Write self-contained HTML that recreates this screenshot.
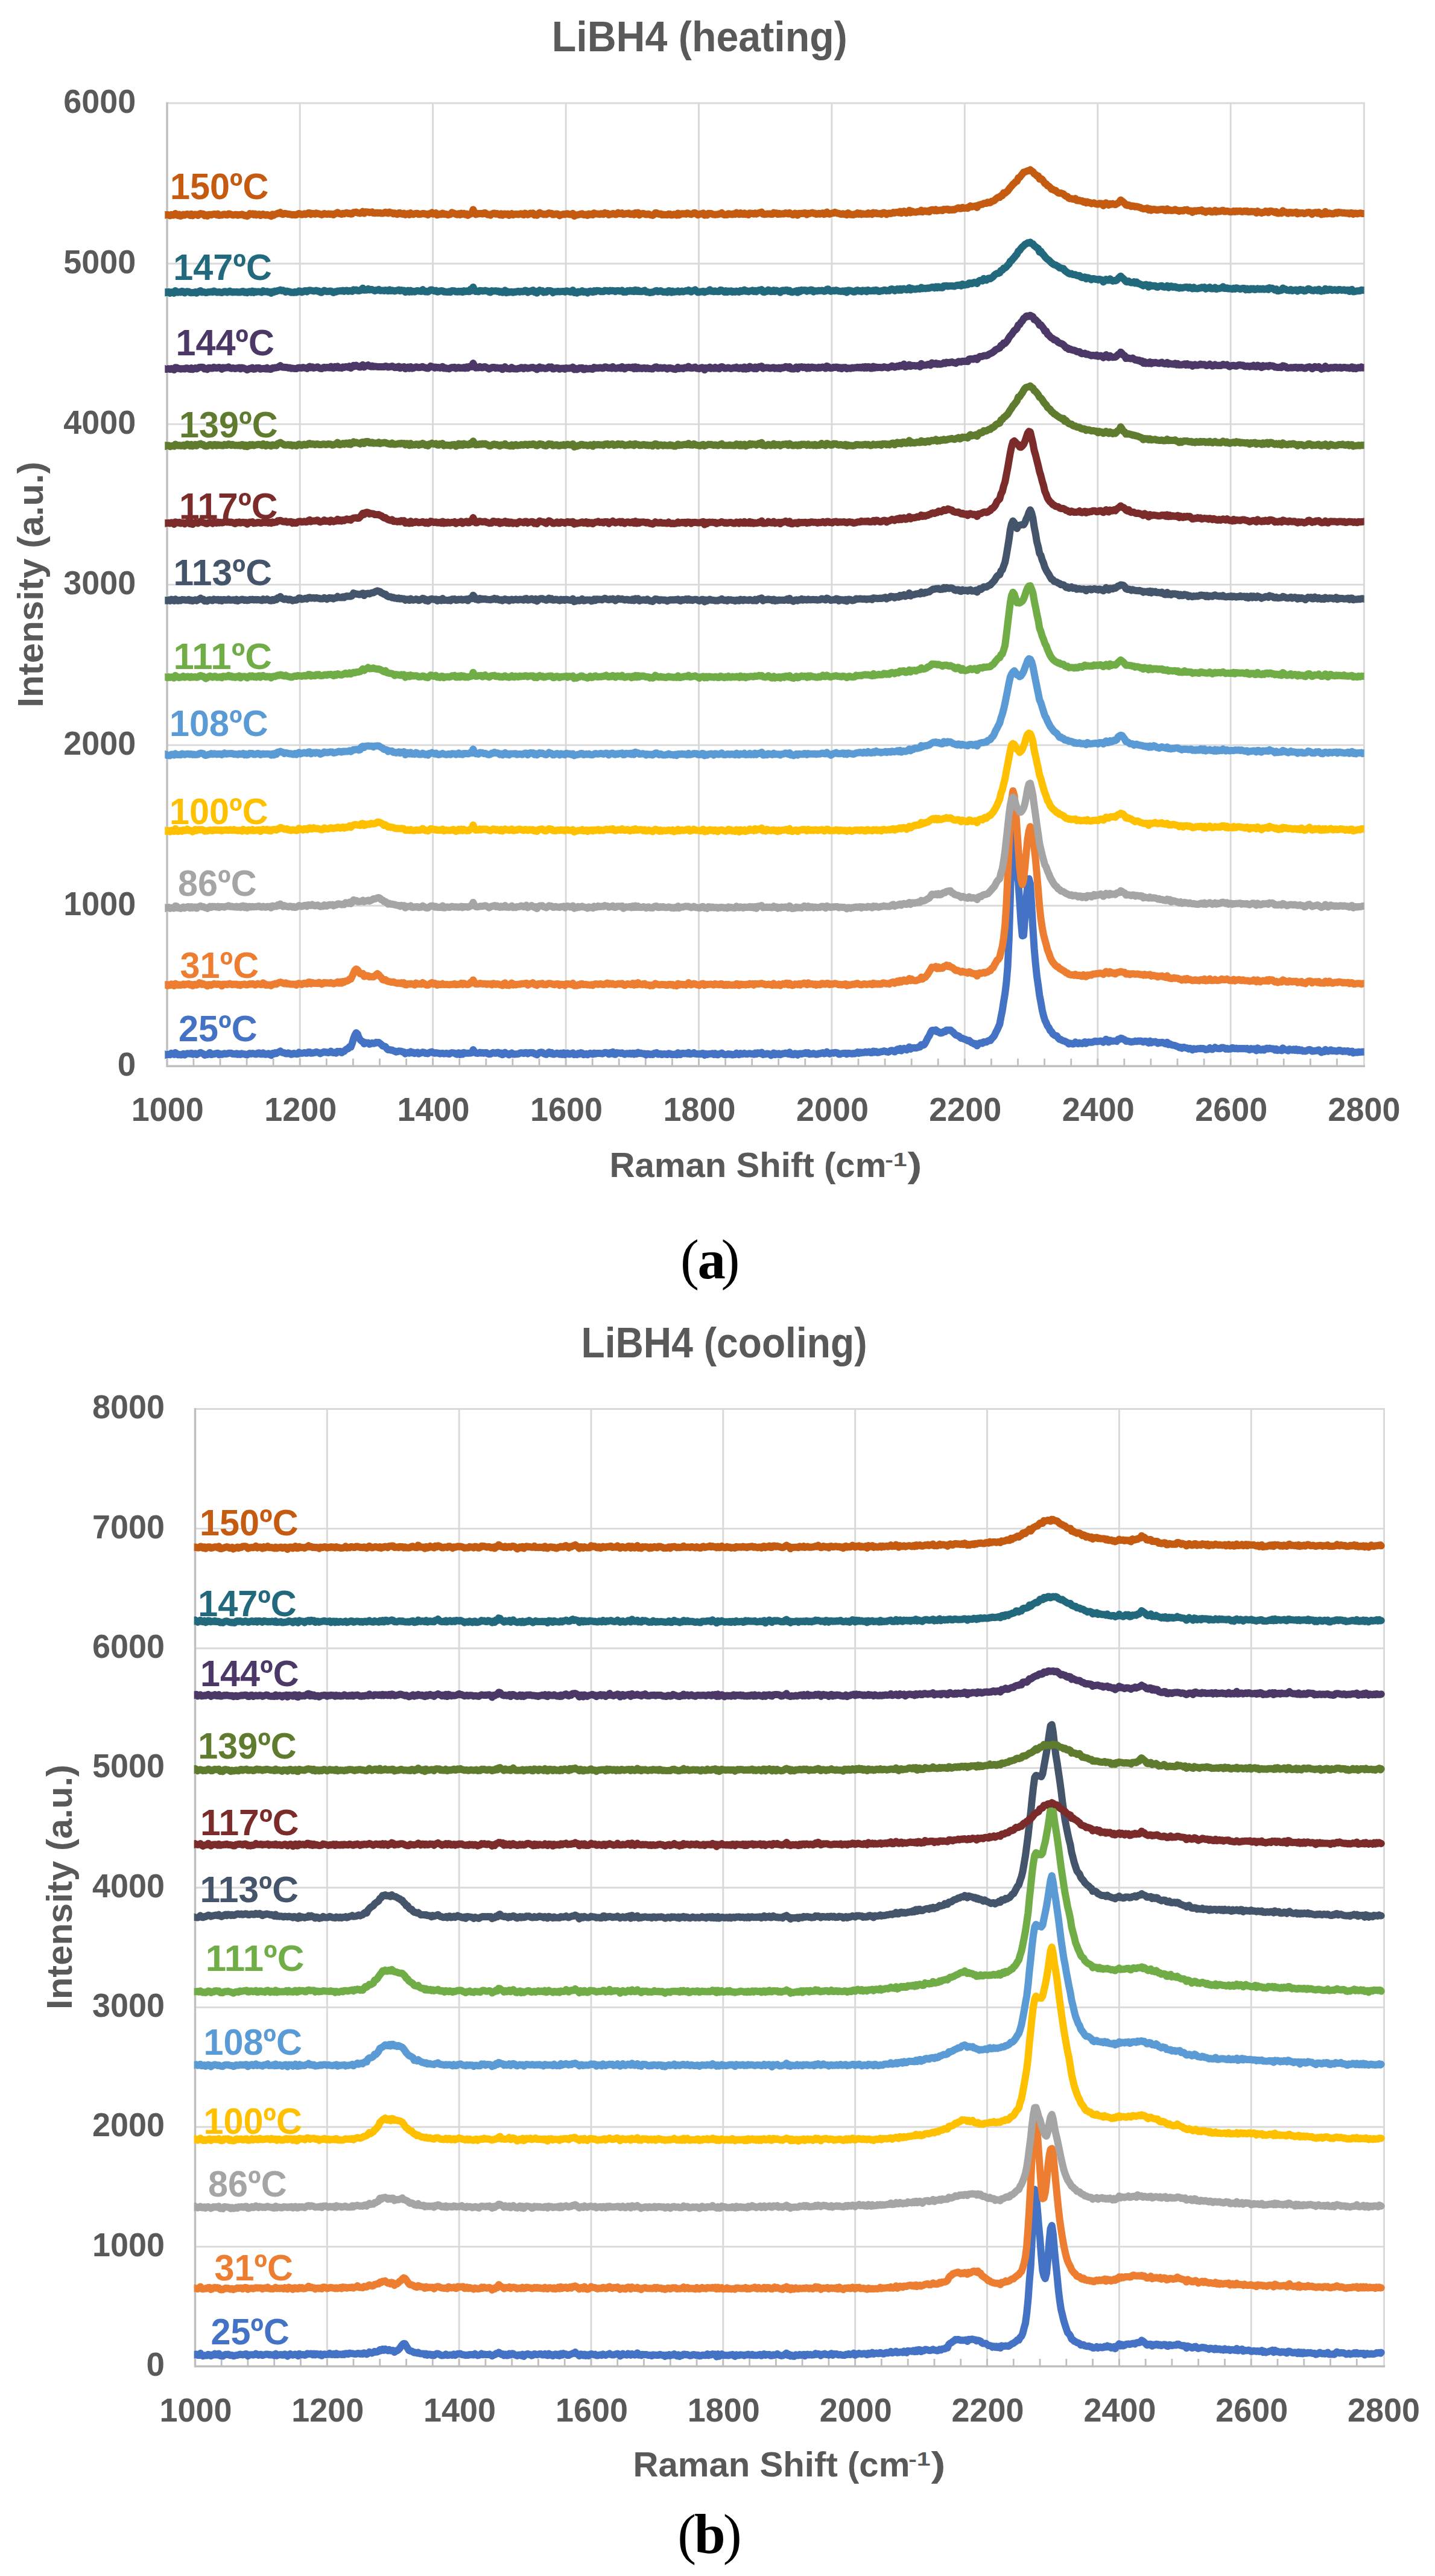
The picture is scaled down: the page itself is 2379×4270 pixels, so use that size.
<!DOCTYPE html>
<html><head><meta charset="utf-8"><title>LiBH4 Raman</title>
<style>html,body{margin:0;padding:0;background:#fff}svg{display:block}text{font-family:'Liberation Sans',sans-serif;font-weight:bold}.ser{font-family:"Liberation Serif",serif;font-weight:normal}</style></head><body>
<svg width="2379" height="4270" viewBox="0 0 2379 4270">
<rect width="2379" height="4270" fill="#fff"/>
<defs><clipPath id="ca"><rect x="273.3" y="100" width="1988.3" height="1700"/></clipPath><clipPath id="cb"><rect x="321.7" y="2300" width="2000" height="1650"/></clipPath></defs>
<g id="chartA">
<g stroke="#D9D9D9" stroke-width="2.9" fill="none">
<path d="M497.2 171.0V1767.2"/>
<path d="M717.6 171.0V1767.2"/>
<path d="M938.1 171.0V1767.2"/>
<path d="M1158.5 171.0V1767.2"/>
<path d="M1378.9 171.0V1767.2"/>
<path d="M1599.3 171.0V1767.2"/>
<path d="M1819.8 171.0V1767.2"/>
<path d="M2040.2 171.0V1767.2"/>
<path d="M2261.4 171.0V1767.2"/>
<path d="M277.0 1501.2H2261.4"/>
<path d="M277.0 1235.1H2261.4"/>
<path d="M277.0 969.1H2261.4"/>
<path d="M277.0 703.1H2261.4"/>
<path d="M277.0 437.0H2261.4"/>
<path d="M277.0 171.0H2263.0"/>
</g>
<g stroke="#BFBFBF" stroke-width="3.4" fill="none">
<path d="M277.0 169.4V1767.2H2263.0"/>
<path stroke-width="2.8" d="M320.9 1767.2v-12.5M365.0 1767.2v-12.5M409.1 1767.2v-12.5M453.1 1767.2v-12.5M497.2 1767.2v-12.5M541.3 1767.2v-12.5M585.4 1767.2v-12.5M629.5 1767.2v-12.5M673.6 1767.2v-12.5M717.6 1767.2v-12.5M761.7 1767.2v-12.5M805.8 1767.2v-12.5M849.9 1767.2v-12.5M894.0 1767.2v-12.5M938.1 1767.2v-12.5M982.2 1767.2v-12.5M1026.2 1767.2v-12.5M1070.3 1767.2v-12.5M1114.4 1767.2v-12.5M1158.5 1767.2v-12.5M1202.6 1767.2v-12.5M1246.7 1767.2v-12.5M1290.7 1767.2v-12.5M1334.8 1767.2v-12.5M1378.9 1767.2v-12.5M1423.0 1767.2v-12.5M1467.1 1767.2v-12.5M1511.2 1767.2v-12.5M1555.2 1767.2v-12.5M1599.3 1767.2v-12.5M1643.4 1767.2v-12.5M1687.5 1767.2v-12.5M1731.6 1767.2v-12.5M1775.7 1767.2v-12.5M1819.8 1767.2v-12.5M1863.8 1767.2v-12.5M1907.9 1767.2v-12.5M1952.0 1767.2v-12.5M1996.1 1767.2v-12.5M2040.2 1767.2v-12.5M2084.3 1767.2v-12.5M2128.3 1767.2v-12.5M2172.4 1767.2v-12.5M2216.5 1767.2v-12.5"/>
</g>
<g fill="none" stroke-width="12" stroke-linejoin="round" stroke-linecap="butt" clip-path="url(#ca)">
<path stroke="#4472C4" d="M268.6 1748.9l2.2-2.5 2.3 2.7 2.2-.7 2.2-.4 2.2-.3 2.2 .7 2.2-2.5 2.2 1 2.2 1 2.2-2.9 2.2 1.5 2.2 1.9 2.2-.5 2.2 .6 2.2 0 2.2-1.6 2.2 1.8 2.2-1.4 2.2-1 2.2 .3 2.2 .1 2.2-.9 2.2 1.8 2.2-.9 2.2-.4 2.3 1.7 2.2-1.3 2.2-.9 2.2-1 2.2 1.1 2.2 1 2.2 2 2.2-.5 2.2-.4 2.2-1.2 2.2-1.9 2.2 3.1 2.2-.4 2.2-.4 2.2-.5 2.2-.5 2.2-.5 2.2 2.5 2.2-1.1 2.2 .7 2.2-.8 2.2-.7 2.2 .6 2.3-.2 2.2-.9 2.2 0 2.2 0 2.2 1.2 2.2 .1 2.2 .2 2.2-1.1 2.2 1.6 2.2-.8 2.2 .9 2.2-1.5 2.2 .7 2.2 .1 2.2 .8 2.2 .4 2.2-1.4 2.2-1 2.2 .9 2.2-.9 2.2 .7 2.2 .5 2.2 .3 2.2-1.9 2.3-.4 2.2 2 2.2 .2 2.2-2.1 2.2 2 2.2 .5 2.2-.8 2.2-.6 2.2 1.7 2.2 1.1 2.2-3.1 2.2 .8 2.2-1.9 2.2 1.2 2.2-1.6 2.2-1 2.2-1.2 2.2 1.7 2.2 .9 2.2 .3 2.2 1.2 2.2 .1 2.2-1.3 2.2 .8 2.3 1.7 2.2-.4 2.2-1.4 2.2 .4 2.2 .9 2.2-.2 2.2-2.6 2.2 1.1 2.2 .3 2.2-.3 2.2-.7 2.2 .8 2.2 0 2.2-1.7 2.2 0 2.2 1.8 2.2-.2 2.2-.5 2.2-.3 2.2-1.1 2.2 .8 2.2 .5 2.2 1.4 2.3-1.1 2.2-1 2.2-.8 2.2 .9 2.2-.2 2.2 .8 2.2-.6 2.2-1.8 2.2 2.1 2.2 .4 2.2-.8 2.2 1.4 2.2-2.9 2.2 .4 2.2-.4 2.2 2.3 2.2-1.9 2.2-.5 2.2-2.4 2.2-1.4 2.2-.6 2.2-3.2 2.2 .4 2.2-5.6 2.3-8.2 2.2-5.8 2.2-4 2.2 2 2.2 5.9 2.2 3.6 2.2 2.2 2.2 .9 2.2 3.7 2.2-1.8 2.2 .6 2.2-.4 2.2 2.3 2.2-.7 2.2-1.3 2.2 .8 2.2-.3 2.2-1.6 2.2 .5 2.2-.3 2.2 1.8 2.2 1.7 2.2 2.2 2.2 .6 2.3 .7 2.2 3.1 2.2 2 2.2-.2 2.2 .9 2.2-.2 2.2 1.2 2.2 .5 2.2 1.4 2.2-.5 2.2-1 2.2 .2 2.2 .3 2.2 .9 2.2 .3 2.2 2.8 2.2-1.6 2.2-.4 2.2 .9 2.2-2.3 2.2 1.9 2.2-.6 2.2 1.6 2.3-1.1 2.2-.7 2.2 2.2 2.2-.9 2.2-.6 2.2-1 2.2 .5 2.2 1.4 2.2-.2 2.2 .6 2.2-1.5 2.2-.9 2.2-.4 2.2 1.6 2.2 .6 2.2-.7 2.2 .4 2.2 .3 2.2 .9 2.2-.5 2.2-.4 2.2 .9 2.2-.4 2.2-.5 2.3 .8 2.2 .4 2.2-1.3 2.2-.6 2.2 .3 2.2 .3 2.2 1.3 2.2 .7 2.2-2.4 2.2 2.8 2.2-2.2 2.2 1.7 2.2-2.7 2.2 .9 2.2 0 2.2 0 2.2-.1 2.2-.1 2.2-.5 2.2-5 2.2 3.3 2.2 2.1 2.2 .4 2.2-.2 2.3-1.2 2.2 1.1 2.2-.6 2.2 .7 2.2-.7 2.2 0 2.2 1.6 2.2 .7 2.2-.2 2.2-1.4 2.2-.9 2.2 .9 2.2 .1 2.2-1.1 2.2-.1 2.2 2 2.2-.9 2.2 2.6 2.2-2.6 2.2-1.1 2.2 2.1 2.2 0 2.2 1.7 2.3-1.5 2.2-1.4 2.2 2 2.2 .1 2.2-.3 2.2 0 2.2-.4 2.2-1.2 2.2-.5 2.2 .2 2.2 .8 2.2-1.3 2.2 0 2.2 1.7 2.2-1.4 2.2-.3 2.2 .3 2.2-.3 2.2 1.6 2.2 .8 2.2 1.1 2.2-1.9 2.2-1.7 2.2-.6 2.3 .2 2.2 2 2.2 .8 2.2 .7 2.2-2 2.2-2 2.2 2.4 2.2-1.3 2.2 2.6 2.2-.2 2.2-.7 2.2-1.1 2.2 .9 2.2 1 2.2-1.8 2.2 2.3 2.2-2.7 2.2 2.9 2.2-1.7 2.2-.9 2.2 1.9 2.2-.3 2.2-1.1 2.2-.7 2.3 2.8 2.2-.8 2.2 .8 2.2-2.2 2.2 1 2.2-2 2.2 .9 2.2 2.3 2.2-.5 2.2-.9 2.2 1.5 2.2-1.3 2.2-1.1 2.2 .9 2.2 .7 2.2-1.9 2.2 1.2 2.2-.7 2.2-.2 2.2 .2 2.2 .2 2.2 .4 2.2-.7 2.3-1.2 2.2 .2 2.2 .6 2.2 1.9 2.2-2.5 2.2 1.6 2.2-2.8 2.2 3.5 2.2 .5 2.2-2.7 2.2 .4 2.2-.1 2.2 .8 2.2-.9 2.2 1.4 2.2 .9 2.2-1.1 2.2-.3 2.2 .6 2.2-1 2.2 1.3 2.2-1.2 2.2 1.7 2.2-1.7 2.3 1 2.2-2.3 2.2 1.5 2.2-.5 2.2 .6 2.2 .7 2.2-.4 2.2 2 2.2-1.8 2.2 .2 2.2 1 2.2-.4 2.2 .5 2.2-1.8 2.2-.5 2.2-.7 2.2 2.6 2.2-.3 2.2-.6 2.2 1.3 2.2-.7 2.2-.2 2.2 .5 2.2 .4 2.3-1.8 2.2 .4 2.2 1.3 2.2-.2 2.2 .2 2.2-.5 2.2 1.1 2.2-3.3 2.2 2.6 2.2 .2 2.2-2.1 2.2 0 2.2 .6 2.2-.5 2.2 .7 2.2-1.9 2.2 2.5 2.2-.5 2.2-.4 2.2-1.3 2.2 1.7 2.2 .1 2.2 .3 2.3-.1 2.2 .2 2.2-1.1 2.2-.2 2.2 3.1 2.2-2.2 2.2 1.1 2.2-1 2.2-.1 2.2-.3 2.2-.3 2.2 1.6 2.2-1.8 2.2 1.8 2.2 .6 2.2-1.4 2.2-.4 2.2-1.1 2.2 1.4 2.2 1 2.2 .3 2.2-.6 2.2-.7 2.2 .7 2.3-.1 2.2 1 2.2-.6 2.2-.1 2.2-2.2 2.2 1.5 2.2 1 2.2-2.1 2.2 1.2 2.2-.3 2.2-1.1 2.2 1.2 2.2 .2 2.2-.7 2.2-.4 2.2 .7 2.2 0 2.2 .8 2.2-2 2.2 1.4 2.2-1.9 2.2 .4 2.2 .8 2.2-2 2.3 3.7 2.2-.7 2.2-.2 2.2-.7 2.2 .2 2.2 .9 2.2 1.7 2.2-1.3 2.2-2.5 2.2 2.7 2.2-1.7 2.2 1.2 2.2-1.4 2.2 1.9 2.2-.9 2.2-.8 2.2-.2 2.2-.8 2.2 .9 2.2 .7 2.2-2.8 2.2 3.5 2.2 .2 2.2 .3 2.3-2 2.2 .6 2.2 1.8 2.2-2 2.2-.3 2.2 .6 2.2-.6 2.2-.4 2.2-1 2.2 1.3 2.2-1.2 2.2 2.4 2.2-.5 2.2-.1 2.2-.9 2.2 1.1 2.2 .7 2.2-.3 2.2-1.3 2.2 .4 2.2-1 2.2-.5 2.2 1.5 2.3-.7 2.2-2.3 2.2 1.8 2.2 1.5 2.2-1 2.2-.6 2.2 .4 2.2-1 2.2 .1 2.2 .5 2.2 2.1 2.2 0 2.2-1 2.2-.3 2.2-.1 2.2-.3 2.2 1.6 2.2-1.5 2.2 .2 2.2 .4 2.2 .4 2.2-.8 2.2 .6 2.2-1 2.3-1.4 2.2 1.6 2.2-1.6 2.2 1 2.2-.5 2.2 0 2.2-1.2 2.2 1.1 2.2-.8 2.2-.3 2.2 1.4 2.2 .1 2.2-2.5 2.2 1.8 2.2-1.2 2.2 1.7 2.2-.3 2.2-.7 2.2-.6 2.2-.2 2.2-.9 2.2 .6 2.2 .8 2.2 .5 2.3-.8 2.2-1.8 2.2-.2 2.2 .8 2.2 1.6 2.2-2.7 2.2-1.5 2.2 1.7 2.2-3 2.2 3.6 2.2-3.1 2.2-.7 2.2 1.5 2.2 1 2.2-3 2.2-1.9 2.2 3.4 2.2-1.8 2.2-.2 2.2-.1 2.2 .4 2.2-.5 2.2-1.2 2.3 0 2.2-3.8 2.2 1 2.2-.5 2.2-3.2 2.2-4.2 2.2-4.7 2.2-3.1 2.2-5.1 2.2-3.9 2.2-.2 2.2 1.1 2.2-1.7 2.2 3.1 2.2-.2 2.2 2.1 2.2 .2 2.2-.7 2.2-2 2.2 .4 2.2-2.7 2.2 .3 2.2-.2 2.2 0 2.3 1.9 2.2 1.7 2.2 2.4 2.2 2.1 2.2 .8 2.2 .7 2.2 1.9 2.2 1.9 2.2 .1 2.2 1.1 2.2 .8 2.2 .9 2.2 1.4 2.2-.7 2.2 2.3 2.2 1.6 2.2 .8 2.2 1.4 2.2-.6 2.2 3.4 2.2-2.9 2.2-1.3 2.2-.5 2.2 .8 2.3-2.5 2.2 .5 2.2-.2 2.2-1.8 2.2-.6 2.2-.1 2.2-3.2 2.2-2.1 2.2-2.9 2.2-4.9 2.2-4 2.2-4.9 2.2-5 2.2-12 2.2-10.6 2.2-14.6 2.2-13.2 2.2-17.8 2.2-25.5 2.2-45.9 2.2-70.6 2.2-85.4 2.2-49.1 2.3 25.4 2.2 38.3 2.2 28.5 2.2 17.3 2.2 31.8 2.2 33.1 2.2 23.7 2.2-.7 2.2-28.4 2.2-31.8 2.2-22.4 2.2-11.2 2.2 8.1 2.2 34.8 2.2 38.8 2.2 34.1 2.2 25.1 2.2 20.7 2.2 15.1 2.2 16.7 2.2 11.4 2.2 12.6 2.2 9.4 2.2 7.4 2.3 4.8 2.2 5.1 2.2 2.7 2.2 4.8 2.2 1.8 2.2 3.8 2.2 1.8 2.2 1 2.2 .5 2.2 3.4 2.2 2.2 2.2 .2 2.2 1.6 2.2 .7 2.2 .5 2.2 1.3 2.2 1.1 2.2 2.1 2.2-1.1 2.2 .7 2.2 .7 2.2-.6 2.2-2.5 2.2 1.4 2.3 1.2 2.2-1.5 2.2 1 2.2 .3 2.2-1.4 2.2-1.3 2.2 2.5 2.2-1.8 2.2-.6 2.2 .4 2.2 .1 2.2-.5 2.2-.8 2.2-.8 2.2 .8 2.2-.2 2.2-.4 2.2-.4 2.2 .5 2.2 1.7 2.2-2.3 2.2-2.7 2.2 1.5 2.3 3.3 2.2-2.9 2.2 1.1 2.2 0 2.2-.1 2.2-.2 2.2 .7 2.2-3.3 2.2 .3 2.2-2.2 2.2 .4 2.2 1.4 2.2 .7 2.2 2.5 2.2-.5 2.2 .7 2.2 .5 2.2 .6 2.2-.4 2.2-.2 2.2-1 2.2 .7 2.2-.7 2.2 .1 2.3-.3 2.2 .8 2.2 1.1 2.2-1.4 2.2 .1 2.2 1.3 2.2 1.6 2.2-3.4 2.2 3 2.2-1.5 2.2 .3 2.2-.7 2.2 1.2 2.2 1.6 2.2-1.4 2.2 .5 2.2-.7 2.2 .3 2.2 1.5 2.2 .6 2.2-2.5 2.2 3.8 2.2-1.1 2.2 1.4 2.3 .6 2.2 .2 2.2 .7 2.2 .9 2.2 .7 2.2 1.5 2.2-.5 2.2 1.7 2.2-1.5 2.2 0 2.2 1 2.2 .2 2.2 1.4 2.2-1 2.2 .7 2.2 2 2.2-2 2.2 .6 2.2-.1 2.2-.7 2.2 .1 2.2-.5 2.2 .5 2.3-.3 2.2 .7 2.2 1.3 2.2-.4 2.2-.5 2.2-2.1 2.2 1.7 2.2 .8 2.2-1.6 2.2-1.7 2.2 1.3 2.2 .6 2.2 .2 2.2 0 2.2-1.9 2.2 0 2.2 .7 2.2 1.8 2.2-1.1 2.2 1.3 2.2-.6 2.2 .2 2.2-1.9 2.2 .6 2.3 .9 2.2-.7 2.2 1 2.2-.6 2.2 .2 2.2-.2 2.2 .3 2.2-.4 2.2 .7 2.2-.7 2.2 1.6 2.2 .6 2.2-1.9 2.2 1.1 2.2-.7 2.2-.1 2.2 3.1 2.2-4.3 2.2 1.5 2.2 1.6 2.2 0 2.2-1.3 2.2 1.5 2.2-2 2.3-1 2.2 1.1 2.2-1.1 2.2 .6 2.2 .3 2.2 0 2.2 2 2.2-1.7 2.2 2.3 2.2-.7 2.2 .1 2.2 .8 2.2-4.1 2.2 2.2 2.2 .8 2.2 .5 2.2 .9 2.2-2.6 2.2 .8 2.2 .9 2.2-1.4 2.2 1.6 2.2-1.7 2.3 2.1 2.2-1.5 2.2 1.6 2.2-.8 2.2 1.8 2.2-.3 2.2 .4 2.2-.9 2.2-1.3 2.2-.6 2.2 .9 2.2 2 2.2-.3 2.2-.5 2.2 0 2.2-.8 2.2-.6 2.2 2.4 2.2 1.6 2.2-1.6 2.2 .5 2.2-3.5 2.2 2.4 2.2 .5 2.3-1.3 2.2-1.1 2.2 1.7 2.2-.4 2.2 .4 2.2 .4 2.2 0 2.2-1.3 2.2-.1 2.2 1.2 2.2 .7 2.2-1 2.2 .8 2.2-.4 2.2-.4 2.2 2 2.2-.9 2.2-.5 2.2 2.9 2.2-1 2.2-.1 2.2 .4 2.2-1.1 2.2 .5 2.3-.3 2.2-.3 4.4 .5"/>
<path stroke="#ED7D31" d="M268.6 1634.6l2.2-2.6 2.3 .9 2.2-.8 2.2 1.7 2.2-1.6 2.2 .9 2.2-1.8 2.2 1.3 2.2 1.5 2.2-3.6 2.2 1.3 2.2 1.1 2.2-.6 2.2 .6 2.2-.5 2.2-1.2 2.2 1.5 2.2-1.1 2.2 0 2.2-.8 2.2 1.8 2.2-.7 2.2 2.2 2.2-1.9 2.2-.5 2.3 1 2.2-1.1 2.2-2.5 2.2 .5 2.2 2.2 2.2-.9 2.2 1.3 2.2 .1 2.2 2.1 2.2-2.2 2.2-.3 2.2 1.2 2.2-1 2.2-1.3 2.2 .3 2.2 .7 2.2-.5 2.2 .3 2.2 .1 2.2 2.6 2.2-2.8 2.2 .1 2.2 .1 2.3 .5 2.2-1.1 2.2-.6 2.2 1.2 2.2 .6 2.2-.9 2.2 .3 2.2-.1 2.2 1.2 2.2-.7 2.2 1.3 2.2-1.5 2.2-.2 2.2-.4 2.2 1 2.2 .3 2.2-.7 2.2-1.1 2.2 .6 2.2-.7 2.2 .8 2.2 1.2 2.2-1 2.2-1.2 2.3 .5 2.2 .9 2.2 .1 2.2-2.6 2.2 1.3 2.2 2.2 2.2-.6 2.2 .5 2.2-.3 2.2 1.4 2.2-2.1 2.2 0 2.2-1.2 2.2 .9 2.2-1.6 2.2-1.1 2.2-.7 2.2 .6 2.2 1 2.2 .8 2.2-1.2 2.2 1.6 2.2-.4 2.2 .6 2.3 .4 2.2 .1 2.2 0 2.2-.1 2.2 1.3 2.2-2.2 2.2-.7 2.2 1 2.2 1.1 2.2-1.7 2.2-.5 2.2 .8 2.2 .3 2.2-2.7 2.2-.3 2.2 2.9 2.2-2 2.2 1 2.2 .3 2.2-.4 2.2 .5 2.2-1.7 2.2 .8 2.3 2.1 2.2-1.1 2.2-1.5 2.2 .7 2.2-.3 2.2 .2 2.2 .4 2.2-1 2.2 1.1 2.2 .9 2.2-1.2 2.2 0 2.2-2 2.2 2 2.2-1.8 2.2 2 2.2-2.7 2.2 1 2.2-1.8 2.2-.2 2.2-.9 2.2-2.2 2.2-.1 2.2-4.5 2.3-5.2 2.2-4.9 2.2-1.9 2.2 1.1 2.2 3.4 2.2 3.1 2.2 .3 2.2-.4 2.2 4.6 2.2-1.7 2.2 1 2.2-.3 2.2 1.8 2.2-.5 2.2 .4 2.2 0 2.2-1.5 2.2-1.8 2.2-1.9 2.2 1.9 2.2 2.7 2.2 1.9 2.2 3.3 2.2 .8 2.3-.6 2.2 1.9 2.2 .9 2.2 .3 2.2 .7 2.2 .3 2.2-.5 2.2 1.1 2.2 .7 2.2 .5 2.2-.5 2.2 .7 2.2-1 2.2 1.6 2.2-1.6 2.2 3.2 2.2 .1 2.2-1.3 2.2 .1 2.2-.5 2.2 .3 2.2 .6 2.2 1.2 2.3-3.3 2.2 1.5 2.2 0 2.2 .1 2.2 .3 2.2-2.4 2.2 1.1 2.2 1.7 2.2 1 2.2 0 2.2-1 2.2-1.9 2.2-1 2.2 2.5 2.2-1.5 2.2 .8 2.2 2.1 2.2-1.5 2.2 .6 2.2 .2 2.2-1.5 2.2 1.5 2.2 0 2.2-.4 2.3 .4 2.2 .3 2.2-.4 2.2-.2 2.2-.1 2.2-1 2.2 1.5 2.2-.3 2.2-.2 2.2-.2 2.2-1.6 2.2 1.9 2.2-1.8 2.2 1 2.2 .8 2.2 .2 2.2-.6 2.2-2.8 2.2 .5 2.2-4.7 2.2 4.3 2.2 2.3 2.2-.1 2.2 0 2.3-1 2.2 .6 2.2 .4 2.2-.2 2.2 .1 2.2 .9 2.2-.7 2.2 .3 2.2-.2 2.2 1.3 2.2-2.2 2.2 .5 2.2 1.1 2.2-.8 2.2 .3 2.2 .8 2.2 .5 2.2 .9 2.2-3 2.2-1 2.2 3.4 2.2-.6 2.2 1.1 2.3-2.1 2.2-1.8 2.2 3.2 2.2-1.2 2.2 .9 2.2-.6 2.2-.2 2.2 0 2.2-.9 2.2 .1 2.2-.2 2.2-.4 2.2-.4 2.2 3 2.2-1.3 2.2-.9 2.2 0 2.2-1.5 2.2 2.6 2.2 .7 2.2 .9 2.2-2.4 2.2-.2 2.2 .3 2.3-1 2.2 2.1 2.2-.2 2.2 .4 2.2-1.7 2.2-.4 2.2 0 2.2 .7 2.2 .8 2.2 .5 2.2-1 2.2-.2 2.2 .1 2.2 2.2 2.2-1.7 2.2 .2 2.2 .2 2.2 1.5 2.2-2.4 2.2-.1 2.2 .2 2.2 .2 2.2 .5 2.2-2.1 2.3 4 2.2-.3 2.2 .3 2.2-1.6 2.2 .6 2.2-1.8 2.2-.3 2.2 1.4 2.2 0 2.2-.3 2.2 .8 2.2 0 2.2 .3 2.2-.7 2.2 1.1 2.2-1.7 2.2-.7 2.2 .2 2.2 .7 2.2-.7 2.2-.2 2.2 .9 2.2 .3 2.3-.6 2.2-1.2 2.2-.8 2.2 2 2.2-1.2 2.2 .9 2.2-.7 2.2 1.1 2.2 .5 2.2-.6 2.2-.7 2.2-.1 2.2 .3 2.2-.6 2.2 1.8 2.2 1 2.2-1 2.2-1.3 2.2 .5 2.2 .3 2.2 .3 2.2-1.9 2.2 2.8 2.2-2.7 2.3 2 2.2-3.3 2.2 2.7 2.2-.2 2.2 .9 2.2-1.3 2.2-.4 2.2 2.1 2.2-.3 2.2 .2 2.2 1.4 2.2-.9 2.2 .6 2.2-1.5 2.2-1.9 2.2 1.2 2.2 .4 2.2 .7 2.2-.3 2.2-.5 2.2 .4 2.2-.2 2.2 1 2.2 .1 2.3-1.4 2.2 0 2.2 .8 2.2-.5 2.2 1.7 2.2-.8 2.2 1.3 2.2-3.7 2.2 2 2.2-.9 2.2 .2 2.2 .6 2.2-.5 2.2 1 2.2-1.3 2.2-2.5 2.2 2.3 2.2 1.2 2.2-1.2 2.2-.9 2.2 .6 2.2 1.1 2.2 .3 2.3 .9 2.2-1.4 2.2-1.2 2.2-.3 2.2 2.6 2.2-1.4 2.2 .3 2.2-.2 2.2-.2 2.2-.1 2.2 .5 2.2 .7 2.2-1.8 2.2 .9 2.2 0 2.2 .5 2.2-1.3 2.2 0 2.2 1.8 2.2 .4 2.2-1.4 2.2 1.4 2.2-1.4 2.2 .7 2.3 .3 2.2 .1 2.2-.5 2.2 .6 2.2-2.2 2.2 .2 2.2 2.6 2.2-2.2 2.2 .3 2.2 .6 2.2-.4 2.2 .9 2.2-1.4 2.2 .7 2.2-1.6 2.2 1.1 2.2-.7 2.2 1.8 2.2-2 2.2 .2 2.2 0 2.2 .2 2.2-.7 2.2-.3 2.3 1 2.2 .2 2.2 1.1 2.2-.4 2.2-.5 2.2 .4 2.2 .6 2.2 .6 2.2-2.9 2.2 2.6 2.2-.1 2.2 0 2.2-1.3 2.2 2.1 2.2-1.3 2.2-1.3 2.2 .8 2.2-1.7 2.2-.2 2.2 2.7 2.2-2.5 2.2 2.5 2.2 .9 2.2-.5 2.3-1.7 2.2 .2 2.2 .8 2.2-1.3 2.2 1.7 2.2-1.9 2.2 .1 2.2-1.3 2.2 1.2 2.2 1.3 2.2-2.8 2.2 2.1 2.2-.2 2.2-.2 2.2 1.2 2.2-.7 2.2 1.6 2.2-1.4 2.2 .4 2.2 .4 2.2-2.2 2.2 0 2.2 1.1 2.3 .2 2.2-1.6 2.2 .1 2.2 1.9 2.2-.9 2.2 .6 2.2-.7 2.2-.7 2.2 .5 2.2 .6 2.2 1 2.2-.6 2.2 .8 2.2-.3 2.2-.5 2.2-.7 2.2 2.7 2.2-1.7 2.2 1 2.2-.5 2.2-.7 2.2-.4 2.2 .3 2.2-1.1 2.3-.6 2.2 1.4 2.2 .7 2.2 .3 2.2-.8 2.2-.7 2.2 .4 2.2 .7 2.2-.5 2.2-.5 2.2 .1 2.2 1.1 2.2-2.4 2.2 1.6 2.2-.9 2.2 .9 2.2-.6 2.2 .7 2.2-.2 2.2-1.8 2.2-.2 2.2 .8 2.2 .6 2.2-.4 2.3 .8 2.2-1.9 2.2-.9 2.2-.6 2.2 2.2 2.2-2.1 2.2-1.3 2.2 2 2.2-3.2 2.2 2.2 2.2-1.5 2.2-1.6 2.2 1.9 2.2 .4 2.2-1.2 2.2-3.4 2.2 3.3 2.2-2.1 2.2 1.6 2.2 .6 2.2 .1 2.2-.9 2.2-.7 2.3-.6 2.2-3.7 2.2 3.2 2.2-2.9 2.2 0 2.2-2.7 2.2-2.7 2.2-3.9 2.2-3.3 2.2-4 2.2 .4 2.2-.4 2.2-1.4 2.2 3.6 2.2-2.7 2.2 2.4 2.2-.8 2.2 .5 2.2-3 2.2-.3 2.2-1.7 2.2 1.9 2.2-1.2 2.2 2.1 2.3 .5 2.2 1.6 2.2 2 2.2 1.9 2.2-.6 2.2 1.1 2.2 .9 2.2 1.3 2.2-1.5 2.2 1.2 2.2 0 2.2 1 2.2 .8 2.2-2.2 2.2 1 2.2 1.7 2.2 .1 2.2 1.2 2.2-.8 2.2 3.8 2.2-4 2.2-1.1 2.2 .9 2.2-.7 2.3-1.1 2.2 1.1 2.2-1.5 2.2-.2 2.2-2.2 2.2 0 2.2-3.7 2.2-1 2.2-4.8 2.2-3.5 2.2-4.2 2.2-1.5 2.2-3.4 2.2-9.7 2.2-7.8 2.2-14.9 2.2-19.2 2.2-33.1 2.2-47.6 2.2-51.5 2.2-46.8 2.2-31.3 2.2-14.1 2.3 8 2.2 23.6 2.2 32.3 2.2 31.2 2.2 31.3 2.2 19.9 2.2 8.9 2.2-7.8 2.2-21 2.2-24 2.2-22.1 2.2-13.7 2.2-7.2 2.2 4.9 2.2 10.4 2.2 19.7 2.2 19 2.2 25.8 2.2 26 2.2 27.1 2.2 19.6 2.2 14.9 2.2 11.5 2.2 8.7 2.3 8 2.2 9 2.2 5 2.2 6.9 2.2 4.8 2.2 3.5 2.2 2.7 2.2 2.5 2.2 1.8 2.2 .7 2.2 2.7 2.2 .9 2.2 1.6 2.2 1 2.2 1.5 2.2 2.1 2.2 .3 2.2 2.3 2.2 .4 2.2 .5 2.2-.2 2.2 .9 2.2-1.7 2.2 1.9 2.3-.1 2.2-.4 2.2 1.3 2.2 .5 2.2-2.3 2.2 1.2 2.2 1.7 2.2-2.6 2.2 .6 2.2-1 2.2 .6 2.2-1.6 2.2-.5 2.2 .2 2.2-.8 2.2 .1 2.2-.6 2.2 0 2.2 .6 2.2 1.2 2.2-2.3 2.2-2.3 2.2 1.9 2.3 1.3 2.2-3 2.2 1.4 2.2 1.2 2.2-.6 2.2 1.9 2.2-2.2 2.2-.9 2.2 .2 2.2-1.1 2.2 .5 2.2 .6 2.2 0 2.2 3 2.2-.1 2.2-.5 2.2 1.4 2.2-1.2 2.2 0 2.2 0 2.2 .5 2.2-.2 2.2 0 2.2 .4 2.3 .6 2.2-.2 2.2 1.2 2.2-1.5 2.2 1.3 2.2-.5 2.2 .2 2.2-.8 2.2 2.5 2.2-.8 2.2 0 2.2 .8 2.2-.1 2.2 1.7 2.2-1.1 2.2 0 2.2-.7 2.2 1.3 2.2 .6 2.2 .6 2.2-2.6 2.2 3.6 2.2-.4 2.2 1.4 2.3-.3 2.2-1 2.2 .9 2.2-.4 2.2 .4 2.2 1.2 2.2 .3 2.2 1.4 2.2-.8 2.2-1.1 2.2 1.9 2.2-2.5 2.2 1.8 2.2-.4 2.2 1 2.2 .9 2.2-.4 2.2-.8 2.2 .8 2.2-.2 2.2 .9 2.2-1.6 2.2-.2 2.3 1 2.2-2.2 2.2 3 2.2-.4 2.2-.2 2.2-2.5 2.2 2.6 2.2 .1 2.2-.2 2.2-1.5 2.2 1.4 2.2 .2 2.2-.3 2.2-.5 2.2-1.6 2.2 1.1 2.2-.1 2.2 .3 2.2-1.2 2.2 1.1 2.2 1.3 2.2 0 2.2 .2 2.2-1.9 2.3 2.2 2.2-1.4 2.2 0 2.2-.7 2.2 1.3 2.2 .3 2.2-1 2.2 1.2 2.2 0 2.2 0 2.2 .3 2.2 .8 2.2-.7 2.2 .2 2.2-1.7 2.2 1.5 2.2 1.6 2.2-3 2.2 1.2 2.2 1.8 2.2-1.2 2.2-.7 2.2 .1 2.2 .3 2.3-1.6 2.2 2.2 2.2-2.8 2.2 1 2.2-.6 2.2 2.1 2.2 1.4 2.2-.8 2.2 1.7 2.2-.9 2.2-.6 2.2 .5 2.2-3.3 2.2 1.2 2.2 1 2.2 1.3 2.2-.1 2.2-1.7 2.2 .8 2.2 .7 2.2-.8 2.2 .4 2.2-.6 2.3 2.3 2.2-1.1 2.2 .7 2.2-1.5 2.2 2.6 2.2-.2 2.2 1.1 2.2-2.5 2.2-1.3 2.2-.4 2.2 .5 2.2 2.6 2.2-1.6 2.2-.3 2.2-.1 2.2 1.3 2.2-1.6 2.2 2.4 2.2 .2 2.2-.6 2.2 .6 2.2-3 2.2 1.6 2.2 .9 2.3-2.5 2.2 1.7 2.2 1.4 2.2 0 2.2-1.3 2.2-.1 2.2 .4 2.2-1.1 2.2 .1 2.2 .6 2.2 .9 2.2-.6 2.2 .4 2.2 .1 2.2-.5 2.2 1.8 2.2-1.3 2.2-.2 2.2 2 2.2 .1 2.2-.4 2.2-.3 2.2-.2 2.2 .2 2.3 .9 2.2-.7 4.4-.4"/>
<path stroke="#A5A5A5" d="M268.6 1506.3l2.2-2.6 2.3 2.2 2.2-1.6 2.2 .3 2.2-.6 2.2 1.8 2.2-1 2.2 .3 2.2 .4 2.2-3.8 2.2 .6 2.2 2.9 2.2-.4 2.2 1.2 2.2-1.2 2.2-1.2 2.2 1.7 2.2-1.2 2.2-.8 2.2-.3 2.2 2.2 2.2-2.2 2.2 1.9 2.2-1.1 2.2-.2 2.3 2 2.2-2.1 2.2-.7 2.2-1 2.2 1.3 2.2-.2 2.2 1.4 2.2 .3 2.2 1.2 2.2-1.6 2.2-1.5 2.2 1.3 2.2-1.4 2.2 .5 2.2-.3 2.2 .8 2.2-1.1 2.2 1.7 2.2-1.3 2.2 0 2.2 .3 2.2 .5 2.2-1.1 2.3-.3 2.2-1 2.2 1.5 2.2-.3 2.2 .3 2.2 .5 2.2 .2 2.2-1 2.2 1.3 2.2-.7 2.2 1 2.2-2.2 2.2-.3 2.2 2.6 2.2-2 2.2 2.7 2.2-2.1 2.2-.1 2.2 .8 2.2-.8 2.2 .6 2.2-.2 2.2-.1 2.2-.6 2.3-.4 2.2 1.4 2.2 .3 2.2-1.2 2.2 .8 2.2 .5 2.2-1 2.2 .2 2.2-.3 2.2 2 2.2-3.1 2.2 1.2 2.2-.8 2.2 .4 2.2-2.2 2.2 .9 2.2-2.5 2.2 2 2.2 2 2.2-1.5 2.2 1.1 2.2 .5 2.2 .5 2.2-1 2.3 .2 2.2 1.3 2.2-.9 2.2 1.3 2.2-.6 2.2-1 2.2-1.4 2.2 .6 2.2 .8 2.2-.5 2.2-1.1 2.2-.2 2.2 1.5 2.2-2.2 2.2 .4 2.2 .5 2.2-1.5 2.2 1.5 2.2 .6 2.2-.7 2.2-.5 2.2 1.5 2.2 .9 2.3-.6 2.2 .1 2.2-2 2.2 1.3 2.2 .4 2.2-1.6 2.2-.7 2.2 .7 2.2-.7 2.2 1.8 2.2-1.5 2.2 .2 2.2-1.6 2.2-.2 2.2 .6 2.2 .7 2.2-.9 2.2 .7 2.2-3.1 2.2 .6 2.2 .7 2.2-2 2.2 2.3 2.2-2.7 2.3-3.4 2.2 1.6 2.2-.7 2.2 1.6 2.2 .5 2.2-.6 2.2-.6 2.2-1.2 2.2 2.3 2.2-1.3 2.2-.1 2.2-.9 2.2 1.4 2.2-1.2 2.2-1.1 2.2-1.6 2.2 .4 2.2-.9 2.2-1.1 2.2-.4 2.2 1.1 2.2 2.5 2.2 .5 2.2 2.5 2.3-.1 2.2 2 2.2 2.2 2.2-1 2.2 1.2 2.2-.1 2.2 .5 2.2 .3 2.2 .7 2.2 .6 2.2 .1 2.2 1.5 2.2-1.5 2.2 1.1 2.2-.8 2.2 3.5 2.2-2.2 2.2 .2 2.2-.1 2.2-1.1 2.2 2.5 2.2-.1 2.2-.6 2.3 .1 2.2-.5 2.2 1.4 2.2-.7 2.2 .1 2.2-2.1 2.2 1.3 2.2 1.4 2.2 .8 2.2-.3 2.2-1.6 2.2-1.2 2.2-.4 2.2 .3 2.2 1.8 2.2-1.1 2.2 1.4 2.2 0 2.2-.2 2.2 .4 2.2-2.7 2.2 3.3 2.2-.3 2.2-.9 2.3-.2 2.2 .7 2.2-.6 2.2-1 2.2 .6 2.2 .4 2.2-.2 2.2 .1 2.2 .4 2.2-.3 2.2-1 2.2 1.8 2.2-1.2 2.2 .1 2.2-.1 2.2 .7 2.2-.6 2.2-1.7 2.2-.3 2.2-5.3 2.2 4.9 2.2 2.1 2.2 .3 2.2-.1 2.3-.8 2.2-.1 2.2 0 2.2-.4 2.2-.6 2.2 .8 2.2 1.2 2.2 1.4 2.2-1.2 2.2-1.2 2.2-.4 2.2-.7 2.2 1.8 2.2-1.4 2.2 1.6 2.2 .9 2.2-1.6 2.2 1.3 2.2-.6 2.2-2.1 2.2 2.7 2.2-.2 2.2 .5 2.3-.9 2.2-1.3 2.2 2.5 2.2-.8 2.2 .7 2.2-1.2 2.2 .1 2.2-.4 2.2-1.2 2.2 .8 2.2 .9 2.2-1.3 2.2-1.3 2.2 3.8 2.2-1.4 2.2-.5 2.2-1.5 2.2 1.6 2.2 1.5 2.2-1.2 2.2 3.2 2.2-3.2 2.2-1.3 2.2 0 2.3-.3 2.2 1.8 2.2 .4 2.2 1 2.2-1.4 2.2-1.8 2.2 .7 2.2-.1 2.2 2 2.2-.1 2.2-1.1 2.2 .7 2.2 .2 2.2 .5 2.2-1.1 2.2 .1 2.2-.7 2.2 2.3 2.2-2 2.2-.9 2.2 .8 2.2 1 2.2-.1 2.2-2.1 2.3 4.3 2.2-1.6 2.2 .5 2.2-1.8 2.2 1 2.2-.6 2.2-1 2.2 1.2 2.2 .4 2.2 .7 2.2 .9 2.2-2.1 2.2 1.1 2.2-.5 2.2 1.2 2.2-2.7 2.2 1.3 2.2-.1 2.2-1.7 2.2 1.1 2.2-.2 2.2-.5 2.2 .4 2.3-1.6 2.2 .7 2.2 .2 2.2 1.8 2.2-.7 2.2-.5 2.2-1.1 2.2 2.3 2.2 .2 2.2-1.5 2.2-.3 2.2 .3 2.2 .3 2.2-.9 2.2 3.8 2.2-1.3 2.2-1.2 2.2 .3 2.2 0 2.2-.7 2.2 1.5 2.2-2.4 2.2 2.3 2.2-2.7 2.3 2.6 2.2-2 2.2 2 2.2-.1 2.2 .1 2.2-1.2 2.2 .7 2.2 1.5 2.2-1.4 2.2-.4 2.2 1.4 2.2 0 2.2 .4 2.2-2.2 2.2-.7 2.2-.2 2.2 2.1 2.2 .1 2.2-1.1 2.2 .7 2.2-.8 2.2 1 2.2 .3 2.2-.2 2.3-.8 2.2 .6 2.2 1.1 2.2-.8 2.2 1.1 2.2-1.2 2.2 .8 2.2-2.8 2.2 2.9 2.2-1.2 2.2-.2 2.2-.2 2.2-.7 2.2-.4 2.2 .4 2.2-.3 2.2 1.2 2.2 .8 2.2-.6 2.2-1.2 2.2 1.4 2.2 .2 2.2 .4 2.3 .5 2.2-.3 2.2-1.8 2.2-.2 2.2 2.1 2.2-.4 2.2 1.3 2.2-2.7 2.2 .2 2.2 1.2 2.2-1 2.2 .7 2.2 .1 2.2-.2 2.2 1.1 2.2-1 2.2 .2 2.2-.6 2.2 .5 2.2 .6 2.2-.5 2.2 1 2.2-2.1 2.2 1.1 2.3-.5 2.2 .8 2.2 .1 2.2 .2 2.2-2.6 2.2 1.4 2.2 .7 2.2-1.3 2.2 .8 2.2 .9 2.2-1.4 2.2 .5 2.2-.2 2.2 .1 2.2-1 2.2 1.4 2.2-1.2 2.2 1.6 2.2-1.8 2.2 2.8 2.2-3.4 2.2 0 2.2-.6 2.2-.7 2.3 3.4 2.2-.4 2.2 .1 2.2-.6 2.2 .6 2.2-.5 2.2 .8 2.2 0 2.2-2.1 2.2 1.6 2.2-.5 2.2 2.4 2.2-1.7 2.2 .9 2.2-1.5 2.2 .6 2.2-.3 2.2-.3 2.2 .2 2.2 1.3 2.2-3.3 2.2 2 2.2 2.3 2.2-.4 2.3-.1 2.2-2 2.2 1 2.2-.2 2.2 .1 2.2 .7 2.2-1.7 2.2-1.6 2.2 1.6 2.2 .9 2.2-2.3 2.2 2.3 2.2-.8 2.2-.2 2.2 1.3 2.2-1 2.2 .4 2.2 .5 2.2-.5 2.2 .1 2.2-1.6 2.2 0 2.2 .8 2.3 2 2.2-3.5 2.2 1.2 2.2 .2 2.2 .9 2.2-.9 2.2 .3 2.2-.4 2.2-.1 2.2 .1 2.2 1.4 2.2-.8 2.2 .1 2.2 .3 2.2-.1 2.2 .8 2.2 1.5 2.2-1.9 2.2 .1 2.2 1.2 2.2-1.1 2.2-.1 2.2-.6 2.2-.4 2.3 .4 2.2-.4 2.2-.4 2.2 1.8 2.2-1.6 2.2 .5 2.2-.2 2.2 .5 2.2-1.5 2.2 .7 2.2-.1 2.2 1.4 2.2-2.5 2.2 1.2 2.2-1.1 2.2 1.1 2.2 .6 2.2-.7 2.2-.7 2.2 0 2.2-.9 2.2 .7 2.2 .1 2.2 0 2.3 .2 2.2-.8 2.2-1.9 2.2-.7 2.2 2.9 2.2-1.3 2.2-.3 2.2-1 2.2-.9 2.2 1.8 2.2-1.7 2.2-1 2.2 1.1 2.2 .3 2.2-1.6 2.2-1.5 2.2 3 2.2-2.5 2.2-.1 2.2 .6 2.2-.8 2.2 .1 2.2-1.3 2.3 .9 2.2-3.2 2.2 .7 2.2-.1 2.2-.9 2.2-1.5 2.2-1.2 2.2-1 2.2-3 2.2-3.4 2.2 .1 2.2 .7 2.2-1.2 2.2 1.4 2.2-2 2.2 2 2.2-.6 2.2-1.9 2.2-1.2 2.2 .1 2.2-2.1 2.2-.3 2.2-.5 2.2-.2 2.3 3.3 2.2 .4 2.2 2.4 2.2 .6 2.2 .6 2.2 .5 2.2 1.1 2.2 2 2.2-1.6 2.2 .6 2.2 1.4 2.2 .5 2.2 .5 2.2-2.2 2.2 1.6 2.2 .5 2.2-.9 2.2 .8 2.2 .2 2.2 2.3 2.2-4.2 2.2-.9 2.2 .2 2.2-2.1 2.3-1.1 2.2-.1 2.2-.9 2.2-.7 2.2-2.2 2.2-2.3 2.2-2.6 2.2-2.6 2.2-2.2 2.2-4.2 2.2-4.3 2.2-2.7 2.2-1.6 2.2-9.9 2.2-6.6 2.2-13.1 2.2-15.4 2.2-19.8 2.2-19.9 2.2-20.5 2.2-17 2.2-10.4 2.2-2.7 2.3 3.2 2.2 7.5 2.2 7.6 2.2 2.2 2.2 4.1 2.2 .2 2.2-2.9 2.2-3.9 2.2-7.5 2.2-11.3 2.2-12.9 2.2-8.2 2.2-1.2 2.2 9 2.2 11.1 2.2 17.3 2.2 15.4 2.2 16.4 2.2 15.1 2.2 15.7 2.2 9.5 2.2 9.6 2.2 8.1 2.2 8.1 2.3 4 2.2 6.4 2.2 4.8 2.2 5.7 2.2 4 2.2 4 2.2 3.3 2.2 2.9 2.2 1.3 2.2 3.4 2.2 .9 2.2 2.5 2.2 .5 2.2 1 2.2 1.3 2.2 1.6 2.2 .7 2.2 1.3 2.2 .8 2.2-.7 2.2 1.7 2.2-.5 2.2-.3 2.2 .7 2.3 1.7 2.2-1.4 2.2 .3 2.2 2.3 2.2-1.8 2.2 .3 2.2 1.7 2.2-3.5 2.2 .8 2.2-.5 2.2 1.9 2.2-2 2.2-1.7 2.2 1.9 2.2-1.6 2.2 .5 2.2-1.1 2.2-.9 2.2 1.4 2.2 2.6 2.2-1.9 2.2-2.9 2.2 1 2.3 1.5 2.2-2.5 2.2 1.8 2.2-.6 2.2-.1 2.2 .8 2.2-2.5 2.2-.5 2.2-.3 2.2-3 2.2 1.1 2.2 1.6 2.2 .8 2.2 3.7 2.2-.5 2.2-.1 2.2 .6 2.2 .8 2.2-1.2 2.2 0 2.2 2 2.2-1.2 2.2 .4 2.2 .8 2.3-.6 2.2 .4 2.2 3 2.2-1.2 2.2 .8 2.2 .1 2.2 .8 2.2-1.7 2.2 1.4 2.2 .2 2.2-.4 2.2 .2 2.2 1 2.2 1.1 2.2-.7 2.2 1.3 2.2-.2 2.2 1.1 2.2 .4 2.2 .3 2.2-2.3 2.2 2.3 2.2-1.5 2.2 3.9 2.3-2.1 2.2 .2 2.2 .8 2.2 .5 2.2 1.4 2.2 .7 2.2-1.7 2.2 2.5 2.2-.4 2.2-1.2 2.2 .6 2.2 .2 2.2 1.2 2.2-1.2 2.2 1.1 2.2 .5 2.2-.4 2.2 .7 2.2 .2 2.2 .2 2.2-.1 2.2-1.2 2.2-.4 2.3 1.4 2.2-2.2 2.2 2.5 2.2-.6 2.2-.9 2.2-1.2 2.2 1.5 2.2 1.2 2.2-1 2.2-1.3 2.2 2 2.2-1.3 2.2 .6 2.2-.7 2.2-1.4 2.2-.4 2.2 1.1 2.2 1.2 2.2-1.5 2.2 2.5 2.2-.7 2.2-.6 2.2 1.6 2.2-1.1 2.3 .3 2.2-.5 2.2 .1 2.2-.5 2.2-.1 2.2 1.6 2.2-.9 2.2 .3 2.2 .3 2.2-.6 2.2 1.3 2.2 .6 2.2-1.2 2.2-1.3 2.2 0 2.2 1.8 2.2 1.4 2.2-3.1 2.2 1 2.2 1.4 2.2-.4 2.2-1.3 2.2 .1 2.2 0 2.3-.4 2.2 1.1 2.2-2.3 2.2 .8 2.2-.7 2.2 1.3 2.2 2 2.2-.3 2.2 .5 2.2-.6 2.2 0 2.2 .8 2.2-2.5 2.2 .9 2.2 1.1 2.2 1.3 2.2-.6 2.2-1 2.2-.2 2.2 .4 2.2 .3 2.2-.7 2.2 1 2.3 .3 2.2-.2 2.2-.5 2.2 1.1 2.2 .2 2.2 1.9 2.2-.3 2.2-2.3 2.2-1.1 2.2-.4 2.2 1.8 2.2 1.7 2.2-.8 2.2-.5 2.2-.4 2.2-.8 2.2 .9 2.2 2 2.2 1.1 2.2-1.3 2.2-.5 2.2-2.9 2.2 2.4 2.2 1.6 2.3-2 2.2-1.2 2.2 1.4 2.2-.1 2.2 .7 2.2-.7 2.2 .6 2.2 .1 2.2-.9 2.2 .1 2.2 .8 2.2-.8 2.2 .5 2.2 .3 2.2 .3 2.2 1.1 2.2-1.8 2.2-.8 2.2 3.8 2.2-1.8 2.2 0 2.2 .6 2.2-.6 2.2-.1 2.3-.1 2.2-.9 4.4 .2"/>
<path stroke="#FFC000" d="M268.6 1377.6l2.2-2.5 2.3 2.8 2.2-.3 2.2 .1 2.2-.8 2.2 1.8 2.2-2.1 2.2-.1 2.2 1.5 2.2-4.3 2.2 2.5 2.2 1.9 2.2-1.4 2.2 0 2.2 1.1 2.2-1.9 2.2 .9 2.2-.8 2.2-1.6 2.2 2.1 2.2 .1 2.2 .5 2.2 1.6 2.2-1.4 2.2-2.2 2.3 1.6 2.2-1.4 2.2 .3 2.2-.3 2.2-.1 2.2 .7 2.2 1.9 2.2-.6 2.2 .2 2.2-.7 2.2-.7 2.2 .2 2.2 .8 2.2-1.2 2.2-.1 2.2 .3 2.2 0 2.2 .3 2.2-.6 2.2 1.4 2.2-1.1 2.2 0 2.2-.4 2.3 .4 2.2 .3 2.2-1 2.2 .7 2.2 .2 2.2-1.1 2.2 1.2 2.2 .2 2.2 .4 2.2-.5 2.2-.1 2.2 1.2 2.2-2.6 2.2 1.4 2.2 .3 2.2 1.1 2.2-1.9 2.2 .2 2.2 .4 2.2-1.2 2.2 1.7 2.2-.3 2.2-.4 2.2-.5 2.3-.1 2.2 2.4 2.2-1.5 2.2-1.8 2.2 .9 2.2 .5 2.2-1.3 2.2 2 2.2-1.1 2.2 1.6 2.2-2 2.2 0 2.2-.4 2.2 1 2.2-1.8 2.2 0 2.2-2.3 2.2 .6 2.2 1 2.2 1.2 2.2-.2 2.2-.4 2.2 1.7 2.2-.3 2.3 1.1 2.2-1 2.2 .3 2.2 .2 2.2 .7 2.2-.7 2.2-3.1 2.2 1.7 2.2 .2 2.2 .9 2.2-2 2.2 .9 2.2 .7 2.2-2.3 2.2-.7 2.2 1.7 2.2 0 2.2-1.9 2.2 1.1 2.2 .3 2.2 0 2.2 .4 2.2 .9 2.3 .7 2.2-.8 2.2-2.3 2.2 1.5 2.2-.2 2.2 .3 2.2-.8 2.2-1.2 2.2 1.1 2.2 .3 2.2-1 2.2 .1 2.2-1.3 2.2 .5 2.2 1 2.2-.5 2.2-1.1 2.2 1.6 2.2-1.4 2.2 .2 2.2-.7 2.2-1.7 2.2 2.3 2.2-2.7 2.3-.9 2.2-1 2.2 .3 2.2 .5 2.2 .1 2.2 .5 2.2-3 2.2-.1 2.2 3.2 2.2-1.9 2.2 .6 2.2-1.1 2.2 .6 2.2-1.5 2.2 .2 2.2 .3 2.2-.2 2.2-.9 2.2-1.7 2.2 0 2.2 .7 2.2 1.3 2.2 1 2.2 2.5 2.3-.8 2.2 1.5 2.2 2 2.2-.4 2.2 .9 2.2-.2 2.2 .6 2.2 1.2 2.2 .2 2.2-.1 2.2 .4 2.2 .1 2.2-.4 2.2 .3 2.2 .4 2.2 2.4 2.2-.2 2.2-.5 2.2 .8 2.2-1.4 2.2 1.6 2.2 .1 2.2 0 2.3-1 2.2 .4 2.2 .2 2.2-.3 2.2-.8 2.2-1.7 2.2 1.3 2.2 1.8 2.2-.1 2.2 .9 2.2-1.3 2.2-2.4 2.2 .2 2.2 .7 2.2 1 2.2-.5 2.2 1.1 2.2-.1 2.2-.1 2.2-.1 2.2-1.4 2.2 2.8 2.2-.9 2.2-.4 2.3 .5 2.2 0 2.2-.1 2.2-.8 2.2-.7 2.2 2.1 2.2 .9 2.2-.6 2.2-2.5 2.2 1.6 2.2-1.8 2.2 2.3 2.2-2 2.2 1 2.2 1.1 2.2-.8 2.2 .5 2.2-2.6 2.2-.5 2.2-6 2.2 5.9 2.2 2.5 2.2-1 2.2 .7 2.3-1.4 2.2 1.4 2.2-1.1 2.2 .2 2.2-.3 2.2 .1 2.2 1.2 2.2 .6 2.2 .6 2.2-1.4 2.2-1.4 2.2 .4 2.2 1.4 2.2-1 2.2 .5 2.2 1.3 2.2-1.6 2.2 2.3 2.2-1.8 2.2-1.3 2.2 1.1 2.2-.1 2.2 1 2.3-.9 2.2-1.2 2.2 2.4 2.2 0 2.2-.9 2.2 .2 2.2-1.2 2.2-.3 2.2 .5 2.2 .9 2.2 .6 2.2-1.4 2.2 .2 2.2 1.2 2.2-.8 2.2-.5 2.2 .7 2.2-.7 2.2 1.9 2.2-.8 2.2 1.8 2.2-2.6 2.2-.7 2.2-.4 2.3-.2 2.2 2 2.2 .9 2.2 .1 2.2-2.1 2.2-1.4 2.2 1.1 2.2-.2 2.2 2.2 2.2 .1 2.2 .1 2.2-.8 2.2-.1 2.2 .3 2.2-.8 2.2 .7 2.2-.3 2.2 1.2 2.2-1.8 2.2 .2 2.2 .6 2.2 .2 2.2 .1 2.2-1.2 2.3 3.6 2.2-1.4 2.2 0 2.2-.8 2.2-.1 2.2 0 2.2-1.4 2.2 2.1 2.2-.8 2.2-.4 2.2 1.9 2.2-1.8 2.2 .6 2.2-.9 2.2 1.4 2.2-1.6 2.2 .8 2.2-.8 2.2-.7 2.2 1.8 2.2-.7 2.2 .2 2.2 .4 2.3-1.2 2.2-.9 2.2 .6 2.2 .1 2.2-.8 2.2 .8 2.2-1.5 2.2 2.5 2.2 .5 2.2-.6 2.2-.9 2.2 .1 2.2 .5 2.2-2 2.2 1.8 2.2 .6 2.2-.5 2.2-.9 2.2 .9 2.2 1.6 2.2-1 2.2-1.4 2.2 1.4 2.2-2.4 2.3 1.9 2.2 0 2.2-.7 2.2 0 2.2 .5 2.2 1.2 2.2-1.5 2.2 2 2.2-.2 2.2-1.3 2.2 1.1 2.2 .3 2.2 1 2.2-2.1 2.2-1.5 2.2 .4 2.2 1.7 2.2 1.2 2.2-1.8 2.2 1.4 2.2-1.1 2.2 .1 2.2 .5 2.2-.5 2.3-.7 2.2 .4 2.2 .8 2.2-1.3 2.2 2.8 2.2-1.6 2.2 .4 2.2-2.6 2.2 2.4 2.2-.6 2.2-.8 2.2 .7 2.2-.2 2.2-.7 2.2-.6 2.2-.5 2.2 3 2.2-.8 2.2-.3 2.2-1.8 2.2 1.3 2.2 .5 2.2 .2 2.3 .2 2.2 .4 2.2-1.4 2.2-1 2.2 3.7 2.2-1.8 2.2 1.1 2.2-1.6 2.2-.9 2.2 1 2.2-.3 2.2 1.3 2.2-1.5 2.2 1 2.2 1.6 2.2-2 2.2-.5 2.2-.3 2.2 .9 2.2 .9 2.2 .5 2.2-.9 2.2-2.3 2.2 1.9 2.3-1 2.2 2 2.2-.4 2.2 .8 2.2-2.6 2.2 .8 2.2 2.8 2.2-3.6 2.2 2.2 2.2 0 2.2-2.1 2.2 2.6 2.2-1.1 2.2-.2 2.2-2.5 2.2 1.8 2.2-.3 2.2 1.2 2.2-3.2 2.2 2.4 2.2-1.4 2.2-.2 2.2 .2 2.2-2.3 2.3 4.4 2.2 0 2.2 .7 2.2-2.8 2.2 .9 2.2 .7 2.2 .4 2.2-.8 2.2-.4 2.2 1.5 2.2-.9 2.2 2 2.2-2 2.2 1.1 2.2-1 2.2-.2 2.2-.2 2.2-1 2.2 .4 2.2 1.7 2.2-3.4 2.2 3.9 2.2 .6 2.2-.9 2.3-1 2.2-.3 2.2 2.4 2.2-1.7 2.2-.7 2.2-.6 2.2 .2 2.2-.6 2.2 .8 2.2 1.4 2.2-2.2 2.2 1.1 2.2 .5 2.2-.7 2.2 1 2.2-1.4 2.2 .2 2.2 1.1 2.2-.5 2.2-.5 2.2-.4 2.2 .1 2.2 2 2.3-1 2.2-1.8 2.2 .3 2.2 2.2 2.2-.2 2.2-.2 2.2 .1 2.2-.5 2.2-.8 2.2 .4 2.2 1.5 2.2-1.4 2.2 .4 2.2 .1 2.2 .4 2.2-.5 2.2 1.6 2.2-1.2 2.2-.7 2.2 1.2 2.2 .6 2.2-1 2.2-.7 2.2-.4 2.3 .4 2.2-.2 2.2 .8 2.2-1.2 2.2 .3 2.2 1.2 2.2 .4 2.2-2 2.2-.2 2.2 1.3 2.2-.2 2.2 .7 2.2-1.9 2.2 .9 2.2-.8 2.2 1.5 2.2-.8 2.2 .1 2.2 1.2 2.2-2.2 2.2-.3 2.2 .9 2.2 0 2.2-.3 2.3-.1 2.2 .3 2.2-1.2 2.2-.6 2.2 2 2.2-1.6 2.2 0 2.2-1 2.2-.8 2.2 1.5 2.2-2 2.2-.1 2.2 1.2 2.2 1.6 2.2-2.3 2.2-2.6 2.2 2.6 2.2-1.6 2.2-1.5 2.2-1.2 2.2 .2 2.2-1 2.2 .7 2.3-.8 2.2-3.7 2.2 2.2 2.2-1.5 2.2 .2 2.2-1.4 2.2-.2 2.2-1.7 2.2-1.8 2.2-1.5 2.2-.7 2.2 1.7 2.2-2.3 2.2 2.5 2.2-1.9 2.2 1.5 2.2 .1 2.2-1 2.2-.8 2.2-.3 2.2-1.2 2.2 1.1 2.2-.2 2.2-.5 2.3 1.4 2.2 1.4 2.2 .8 2.2 .3 2.2-.8 2.2 0 2.2 1.4 2.2 1.9 2.2-2.7 2.2 1.6 2.2-.1 2.2 1.4 2.2-.3 2.2-2.7 2.2 .3 2.2 1.9 2.2-.1 2.2-.8 2.2 0 2.2 3.1 2.2-3.9 2.2-1.5 2.2-.4 2.2 1.1 2.3-2.7 2.2-1.3 2.2 1.3 2.2-2.2 2.2-2.2 2.2-.2 2.2-3.1 2.2-2 2.2-3.7 2.2-3.7 2.2-4.4 2.2-5.2 2.2-4.8 2.2-10.3 2.2-5.3 2.2-9.6 2.2-8.2 2.2-12.7 2.2-11.4 2.2-11.2 2.2-11.7 2.2-9.5 2.2-2.3 2.3 1.3 2.2 4 2.2 4.2 2.2 1 2.2 4.1 2.2-1.9 2.2-2.9 2.2-5.8 2.2-6.2 2.2-8.1 2.2-5.2 2.2-1.8 2.2 .9 2.2 5.2 2.2 8.1 2.2 14.1 2.2 9.7 2.2 10.5 2.2 9.4 2.2 11.7 2.2 6.1 2.2 8.1 2.2 8 2.2 6.9 2.3 6.2 2.2 6.9 2.2 2.9 2.2 5.6 2.2 2.7 2.2 2.7 2.2 1.6 2.2 2.2 2.2 2.1 2.2 .3 2.2 2.6 2.2 .3 2.2 1.4 2.2 .9 2.2 2.3 2.2 1.8 2.2 0 2.2 1.5 2.2-.5 2.2 1 2.2-.3 2.2-.1 2.2-.6 2.2 2.7 2.3-.7 2.2 0 2.2 1 2.2-.3 2.2-.2 2.2-.4 2.2 1.1 2.2-1.9 2.2 1.7 2.2 .5 2.2-.3 2.2-.7 2.2-.1 2.2-.3 2.2 .4 2.2 .2 2.2-1.7 2.2-.9 2.2 .3 2.2 1.7 2.2-2.7 2.2-2.2 2.2 1.1 2.3 .4 2.2-1.9 2.2-.4 2.2 .2 2.2-.7 2.2 1.2 2.2-2.5 2.2-1.8 2.2 0 2.2-2.3 2.2 .8 2.2 1 2.2 2.3 2.2 3.8 2.2 .5 2.2-.6 2.2 1.6 2.2 .2 2.2 2 2.2 1.1 2.2 1.3 2.2-1.1 2.2 0 2.2 1.3 2.3 1.4 2.2 .3 2.2 .9 2.2 .2 2.2-.3 2.2 .2 2.2 3.1 2.2-3.3 2.2 .8 2.2-.8 2.2-.4 2.2-.9 2.2 1.5 2.2 .4 2.2-.7 2.2 .2 2.2-.9 2.2 1.9 2.2-.2 2.2 .4 2.2-1.1 2.2 2.5 2.2-.4 2.2 .4 2.3-.7 2.2-.1 2.2 .8 2.2 .5 2.2 .4 2.2 1.9 2.2-1.4 2.2 .1 2.2 2.1 2.2-2.1 2.2 .2 2.2-.3 2.2 1 2.2-.5 2.2 1.1 2.2 1.6 2.2-.4 2.2-.6 2.2-.7 2.2 0 2.2 .1 2.2-.7 2.2 .3 2.3 1.8 2.2-1.8 2.2 2.5 2.2-1.7 2.2 0 2.2-1.4 2.2 1.7 2.2 .9 2.2-.5 2.2-1.2 2.2 .6 2.2 .2 2.2-.4 2.2 .3 2.2-1.8 2.2-.3 2.2 .3 2.2 2.5 2.2-2.1 2.2 2.8 2.2-.8 2.2 0 2.2 .6 2.2-2 2.3 1.5 2.2-.2 2.2-1.1 2.2 .1 2.2 .3 2.2 .6 2.2 0 2.2 .9 2.2 .3 2.2-1.6 2.2 1.5 2.2 1.7 2.2-2.3 2.2 .8 2.2-.7 2.2 .3 2.2 1.6 2.2-3.1 2.2 2.1 2.2 .4 2.2 2.1 2.2-3 2.2 .3 2.2-.6 2.3-.8 2.2 1.8 2.2-3.3 2.2 1.8 2.2-.1 2.2 .5 2.2 1.4 2.2-.8 2.2 2.1 2.2 .3 2.2-1.7 2.2 1 2.2-2.9 2.2 1.4 2.2-.8 2.2 1 2.2 .7 2.2-.5 2.2 .1 2.2 .9 2.2 .3 2.2-.9 2.2 .4 2.3 .8 2.2-1 2.2 1.3 2.2-2.5 2.2 2.3 2.2 1.3 2.2-.2 2.2-2 2.2-1 2.2-1.5 2.2 2.4 2.2 2.1 2.2-.5 2.2-2 2.2 1.2 2.2-.6 2.2-.8 2.2 2.8 2.2 .1 2.2-1.9 2.2 1.6 2.2-2 2.2 1.7 2.2-.1 2.3-1.4 2.2-.7 2.2 1.6 2.2 .6 2.2-1 2.2-.1 2.2 .8 2.2-.2 2.2-1.2 2.2 .2 2.2 .5 2.2 .1 2.2 1.4 2.2-1.1 2.2 .5 2.2 .7 2.2-1.7 2.2 0 2.2 2.9 2.2-.8 2.2-.4 2.2-.8 2.2-.3 2.2 .5 2.3-1.6 2.2-.1 4.4 .7"/>
<path stroke="#5B9BD5" d="M268.6 1252.9l2.2-3.9 2.3 2.3 2.2-.8 2.2 1.8 2.2-.1 2.2 .3 2.2-2.1 2.2 .2 2.2 1 2.2-2.2 2.2 1.5 2.2 0 2.2 .1 2.2 .3 2.2-1.8 2.2 .4 2.2 1 2.2-.8 2.2-.4 2.2 .1 2.2 .7 2.2-.6 2.2 1 2.2-.4 2.2 .4 2.3-.1 2.2-.3 2.2-1.3 2.2-.7 2.2 .3 2.2 .6 2.2 2.1 2.2 .6 2.2-.7 2.2-.7 2.2-.5 2.2-1.2 2.2 1.2 2.2-1 2.2 .5 2.2 .7 2.2-.6 2.2 .2 2.2-.3 2.2 1.3 2.2-1.4 2.2-1.3 2.2 1.4 2.3 0 2.2-.5 2.2 0 2.2-.2 2.2 .3 2.2 .9 2.2-.1 2.2 .1 2.2 .7 2.2-1.5 2.2 .6 2.2 0 2.2-1.1 2.2 2.3 2.2-1.4 2.2 1.6 2.2-.8 2.2-1.8 2.2 .5 2.2-.3 2.2 1.6 2.2-.2 2.2-.6 2.2-1 2.3 .5 2.2 1.7 2.2-.7 2.2-.9 2.2 .7 2.2-.3 2.2-.1 2.2 0 2.2 .4 2.2 1.5 2.2-1.8 2.2 1.7 2.2-2.5 2.2 1.2 2.2-3.5 2.2-.1 2.2-1.1 2.2 1.2 2.2 .4 2.2 2 2.2-1 2.2 .2 2.2 .6 2.2 .7 2.3-.3 2.2 1 2.2 .2 2.2-1.4 2.2 1.5 2.2-2.1 2.2-1.1 2.2 2.2 2.2-.7 2.2-.8 2.2-.5 2.2 .5 2.2 .6 2.2-2.1 2.2-.4 2.2 3.2 2.2-1.2 2.2-.6 2.2 .9 2.2-1.3 2.2 .6 2.2 0 2.2 2.2 2.3-.8 2.2-.9 2.2-1.8 2.2 .7 2.2 .4 2.2-.3 2.2-.7 2.2 0 2.2 0 2.2 1.5 2.2-.6 2.2-.3 2.2-1.1 2.2-.7 2.2 .7 2.2 .6 2.2-1.2 2.2 .4 2.2-.4 2.2-.1 2.2 0 2.2-1 2.2 1.5 2.2-1.5 2.3-1.7 2.2 .1 2.2-.4 2.2-.1 2.2 1.1 2.2-.7 2.2-4.7 2.2-.9 2.2 1.9 2.2-2 2.2-.3 2.2-.4 2.2 .5 2.2 0 2.2 0 2.2 1.3 2.2-1.3 2.2-.2 2.2-.3 2.2 .1 2.2 1.4 2.2 1.3 2.2 1.1 2.2 1.9 2.3 .5 2.2 .5 2.2 2.6 2.2-1.1 2.2 .3 2.2 .2 2.2 2.2 2.2-.4 2.2 1 2.2-.6 2.2-.9 2.2 1.8 2.2-1.5 2.2 .9 2.2-1.5 2.2 5 2.2-1.5 2.2-1.7 2.2 1.6 2.2-2.2 2.2 2.6 2.2-.3 2.2 .7 2.3-2.6 2.2 .8 2.2 1.9 2.2-.1 2.2 .1 2.2-1.8 2.2 1.2 2.2 1.1 2.2-.8 2.2 1.6 2.2-2.7 2.2-.1 2.2-1.3 2.2 1 2.2 1.2 2.2-1.3 2.2 1.8 2.2 .6 2.2-.5 2.2-.5 2.2-1 2.2 1.1 2.2 .5 2.2 .4 2.3-.9 2.2 .1 2.2 .6 2.2-1.5 2.2 .3 2.2-.1 2.2 1.3 2.2-1 2.2-1.3 2.2 1.9 2.2-.8 2.2 1.2 2.2-1.7 2.2 .3 2.2-.3 2.2 .5 2.2-.3 2.2-1.8 2.2 .8 2.2-6.4 2.2 6 2.2 1.6 2.2-.4 2.2 .9 2.3-2.4 2.2 .4 2.2 .2 2.2 1.1 2.2-.4 2.2 1 2.2 .8 2.2 .4 2.2-.9 2.2-1.6 2.2 .2 2.2-1.6 2.2 1.2 2.2-.1 2.2 .4 2.2 2 2.2-1 2.2 1.7 2.2-2.1 2.2-1.2 2.2 2.5 2.2-.9 2.2 1.7 2.3-1.9 2.2 0 2.2 .2 2.2-.3 2.2-.1 2.2 1.6 2.2-.8 2.2 .1 2.2-.1 2.2 .7 2.2-.9 2.2-1.4 2.2 0 2.2 2.9 2.2-2 2.2-1.4 2.2 .6 2.2-.4 2.2 2.7 2.2-1.4 2.2 1.9 2.2-1.5 2.2-1.8 2.2 1 2.3-.6 2.2 1.4 2.2 .9 2.2 .4 2.2-1.5 2.2-2.2 2.2 1 2.2 .6 2.2 2.3 2.2-.1 2.2-1.3 2.2-1 2.2 .9 2.2 1.6 2.2-2.1 2.2 .5 2.2 .8 2.2 .5 2.2-2.4 2.2 .5 2.2 .7 2.2-.4 2.2 1.3 2.2-1.4 2.3 3.2 2.2-1.2 2.2-.3 2.2-.6 2.2-.2 2.2-1.4 2.2 .2 2.2 2 2.2-.5 2.2-.8 2.2 .7 2.2-.9 2.2 1.2 2.2 .4 2.2 0 2.2-1.3 2.2-1 2.2 .8 2.2 .1 2.2-.4 2.2-.4 2.2 .4 2.2 .5 2.3-.7 2.2-.8 2.2 .8 2.2 2.3 2.2-1.9 2.2-.9 2.2-.3 2.2 2 2.2 .4 2.2-1.4 2.2 .5 2.2-.9 2.2 .3 2.2-.9 2.2 2.7 2.2-.3 2.2-2 2.2 .3 2.2 .4 2.2-.8 2.2 1.8 2.2-2.2 2.2 2.4 2.2-3.9 2.3 2 2.2-.8 2.2 2.1 2.2-.2 2.2-.4 2.2-.2 2.2 .8 2.2 1.5 2.2-1.6 2.2 .5 2.2 .3 2.2-.3 2.2 1 2.2-1.4 2.2-1.6 2.2-.3 2.2 1.8 2.2 1 2.2-1.2 2.2 .9 2.2 .9 2.2 0 2.2-.6 2.2 0 2.3-1.5 2.2 1 2.2 .6 2.2-.1 2.2 .7 2.2-1.1 2.2 1.6 2.2-2.3 2.2 .1 2.2 .2 2.2-.6 2.2 .7 2.2-.3 2.2 .6 2.2 .5 2.2-2.3 2.2 2.1 2.2-.4 2.2-.5 2.2-1 2.2 .4 2.2-.1 2.2 1.5 2.3 .3 2.2-.2 2.2-1.8 2.2-.2 2.2 3.6 2.2-1.9 2.2 1 2.2-1.4 2.2-.4 2.2-.4 2.2 .6 2.2 1.7 2.2-2.4 2.2 .4 2.2 .7 2.2 0 2.2-1.1 2.2-1 2.2 2.4 2.2 .3 2.2-.1 2.2-.9 2.2 0 2.2 .7 2.3-.7 2.2 .3 2.2 .3 2.2 .6 2.2-2.6 2.2 1.6 2.2 1.2 2.2-1.8 2.2 .3 2.2 .4 2.2-1.5 2.2 2.3 2.2-.2 2.2-.2 2.2-1.8 2.2 1.9 2.2-1 2.2 1 2.2-2.4 2.2 2.5 2.2-1.6 2.2-.5 2.2 .1 2.2-2 2.3 4.5 2.2 .1 2.2-1.1 2.2 .9 2.2-2 2.2 .6 2.2 .5 2.2 .5 2.2-2.1 2.2 1.6 2.2-.4 2.2 .5 2.2-.3 2.2 1.3 2.2-1.3 2.2-.4 2.2-.5 2.2-1.1 2.2 1.1 2.2 .8 2.2-2.1 2.2 3.5 2.2-.4 2.2 1.3 2.3-1.2 2.2-1.3 2.2 1.6 2.2-1.8 2.2 .5 2.2 0 2.2 .1 2.2-1.3 2.2 .3 2.2 1.6 2.2-1.8 2.2 .6 2.2 0 2.2 0 2.2 .2 2.2-.5 2.2 1 2.2-.8 2.2 .3 2.2-.3 2.2-.9 2.2-.2 2.2 .7 2.3 .2 2.2-2.1 2.2 2.6 2.2 .2 2.2 1.8 2.2-1.3 2.2-1.5 2.2-.4 2.2-1.1 2.2 1.6 2.2 .1 2.2 0 2.2-.3 2.2-.8 2.2 1.8 2.2-1.4 2.2 1.9 2.2-2.3 2.2 .4 2.2 .8 2.2 .2 2.2 .5 2.2-.8 2.2-1.1 2.3-.3 2.2-.4 2.2-.4 2.2 .5 2.2 .7 2.2-1.4 2.2 .8 2.2 .3 2.2-2 2.2 1.4 2.2 .5 2.2 0 2.2-1.6 2.2 1.2 2.2-2.6 2.2 1.8 2.2 .1 2.2-.1 2.2 1.1 2.2-.9 2.2-.3 2.2-.7 2.2 1.4 2.2-1.3 2.3 .1 2.2 .6 2.2-1.5 2.2 .8 2.2 .2 2.2-.8 2.2-1.1 2.2 1.8 2.2-2.4 2.2 3.1 2.2-1.6 2.2-.3 2.2 .7 2.2-.6 2.2-1.4 2.2-1.9 2.2 2.7 2.2-2.3 2.2 .2 2.2-2 2.2-.3 2.2 .6 2.2-.8 2.3-.3 2.2-3.6 2.2 2.1 2.2-1.4 2.2-.5 2.2 .3 2.2-1.1 2.2-.3 2.2-1.8 2.2-1.3 2.2-1.3 2.2 .1 2.2-.7 2.2 1.3 2.2-.6 2.2 1.5 2.2 .6 2.2 .3 2.2-3.8 2.2 1.2 2.2 1 2.2-2.2 2.2 1.1 2.2-.7 2.3 1.5 2.2 1.4 2.2 .7 2.2 .9 2.2 .6 2.2-1.6 2.2 .8 2.2 1.4 2.2-1.5 2.2 1 2.2 .1 2.2 .5 2.2 .8 2.2-2.1 2.2-.2 2.2 0 2.2 1.3 2.2-.5 2.2-1.1 2.2 2.8 2.2-3.5 2.2-1.1 2.2-.5 2.2-.4 2.3 0 2.2-1.1 2.2 .3 2.2-2.8 2.2-.7 2.2-1 2.2-3.5 2.2-1.7 2.2-4.3 2.2-5.2 2.2-3.9 2.2-4.5 2.2-4 2.2-8.3 2.2-6.4 2.2-8.3 2.2-9.5 2.2-11.3 2.2-10.9 2.2-11.5 2.2-10.1 2.2-5.2 2.2-3.1 2.3-2 2.2 3 2.2 3.7 2.2-.1 2.2 3 2.2-1.3 2.2-3.2 2.2-4.2 2.2-6.2 2.2-5.5 2.2-6.2 2.2-2.9 2.2 .6 2.2 4.1 2.2 8 2.2 11.6 2.2 11.2 2.2 10.9 2.2 10.8 2.2 11.1 2.2 4.5 2.2 7.5 2.2 7 2.2 6.9 2.3 3.7 2.2 5.6 2.2 4 2.2 4.6 2.2 2.7 2.2 3.1 2.2 2.6 2.2 1.6 2.2 1.6 2.2 3.1 2.2 3.2 2.2-.5 2.2 2.4 2.2-.1 2.2 2.8 2.2 .4 2.2-.1 2.2 1.8 2.2-.1 2.2 .5 2.2 .6 2.2 1.9 2.2-.6 2.2 1.2 2.3-.4 2.2-.6 2.2 1.5 2.2 0 2.2-.4 2.2 .4 2.2 1.6 2.2-3.5 2.2 1.4 2.2 .8 2.2-.2 2.2-.4 2.2-.3 2.2-.2 2.2 0 2.2 1.2 2.2-2.3 2.2 .3 2.2-.1 2.2 2.1 2.2-1.8 2.2-3.1 2.2 2.8 2.3-.3 2.2-2.9 2.2 1.8 2.2-.9 2.2-1.7 2.2 .4 2.2-1.3 2.2-4.4 2.2-1.9 2.2-1.1 2.2 .3 2.2 3 2.2 2.8 2.2 4.2 2.2 .6 2.2 1.1 2.2 2.1 2.2 .2 2.2 0 2.2 2 2.2-.9 2.2-.6 2.2 1.2 2.2 .2 2.3 .6 2.2 .2 2.2 1 2.2-.1 2.2 .8 2.2-.4 2.2 1.5 2.2-2.1 2.2 2 2.2-.7 2.2-1.7 2.2 .8 2.2 2.1 2.2 0 2.2 1.1 2.2-1.3 2.2-.8 2.2 .9 2.2 .4 2.2 .6 2.2-1.6 2.2 2.7 2.2-.8 2.2 1.3 2.3-.9 2.2 .2 2.2-.7 2.2-.4 2.2 .1 2.2 1.4 2.2 .6 2.2 1.1 2.2-1 2.2-.1 2.2 .1 2.2 .1 2.2 .6 2.2-.4 2.2-.4 2.2 1.9 2.2-.6 2.2 .9 2.2-1.2 2.2 .6 2.2 .1 2.2-2 2.2-.1 2.3 2.7 2.2-2.6 2.2 3.2 2.2-1.2 2.2 .1 2.2-1 2.2 1.5 2.2-.3 2.2 1 2.2-2.4 2.2 2.7 2.2-1.9 2.2 1.2 2.2-1.1 2.2 .8 2.2-2.3 2.2 1.6 2.2 1.3 2.2-1.6 2.2 .9 2.2 .6 2.2-.5 2.2 0 2.2 .1 2.3-.9 2.2 .3 2.2-.1 2.2-.2 2.2 .7 2.2-.7 2.2 .8 2.2 .7 2.2 .2 2.2-.8 2.2 2.2 2.2-1 2.2-.1 2.2-.5 2.2-.2 2.2 .2 2.2 1.7 2.2-2.4 2.2-.2 2.2 2.1 2.2 .8 2.2-2.2 2.2 .1 2.2 .2 2.3-.7 2.2 1 2.2-2.3 2.2 1.3 2.2 .6 2.2 .9 2.2 1.8 2.2-2 2.2 1.8 2.2-.4 2.2-.4 2.2 .2 2.2-2.8 2.2 1.8 2.2-.1 2.2 1.3 2.2 .8 2.2-1.2 2.2-1.3 2.2 1.4 2.2-.3 2.2 .3 2.2 .4 2.3 1.6 2.2-1.6 2.2 .6 2.2-.9 2.2 1.6 2.2 0 2.2-.5 2.2-.5 2.2-2.2 2.2 .5 2.2 .9 2.2 1.7 2.2 .1 2.2-.1 2.2-1.9 2.2 .5 2.2-.8 2.2 1.8 2.2 1.3 2.2 .3 2.2-1.8 2.2-.9 2.2 .7 2.2 1.1 2.3-1.6 2.2 .3 2.2 .7 2.2-.8 2.2 0 2.2-.5 2.2 1.8 2.2-1.6 2.2-.1 2.2 .8 2.2 .1 2.2 .7 2.2-.1 2.2-.5 2.2-.9 2.2 2.1 2.2-1.9 2.2-1.1 2.2 3.1 2.2-1.3 2.2 1.8 2.2-1.3 2.2-.1 2.2-.1 2.3-.5 2.2 1.6 4.4-1.7"/>
<path stroke="#70AD47" d="M268.6 1123.8l2.2-2.6 2.3 1.4 2.2-.2 2.2 .9 2.2-1.3 2.2 .9 2.2-.6 2.2 .2 2.2 1.3 2.2-4 2.2 1.6 2.2 1.1 2.2 .8 2.2-.9 2.2 0 2.2-1.6 2.2 1.8 2.2-.6 2.2-.5 2.2 .3 2.2 1.2 2.2-1.4 2.2 1 2.2-.3 2.2-.3 2.3 .8 2.2-.4 2.2-1.8 2.2-.9 2.2 1.3 2.2 0 2.2 2.3 2.2 1.5 2.2-1.4 2.2-1.8 2.2-1 2.2 1.2 2.2 .8 2.2-1.3 2.2-.4 2.2 1.8 2.2-.2 2.2-.1 2.2-.4 2.2 1.3 2.2-2.2 2.2 .1 2.2 .7 2.3-.4 2.2-1.8 2.2 1.9 2.2-1.1 2.2 2 2.2-.7 2.2 1.1 2.2-1.3 2.2 .6 2.2-2 2.2 3.4 2.2-2.2 2.2 0 2.2-.1 2.2 .6 2.2 1.9 2.2-2.2 2.2-1.2 2.2 1.5 2.2-1.5 2.2 1.7 2.2-.9 2.2 1.3 2.2-1.9 2.3-.3 2.2 2.4 2.2-2.4 2.2-.6 2.2 1.7 2.2 .8 2.2-.9 2.2 .5 2.2-.2 2.2 2.2 2.2-2.2 2.2-.5 2.2 .3 2.2-1.2 2.2-.9 2.2 .5 2.2-1.4 2.2 .4 2.2 1.4 2.2 .4 2.2-1.3 2.2 1.3 2.2 .9 2.2 .3 2.3 .8 2.2-.3 2.2-1.2 2.2-.7 2.2 .7 2.2-1.3 2.2 .4 2.2 .3 2.2 .4 2.2-.6 2.2-.6 2.2 .9 2.2-.4 2.2-2.1 2.2-.1 2.2 2.6 2.2-1.4 2.2 .9 2.2 .1 2.2-2 2.2 .7 2.2-.9 2.2 1.9 2.3 .1 2.2-.2 2.2-1 2.2-.3 2.2 .8 2.2-1.2 2.2 .2 2.2-.6 2.2 1.2 2.2 1.3 2.2-2.3 2.2 1.2 2.2-2.1 2.2 .7 2.2 .9 2.2 .3 2.2-.9 2.2-1.1 2.2-1.2 2.2 1.5 2.2-.1 2.2-1.6 2.2 1.7 2.2-1.4 2.3-1.2 2.2 .6 2.2-.9 2.2-.3 2.2-.3 2.2-.5 2.2-2.1 2.2-2.4 2.2 2.7 2.2-2.1 2.2-1.1 2.2-1.7 2.2 1.9 2.2-.2 2.2-.2 2.2-.7 2.2 1.1 2.2 .3 2.2 .5 2.2-.2 2.2 .7 2.2 1.3 2.2 1.2 2.2 1.2 2.3-1.7 2.2 3.3 2.2 .3 2.2 .8 2.2 .2 2.2 .3 2.2 1.4 2.2 1.6 2.2-1.6 2.2 .5 2.2 .2 2.2 .7 2.2-1.1 2.2 1.4 2.2-1.4 2.2 4.4 2.2-2.4 2.2-.7 2.2 2 2.2-2.4 2.2 1.4 2.2-.4 2.2 .3 2.3-.5 2.2 .5 2.2 1.6 2.2-.4 2.2 0 2.2-1.3 2.2 .4 2.2 1.7 2.2 0 2.2 .8 2.2-2.2 2.2-2.1 2.2 .6 2.2 1.3 2.2 .1 2.2-1.4 2.2 2.9 2.2-.3 2.2 .8 2.2-2 2.2 0 2.2 2.2 2.2-.9 2.2-.3 2.3-.3 2.2 .7 2.2-.7 2.2-1.5 2.2 .4 2.2-1 2.2 3 2.2 0 2.2-2 2.2 1.9 2.2-2.6 2.2 1.8 2.2-1.1 2.2 1.9 2.2-.7 2.2 .7 2.2-.8 2.2-.6 2.2-.5 2.2-5.9 2.2 5.1 2.2 1.2 2.2-.3 2.2-.7 2.3-.1 2.2-.1 2.2 1.9 2.2-.9 2.2-1.8 2.2 1.7 2.2 .7 2.2 1.1 2.2-1.5 2.2-.8 2.2-.3 2.2-.3 2.2 1.7 2.2 0 2.2-.5 2.2 1.4 2.2-.7 2.2 .9 2.2-1.1 2.2-1 2.2 1.8 2.2-.1 2.2 .8 2.3-.7 2.2-1.8 2.2 1.7 2.2 .4 2.2-1.6 2.2 .9 2.2 .4 2.2-1.5 2.2 .9 2.2-.5 2.2 0 2.2-.7 2.2-.1 2.2 1.4 2.2-.9 2.2-.1 2.2 0 2.2-.3 2.2 2.6 2.2-1.4 2.2 1.5 2.2-1.8 2.2-1.3 2.2 1.5 2.3-.6 2.2 1.8 2.2-.3 2.2-.8 2.2-.5 2.2-.3 2.2-.1 2.2 0 2.2 2.6 2.2 0 2.2-1.6 2.2-.6 2.2 .7 2.2 1.5 2.2-1.2 2.2-.3 2.2 0 2.2-.5 2.2-.4 2.2 1.8 2.2-1.5 2.2 .2 2.2 .4 2.2-1.3 2.3 4 2.2-.8 2.2 .3 2.2-1.5 2.2-.4 2.2-1.6 2.2 0 2.2 1.9 2.2 0 2.2 .8 2.2 .8 2.2-1.4 2.2-1.5 2.2 2 2.2-.2 2.2-1.7 2.2-.8 2.2 1.5 2.2 .3 2.2-.4 2.2 .1 2.2-.5 2.2-.1 2.3-1.1 2.2-.7 2.2 2.1 2.2 .6 2.2-1.1 2.2 .5 2.2-1.7 2.2 1.1 2.2 1.9 2.2-2.3 2.2 0 2.2 .8 2.2 .4 2.2-2.1 2.2 2.5 2.2 .7 2.2-.6 2.2-.7 2.2-.1 2.2 0 2.2 1.8 2.2-2 2.2 1.1 2.2-2.6 2.3 2.8 2.2-2.6 2.2 2.1 2.2-1.4 2.2 .3 2.2-.4 2.2 .7 2.2 .9 2.2-.1 2.2 .2 2.2 1.6 2.2-.9 2.2 1 2.2-1 2.2-3.5 2.2 1.5 2.2 1.4 2.2 .2 2.2-.9 2.2 .9 2.2-.3 2.2 .6 2.2 .3 2.2-.8 2.3-1 2.2 .9 2.2 0 2.2 .5 2.2 0 2.2-.3 2.2 .5 2.2-2.6 2.2 2.7 2.2 0 2.2-.8 2.2-.2 2.2-.7 2.2-.2 2.2 .4 2.2-1.9 2.2 2.6 2.2-.3 2.2-.6 2.2-.5 2.2-.5 2.2 1.2 2.2 .8 2.3 1.7 2.2-1.8 2.2-.3 2.2-.7 2.2 2.3 2.2-1.9 2.2 1.7 2.2-1.7 2.2 0 2.2 .8 2.2-.3 2.2 .7 2.2-1 2.2 .2 2.2 1 2.2-.1 2.2-2.1 2.2 .7 2.2 1.2 2.2 .6 2.2-1.4 2.2 .8 2.2-1.7 2.2 1.6 2.3 .1 2.2-1.1 2.2 .6 2.2 0 2.2-.7 2.2 .4 2.2 1.1 2.2-2.6 2.2 2.2 2.2-.2 2.2-1 2.2 1.9 2.2-1.5 2.2 .5 2.2-.9 2.2-.3 2.2 .4 2.2 .2 2.2-1.1 2.2 .5 2.2-.5 2.2-1 2.2 1 2.2-.9 2.3 2.2 2.2 .3 2.2 .2 2.2-.7 2.2-1.6 2.2 1.4 2.2 1.8 2.2 .5 2.2-2.7 2.2 2.6 2.2-1.3 2.2 .7 2.2-1 2.2 1.7 2.2-1.5 2.2-.7 2.2 1.2 2.2-2.1 2.2 .1 2.2 1.3 2.2-2.1 2.2 3.2 2.2 .5 2.2 .5 2.3-1.7 2.2-1.4 2.2 2.4 2.2-.6 2.2-1.5 2.2-1 2.2 1.2 2.2-.8 2.2 .2 2.2 1.7 2.2-2.2 2.2 1.6 2.2-1.7 2.2 1 2.2 .4 2.2 .3 2.2 .5 2.2 .2 2.2-1.2 2.2 .6 2.2-1 2.2-1.7 2.2 1.7 2.3 .3 2.2-2.1 2.2 1 2.2 1.5 2.2 .3 2.2-.9 2.2-.4 2.2-.4 2.2-.5 2.2 .9 2.2 .2 2.2 .5 2.2 .2 2.2-1.1 2.2 .4 2.2 .6 2.2 1.4 2.2-1.4 2.2-1 2.2 1.2 2.2 .3 2.2 0 2.2-.3 2.2-2.6 2.3 .8 2.2-.3 2.2-.2 2.2 .5 2.2-1 2.2-.7 2.2-.1 2.2 .5 2.2-.3 2.2 .5 2.2 .6 2.2 .5 2.2-3.3 2.2 2.8 2.2-.9 2.2 .1 2.2-1 2.2 .6 2.2 .1 2.2-.3 2.2-1.9 2.2 .4 2.2 1.1 2.2-1.1 2.3 1 2.2-2.2 2.2-.8 2.2 1 2.2 .9 2.2-1.8 2.2 0 2.2 .6 2.2-3.1 2.2 1.2 2.2-1.3 2.2-.3 2.2 2.6 2.2-.1 2.2-1.8 2.2-2 2.2 3.2 2.2-2.2 2.2-.2 2.2-.4 2.2 1.3 2.2-1.3 2.2-1.1 2.3 .1 2.2-2.9 2.2 1.6 2.2 .2 2.2-.5 2.2-1 2.2-2.1 2.2-.4 2.2-1.5 2.2-2.7 2.2 0 2.2 .5 2.2-.2 2.2 .9 2.2-.7 2.2 1.1 2.2 .6 2.2 1.4 2.2-1.5 2.2 0 2.2-.4 2.2 1.3 2.2 .4 2.2-.8 2.3 1.3 2.2 .7 2.2 2.2 2.2 1 2.2-1.8 2.2-.5 2.2 2.3 2.2 2.4 2.2-2.7 2.2 2.7 2.2 .9 2.2-.7 2.2-.4 2.2-1.3 2.2-1 2.2 1.5 2.2-.5 2.2-1.1 2.2 .3 2.2 2.7 2.2-3.5 2.2-.7 2.2-.1 2.2 .4 2.3-1.6 2.2 .1 2.2-.1 2.2-.3 2.2-.2 2.2-.3 2.2-2.4 2.2-1.1 2.2-2.6 2.2-3 2.2-2.6 2.2-2.5 2.2-.4 2.2-5.2 2.2-1 2.2-6.7 2.2-7.4 2.2-16.7 2.2-18.6 2.2-18 2.2-18.1 2.2-11.7 2.2-5.3 2.3 3.1 2.2 7.1 2.2 7.2 2.2-1.9 2.2 2.3 2.2-1.4 2.2-1.5 2.2-3.9 2.2-5.9 2.2-6.8 2.2-5.7 2.2-2.9 2.2-.3 2.2 5.2 2.2 6.5 2.2 13.2 2.2 10.5 2.2 11.6 2.2 9.8 2.2 13.5 2.2 5.4 2.2 7.8 2.2 5 2.2 6.9 2.3 4 2.2 6.4 2.2 5 2.2 4.7 2.2 3.6 2.2 2.6 2.2 2.1 2.2 1.8 2.2 .9 2.2 1.6 2.2-.2 2.2 1.9 2.2 .2 2.2 .1 2.2 2.6 2.2 1.1 2.2-.6 2.2 2.6 2.2-.3 2.2-.2 2.2 .1 2.2 .9 2.2-1.1 2.2 .7 2.3-.1 2.2-2 2.2 .2 2.2 .9 2.2-2 2.2-1.4 2.2 1.6 2.2-.8 2.2 .5 2.2 0 2.2-.1 2.2 .4 2.2-1.8 2.2 .9 2.2-.8 2.2 .7 2.2-.9 2.2-.3 2.2 1.6 2.2 1.5 2.2-2.5 2.2-1.2 2.2 2.2 2.3 .9 2.2-3.9 2.2 2.7 2.2-1.4 2.2 0 2.2 .6 2.2-2 2.2-2.3 2.2-2 2.2-2.1 2.2 1.6 2.2 1.7 2.2 2.6 2.2 2.7 2.2 0 2.2 .1 2.2 .4 2.2 0 2.2 1 2.2 0 2.2 1.6 2.2-.6 2.2 .1 2.2 .5 2.3 1.5 2.2-.6 2.2 2.4 2.2-2.5 2.2 1.4 2.2-.5 2.2 2.7 2.2-3 2.2 1.8 2.2 .8 2.2-1.2 2.2 .2 2.2-.2 2.2 1 2.2-.6 2.2 .3 2.2-.6 2.2 2.1 2.2-.6 2.2 1 2.2-.8 2.2 2 2.2-.6 2.2-.1 2.3 .6 2.2-.5 2.2 0 2.2 1.3 2.2-1.1 2.2 2.3 2.2-.4 2.2 .6 2.2-.3 2.2-2.3 2.2 2.4 2.2-.1 2.2-.5 2.2 .6 2.2-.4 2.2 2.2 2.2-.7 2.2-.3 2.2 .1 2.2 .4 2.2 .4 2.2-2 2.2 0 2.3 1.1 2.2 .1 2.2 .5 2.2 0 2.2-.2 2.2-1.5 2.2 1.6 2.2 1.4 2.2-1.5 2.2-.9 2.2 1 2.2-.5 2.2-.4 2.2 .7 2.2-.6 2.2-1 2.2 1.4 2.2 1.2 2.2-.7 2.2 .1 2.2 .3 2.2-.6 2.2 .7 2.2-1.5 2.3 2 2.2-1.8 2.2 .4 2.2 .3 2.2 .2 2.2-.2 2.2-.2 2.2 1 2.2-.2 2.2-1.5 2.2 2.5 2.2 .6 2.2-1.5 2.2 .3 2.2-.3 2.2 1.7 2.2 .1 2.2-3.4 2.2 2.8 2.2 0 2.2 .7 2.2-1.3 2.2 1 2.2-2 2.3-.3 2.2 1.4 2.2-1.4 2.2 .1 2.2 1.5 2.2-.1 2.2 1.4 2.2-1.1 2.2 .8 2.2 .6 2.2-1.3 2.2 2 2.2-4.6 2.2 1.5 2.2 2 2.2 1.2 2.2-.4 2.2-1.4 2.2-.8 2.2 2.7 2.2-1.1 2.2-.7 2.2 .4 2.3 2.4 2.2-2.2 2.2 1.3 2.2-.3 2.2 .1 2.2 1.4 2.2 .5 2.2-3.4 2.2-1 2.2 0 2.2 2.7 2.2 1.4 2.2-.9 2.2-1.6 2.2 .2 2.2 .2 2.2-1.5 2.2 2.4 2.2 1.1 2.2-.2 2.2-1.4 2.2-2.3 2.2 3.8 2.2 1 2.3-3.6 2.2-.5 2.2 1.9 2.2-.3 2.2 .9 2.2-1.1 2.2 .7 2.2-.6 2.2 .4 2.2 .1 2.2 .4 2.2-1.3 2.2 1.6 2.2-.2 2.2 .5 2.2-.3 2.2-.4 2.2-.5 2.2 2.5 2.2-.9 2.2 .6 2.2 .3 2.2-1.4 2.2 .9 2.3-1 2.2 .2 4.4-.3"/>
<path stroke="#44546A" d="M268.6 996.7l2.2-2 2.3 .9 2.2-.6 2.2 .7 2.2-1.1 2.2 1.2 2.2-2.3 2.2 1 2.2 1.3 2.2-2.6 2.2 1.8 2.2 .8 2.2-1 2.2 .6 2.2-1.3 2.2 .1 2.2 .1 2.2 .5 2.2 0 2.2-1 2.2 1.7 2.2-.8 2.2 1.3 2.2-.7 2.2-1 2.3 1.3 2.2-1.3 2.2-1.1 2.2-1.5 2.2 1.7 2.2 .1 2.2 2.7 2.2-.7 2.2 1 2.2-2.1 2.2-.3 2.2 .7 2.2 .7 2.2-2.1 2.2 .7 2.2 .4 2.2-.8 2.2 1.6 2.2-1.2 2.2 1.8 2.2-1.8 2.2-.1 2.2 .7 2.3 .1 2.2-1.5 2.2 1.5 2.2-.1 2.2-.3 2.2-.2 2.2 1.2 2.2-1.7 2.2 2.2 2.2-1.2 2.2-.2 2.2-1 2.2 .2 2.2 1.3 2.2-.7 2.2 1 2.2-.2 2.2-1.4 2.2 .4 2.2-.5 2.2 .9 2.2-.5 2.2 .4 2.2-.5 2.3 .4 2.2 .4 2.2 .7 2.2-2.2 2.2 1.4 2.2-.2 2.2-1.4 2.2 1.2 2.2 1.3 2.2 .2 2.2-1.7 2.2 1.2 2.2-1.9 2.2 .7 2.2-2.8 2.2-.5 2.2-1.7 2.2 2.9 2.2 .8 2.2 .9 2.2-1 2.2 .8 2.2 1.1 2.2-1.3 2.3 .7 2.2 1.8 2.2-.6 2.2-.7 2.2 .3 2.2-1.2 2.2-2.3 2.2 .2 2.2 2.1 2.2-.6 2.2-.4 2.2-.7 2.2 1 2.2-1.9 2.2-.6 2.2 1.2 2.2-.3 2.2-.2 2.2 .8 2.2-.9 2.2 .6 2.2 .2 2.2 .8 2.3-.1 2.2 0 2.2-1.6 2.2 1.1 2.2 1.4 2.2-1.5 2.2-1 2.2 .9 2.2-.5 2.2 1.4 2.2-1.5 2.2 0 2.2-2.3 2.2 1.4 2.2 .2 2.2 .2 2.2-1.3 2.2 1.2 2.2-1.9 2.2-.5 2.2 .5 2.2-.6 2.2 .6 2.2-1.2 2.3-4.2 2.2 .7 2.2 .9 2.2 0 2.2 .6 2.2 0 2.2-1.1 2.2-.9 2.2 3.7 2.2-2.9 2.2-.2 2.2-.4 2.2 .8 2.2-1.2 2.2-.6 2.2-.1 2.2-1.2 2.2-1.2 2.2-.8 2.2 .8 2.2 .6 2.2 2.1 2.2 .7 2.2 1.5 2.3-.1 2.2 2.7 2.2 1.2 2.2 .5 2.2 0 2.2 1.4 2.2-.5 2.2 1.4 2.2-.1 2.2 .8 2.2-1 2.2 1.4 2.2-.6 2.2 .6 2.2-.1 2.2 2.3 2.2-1.3 2.2-.1 2.2 1.6 2.2-2.7 2.2 1.7 2.2 .6 2.2-.5 2.3-1.1 2.2 .5 2.2 1.7 2.2-.7 2.2-1.5 2.2-1.3 2.2 .5 2.2 3.1 2.2-1.3 2.2 2.3 2.2-1.9 2.2-1.4 2.2-.3 2.2 .7 2.2 .2 2.2-.4 2.2 2.7 2.2-2 2.2 .3 2.2 1.1 2.2-3.4 2.2 3 2.2-.4 2.2 .3 2.3 .3 2.2-.6 2.2 1 2.2-2.3 2.2-.1 2.2-.1 2.2 1.8 2.2-.1 2.2-1.3 2.2 .6 2.2-.9 2.2 1.5 2.2-.9 2.2 .1 2.2-.9 2.2 2.6 2.2-2.9 2.2-1.2 2.2 .7 2.2-5.5 2.2 2.9 2.2 3.8 2.2 .3 2.2 .8 2.3-2.6 2.2 1.6 2.2-.8 2.2 .6 2.2-.6 2.2 .9 2.2 .2 2.2 .1 2.2 .3 2.2-1 2.2 .2 2.2-1.5 2.2 1.8 2.2-1.1 2.2 1.3 2.2 .9 2.2-.5 2.2 1.3 2.2-1.8 2.2-.8 2.2 1.5 2.2-.4 2.2 1.7 2.3-1.7 2.2-.7 2.2 1.4 2.2-.7 2.2-.8 2.2 1 2.2 .2 2.2-1.1 2.2 .3 2.2 .5 2.2 .6 2.2-2.4 2.2-.3 2.2 2.6 2.2-.3 2.2-1.2 2.2-.6 2.2 1.6 2.2 .7 2.2-2.2 2.2 3.7 2.2-1.9 2.2-1.5 2.2-.8 2.3 0 2.2 1.3 2.2 .3 2.2 1.2 2.2-1.2 2.2-2.3 2.2 2.1 2.2-1.2 2.2 2.3 2.2-.1 2.2-1.1 2.2 .3 2.2 1.1 2.2 .7 2.2-2.1 2.2 1.1 2.2-.9 2.2 1.3 2.2-1.4 2.2 .4 2.2 .6 2.2 .3 2.2-.1 2.2-2.2 2.3 4.7 2.2-.9 2.2-.6 2.2-1.1 2.2 1 2.2-1.5 2.2-1.4 2.2 2.9 2.2-.2 2.2-.9 2.2-.1 2.2-.1 2.2 .1 2.2 1.9 2.2-.7 2.2-2.5 2.2 1.8 2.2-1.8 2.2 .5 2.2-.1 2.2 .1 2.2 .7 2.2-1.5 2.3-1.1 2.2 1 2.2 .9 2.2 .6 2.2-1.2 2.2 .5 2.2-1 2.2 .8 2.2 2.3 2.2-1.8 2.2-1.6 2.2 .6 2.2 .4 2.2-.5 2.2 1.1 2.2 .7 2.2-.8 2.2-.1 2.2 1 2.2-.3 2.2 .7 2.2-1.9 2.2 2.3 2.2-3.2 2.3 2 2.2-2 2.2 3.6 2.2-.9 2.2-.2 2.2-.6 2.2 .5 2.2 .3 2.2-1.7 2.2 1.4 2.2 1.3 2.2 .3 2.2 .6 2.2-2.1 2.2-1.7 2.2 .1 2.2 .8 2.2 1.5 2.2-1.3 2.2 0 2.2 .6 2.2-.4 2.2 .4 2.2 1.6 2.3-1.3 2.2-.9 2.2 .4 2.2-.3 2.2 .2 2.2-.4 2.2 .2 2.2-1 2.2 2 2.2 .7 2.2-2 2.2 .8 2.2-.8 2.2-.9 2.2 1.6 2.2-2 2.2 2.1 2.2-.8 2.2 1.2 2.2-1.1 2.2-.4 2.2 .1 2.2 1.2 2.3 1 2.2-.7 2.2-1.5 2.2 0 2.2 3.6 2.2-3 2.2 1.5 2.2-1.6 2.2-.8 2.2 1.3 2.2 0 2.2 .1 2.2 .9 2.2-.4 2.2 .4 2.2-1.2 2.2-.1 2.2-1.7 2.2 1.7 2.2 .8 2.2-.7 2.2 1.3 2.2-1.9 2.2 .5 2.3-.2 2.2 .8 2.2 0 2.2 1.1 2.2-1.4 2.2-.1 2.2 1 2.2-2.2 2.2 .9 2.2 1.1 2.2-1.6 2.2 .8 2.2 0 2.2 .5 2.2-1.2 2.2 .6 2.2 .8 2.2 .2 2.2-1.9 2.2 1.8 2.2-1.8 2.2-1.1 2.2 .1 2.2-1.4 2.3 4.4 2.2-1.3 2.2-.3 2.2-.2 2.2-.6 2.2 .7 2.2 .1 2.2 1.3 2.2-2 2.2 2.5 2.2-1.2 2.2 .8 2.2-1.1 2.2 .4 2.2-.1 2.2 0 2.2 .2 2.2-.6 2.2-1.1 2.2 1.9 2.2-3.1 2.2 2.8 2.2 .9 2.2 1 2.3-1.9 2.2-.6 2.2 1.4 2.2-1.3 2.2 .3 2.2-1.6 2.2 1.7 2.2-1.2 2.2 .5 2.2 .6 2.2-1.3 2.2 .9 2.2 0 2.2-.2 2.2-.2 2.2 .4 2.2-.1 2.2 .6 2.2-.4 2.2-.1 2.2-1.6 2.2 .1 2.2 1.1 2.3 .6 2.2-2.7 2.2 .8 2.2 1.2 2.2 1.3 2.2-.4 2.2-.5 2.2 .3 2.2-1.9 2.2 .2 2.2 3.3 2.2-2.1 2.2 .8 2.2-.5 2.2 1.2 2.2-1.5 2.2 2.7 2.2-3.1 2.2 .1 2.2 .5 2.2 1.3 2.2-.1 2.2-.9 2.2-1.9 2.3 .4 2.2-.1 2.2-.3 2.2 .3 2.2 .4 2.2-.4 2.2 .2 2.2 .8 2.2-.9 2.2 0 2.2-.3 2.2 1.3 2.2-2.7 2.2 .5 2.2 0 2.2 .5 2.2-.2 2.2-.4 2.2 .5 2.2-.8 2.2-.3 2.2-.9 2.2 2.4 2.2-1.5 2.3-.3 2.2-2.2 2.2 .4 2.2 .1 2.2 2 2.2-1.9 2.2-.1 2.2 .8 2.2-2.9 2.2 1.7 2.2-1.7 2.2-1 2.2 2.5 2.2-1.4 2.2 .1 2.2-4.1 2.2 4.7 2.2-2 2.2 .1 2.2-.3 2.2-.9 2.2-.2 2.2-.7 2.3 .8 2.2-3 2.2 1.9 2.2 0 2.2-1.7 2.2 .5 2.2-.9 2.2-.2 2.2-1.9 2.2-1.3 2.2-1.4 2.2 .2 2.2-.9 2.2 .1 2.2-.4 2.2 1.6 2.2-.5 2.2 .2 2.2-2.8 2.2 2 2.2-2 2.2 .6 2.2 .9 2.2-1.1 2.3 .3 2.2 1.1 2.2 2.1 2.2 .9 2.2-1.2 2.2-.2 2.2 2.5 2.2 .3 2.2-2.5 2.2 1.4 2.2-.2 2.2-.5 2.2 1.4 2.2-1.5 2.2-.7 2.2 2.1 2.2-.3 2.2 .3 2.2-1.2 2.2 3 2.2-4 2.2-1.7 2.2 1.2 2.2-1.9 2.3-2.4 2.2 .4 2.2-.1 2.2-1.3 2.2-1.4 2.2-.8 2.2-2.6 2.2-2.2 2.2-2.3 2.2-3.7 2.2-3.5 2.2-1.8 2.2-.5 2.2-6.6 2.2-1.7 2.2-6.4 2.2-5.8 2.2-11.3 2.2-13.1 2.2-13.5 2.2-16.5 2.2-9.6 2.2-4.8 2.3 2.9 2.2 4.6 2.2 4.9 2.2-4.9 2.2-.5 2.2-.5 2.2-.6 2.2 .4 2.2-3.6 2.2-6.1 2.2-4.3 2.2-6.5 2.2-4.2 2.2 4.9 2.2 9.1 2.2 14.6 2.2 11 2.2 13.4 2.2 8.1 2.2 11 2.2 3.3 2.2 7.5 2.2 5.1 2.2 7.2 2.3 4.8 2.2 3.8 2.2 3.2 2.2 4.3 2.2 3.3 2.2 1.1 2.2 2.8 2.2 .7 2.2 .5 2.2 1.7 2.2 .5 2.2 2.2 2.2-.1 2.2 .2 2.2 2.1 2.2 2.1 2.2-.8 2.2 2.2 2.2-.8 2.2-1.3 2.2 2.2 2.2-.8 2.2 .4 2.2 2 2.3-.3 2.2-.7 2.2 .9 2.2 .1 2.2-.4 2.2 .7 2.2 2.3 2.2-2.6 2.2 0 2.2-.4 2.2 1.4 2.2-.8 2.2-.8 2.2 .1 2.2 1 2.2 .7 2.2-1.4 2.2 .6 2.2 1.2 2.2 .9 2.2-2 2.2-3.1 2.2 3.2 2.3 .6 2.2-2.7 2.2 .3 2.2 .7 2.2-1.7 2.2 .6 2.2-1.7 2.2-1.9 2.2-.3 2.2-1.8 2.2 .4 2.2 .3 2.2 2 2.2 3.8 2.2 1.1 2.2-.4 2.2 .5 2.2 1.5 2.2-1.3 2.2 .9 2.2 .6 2.2 .3 2.2 .2 2.2-.5 2.3 .7 2.2 .6 2.2 1.7 2.2-1.2 2.2 .5 2.2-.7 2.2 1.5 2.2-2.1 2.2 2.9 2.2-2.3 2.2 1 2.2-.9 2.2 1.8 2.2-.1 2.2-.1 2.2 .8 2.2-1.2 2.2 2.3 2.2 1.2 2.2 .3 2.2-3.5 2.2 3.3 2.2-1 2.2 1.6 2.3-1.6 2.2 .3 2.2-.3 2.2 .9 2.2-.2 2.2 2.5 2.2-1.8 2.2 1.6 2.2-.2 2.2-1.8 2.2 1.2 2.2-.2 2.2 2.5 2.2-1.2 2.2 .6 2.2 1 2.2-1.1 2.2 .5 2.2-.6 2.2 .4 2.2-.6 2.2-1.4 2.2 .1 2.3 .6 2.2-.2 2.2 2.1 2.2-1.9 2.2 2 2.2-1.3 2.2 .4 2.2 .6 2.2-1.9 2.2-.7 2.2 1.4 2.2 .4 2.2 .5 2.2-.7 2.2 .6 2.2-1.3 2.2 2 2.2 .3 2.2-.1 2.2-.6 2.2 .5 2.2-1.1 2.2 1.4 2.2-1.1 2.3 .6 2.2 .7 2.2-.8 2.2 .3 2.2-1.4 2.2 1.4 2.2-.5 2.2-.1 2.2 1.7 2.2-1.5 2.2 2.4 2.2-.9 2.2-2.2 2.2 2.6 2.2-2.2 2.2 1.7 2.2 .4 2.2-2.5 2.2 1.1 2.2 .8 2.2 1.8 2.2-1.4 2.2-.1 2.2-1.4 2.3 0 2.2 1.2 2.2-2.7 2.2 1.2 2.2-.2 2.2 2.1 2.2 .4 2.2-1 2.2 1.4 2.2-.1 2.2-.4 2.2-.2 2.2-1.8 2.2 .7 2.2 1 2.2 .8 2.2 .1 2.2-.7 2.2-.9 2.2 1.8 2.2-1 2.2-.5 2.2 .5 2.3 2.3 2.2-2.1 2.2 1.2 2.2-1 2.2 .7 2.2 1 2.2 1.4 2.2-2.2 2.2-1.8 2.2 .8 2.2-.8 2.2 2.5 2.2 0 2.2-3 2.2 1.3 2.2 1.7 2.2-1.8 2.2 1.6 2.2 .9 2.2-1.4 2.2 1.4 2.2-2.9 2.2 1.5 2.2 .6 2.3-1.3 2.2 .4 2.2 0 2.2 1.1 2.2-.8 2.2-1.6 2.2 3.2 2.2-1.8 2.2 .5 2.2-.3 2.2 .2 2.2 .7 2.2-.2 2.2-.3 2.2-.7 2.2 2.3 2.2-2.3 2.2-.1 2.2 2.8 2.2-.7 2.2-.1 2.2-.1 2.2-.4 2.2 .2 2.3-.7 2.2-.2 4.4 .9"/>
<path stroke="#7B2B2A" d="M268.6 868.1l2.2-1.9 2.3 1.7 2.2-.7 2.2-.3 2.2-.2 2.2 .8 2.2-1.2 2.2 .6 2.2 2 2.2-3.6 2.2 .5 2.2 .9 2.2-1 2.2 1.8 2.2-.9 2.2-.2 2.2 1.9 2.2-1.6 2.2-1 2.2 .3 2.2 2.2 2.2-2.6 2.2 3.5 2.2-2.3 2.2-.8 2.3 .3 2.2 1.1 2.2-1.8 2.2-1.4 2.2 1.4 2.2 .5 2.2 .7 2.2 1 2.2 .1 2.2-1.5 2.2-.6 2.2 .6 2.2 1.3 2.2-2.4 2.2 1.1 2.2 .6 2.2-1.4 2.2 1.1 2.2-.9 2.2 .8 2.2-.5 2.2-1.1 2.2 .1 2.3 .4 2.2-.3 2.2 .7 2.2-.4 2.2 .5 2.2 1.2 2.2 .8 2.2-2.2 2.2 .7 2.2-1.2 2.2 1.5 2.2-.7 2.2-.4 2.2 .8 2.2-.4 2.2 2.7 2.2-2.1 2.2-1.2 2.2 .5 2.2-1 2.2 2.4 2.2-.4 2.2-.3 2.2-.7 2.3 .1 2.2 .9 2.2-.1 2.2-1.5 2.2 .9 2.2 0 2.2-1 2.2 1.6 2.2-1 2.2 1.3 2.2-1.9 2.2 1 2.2-.7 2.2 0 2.2-2.3 2.2 .2 2.2-.8 2.2 1 2.2 .9 2.2 .2 2.2-.7 2.2 1.6 2.2-.4 2.2-.4 2.3-.1 2.2 2.4 2.2-1.4 2.2 1.3 2.2-.1 2.2-1.8 2.2-.8 2.2-.2 2.2 1.1 2.2-.3 2.2-.7 2.2 .9 2.2-.2 2.2-2.1 2.2-1 2.2 2.7 2.2-1 2.2-.2 2.2 .2 2.2-1 2.2-.4 2.2 2.3 2.2 .9 2.3-.9 2.2-.4 2.2-2.1 2.2 2 2.2-.2 2.2-.2 2.2 1.4 2.2-2.6 2.2 1.4 2.2 .9 2.2-1.4 2.2 .4 2.2-2.9 2.2 2.6 2.2-1.3 2.2 1.6 2.2-1.7 2.2 .9 2.2-1.6 2.2-.9 2.2 1.2 2.2-.8 2.2 1.2 2.2-2.2 2.3-1.1 2.2-.3 2.2-.1 2.2 .7 2.2-.2 2.2-2.1 2.2-2.8 2.2-3.1 2.2 2.1 2.2-2.9 2.2-.8 2.2 .4 2.2 2.3 2.2-.8 2.2 .3 2.2 .3 2.2 1.3 2.2 .1 2.2 .1 2.2-.3 2.2 1.5 2.2 .6 2.2 1.8 2.2 1.6 2.3-.4 2.2 2.1 2.2 1.2 2.2 .7 2.2 .6 2.2-1.3 2.2 2.9 2.2 .1 2.2-.2 2.2 .8 2.2-.9 2.2 .8 2.2-1.7 2.2 1.3 2.2-1.3 2.2 3.9 2.2-.4 2.2-1.1 2.2 2.1 2.2-3.6 2.2 3.1 2.2-1.4 2.2 .4 2.3-1.5 2.2 .9 2.2 .9 2.2-.4 2.2-.2 2.2-1.1 2.2 1.3 2.2 1.2 2.2-1.8 2.2 2.1 2.2-.9 2.2-2.5 2.2 .3 2.2 1.6 2.2-.1 2.2-.7 2.2 1.3 2.2-.1 2.2-.6 2.2 1.3 2.2-2.6 2.2 3.1 2.2-1.8 2.2 1.2 2.3-1.4 2.2 1.2 2.2-.5 2.2-.5 2.2 .4 2.2-1.2 2.2 2.9 2.2-1.6 2.2-.4 2.2-.1 2.2-1.5 2.2 3.2 2.2-2.1 2.2 .3 2.2-1.4 2.2 2.1 2.2 .2 2.2-3 2.2 1.1 2.2-6.6 2.2 5.2 2.2 3.3 2.2-.1 2.2-2 2.3-.4 2.2 .5 2.2 .4 2.2-.2 2.2-.3 2.2 1.3 2.2 .3 2.2 1.2 2.2-.6 2.2 .2 2.2-2.9 2.2 .4 2.2 1.5 2.2-.9 2.2-.5 2.2 3.2 2.2-2.1 2.2 1.1 2.2-1.4 2.2-1.1 2.2 2.8 2.2-2 2.2 2.5 2.3-1.9 2.2 .2 2.2 1.9 2.2-1.3 2.2 .3 2.2 1.2 2.2-2.1 2.2-1.2 2.2 1 2.2 .1 2.2 .8 2.2-2 2.2 .1 2.2 2.4 2.2-1.1 2.2-.5 2.2-.7 2.2 .2 2.2 2.7 2.2-1.1 2.2 1.8 2.2-2.5 2.2-2.3 2.2 1 2.3 .5 2.2 .2 2.2 1.5 2.2 .9 2.2-2.6 2.2-1.7 2.2 1 2.2 1.3 2.2 2 2.2-.2 2.2-.7 2.2-1.3 2.2 1.8 2.2 .1 2.2-2.1 2.2 .8 2.2 .1 2.2 1 2.2-1.3 2.2-1 2.2 1.2 2.2-.7 2.2 1.1 2.2-1.7 2.3 4 2.2-1.8 2.2 .8 2.2-.6 2.2-.3 2.2-.8 2.2-.7 2.2 1.7 2.2-.2 2.2-1.8 2.2 2.8 2.2-1.9 2.2 1.3 2.2-.8 2.2 1.8 2.2-1.6 2.2-1.2 2.2 .1 2.2-1.1 2.2 1.6 2.2-.3 2.2-.2 2.2 1.2 2.3-1.7 2.2-.1 2.2 .1 2.2 2.9 2.2-2.1 2.2-.2 2.2-1.9 2.2 1.9 2.2 1.1 2.2-.8 2.2-.6 2.2-.7 2.2 1.8 2.2-2 2.2 2.4 2.2 .8 2.2-1.7 2.2-.7 2.2 .3 2.2 1.1 2.2-.6 2.2-1 2.2 2.3 2.2-3.2 2.3 3.4 2.2-2.3 2.2 1.7 2.2-1.3 2.2-.2 2.2-.1 2.2 .6 2.2 .8 2.2-.9 2.2 .7 2.2 1.3 2.2 .1 2.2 .9 2.2-1.4 2.2-2.2 2.2 .9 2.2 .7 2.2 0 2.2-1.1 2.2 1.2 2.2 0 2.2 .1 2.2 .2 2.2 .3 2.3-2 2.2 1.9 2.2 .7 2.2-.8 2.2 .8 2.2-.6 2.2-.1 2.2-2 2.2 1.5 2.2-.6 2.2-.4 2.2 .6 2.2-.8 2.2 1.7 2.2-1.8 2.2 0 2.2 .1 2.2 1.9 2.2-1.6 2.2 0 2.2-.2 2.2 .4 2.2 .4 2.3 0 2.2-.4 2.2-.9 2.2-.5 2.2 4.7 2.2-3.5 2.2 1.8 2.2-2 2.2-.2 2.2 .3 2.2-.3 2.2 .7 2.2-.2 2.2 1.7 2.2-1 2.2-.2 2.2-.8 2.2-.9 2.2 1 2.2 1.1 2.2-.8 2.2 1.1 2.2-.6 2.2-.8 2.3 .2 2.2 .8 2.2 .6 2.2-.1 2.2-1.8 2.2 .4 2.2 1.5 2.2-2.1 2.2 1.3 2.2 .4 2.2-2.4 2.2 2.4 2.2-.7 2.2 .7 2.2-2.4 2.2 2.5 2.2-1.4 2.2 1.9 2.2-1.1 2.2 .6 2.2-.4 2.2-1.3 2.2 .7 2.2-2.7 2.3 3.9 2.2 0 2.2-.1 2.2-.3 2.2-2.4 2.2 1.1 2.2 .9 2.2 .1 2.2-2.1 2.2 2.8 2.2-.8 2.2-.2 2.2-.6 2.2 2.4 2.2-2.4 2.2 .1 2.2-.7 2.2-1.3 2.2 1.5 2.2 1.6 2.2-2.8 2.2 3.8 2.2 .3 2.2-.7 2.3-1.2 2.2 .1 2.2 1.6 2.2-2.5 2.2 1 2.2-.7 2.2 .3 2.2-.2 2.2-.2 2.2 1.3 2.2-1 2.2 .4 2.2-1.2 2.2 0 2.2 .5 2.2 0 2.2 .2 2.2 .9 2.2-1.1 2.2 .5 2.2-.5 2.2-.9 2.2 1.3 2.3 .3 2.2-2.1 2.2 .1 2.2 1.5 2.2-.2 2.2 .9 2.2-1.5 2.2-.4 2.2-.4 2.2 1.7 2.2-.6 2.2-.3 2.2 .3 2.2-.2 2.2-.3 2.2 .9 2.2 .6 2.2-1 2.2-.4 2.2 .4 2.2 .2 2.2 1.2 2.2-.1 2.2-.6 2.3-.9 2.2-.1 2.2 .1 2.2-1.6 2.2 .9 2.2 0 2.2-.4 2.2 .3 2.2-.8 2.2 1.2 2.2 .2 2.2-.4 2.2-1.8 2.2 2 2.2-2.5 2.2 .3 2.2 1.5 2.2 .8 2.2 0 2.2-1.6 2.2-.8 2.2 .1 2.2 2.8 2.2-1.9 2.3-.1 2.2-1.4 2.2-1.3 2.2 1.2 2.2 .6 2.2-2 2.2-.7 2.2 1.7 2.2-2.8 2.2 2.5 2.2-2.5 2.2-.5 2.2 2.4 2.2-.2 2.2-2 2.2-1.9 2.2 3.3 2.2-1.6 2.2 0 2.2-.1 2.2-.5 2.2-1.2 2.2 .5 2.3-.8 2.2-2.5 2.2 2.4 2.2-1.6 2.2 1.1 2.2-1.3 2.2 0 2.2-1.5 2.2-.5 2.2-1.7 2.2-.4 2.2 .8 2.2-1.3 2.2 0 2.2-2.4 2.2 .3 2.2 .8 2.2-1.5 2.2-2 2.2 1.3 2.2-.6 2.2-2 2.2 .6 2.2 .9 2.3 .5 2.2 2.2 2.2 .7 2.2 .6 2.2 .1 2.2-.5 2.2 1.7 2.2 1.4 2.2-1.1 2.2 1.6 2.2 .4 2.2-.7 2.2 2.4 2.2-2.6 2.2-.5 2.2 1.1 2.2 .6 2.2-.5 2.2 1.1 2.2 2.5 2.2-4.2 2.2 0 2.2-.7 2.2-1.2 2.3-1 2.2-.4 2.2 1 2.2-.7 2.2-2.1 2.2-.5 2.2-3.7 2.2-.3 2.2-2.7 2.2-3.3 2.2-4.9 2.2-2.3 2.2-2 2.2-8.4 2.2-3.9 2.2-9.3 2.2-6.2 2.2-11.7 2.2-11.2 2.2-13 2.2-12.7 2.2-10.5 2.2-7.7 2.3-1.5 2.2 2.1 2.2 3.2 2.2 .6 2.2 3.9 2.2 .5 2.2-2 2.2-2.8 2.2-5.1 2.2-6.5 2.2-6.6 2.2-3.1 2.2 .9 2.2 9.5 2.2 9.3 2.2 11.9 2.2 7.5 2.2 8.9 2.2 8.5 2.2 9.9 2.2 7 2.2 8.9 2.2 7.1 2.2 9.8 2.3 5.1 2.2 6.3 2.2 3.4 2.2 2.9 2.2 1.7 2.2 2.9 2.2 .6 2.2 1.8 2.2 .6 2.2 .2 2.2 2.2 2.2 .8 2.2-.1 2.2 .2 2.2 1.1 2.2 2 2.2 .2 2.2 1.8 2.2 .8 2.2-1.6 2.2 .9 2.2 .8 2.2-.1 2.2 0 2.3-.5 2.2-1.4 2.2 2.4 2.2 .3 2.2-1.3 2.2-.8 2.2 2.5 2.2-1.9 2.2 .6 2.2-.7 2.2-.2 2.2-1.2 2.2 0 2.2 .5 2.2 1 2.2-.2 2.2-1.3 2.2-.3 2.2 1.8 2.2 1.1 2.2-1.6 2.2-2.6 2.2 2.7 2.3 .8 2.2-3.2 2.2 1.3 2.2 0 2.2-1.6 2.2 1.4 2.2-2.5 2.2-1.8 2.2-1.4 2.2-2.2 2.2 2.3 2.2 .2 2.2 1.7 2.2 2.8 2.2 1.3 2.2-2 2.2 3.3 2.2 1 2.2-.1 2.2 0 2.2 1.5 2.2 .5 2.2-.5 2.2 .5 2.3 .9 2.2 .7 2.2 1.7 2.2-3.1 2.2 2.6 2.2-.5 2.2 3.3 2.2-3.7 2.2 1.7 2.2-.4 2.2-.6 2.2 .6 2.2 .1 2.2 .9 2.2 0 2.2-.4 2.2-1.2 2.2 .7 2.2-.7 2.2 2 2.2-2.5 2.2 3.1 2.2-2.1 2.2 1.7 2.3-.9 2.2 .7 2.2-.3 2.2 .8 2.2-1.8 2.2 3.5 2.2-2.2 2.2 1.6 2.2 .5 2.2-1.8 2.2 .9 2.2-1.1 2.2 .9 2.2-.7 2.2 2.3 2.2 2 2.2-.5 2.2-.8 2.2 .2 2.2-1.2 2.2 1.1 2.2-.7 2.2 2 2.3-.8 2.2-.5 2.2 .3 2.2 .2 2.2 1.1 2.2-1.5 2.2 .7 2.2 1.4 2.2-1.4 2.2 .9 2.2 1 2.2 .4 2.2-1.2 2.2 1.2 2.2-1 2.2-.9 2.2 1.2 2.2 .5 2.2-1.9 2.2 1.4 2.2 1.2 2.2-.1 2.2 1 2.2-2.5 2.3 2 2.2-1 2.2 .1 2.2 .2 2.2 .4 2.2-1 2.2-.4 2.2 0 2.2 1.2 2.2 .2 2.2 1 2.2 1.2 2.2-.9 2.2-.9 2.2-.4 2.2 .8 2.2 1.5 2.2-3.9 2.2 2.4 2.2 0 2.2 1.1 2.2-1.4 2.2 .9 2.2-1.7 2.3 1.3 2.2 .5 2.2-2.5 2.2-.1 2.2 .6 2.2 1 2.2 2.1 2.2-1 2.2 .9 2.2-1 2.2-.4 2.2 1.6 2.2-3.2 2.2 .7 2.2 1.3 2.2-.1 2.2 .8 2.2-1.5 2.2 .8 2.2 .4 2.2-.4 2.2 0 2.2 1.3 2.3 1.1 2.2-1.6 2.2 .7 2.2-.6 2.2 .6 2.2 .9 2.2-.6 2.2-.9 2.2-2.3 2.2-.4 2.2 2.1 2.2 1.3 2.2-1.1 2.2 .4 2.2-1.8 2.2 .4 2.2-.8 2.2 2.4 2.2 1 2.2-.2 2.2-.3 2.2-2.3 2.2 2.5 2.2 .6 2.3-1.8 2.2-.6 2.2 .2 2.2 .1 2.2-.2 2.2 .4 2.2 .7 2.2-.9 2.2 0 2.2-.2 2.2 .9 2.2-.7 2.2 1.5 2.2-.3 2.2-.7 2.2-.5 2.2 .3 2.2 0 2.2 1 2.2-.9 2.2 .9 2.2 .4 2.2-1.5 2.2 .5 2.3-.3 2.2-.1 4.4-.7"/>
<path stroke="#5F7B2D" d="M268.6 739.3l2.2-1.6 2.3 2.4 2.2-1.9 2.2 .4 2.2-.2 2.2 1.8 2.2-.9 2.2-.4 2.2 .8 2.2-3.1 2.2 1.2 2.2 .9 2.2-.8 2.2 1.1 2.2-.2 2.2-1 2.2 1.6 2.2-1.5 2.2-1.6 2.2 1.1 2.2 1.8 2.2-2.4 2.2 2.6 2.2-1.1 2.2-1.4 2.3 1.9 2.2-2 2.2-.4 2.2-.9 2.2 1.7 2.2-.2 2.2 2.2 2.2 .4 2.2-.3 2.2-1.3 2.2-1.1 2.2 .6 2.2 1.3 2.2-1.5 2.2-.3 2.2 1.6 2.2-1.3 2.2 .7 2.2-.3 2.2 .9 2.2 .1 2.2-1.8 2.2 1 2.3 0 2.2-1.9 2.2 1 2.2 1.1 2.2-1.4 2.2 1.2 2.2 .5 2.2-.3 2.2 .3 2.2-.4 2.2 .7 2.2-1.6 2.2 .2 2.2 2.4 2.2-2 2.2 2.5 2.2-.9 2.2-2.1 2.2 1.1 2.2-1.2 2.2 1.4 2.2-.8 2.2-.4 2.2-.5 2.3-.1 2.2 .7 2.2 1 2.2-2.7 2.2 2.2 2.2 1.2 2.2-2.1 2.2 1.2 2.2-.2 2.2 1.3 2.2-1.9 2.2 .9 2.2-.8 2.2 1 2.2-3.1 2.2-.7 2.2-1.1 2.2 1.4 2.2 1.2 2.2 1.3 2.2 .3 2.2-.2 2.2-.7 2.2 1.1 2.3-.7 2.2 1.6 2.2-1 2.2 .5 2.2 .8 2.2-2 2.2-.9 2.2 1.1 2.2 1 2.2-1.3 2.2-.6 2.2 1.1 2.2-.2 2.2-1.8 2.2-.6 2.2 1.4 2.2-.4 2.2 .3 2.2 .7 2.2-.7 2.2-.2 2.2 .8 2.2 .1 2.3-.1 2.2-.7 2.2 .1 2.2 .7 2.2-.2 2.2-.9 2.2 .4 2.2 .1 2.2 1.3 2.2-.1 2.2-1.2 2.2-.5 2.2-2.5 2.2 3.5 2.2 .3 2.2-.8 2.2-1.3 2.2 1.2 2.2-1.6 2.2-.1 2.2 1.5 2.2-2.1 2.2 2.7 2.2-1.9 2.3-2.3 2.2 1.6 2.2-.8 2.2 .9 2.2 .7 2.2 .9 2.2-2.5 2.2-.5 2.2 2.4 2.2-3 2.2-.3 2.2 .1 2.2 2.2 2.2 .1 2.2-1.1 2.2 1.6 2.2-.2 2.2-.1 2.2 0 2.2-1.3 2.2 2 2.2-1 2.2 .1 2.2-.7 2.3 .1 2.2 1.1 2.2 .6 2.2 .5 2.2 .4 2.2-1.8 2.2 1.8 2.2 .1 2.2-.2 2.2-.4 2.2-.5 2.2 .4 2.2-1 2.2 .7 2.2-.4 2.2 2.4 2.2-2.1 2.2 .2 2.2 2.8 2.2-3.2 2.2 2.5 2.2-.6 2.2 .5 2.3-1.2 2.2 .2 2.2 1.4 2.2-1.7 2.2 .8 2.2-2.1 2.2 1 2.2 2.1 2.2-.7 2.2 1.7 2.2-2.8 2.2-.3 2.2-1.3 2.2 1.3 2.2 .2 2.2-.7 2.2 2.2 2.2 .2 2.2-2.1 2.2 .8 2.2-1.4 2.2 3.5 2.2-.8 2.2-.1 2.3 .2 2.2 .2 2.2 .6 2.2-1.4 2.2 0 2.2-.3 2.2 2.7 2.2-1.5 2.2-2.7 2.2 2.4 2.2-1.6 2.2 1.9 2.2-2.7 2.2 1.7 2.2-.8 2.2 1.1 2.2-.2 2.2-2.5 2.2 1.6 2.2-5.1 2.2 3.7 2.2 2.3 2.2-.5 2.2 .2 2.3-1.1 2.2 .7 2.2-1 2.2 .5 2.2-.7 2.2 1.4 2.2 .7 2.2 1.5 2.2 .2 2.2-1.1 2.2-1.5 2.2-.3 2.2 1.1 2.2-.4 2.2 1.4 2.2 .9 2.2-1.8 2.2 .4 2.2-.3 2.2-1.9 2.2 2.6 2.2 0 2.2 .5 2.3 .5 2.2-2 2.2 2 2.2-1.6 2.2-.6 2.2 1.4 2.2-.3 2.2-.1 2.2-1.1 2.2 .5 2.2 .3 2.2-1.2 2.2 .1 2.2 1.3 2.2-1.4 2.2 .1 2.2 .3 2.2-1 2.2 .4 2.2 1.8 2.2 .5 2.2-.9 2.2-2 2.2 .6 2.3 0 2.2 2 2.2 .4 2.2 .3 2.2-2.2 2.2-1.2 2.2 1.2 2.2-.6 2.2 2.4 2.2-.4 2.2-.9 2.2-.2 2.2 1.5 2.2 .3 2.2-1.2 2.2 .3 2.2-1 2.2 1.3 2.2-.9 2.2-1 2.2 .7 2.2 .2 2.2 .1 2.2-1.6 2.3 4.9 2.2-1.1 2.2 .1 2.2-1.3 2.2-.1 2.2-1.6 2.2-.1 2.2 1.3 2.2-.2 2.2-.1 2.2 1 2.2-.3 2.2-1.1 2.2 1.2 2.2 1.1 2.2-2.9 2.2 .9 2.2-.2 2.2-.5 2.2 .5 2.2 .1 2.2-.1 2.2 1 2.3-2.1 2.2 0 2.2-.5 2.2 2 2.2-.9 2.2-.7 2.2-.1 2.2 2 2.2-.8 2.2 .1 2.2-1.7 2.2 .6 2.2 1.1 2.2-1.3 2.2 .9 2.2 1.4 2.2-.6 2.2-.2 2.2 .2 2.2-1.6 2.2 1.2 2.2-.9 2.2 1.9 2.2-2.6 2.3 1 2.2 .1 2.2 1.4 2.2-.5 2.2 .2 2.2-1.1 2.2 .5 2.2 .8 2.2-.8 2.2 1.1 2.2-.5 2.2 .2 2.2 1 2.2-2.5 2.2-.9 2.2 .6 2.2 2.6 2.2-1.3 2.2-.2 2.2 .2 2.2 1 2.2-1.1 2.2 .7 2.2 .2 2.3-.1 2.2-1.2 2.2 1.3 2.2-.3 2.2 1.2 2.2 .2 2.2-1.4 2.2-2 2.2 2 2.2-.6 2.2 .3 2.2-.7 2.2-.4 2.2 0 2.2 .5 2.2-2.2 2.2 2.4 2.2 .1 2.2 .2 2.2-2 2.2 1.2 2.2 .8 2.2 .3 2.3 .7 2.2 .1 2.2-1.5 2.2-.5 2.2 2.2 2.2-1 2.2-.5 2.2-1 2.2 .3 2.2-.2 2.2 .9 2.2 .4 2.2-.6 2.2 .5 2.2 .6 2.2-.7 2.2-1.2 2.2-.9 2.2 2.5 2.2 0 2.2 .1 2.2-.1 2.2 .1 2.2-.8 2.3 .7 2.2 .1 2.2 .2 2.2 0 2.2-2.5 2.2 .9 2.2 1.7 2.2-2.1 2.2 2.3 2.2-.3 2.2-2 2.2 3.1 2.2-1.9 2.2 .2 2.2-2.1 2.2 1.5 2.2-1.3 2.2 .5 2.2 .1 2.2 1.2 2.2-1.5 2.2-1.3 2.2 1.7 2.2-2.9 2.3 4.4 2.2-.1 2.2 .6 2.2-.7 2.2-1.3 2.2 1.1 2.2 .6 2.2-.8 2.2-2.2 2.2 3 2.2-1.5 2.2 .6 2.2-.6 2.2 2 2.2-1.3 2.2-1.1 2.2 .3 2.2-.7 2.2 .2 2.2 2 2.2-2.9 2.2 1.5 2.2 1.5 2.2 .1 2.3-.7 2.2-.2 2.2 1.1 2.2-1.5 2.2 1.1 2.2-1.9 2.2 .5 2.2-.4 2.2 .7 2.2 .9 2.2-1.7 2.2 1.5 2.2-.2 2.2-.4 2.2 1.1 2.2-1.5 2.2 1.6 2.2-.8 2.2 .3 2.2-.3 2.2-2.7 2.2 2.2 2.2-.5 2.3 1.7 2.2-3.4 2.2 .8 2.2 1 2.2 1 2.2-.1 2.2-2.2 2.2 .4 2.2-.2 2.2 1.4 2.2 .6 2.2-.6 2.2 .2 2.2 .5 2.2 .5 2.2-1.6 2.2 2.7 2.2-1.8 2.2 .8 2.2 .1 2.2 .2 2.2 .3 2.2-.5 2.2-1.5 2.3 0 2.2 .4 2.2 0 2.2 0 2.2 .4 2.2-.9 2.2-.3 2.2 1 2.2-.9 2.2 1 2.2 .8 2.2-.6 2.2-1.5 2.2 1 2.2 .1 2.2-.7 2.2 .1 2.2-.5 2.2 1.8 2.2-2.4 2.2 .2 2.2-.3 2.2 1.5 2.2-1 2.3 1.2 2.2-1.7 2.2-.9 2.2-.2 2.2 2.7 2.2-2.3 2.2-1.6 2.2 1.8 2.2-1.4 2.2 1.9 2.2-2.7 2.2-.3 2.2 1.9 2.2 .1 2.2-1.2 2.2-3.3 2.2 4.2 2.2-1.5 2.2 1.2 2.2 .2 2.2-.8 2.2-.6 2.2 .4 2.3 .2 2.2-2.8 2.2 2 2.2-1 2.2 1.5 2.2-1.6 2.2-.9 2.2 1.6 2.2-1.5 2.2-.8 2.2 .6 2.2-.7 2.2-1.4 2.2 2.5 2.2-1.2 2.2 .8 2.2-1.3 2.2 .4 2.2-1.4 2.2 1.3 2.2-.3 2.2-.9 2.2-.6 2.2-.5 2.3-.5 2.2 1.1 2.2 .3 2.2-1 2.2-.8 2.2-1 2.2 2.1 2.2-.8 2.2-2.1 2.2 .5 2.2-.4 2.2 .3 2.2 .9 2.2-3.2 2.2-2.2 2.2 1.9 2.2-.6 2.2-.2 2.2-1 2.2 2.5 2.2-3.3 2.2-2.5 2.2 .4 2.2-.8 2.3-2.9 2.2 .4 2.2 0 2.2-1.5 2.2-1.3 2.2 .2 2.2-2.7 2.2-.6 2.2-1.5 2.2-2.7 2.2-1.6 2.2-.6 2.2-.8 2.2-5.2 2.2-.9 2.2-3.1 2.2-1.4 2.2-2.2 2.2-1.7 2.2-3.8 2.2-3.4 2.2-3.1 2.2-3.8 2.3-2.4 2.2-3.1 2.2-2.7 2.2-6.3 2.2-.4 2.2-3.7 2.2-2.8 2.2-4.2 2.2-3.3 2.2-1.8 2.2-.5 2.2-.2 2.2-1.5 2.2 2.5 2.2 .8 2.2 4.5 2.2 1.1 2.2 2.7 2.2 2.8 2.2 4.4 2.2 1.2 2.2 2.7 2.2 3.6 2.2 3 2.3 2.1 2.2 4.2 2.2 1.7 2.2 1.7 2.2 3.2 2.2 1.7 2.2 2.3 2.2 1 2.2 1.9 2.2 1.5 2.2 1.6 2.2 .7 2.2 1.7 2.2-.8 2.2 4.9 2.2-1.2 2.2 2.7 2.2 2 2.2 .8 2.2 .2 2.2 2.2 2.2 1 2.2 .1 2.2 1.6 2.3 0 2.2 .3 2.2 1.9 2.2 .9 2.2-.2 2.2 .3 2.2 2.3 2.2-1 2.2 .1 2.2 .8 2.2 1 2.2-.3 2.2 .1 2.2 .8 2.2-.2 2.2 2.6 2.2-2.2 2.2 1.3 2.2-.1 2.2 2 2.2-.9 2.2-2.3 2.2 2.1 2.3 1.2 2.2-2.3 2.2 1.2 2.2 1.5 2.2-1.6 2.2 1.1 2.2-2.3 2.2-2.4 2.2-.7 2.2-5.3 2.2 3.3 2.2 3.9 2.2 1.1 2.2 3.7 2.2 0 2.2-.5 2.2 .7 2.2 .6 2.2 1.1 2.2-.3 2.2 .9 2.2 .6 2.2 .4 2.2 1.1 2.3 .7 2.2 1 2.2 2.9 2.2-1.8 2.2 .8 2.2-.6 2.2 1.7 2.2-1.5 2.2 1.9 2.2-.4 2.2-.3 2.2-.3 2.2 1.2 2.2 .1 2.2 .4 2.2 0 2.2-.6 2.2 1.1 2.2-.1 2.2-.1 2.2-2.3 2.2 2.3 2.2-.5 2.2 .1 2.3 .1 2.2 0 2.2-.7 2.2 1.8 2.2 .5 2.2 2 2.2-2 2.2 1.5 2.2-1.7 2.2-.4 2.2 .2 2.2-.3 2.2 1.2 2.2 .3 2.2-.7 2.2 1.5 2.2-.5 2.2 .9 2.2-1.5 2.2 .9 2.2 0 2.2-1.3 2.2 1.1 2.3-.7 2.2 0 2.2 1.3 2.2-.8 2.2 .8 2.2-1.8 2.2 1.5 2.2 .9 2.2-1.3 2.2-.9 2.2 1.7 2.2 .2 2.2-.3 2.2 .7 2.2-1.4 2.2-1.4 2.2 1.3 2.2 1.3 2.2-1.5 2.2 1.8 2.2 .7 2.2-1.2 2.2 0 2.2-.8 2.3 1.1 2.2-1.9 2.2 1.2 2.2-.6 2.2 1.6 2.2-.8 2.2 .4 2.2 .1 2.2 .6 2.2-.8 2.2 .7 2.2 1.8 2.2-2.2 2.2 .9 2.2-1.1 2.2-.3 2.2 2.7 2.2-1.5 2.2 0 2.2 .3 2.2 1.6 2.2-2.5 2.2 1.8 2.2-1.5 2.3-.9 2.2 2.8 2.2-2.7 2.2-.3 2.2 .8 2.2 1.5 2.2 .9 2.2-1.2 2.2 1.2 2.2-1.2 2.2 1.4 2.2 .8 2.2-3.4 2.2 1.9 2.2 .3 2.2 .9 2.2-.5 2.2-.8 2.2 .4 2.2-.6 2.2-.3 2.2 1 2.2 .6 2.3 1.8 2.2-1.9 2.2 .2 2.2-.1 2.2 .7 2.2 1.1 2.2-.7 2.2-.3 2.2-1.9 2.2-.2 2.2 1 2.2 1.7 2.2-1.1 2.2 .7 2.2-.1 2.2-1.1 2.2-.4 2.2 2.1 2.2 .5 2.2-1.6 2.2 .5 2.2-1.8 2.2 1.8 2.2 1.7 2.3-1.6 2.2-1.5 2.2 .7 2.2 .8 2.2 .3 2.2 .2 2.2-.6 2.2-1 2.2-.1 2.2 .4 2.2-.9 2.2 1.2 2.2 .3 2.2-.6 2.2-.5 2.2 1.9 2.2-1.1 2.2-.6 2.2 2.6 2.2-.7 2.2-.1 2.2-.2 2.2-.5 2.2 .6 2.3-.6 2.2 .1 4.4-.7"/>
<path stroke="#4B3866" d="M268.6 612.1l2.2-1.7 2.3 1.2 2.2 .5 2.2-.5 2.2-.4 2.2 .8 2.2-1 2.2 .5 2.2 1.5 2.2-3.8 2.2 .2 2.2 1.4 2.2 .1 2.2 .9 2.2-.6 2.2 .1 2.2 .3 2.2-1.4 2.2 .1 2.2 1.1 2.2 .6 2.2-2 2.2 2.2 2.2-1 2.2-1.1 2.3 1.3 2.2-1.1 2.2-1.4 2.2-.1 2.2-.1 2.2 .2 2.2 2.7 2.2-.2 2.2 .9 2.2-2.5 2.2 0 2.2 .7 2.2 0 2.2-1.8 2.2 .9 2.2 .5 2.2-.6 2.2-.6 2.2 1.1 2.2 1.9 2.2-2.5 2.2 .8 2.2-.8 2.3 0 2.2-1.1 2.2 1.6 2.2 .9 2.2-.7 2.2 .2 2.2 .8 2.2-.8 2.2 0 2.2-.8 2.2 1.8 2.2-1.8 2.2 .5 2.2 .8 2.2 .9 2.2 1.3 2.2-1 2.2-1.2 2.2 .2 2.2-1.4 2.2 2.3 2.2-.3 2.2-1.5 2.2-.2 2.3-.2 2.2 2.1 2.2-.6 2.2-.3 2.2-.2 2.2 .8 2.2-1.8 2.2 1.9 2.2 .3 2.2 .2 2.2-2.2 2.2 .4 2.2-.9 2.2 .1 2.2-.5 2.2-1.3 2.2-1.5 2.2 2.1 2.2 .4 2.2 .1 2.2 .2 2.2 .1 2.2 .8 2.2-.3 2.3 1.1 2.2-.3 2.2 .3 2.2 .2 2.2 .2 2.2-1.1 2.2-.4 2.2 .2 2.2 .2 2.2-.9 2.2 .5 2.2 .3 2.2 1 2.2-1.9 2.2-1.3 2.2 1.7 2.2-1 2.2 1.6 2.2-.6 2.2-.4 2.2-.7 2.2 1.5 2.2 1 2.3 .2 2.2-1.3 2.2-1 2.2 1 2.2-.8 2.2 .4 2.2 .3 2.2-2 2.2 2.3 2.2 .3 2.2-2.3 2.2 1.3 2.2-2 2.2 2.5 2.2-.3 2.2 .8 2.2-1.9 2.2 .8 2.2-1.2 2.2 .3 2.2 .6 2.2-1.7 2.2 2.9 2.2-1.3 2.3-2.7 2.2 1.1 2.2-1.5 2.2 1.3 2.2 1.3 2.2 .3 2.2-2.3 2.2-1.4 2.2 3.8 2.2-2.3 2.2 0 2.2-1.1 2.2 1.7 2.2 .9 2.2-1.3 2.2 1.3 2.2-.2 2.2-.1 2.2 .5 2.2 .1 2.2 0 2.2-.2 2.2 .2 2.2-.1 2.3-1.1 2.2 .4 2.2 1.3 2.2-.5 2.2-.3 2.2-.8 2.2 .8 2.2 1.5 2.2-.6 2.2 .2 2.2-1.4 2.2 2.8 2.2-1.6 2.2 .5 2.2-1.3 2.2 3.3 2.2-2 2.2-.6 2.2 2.2 2.2-2.8 2.2 2.6 2.2-.5 2.2-.9 2.3-1 2.2 .5 2.2 .6 2.2-.2 2.2-.6 2.2-.8 2.2 1.4 2.2 .4 2.2 .8 2.2 .2 2.2-1.3 2.2-2.4 2.2 1.1 2.2 .5 2.2 1.5 2.2-1.3 2.2 .8 2.2-.4 2.2 .9 2.2-.6 2.2-1.6 2.2 2.7 2.2-.6 2.2 1 2.3 0 2.2 .6 2.2-1.5 2.2-.9 2.2 .5 2.2-.7 2.2 1.8 2.2-.8 2.2-.8 2.2 1 2.2-.2 2.2 .3 2.2-1.1 2.2 1.4 2.2-2 2.2 1.6 2.2-2 2.2-.8 2.2 .7 2.2-5.8 2.2 4.5 2.2 3.1 2.2-.5 2.2 .4 2.3-1.8 2.2 1.4 2.2 .3 2.2-1.2 2.2-.3 2.2 1.3 2.2 1 2.2 1.3 2.2-1 2.2-1.3 2.2-.2 2.2-.1 2.2 1.3 2.2-.9 2.2 .7 2.2 .2 2.2-.6 2.2 2.6 2.2-2.5 2.2-1.7 2.2 2.5 2.2 .4 2.2 .5 2.3-.1 2.2-2.5 2.2 2.3 2.2 .1 2.2 .2 2.2 0 2.2-.7 2.2-.2 2.2-1.4 2.2 .5 2.2 1.4 2.2-1.8 2.2 .3 2.2 1.1 2.2-.4 2.2-.6 2.2-.5 2.2-.1 2.2 1.2 2.2-.1 2.2 2.3 2.2-2.7 2.2-1.4 2.2 2 2.3-1 2.2 .7 2.2 .8 2.2-.1 2.2-1 2.2-1.5 2.2 1.2 2.2-1.2 2.2 3.2 2.2-.3 2.2-.8 2.2-.6 2.2 .4 2.2 1.6 2.2-1 2.2-.1 2.2-.1 2.2 1.3 2.2-1.8 2.2 .5 2.2-.1 2.2-.3 2.2-.2 2.2-1.4 2.3 3.8 2.2-1.6 2.2 1.6 2.2-.9 2.2-1.5 2.2-.1 2.2-.2 2.2 2.8 2.2-.3 2.2-1.6 2.2 .8 2.2-.1 2.2-.6 2.2 1 2.2 .2 2.2-2.9 2.2 1.3 2.2-.5 2.2 .4 2.2-.6 2.2-.2 2.2 1 2.2-.1 2.3-2.1 2.2 .3 2.2 1 2.2 .6 2.2-.7 2.2 1.1 2.2-2.5 2.2 1.9 2.2 .9 2.2-.4 2.2-.7 2.2-.1 2.2 .9 2.2-2.5 2.2 2.2 2.2 1.2 2.2-2.1 2.2 0 2.2-.5 2.2 .4 2.2 .3 2.2-.9 2.2 2.6 2.2-3 2.3 2.9 2.2-2 2.2 1.6 2.2-.4 2.2 .6 2.2-1 2.2 .1 2.2 1 2.2-.9 2.2 .8 2.2 .2 2.2 .3 2.2 0 2.2-1.7 2.2-1.2 2.2-.2 2.2 2.3 2.2-.3 2.2-.9 2.2 1 2.2-.6 2.2-.4 2.2 1.2 2.2 1 2.3-1.6 2.2 0 2.2 .4 2.2 .6 2.2 .8 2.2 .4 2.2-1 2.2-2.4 2.2 2.1 2.2-.5 2.2-.1 2.2 .8 2.2-1.6 2.2 .2 2.2 .1 2.2-2.4 2.2 2.4 2.2 .4 2.2-.2 2.2-.8 2.2-.6 2.2 1.9 2.2 .2 2.3 .6 2.2-1.4 2.2-.7 2.2 .4 2.2 3.5 2.2-3.2 2.2 .4 2.2-.5 2.2-1.2 2.2 2.3 2.2-.7 2.2 .6 2.2-1.8 2.2 1.6 2.2-.6 2.2 1.4 2.2-2.7 2.2-.8 2.2 .9 2.2 1.6 2.2 .2 2.2-.7 2.2-.4 2.2 .7 2.3 .8 2.2-.5 2.2-1.1 2.2 .5 2.2-1.2 2.2 1.7 2.2 .5 2.2-1.5 2.2 .4 2.2 1.8 2.2-3.1 2.2 3.2 2.2-2 2.2 1.2 2.2-3.4 2.2 1.2 2.2 1.2 2.2 1.1 2.2-2.6 2.2 2.8 2.2-2.1 2.2-1.2 2.2 .8 2.2-1.6 2.3 3.5 2.2-.9 2.2-.1 2.2-.2 2.2 .1 2.2 .9 2.2-.2 2.2-.6 2.2-.4 2.2 1.6 2.2-.9 2.2 .9 2.2-1.3 2.2 1.6 2.2-1.7 2.2 .3 2.2-.6 2.2-1.4 2.2 .6 2.2 1.5 2.2-1.9 2.2 3.4 2.2 .2 2.2 .1 2.3-1.5 2.2-1.7 2.2 3 2.2-2.9 2.2 .1 2.2-.5 2.2 1.2 2.2-.7 2.2 .4 2.2 1.6 2.2-2.2 2.2 1.9 2.2-1.1 2.2-.8 2.2 1.2 2.2-.4 2.2 .7 2.2 .4 2.2-1.6 2.2 1 2.2-.7 2.2-.6 2.2 .8 2.3 1.4 2.2-3.8 2.2 .9 2.2 2 2.2 .6 2.2-.4 2.2-1.2 2.2 .4 2.2-.6 2.2 .2 2.2 1.6 2.2-.9 2.2 1.9 2.2-2 2.2 .3 2.2-.5 2.2 2 2.2-.9 2.2 .3 2.2 .2 2.2-1.3 2.2 .7 2.2-.7 2.2 0 2.3-.7 2.2 .8 2.2-.8 2.2 1 2.2-1.3 2.2 1.6 2.2-2 2.2 1.8 2.2-1.8 2.2 .2 2.2 2.3 2.2 0 2.2-3.1 2.2 2.3 2.2-1.2 2.2 .8 2.2-.4 2.2 .1 2.2 .4 2.2-.2 2.2-1.1 2.2 .6 2.2 .4 2.2 .6 2.3-1 2.2-.4 2.2-1.7 2.2 .6 2.2 1.5 2.2-.7 2.2-1.2 2.2 .8 2.2-1.8 2.2 .9 2.2-1 2.2-2.1 2.2 4.5 2.2-.6 2.2-.8 2.2-2.3 2.2 2.8 2.2-1.4 2.2 .5 2.2-.3 2.2 .7 2.2-.5 2.2-.4 2.3 2.2 2.2-5.2 2.2 3.1 2.2-.7 2.2 .1 2.2-.2 2.2-1.2 2.2 .3 2.2 1.2 2.2-3.9 2.2 1.3 2.2 .5 2.2-1.3 2.2 1.8 2.2-1 2.2 .9 2.2-.2 2.2-.6 2.2-1.5 2.2 1.1 2.2-2 2.2 .5 2.2 .3 2.2-.8 2.3-.5 2.2 .8 2.2 .5 2.2 .9 2.2-1.6 2.2-1.4 2.2 .3 2.2 .4 2.2-1.2 2.2 .2 2.2-.2 2.2 .4 2.2 .1 2.2-3.9 2.2-.2 2.2-.1 2.2 .6 2.2-1.3 2.2-.6 2.2 2.2 2.2-2.7 2.2-2.1 2.2-.1 2.2-.2 2.3-1.1 2.2-.3 2.2 .3 2.2-.8 2.2-1.8 2.2-1 2.2-1 2.2-1.4 2.2-1.7 2.2-2.3 2.2-.9 2.2-.9 2.2-1 2.2-4.3 2.2-.2 2.2-3.8 2.2 .7 2.2-2.7 2.2-2.5 2.2-4.3 2.2-3 2.2-2.2 2.2-3.4 2.3-3.4 2.2-1 2.2-2.7 2.2-5.4 2.2-.7 2.2-3.9 2.2-2 2.2-4.1 2.2-1.3 2.2-2.8 2.2-.2 2.2 .8 2.2-1.7 2.2 1.2 2.2 1 2.2 4.8 2.2 .1 2.2 2.5 2.2 2 2.2 4.6 2.2-.5 2.2 3 2.2 2.9 2.2 4.5 2.3 .1 2.2 5.2 2.2 1.4 2.2 2.6 2.2 1.9 2.2 1.1 2.2 2.1 2.2 .4 2.2 1.3 2.2 2.3 2.2 1.3 2.2 .8 2.2 .6 2.2 1.7 2.2 2.3 2.2 2.5 2.2 .2 2.2 2.3 2.2-.4 2.2 1.1 2.2 .7 2.2 .2 2.2 .8 2.2 1.6 2.3 .1 2.2-.2 2.2 2.6 2.2 .7 2.2-.3 2.2-.3 2.2 1.8 2.2-.5 2.2 1.1 2.2 .6 2.2 1.1 2.2-.8 2.2 .3 2.2 .6 2.2-1.2 2.2 2.2 2.2-.6 2.2-.7 2.2 1.3 2.2 1.9 2.2-1.7 2.2-2.9 2.2 3.4 2.3 1.1 2.2-2.8 2.2 1.8 2.2 .6 2.2-.3 2.2 .1 2.2-1.9 2.2-2.4 2.2-.5 2.2-3.5 2.2 2 2.2 3.2 2.2 .5 2.2 4.7 2.2-.3 2.2-.2 2.2 .6 2.2 .3 2.2-.9 2.2 1.7 2.2 1.4 2.2-.3 2.2 1.4 2.2-.7 2.3 2 2.2-.8 2.2 3.6 2.2-2.2 2.2 2.7 2.2-1.1 2.2 1.1 2.2-2.3 2.2 2.7 2.2-1.7 2.2 .5 2.2-.9 2.2 .8 2.2 .5 2.2 .3 2.2-1.1 2.2-.6 2.2 1.8 2.2 .5 2.2 0 2.2-1.9 2.2 2.6 2.2-1 2.2 .6 2.3 .2 2.2 .3 2.2-1.3 2.2 2.1 2.2-1.5 2.2 1.9 2.2-.2 2.2 0 2.2-.5 2.2-.9 2.2 1.7 2.2-2 2.2 1.9 2.2-.5 2.2 0 2.2 2.5 2.2-1.9 2.2-.7 2.2 1.3 2.2 0 2.2-.8 2.2-1.2 2.2 1.1 2.3-.4 2.2 0 2.2 1.6 2.2 0 2.2-.7 2.2-1.5 2.2 1.5 2.2 1.5 2.2-.6 2.2-1.8 2.2 1.3 2.2 .4 2.2-.4 2.2 .5 2.2-.6 2.2-1.5 2.2 .8 2.2 .3 2.2-.7 2.2 2.2 2.2 1.2 2.2-1.4 2.2-.4 2.2-.3 2.3 .8 2.2 .3 2.2-1 2.2-.9 2.2 .2 2.2 .5 2.2-.2 2.2 1.9 2.2 .1 2.2-.7 2.2 .3 2.2 .9 2.2-1.2 2.2 .5 2.2-1.5 2.2 2 2.2 .2 2.2-2.3 2.2 .6 2.2 1.8 2.2 1.2 2.2-3.1 2.2 1.5 2.2-.9 2.3-.2 2.2 1.1 2.2-1.9 2.2 .7 2.2 .1 2.2 .4 2.2 1.7 2.2-.1 2.2 .6 2.2 0 2.2-.9 2.2 .9 2.2-2.8 2.2 .4 2.2 .9 2.2 2.2 2.2 .1 2.2-.3 2.2-.4 2.2 .5 2.2-.4 2.2-.3 2.2-.2 2.3 1.3 2.2-1.1 2.2 .6 2.2-.9 2.2 .9 2.2 .8 2.2 0 2.2-1.4 2.2-.5 2.2-.5 2.2 1.1 2.2 2.1 2.2-1.2 2.2-2.2 2.2 .7 2.2 .6 2.2-1.2 2.2 1.9 2.2 2 2.2-1.2 2.2 .1 2.2-3.6 2.2 2.8 2.2 .9 2.3-.8 2.2-.8 2.2 .3 2.2 .3 2.2-1.1 2.2 .1 2.2 1 2.2-.2 2.2-.7 2.2 1.4 2.2-.9 2.2-.4 2.2 .1 2.2 .7 2.2-.4 2.2 1.1 2.2-.7 2.2-1.6 2.2 2.9 2.2-1.6 2.2 1.6 2.2-1.1 2.2-.8 2.2 .6 2.3-1.4 2.2 1.3 4.4-.5"/>
<path stroke="#22697E" d="M268.6 486.8l2.2-3 2.3 1.6 2.2-1.3 2.2 .6 2.2-.9 2.2 2.1 2.2-1.6 2.2 .2 2.2 1.4 2.2-4 2.2 2.3 2.2 .6 2.2-.9 2.2 .6 2.2-1.7 2.2 .5 2.2 2.3 2.2-2 2.2-.3 2.2 .1 2.2 1.6 2.2 .3 2.2-.4 2.2 0 2.2-.8 2.3 1.6 2.2-1.5 2.2-1.4 2.2-.8 2.2 2.4 2.2-.5 2.2 .4 2.2 .9 2.2-.4 2.2-.9 2.2 .1 2.2-.5 2.2 .7 2.2-1.7 2.2 .8 2.2 1.1 2.2 .1 2.2-.6 2.2 .9 2.2 .1 2.2-.6 2.2-1.1 2.2 .3 2.3 1.2 2.2-.9 2.2-1.3 2.2 1.4 2.2 .6 2.2-.7 2.2 .5 2.2-.6 2.2 .8 2.2-.3 2.2 .2 2.2-1.1 2.2-.2 2.2 1.7 2.2-.7 2.2 1.2 2.2-1.7 2.2-.4 2.2 1.3 2.2-1.9 2.2 2.1 2.2-1.5 2.2 .9 2.2-.7 2.3 .1 2.2 .5 2.2 .6 2.2-2.5 2.2 1.4 2.2 0 2.2-.5 2.2 1.3 2.2-.2 2.2 1.9 2.2-2.5 2.2 .8 2.2-1.8 2.2 .5 2.2-1.1 2.2-.4 2.2-.9 2.2 1.3 2.2-.7 2.2 1.5 2.2 1.3 2.2-1.4 2.2 .6 2.2 .5 2.3 1 2.2-.1 2.2 .3 2.2-1.1 2.2 .9 2.2-.8 2.2-1.6 2.2 .6 2.2 1.5 2.2-.6 2.2-1.4 2.2-.5 2.2 1.7 2.2-2 2.2-.3 2.2 .2 2.2 .5 2.2 .5 2.2-.4 2.2-.7 2.2 1.4 2.2-.4 2.2 2.1 2.3 .3 2.2-1.7 2.2-1.6 2.2 1 2.2 .7 2.2-.1 2.2-.6 2.2-.1 2.2 1.6 2.2 1 2.2-1.5 2.2 .2 2.2-1.2 2.2-.1 2.2-.3 2.2 .3 2.2-.9 2.2 1.4 2.2-1 2.2-.5 2.2 1.5 2.2-1 2.2 .3 2.2 .7 2.3-2.6 2.2 1 2.2-.8 2.2 1.3 2.2 .3 2.2-.6 2.2-1.8 2.2-1.9 2.2 3.1 2.2-.3 2.2 .1 2.2-1.8 2.2 1.6 2.2-.6 2.2 .2 2.2 1 2.2 1 2.2-1.1 2.2 0 2.2-1.1 2.2 1.8 2.2-.2 2.2-.1 2.2 .5 2.3-1 2.2 .7 2.2 .7 2.2-1.9 2.2 1.6 2.2-.8 2.2 .7 2.2 .6 2.2-.7 2.2-.4 2.2-.8 2.2 1.6 2.2-1.1 2.2 .6 2.2-.2 2.2 2.7 2.2-.9 2.2-1.5 2.2 2.2 2.2-2.4 2.2 2.1 2.2-.8 2.2 .9 2.3-1.3 2.2-.6 2.2 .5 2.2 .2 2.2 .4 2.2-2.9 2.2 2.4 2.2 1 2.2-.8 2.2 1.1 2.2-1.4 2.2-1.9 2.2-.1 2.2 1.4 2.2 .7 2.2-.9 2.2 2.2 2.2-.5 2.2-.8 2.2-.4 2.2 .2 2.2 1.4 2.2-.3 2.2 .7 2.3-.1 2.2-.8 2.2 1 2.2-2.3 2.2 .3 2.2 0 2.2 1.4 2.2 .1 2.2-1 2.2 .8 2.2-.8 2.2 1.4 2.2-1.9 2.2 1.1 2.2-1 2.2 .7 2.2 .3 2.2-3.6 2.2 2.3 2.2-6 2.2 5.7 2.2 1.4 2.2-.5 2.2 .9 2.3-1.8 2.2 .2 2.2 .5 2.2-.1 2.2-.7 2.2 .6 2.2 .2 2.2 1.8 2.2 .4 2.2-2.6 2.2 .5 2.2-.1 2.2-.3 2.2 .9 2.2-.5 2.2 1.6 2.2-.9 2.2 1.5 2.2-1 2.2-2.4 2.2 3.9 2.2-1.8 2.2 1.1 2.3-.5 2.2-.3 2.2 1.1 2.2-1 2.2 .1 2.2-.6 2.2-.6 2.2 1.2 2.2-.9 2.2 .5 2.2-.3 2.2-1.8 2.2 .4 2.2 2.9 2.2-2 2.2 .4 2.2-1.1 2.2-.8 2.2 2.9 2.2-.9 2.2 2.5 2.2-3 2.2-1.5 2.2 1.4 2.3-.5 2.2 2.6 2.2-.8 2.2 .3 2.2-2.4 2.2 .1 2.2 0 2.2 .7 2.2 2.6 2.2-1.3 2.2-.5 2.2 .1 2.2-.6 2.2 .7 2.2-.4 2.2-.1 2.2-.2 2.2 1 2.2-1.7 2.2 .5 2.2 .4 2.2 .9 2.2-.7 2.2-2.3 2.3 4 2.2-1 2.2 1.6 2.2-2.1 2.2 .7 2.2-.7 2.2-1.4 2.2 2 2.2-.6 2.2 .3 2.2 1.7 2.2-2.2 2.2-.7 2.2 .9 2.2 .8 2.2-2.1 2.2 1.2 2.2-1.6 2.2 .1 2.2 .3 2.2 1 2.2-.1 2.2 .1 2.3-1.6 2.2 .5 2.2 0 2.2 .8 2.2-1.3 2.2 .5 2.2-.3 2.2 .4 2.2 1 2.2-1.3 2.2 0 2.2 .6 2.2 .1 2.2-1.3 2.2 2.9 2.2-.4 2.2 .3 2.2-2.1 2.2 .8 2.2-1.3 2.2 1.2 2.2-1 2.2 1.6 2.2-2.5 2.3 2.3 2.2-1.9 2.2 2.1 2.2-.3 2.2 .2 2.2-1.1 2.2-.7 2.2 2.5 2.2 0 2.2 .4 2.2 .8 2.2-.7 2.2 .1 2.2-1.1 2.2-1 2.2-.6 2.2 1.7 2.2-.5 2.2-1 2.2 1.2 2.2 .8 2.2 .1 2.2-.3 2.2 .8 2.3-2.6 2.2 .4 2.2 2.3 2.2-2 2.2 1.4 2.2-.7 2.2 .1 2.2-1.1 2.2 1.5 2.2-.5 2.2-.8 2.2 1 2.2-.7 2.2-1 2.2 .5 2.2-1.5 2.2 1.9 2.2 1 2.2-1.8 2.2-.5 2.2-1.1 2.2 2.3 2.2 1.7 2.3-.1 2.2-.9 2.2 0 2.2-.6 2.2 1.7 2.2-1.2 2.2-.2 2.2-.9 2.2-2 2.2 2.5 2.2-.5 2.2 1.1 2.2-1 2.2 .8 2.2 .1 2.2 .1 2.2-2.5 2.2 .4 2.2 1.7 2.2 1.3 2.2-2.3 2.2 2.2 2.2-1.6 2.2 .8 2.3-1 2.2 1.8 2.2-1 2.2 .9 2.2-1.4 2.2 .7 2.2 .8 2.2-2.2 2.2 1.1 2.2-.5 2.2-2.1 2.2 2.4 2.2-.5 2.2 1.2 2.2-1 2.2-.2 2.2-.9 2.2 1.7 2.2-1.3 2.2 1.5 2.2-1.6 2.2-.7 2.2 .5 2.2-1.4 2.3 3.7 2.2 .5 2.2-1.7 2.2 .3 2.2-2.3 2.2 .9 2.2 1.7 2.2-.1 2.2-2.1 2.2 2.1 2.2-1.6 2.2 .8 2.2 .5 2.2 2 2.2-2.9 2.2-.6 2.2 .9 2.2-1.3 2.2-.1 2.2 2 2.2-1.2 2.2 2.5 2.2 .3 2.2-.8 2.3-.5 2.2-.9 2.2 2.6 2.2-3.3 2.2 1.8 2.2-2.4 2.2 .6 2.2-.5 2.2 .3 2.2 1.5 2.2-1.4 2.2 .4 2.2-1.3 2.2 .2 2.2 3 2.2-1.4 2.2 0 2.2 .1 2.2-.9 2.2 .5 2.2-.5 2.2 .3 2.2 1.1 2.3-.5 2.2-2.8 2.2-.3 2.2 2.5 2.2 1.1 2.2-.7 2.2-.7 2.2 .8 2.2-1.2 2.2 .6 2.2 .9 2.2 .2 2.2 .1 2.2-.7 2.2 1.1 2.2-1.1 2.2 2.5 2.2-3.4 2.2 .1 2.2 .6 2.2 .6 2.2 1.1 2.2 .1 2.2-2 2.3-.7 2.2 1.3 2.2-.5 2.2 1.4 2.2-1.9 2.2 .8 2.2-.7 2.2 1.9 2.2-2.5 2.2 1 2.2 .3 2.2-.1 2.2-.9 2.2 1.1 2.2-1.5 2.2 .7 2.2 1.6 2.2-.2 2.2-1 2.2 0 2.2-1.1 2.2 .2 2.2 1.2 2.2-.8 2.3 .5 2.2-2.4 2.2-.4 2.2 .8 2.2 2 2.2-1.2 2.2-1.6 2.2 1.9 2.2-2.2 2.2 2.2 2.2-2 2.2-.4 2.2 1 2.2 .8 2.2-1.4 2.2-2.1 2.2 3.7 2.2-2.3 2.2 .7 2.2 .4 2.2 .2 2.2-1.2 2.2 .3 2.3 .2 2.2-2.3 2.2 1.8 2.2-.7 2.2 .6 2.2-.5 2.2-.2 2.2 .1 2.2-.8 2.2-.9 2.2 0 2.2 1.3 2.2-1.9 2.2 1.6 2.2-1.7 2.2 1.5 2.2 0 2.2 .1 2.2-3 2.2 .3 2.2-.5 2.2 .8 2.2-.3 2.2-.3 2.3 .2 2.2 .2 2.2 .3 2.2-1 2.2-.9 2.2 .2 2.2-.5 2.2 1.5 2.2-3 2.2 1.7 2.2-.2 2.2-1 2.2 .4 2.2-2.5 2.2-.1 2.2 1.1 2.2-1.5 2.2-.8 2.2 .9 2.2 1.1 2.2-3.4 2.2-1.7 2.2 0 2.2 .8 2.3-3.9 2.2 1.3 2.2 1.3 2.2-2.4 2.2-.8 2.2 .8 2.2-1.6 2.2-1.6 2.2-2.6 2.2-1.8 2.2-1.2 2.2-.2 2.2-.8 2.2-3.9 2.2-.5 2.2-3.2 2.2-.2 2.2-2 2.2-2.8 2.2-1.9 2.2-4.6 2.2-1.2 2.2-2.9 2.3-2.4 2.2-3 2.2-2.2 2.2-4.9 2.2-1.5 2.2-3.2 2.2-2.4 2.2-1.8 2.2-2.5 2.2-.9 2.2-1.6 2.2 .1 2.2-1.1 2.2 2.2 2.2 .6 2.2 3 2.2 1.5 2.2 1.9 2.2 1.1 2.2 5.9 2.2-1.3 2.2 3.8 2.2 2 2.2 3.1 2.3 2.5 2.2 2.1 2.2 1.1 2.2 2.6 2.2 1.9 2.2 1.9 2.2 1.3 2.2 .3 2.2 1.6 2.2 .9 2.2 2.4 2.2 .3 2.2 .7 2.2 .3 2.2 3.2 2.2 1.7 2.2 1.5 2.2 1.6 2.2 .7 2.2-.4 2.2 1.5 2.2 .1 2.2 .1 2.2 1.3 2.3 .4 2.2-.2 2.2 2.5 2.2 .7 2.2-.4 2.2-.3 2.2 2.9 2.2-2 2.2 .4 2.2 1.6 2.2 1.4 2.2-1.7 2.2 0 2.2 1.1 2.2-.1 2.2 1 2.2-1.2 2.2 1 2.2 .5 2.2 3.2 2.2-2.4 2.2-1.8 2.2 1.4 2.3 0 2.2-2.4 2.2 2.2 2.2 1.5 2.2-.9 2.2 .4 2.2-.9 2.2-2.5 2.2-2.3 2.2-2 2.2 2.3 2.2 1.9 2.2 2.2 2.2 2.7 2.2 .5 2.2-1.2 2.2 1.6 2.2 .9 2.2 0 2.2-1.4 2.2 2.1 2.2-1.7 2.2 2.4 2.2 .3 2.3 1.2 2.2 .8 2.2 1.4 2.2-1.4 2.2-.7 2.2 1.1 2.2 3.1 2.2-3.4 2.2 1.2 2.2 .5 2.2-.4 2.2 .1 2.2 2 2.2 .1 2.2-1.3 2.2-.7 2.2-.2 2.2 1.7 2.2 .5 2.2-.3 2.2-1.8 2.2 3.1 2.2-2.2 2.2-.4 2.3 1.6 2.2-.2 2.2-.5 2.2 1.6 2.2-.2 2.2 1.2 2.2-1.2 2.2 .7 2.2-.5 2.2-.6 2.2-.1 2.2 0 2.2 1.3 2.2-1.3 2.2 1.1 2.2 1.2 2.2-2.2 2.2 1.9 2.2 .2 2.2 .1 2.2-.8 2.2-.1 2.2-1.2 2.3 .6 2.2-.9 2.2 3 2.2-1.6 2.2 .1 2.2-1.4 2.2 2.4 2.2 0 2.2-.4 2.2-1.7 2.2 2.8 2.2-1 2.2 .1 2.2-.6 2.2-.6 2.2-1.9 2.2 2.8 2.2 0 2.2-.8 2.2 1.4 2.2-.4 2.2 .5 2.2 .6 2.2-1.4 2.3 1.1 2.2-1.8 2.2 .8 2.2 .5 2.2 .7 2.2-.9 2.2-.4 2.2 0 2.2 2.5 2.2-2 2.2 1.9 2.2-.1 2.2-1.7 2.2 .8 2.2-.8 2.2 1.6 2.2-.6 2.2-1.1 2.2 1.1 2.2-.8 2.2 .8 2.2-.9 2.2 1.1 2.2-.4 2.3-.9 2.2 1.6 2.2-2.8 2.2 .9 2.2-.3 2.2 1.4 2.2 1.4 2.2-1.4 2.2 3.1 2.2-.3 2.2-.7 2.2-.1 2.2-3.7 2.2 1.6 2.2 .4 2.2 1.4 2.2 .2 2.2 .4 2.2-1.5 2.2 1.9 2.2-.5 2.2-.6 2.2-.2 2.3 1.9 2.2-1.5 2.2-1.2 2.2 1.3 2.2-.5 2.2 1.8 2.2-.4 2.2-1.2 2.2-2.1 2.2 .4 2.2 1.6 2.2 .9 2.2 .3 2.2-1.3 2.2 .1 2.2 .9 2.2-2.1 2.2 2.5 2.2 .7 2.2-1.3 2.2 .5 2.2-3.2 2.2 2.5 2.2-.2 2.3-1.5 2.2 .3 2.2 1.5 2.2-.7 2.2-.4 2.2 .8 2.2 .5 2.2-1.4 2.2-.2 2.2 1 2.2-.2 2.2-.4 2.2 1.2 2.2-.4 2.2-.3 2.2 2.3 2.2-2.4 2.2-.8 2.2 3.5 2.2-.2 2.2-.6 2.2-.3 2.2 0 2.2-.3 2.3-1.3 2.2 .2 4.4 .5"/>
<path stroke="#C55A11" d="M268.6 358l2.2-3 2.3 1.7 2.2-.6 2.2-.2 2.2 .6 2.2 1 2.2-1.6 2.2 .8 2.2-.1 2.2-2.7 2.2 1.8 2.2 1.4 2.2-1.7 2.2 2.6 2.2-.9 2.2-1.5 2.2 1.1 2.2-1.3 2.2-.4 2.2 .6 2.2 1.4 2.2-2.3 2.2 2.7 2.2-1.4 2.2-.6 2.3 .6 2.2 .9 2.2-2.2 2.2-.6 2.2 .9 2.2-.3 2.2 2.6 2.2-.9 2.2 1.5 2.2-2.2 2.2 0 2.2 .5 2.2-.7 2.2-.5 2.2 0 2.2 1.1 2.2-1.4 2.2 2.3 2.2-.6 2.2 .2 2.2-1.1 2.2-.2 2.2 .7 2.3 .4 2.2-1.9 2.2 .3 2.2 .8 2.2 .8 2.2 0 2.2-.7 2.2 0 2.2 1 2.2-.7 2.2 .1 2.2-.8 2.2 .5 2.2 1.6 2.2-.5 2.2 1.5 2.2-1.5 2.2-2.7 2.2 .9 2.2-.9 2.2 1.8 2.2-1.4 2.2 1.9 2.2-1.1 2.3-.3 2.2 2 2.2-1.4 2.2-.7 2.2 1.4 2.2 .3 2.2-1 2.2 1 2.2 .7 2.2 1 2.2-3.1 2.2 1.6 2.2-1.5 2.2-.7 2.2-1.1 2.2 .1 2.2-1.4 2.2 2.2 2.2 .8 2.2-1.2 2.2-.1 2.2 .5 2.2 .6 2.2 .2 2.3 .3 2.2 .6 2.2-.4 2.2 .5 2.2-.3 2.2-1.2 2.2-.8 2.2 .9 2.2 .9 2.2-.4 2.2-1 2.2 1 2.2-1.1 2.2-1.2 2.2-.1 2.2 2.2 2.2-1.4 2.2 .4 2.2 .7 2.2-1.6 2.2 1 2.2 0 2.2 .8 2.3 .8 2.2-.6 2.2-1.3 2.2 .7 2.2 .4 2.2-.6 2.2 .4 2.2-.2 2.2 .5 2.2 .8 2.2-1.6 2.2-.6 2.2-1.5 2.2 1.5 2.2 .5 2.2 .7 2.2-1.3 2.2 .7 2.2-1.3 2.2-.3 2.2 1.2 2.2-.6 2.2 1.3 2.2-.1 2.3-2.3 2.2-.2 2.2-.5 2.2 1 2.2 .5 2.2 .4 2.2-1.1 2.2-1.8 2.2 3 2.2-2.3 2.2 .2 2.2-.1 2.2 1 2.2-.3 2.2-.8 2.2 1.8 2.2 .2 2.2-.4 2.2-.1 2.2 .1 2.2-.1 2.2 .8 2.2 0 2.2-.8 2.3-1.1 2.2 1.3 2.2 .5 2.2-2 2.2 1.1 2.2 .4 2.2 1.5 2.2-1.1 2.2 1.2 2.2 .6 2.2-2.1 2.2-.1 2.2 1.5 2.2 .4 2.2-1.3 2.2 2.3 2.2-1.3 2.2-.4 2.2 1.5 2.2-2.4 2.2 1.3 2.2 .7 2.2-1 2.3-.5 2.2-.1 2.2 1.6 2.2-.2 2.2-.5 2.2-.6 2.2 .1 2.2 .6 2.2 0 2.2 1.4 2.2-1.8 2.2-.6 2.2-1.2 2.2 2.3 2.2-.6 2.2-1.2 2.2 3.4 2.2-.8 2.2-.8 2.2 .5 2.2-1.7 2.2 1.4 2.2-.3 2.2 .6 2.3 .9 2.2-.7 2.2-.4 2.2-2.8 2.2 .9 2.2 .8 2.2 1 2.2 .7 2.2-1.4 2.2 1.5 2.2-2.1 2.2 1.3 2.2-1.1 2.2 1.7 2.2-1.1 2.2 2.3 2.2-1.3 2.2-.9 2.2-.8 2.2-6.4 2.2 5 2.2 3.1 2.2-1.5 2.2 .4 2.3-.5 2.2 .2 2.2 .5 2.2-1.4 2.2-.3 2.2 1.8 2.2 1.1 2.2-.4 2.2 1.3 2.2-2 2.2-.9 2.2-.3 2.2 1.3 2.2-.8 2.2 1.3 2.2 .9 2.2-1.7 2.2 2.2 2.2-2 2.2-.2 2.2 1 2.2-.9 2.2 2.3 2.3-1.3 2.2-1.5 2.2 2 2.2-.9 2.2-.1 2.2 0 2.2 .5 2.2-1 2.2-.3 2.2 1 2.2 .8 2.2-2.6 2.2 .9 2.2 1.5 2.2-.9 2.2-1.4 2.2 .6 2.2-.9 2.2 3.1 2.2-.9 2.2 1.2 2.2-2.2 2.2-1.9 2.2 1.7 2.3 .1 2.2 1.2 2.2-.7 2.2 .6 2.2-1.5 2.2-.9 2.2 .7 2.2-.1 2.2 2.1 2.2-.2 2.2-.7 2.2-.5 2.2 .9 2.2 2.1 2.2-1.3 2.2-.5 2.2-.7 2.2 .7 2.2-1.2 2.2-.2 2.2 1 2.2 .2 2.2-.2 2.2-1.4 2.3 4.3 2.2-2.1 2.2 .5 2.2-.5 2.2-.6 2.2-.7 2.2-.4 2.2 1.8 2.2-.3 2.2-.3 2.2 1.6 2.2-2.5 2.2 1.1 2.2-.9 2.2 1.2 2.2-2.8 2.2 1.4 2.2-.1 2.2 .2 2.2 .6 2.2-1.1 2.2 .5 2.2 .6 2.3-2.3 2.2 1.3 2.2-.6 2.2 2.3 2.2-.7 2.2-.4 2.2-.9 2.2 .4 2.2 1.2 2.2-.6 2.2-2.3 2.2 1.3 2.2 .3 2.2-1.1 2.2 2 2.2-.3 2.2-.8 2.2 .2 2.2-.9 2.2 1.9 2.2 0 2.2-.9 2.2 1.5 2.2-3 2.3 1.9 2.2-2.2 2.2 3.8 2.2-1.5 2.2-.6 2.2-.3 2.2 .7 2.2 .9 2.2-.5 2.2-.3 2.2 1.2 2.2 .5 2.2 .5 2.2-1.5 2.2-2.4 2.2-.1 2.2 1.5 2.2 .5 2.2-.5 2.2 1.7 2.2-.6 2.2 .4 2.2 .1 2.2 .2 2.3-1.6 2.2 .3 2.2 1.6 2.2-.3 2.2-1 2.2 .2 2.2 1 2.2-3 2.2 2.8 2.2-1.3 2.2-.7 2.2 .2 2.2-.3 2.2 .7 2.2-1.6 2.2 .7 2.2 .7 2.2 .7 2.2-1 2.2-1.3 2.2-.1 2.2 1.9 2.2 1.5 2.3-1.3 2.2-.5 2.2-.5 2.2-.7 2.2 3.3 2.2-1.6 2.2 1.4 2.2-2.7 2.2 .3 2.2 0 2.2 .9 2.2 .6 2.2 .3 2.2-.5 2.2 .1 2.2-.9 2.2-.1 2.2-1.6 2.2 2.3 2.2 .9 2.2-.3 2.2 .1 2.2-1.7 2.2 .4 2.3 .7 2.2 .1 2.2-1.2 2.2 .9 2.2-2.3 2.2 1.5 2.2 .9 2.2-2.2 2.2 1.8 2.2 .4 2.2-1.8 2.2 1.9 2.2-.8 2.2 1.5 2.2-2.6 2.2 .5 2.2-.1 2.2 .9 2.2-1.3 2.2 1.4 2.2-1.2 2.2-.8 2.2 0 2.2-1.1 2.3 3.2 2.2 .3 2.2-.1 2.2-.6 2.2 0 2.2-.1 2.2 .6 2.2 .1 2.2-2.4 2.2 1 2.2-.5 2.2 1.8 2.2-1.3 2.2 1 2.2-.1 2.2-.3 2.2 .1 2.2-1.4 2.2 .9 2.2 .6 2.2-1.6 2.2 1.5 2.2 1.5 2.2 0 2.3-2.3 2.2 .6 2.2 2.5 2.2-2.9 2.2 .2 2.2-.2 2.2 .1 2.2-.8 2.2 .1 2.2 2.5 2.2-2 2.2 .2 2.2-.6 2.2-.7 2.2 1.1 2.2-.2 2.2 1.5 2.2-.4 2.2-.9 2.2 1.1 2.2-1.2 2.2-.3 2.2 1.9 2.3-.9 2.2-2.7 2.2 2.6 2.2 .7 2.2-.8 2.2-.9 2.2 0 2.2-1.3 2.2 .8 2.2 .9 2.2 .1 2.2 .9 2.2 .5 2.2-.9 2.2 .8 2.2-.2 2.2 1.5 2.2-3.1 2.2 1.1 2.2 1.5 2.2-.1 2.2 .3 2.2-1 2.2-.1 2.3-1.7 2.2 1.7 2.2-1.3 2.2 1.8 2.2-1.1 2.2 .5 2.2 0 2.2 .2 2.2-1.8 2.2 1.6 2.2-.9 2.2 1.3 2.2-2.6 2.2 1.2 2.2-.8 2.2 1.3 2.2-.1 2.2-.1 2.2 1 2.2-2 2.2-.6 2.2 1 2.2 1.9 2.2-1.5 2.3-.5 2.2 .5 2.2-.5 2.2-1.4 2.2 .9 2.2-1 2.2 0 2.2 .6 2.2-2.1 2.2 2.8 2.2-2.4 2.2-.7 2.2 2.4 2.2 .6 2.2-1.7 2.2-2.7 2.2 3.9 2.2-2.3 2.2 .7 2.2 .6 2.2 .1 2.2-.6 2.2-.5 2.3 .2 2.2-2.3 2.2 2.8 2.2-1.4 2.2-.4 2.2 1 2.2-.8 2.2 1.4 2.2-2.7 2.2-.6 2.2 0 2.2 1.4 2.2-1.7 2.2 1.9 2.2-.7 2.2-.3 2.2-.1 2.2 .7 2.2-1.9 2.2 .3 2.2-.4 2.2-.3 2.2 1.6 2.2-.8 2.3 .4 2.2-.6 2.2 .5 2.2-1.4 2.2-1.1 2.2-.8 2.2 1.3 2.2-.1 2.2-1.9 2.2 1.2 2.2 0 2.2-.5 2.2 .7 2.2-2.3 2.2-1.6 2.2 1.4 2.2-.3 2.2-.5 2.2-.4 2.2 2.4 2.2-3.8 2.2-.5 2.2-.8 2.2-.1 2.3-1.5 2.2-.2 2.2 0 2.2-1.8 2.2 .8 2.2-.3 2.2-2 2.2-.4 2.2-.9 2.2-2.5 2.2-1.7 2.2-1.3 2.2 .4 2.2-3.1 2.2 0 2.2-4.7 2.2 .8 2.2-1.9 2.2-1.8 2.2-3 2.2-2.9 2.2-2.3 2.2-3 2.3-1.6 2.2-2.7 2.2-.4 2.2-5.9 2.2-.5 2.2-3 2.2-2.7 2.2-3.1 2.2-.3 2.2-1.1 2.2-1 2.2 .1 2.2-1.8 2.2 2 2.2 1.1 2.2 3.5 2.2 1.2 2.2 2.3 2.2 .2 2.2 4.9 2.2-.6 2.2 1.5 2.2 3.1 2.2 3.6 2.3 .8 2.2 2.9 2.2 .9 2.2 1.9 2.2 3.1 2.2 .1 2.2 1.5 2.2 .3 2.2 2.1 2.2 1.8 2.2 .6 2.2-.1 2.2 .6 2.2 .9 2.2 2.4 2.2 1.4 2.2 .3 2.2 2.8 2.2 .7 2.2 0 2.2 .8 2.2 .2 2.2-1.2 2.2 3.3 2.3 .2 2.2-.5 2.2 1.1 2.2 0 2.2 1.9 2.2-.6 2.2 1.9 2.2-1.7 2.2 1.4 2.2 .1 2.2 1.5 2.2-1 2.2-.3 2.2 1.4 2.2 .7 2.2 .1 2.2-1.3 2.2 .2 2.2 0 2.2 3.5 2.2-3.1 2.2-1.4 2.2 1.7 2.3 1.7 2.2-2 2.2 1 2.2-1.2 2.2 1.1 2.2 .5 2.2-1.4 2.2-1.1 2.2-1.8 2.2-3.4 2.2 1.7 2.2 1.8 2.2 2 2.2 2.8 2.2 .7 2.2-.7 2.2 .9 2.2 1.5 2.2-.9 2.2 .4 2.2 1 2.2-.4 2.2 .5 2.2 .9 2.3 .5 2.2 1.2 2.2 .8 2.2-.2 2.2-.3 2.2-.6 2.2 3 2.2-1.9 2.2 2.4 2.2-1.3 2.2-.3 2.2 .2 2.2 1 2.2 .1 2.2-.9 2.2-.1 2.2-.4 2.2 .2 2.2 1.6 2.2 .2 2.2-2.7 2.2 2.4 2.2-.5 2.2 .9 2.3-.2 2.2-.5 2.2-1 2.2 1.6 2.2-.1 2.2 1.4 2.2-1.3 2.2 .3 2.2 .3 2.2-1.5 2.2 .1 2.2-.5 2.2 2.1 2.2-.2 2.2 0 2.2 2.5 2.2-2.6 2.2-.1 2.2 .7 2.2-1.1 2.2 .6 2.2-.9 2.2-.5 2.3 2.4 2.2-.5 2.2 1.8 2.2-1.9 2.2 0 2.2-.6 2.2 2 2.2 .1 2.2-.9 2.2-1.7 2.2 2.5 2.2-1.4 2.2 .5 2.2-.2 2.2-1 2.2-.5 2.2 1.8 2.2-.1 2.2-.5 2.2 .4 2.2 .7 2.2 .3 2.2-.3 2.2-1.1 2.3 1.1 2.2-1.2 2.2 .7 2.2-.5 2.2-.2 2.2 1.1 2.2-.1 2.2-.9 2.2 .6 2.2-.7 2.2 1.4 2.2-.1 2.2-.7 2.2 .3 2.2 .1 2.2 .3 2.2 1.9 2.2-3 2.2 1.4 2.2 .6 2.2 1.1 2.2-1.1 2.2-.1 2.2-1.8 2.3 .3 2.2 2.1 2.2-2.6 2.2-.1 2.2 .5 2.2 1 2.2 .9 2.2-1.4 2.2 2.8 2.2 0 2.2-1.2 2.2 1 2.2-4.1 2.2 2.3 2.2-.2 2.2 1.6 2.2 .8 2.2-1.7 2.2-.1 2.2 1 2.2-.4 2.2-.2 2.2-.9 2.3 2.9 2.2-1.6 2.2 .6 2.2-.3 2.2-.1 2.2 1 2.2-.4 2.2-1.1 2.2-.4 2.2-.1 2.2 1.5 2.2 1.6 2.2-2 2.2-.9 2.2 .1 2.2 1.3 2.2-1.7 2.2 1.7 2.2 2 2.2-1.9 2.2 1.1 2.2-4 2.2 3.6 2.2-.1 2.3-1 2.2 .5 2.2 .7 2.2-.1 2.2-1.1 2.2-1.1 2.2 1.4 2.2-1.7 2.2 .6 2.2-.1 2.2 .7 2.2-.3 2.2 .5 2.2 .2 2.2-.3 2.2 1.2 2.2-1.3 2.2-.1 2.2 2 2.2-1.4 2.2-.1 2.2 .9 2.2-.6 2.2-.5 2.3 .2 2.2 .6 4.4-.3"/>
</g>
</g>
<g id="chartB">
<g stroke="#D9D9D9" stroke-width="2.9" fill="none">
<path d="M542.3 2335.5V3922.5"/>
<path d="M761.1 2335.5V3922.5"/>
<path d="M980.0 2335.5V3922.5"/>
<path d="M1198.8 2335.5V3922.5"/>
<path d="M1417.7 2335.5V3922.5"/>
<path d="M1636.5 2335.5V3922.5"/>
<path d="M1855.4 2335.5V3922.5"/>
<path d="M2074.2 2335.5V3922.5"/>
<path d="M2294.6 2335.5V3922.5"/>
<path d="M323.5 3724.1H2294.6"/>
<path d="M323.5 3525.8H2294.6"/>
<path d="M323.5 3327.4H2294.6"/>
<path d="M323.5 3129.0H2294.6"/>
<path d="M323.5 2930.6H2294.6"/>
<path d="M323.5 2732.2H2294.6"/>
<path d="M323.5 2533.9H2294.6"/>
<path d="M323.5 2335.5H2296.2"/>
</g>
<g stroke="#BFBFBF" stroke-width="3.4" fill="none">
<path d="M323.5 2333.9V3922.5H2296.2"/>
<path stroke-width="2.8" d="M367.2 3922.5v-12.5M410.9 3922.5v-12.5M454.7 3922.5v-12.5M498.5 3922.5v-12.5M542.3 3922.5v-12.5M586.0 3922.5v-12.5M629.8 3922.5v-12.5M673.6 3922.5v-12.5M717.3 3922.5v-12.5M761.1 3922.5v-12.5M804.9 3922.5v-12.5M848.7 3922.5v-12.5M892.4 3922.5v-12.5M936.2 3922.5v-12.5M980.0 3922.5v-12.5M1023.7 3922.5v-12.5M1067.5 3922.5v-12.5M1111.3 3922.5v-12.5M1155.1 3922.5v-12.5M1198.8 3922.5v-12.5M1242.6 3922.5v-12.5M1286.4 3922.5v-12.5M1330.1 3922.5v-12.5M1373.9 3922.5v-12.5M1417.7 3922.5v-12.5M1461.4 3922.5v-12.5M1505.2 3922.5v-12.5M1549.0 3922.5v-12.5M1592.8 3922.5v-12.5M1636.5 3922.5v-12.5M1680.3 3922.5v-12.5M1724.1 3922.5v-12.5M1767.8 3922.5v-12.5M1811.6 3922.5v-12.5M1855.4 3922.5v-12.5M1899.2 3922.5v-12.5M1942.9 3922.5v-12.5M1986.7 3922.5v-12.5M2030.5 3922.5v-12.5M2074.2 3922.5v-12.5M2118.0 3922.5v-12.5M2161.8 3922.5v-12.5M2205.6 3922.5v-12.5M2249.3 3922.5v-12.5"/>
</g>
<g fill="none" stroke-width="12" stroke-linejoin="round" stroke-linecap="round" clip-path="url(#cb)">
<path stroke="#4472C4" d="M314.6 3904l2.2-.9 2.2 1.4 2.2-1.2 2.2-.7 2.2 0 2.2 1.4 2.2 .1 2.2-3.3 2.1 3.2 2.2 1.3 2.2-1 2.2 .1 2.2 .1 2.2-1.8 2.2 .9 2.2 1.5 2.2-1.8 2.1 .5 2.2-2.4 2.2 2.2 2.2-.3 2.2-1.9 2.2 3.5 2.2-.6 2.2 1.2 2.1-1.6 2.2-1.1 2.2 .3 2.2-.7 2.2 1.4 2.2 .5 2.2-.4 2.2 1.4 2.2-.5 2.1-.6 2.2-.2 2.2-.5 2.2-1.1 2.2 .6 2.2 .4 2.2-.6 2.2-.7 2.2 0 2.1 3.2 2.2-1.4 2.2-.7 2.2 0 2.2 .5 2.2-.5 2.2-1.6 2.2 1.2 2.2 1.1 2.1-1 2.2-.2 2.2 1.5 2.2-.6 2.2-.7 2.2-.5 2.2 0 2.2 1.1 2.1-.4 2.2 .4 2.2 .1 2.2 .9 2.2-2.9 2.2 3.1 2.2-1.1 2.2-.4 2.2-.2 2.1 .7 2.2 .1 2.2-1.6 2.2 1 2.2 2.2 2.2-1.7 2.2-1.8 2.2 1.5 2.2 .4 2.1-.8 2.2-.6 2.2 1 2.2 1.8 2.2-3.5 2.2 1.8 2.2-.2 2.2-.4 2.2 1.2 2.1-.7 2.2-2.2 2.2 .6 2.2 .1 2.2-.5 2.2 1.9 2.2-1.6 2.2 1.7 2.1-1.6 2.2 .3 2.2 1.3 2.2-1.2 2.2 2.6 2.2-2 2.2-.6 2.2 .7 2.2-.1 2.1-.1 2.2-1.9 2.2 2 2.2 .3 2.2-1.2 2.2 1.2 2.2-2.2 2.2 2.3 2.2-.8 2.1 .1 2.2 .5 2.2-1 2.2 .9 2.2-1.7 2.2 .1 2.2 .9 2.2-1.7 2.1 .7 2.2 0 2.2 .5 2.2 .4 2.2-.2 2.2-.8 2.2 0 2.2 .8 2.2-.6 2.1 .7 2.2-1.8 2.2 .7 2.2 1.6 2.2-1.4 2.2-2.4 2.2 .9 2.2 1 2.2-1.2 2.1-1.6 2.2 .9 2.2-.2 2.2-1 2.2-2.6 2.2 1.5 2.2-2.5 2.2 1.9 2.2-1.9 2.1 1.5 2.2 1 2.2-1.6 2.2 1.7 2.2-.3 2.2-.3 2.2 3.1 2.2-2.3 2.1-.2 2.2-1.5 2.2-2.2 2.2-3.4 2.2-2.7 2.2-2 2.2 .3 2.2 3.8 2.2 3.6 2.1 3.5 2.2 1.2 2.2 .2 2.2 1.2 2.2 1.2 2.2-.3 2.2 1.2 2.2-1.2 2.2 1.9 2.1 .2 2.2-.1 2.2 0 2.2 1.8 2.2-1.6 2.2 2.4 2.2-1.6 2.2 0 2.2 1.8 2.1-1.1 2.2 1.4 2.2-1.7 2.2-1.2 2.2-.2 2.2 1.1 2.2 1.3 2.2 .8 2.1-.2 2.2-.7 2.2-1.4 2.2 1.9 2.2-.1 2.2-.7 2.2 .2 2.2 .4 2.2-1.6 2.1 1.7 2.2-1.4 2.2-1 2.2 0 2.2-.1 2.2 1.4 2.2 .2 2.2 .5 2.2 .5 2.1-.5 2.2 .3 2.2-1.1 2.2 .3 2.2-.1 2.2 .5 2.2-1.9 2.2 1.4 2.2 1.3 2.1-.4 2.2-.9 2.2-1.7 2.2 1.8 2.2-.7 2.2 .4 2.2 0 2.2 .2 2.1-.7 2.2 1.4 2.2 1.4 2.2-1.5 2.2-.6 2.2-1.9 2.2 .4 2.2-2.2 2.2 1.3 2.1 2 2.2-.7 2.2 2.6 2.2-2.1 2.2 1.9 2.2 .1 2.2-3 2.2 2 2.2-2.2 2.1 .2 2.2 1.6 2.2 .9 2.2 .9 2.2-1.3 2.2-.2 2.2 1.3 2.2-2.2 2.2 3.4 2.1-2.2 2.2-1.1 2.2-.9 2.2 1.2 2.2 .1 2.2 1.6 2.2-.8 2.2-1.8 2.1 .4 2.2 .9 2.2-.6 2.2-.7 2.2 .1 2.2 1.4 2.2 .1 2.2-1.7 2.2 1.7 2.1 .8 2.2-2.9 2.2 2.3 2.2-.8 2.2 2 2.2-2 2.2-.6 2.2 1.8 2.2-1.4 2.1 2.1 2.2-3.4 2.2 2.3 2.2-2.6 2.2 1.3 2.2-.2 2.2 1.8 2.2 0 2.1-1.3 2.2-.7 2.2-1 2.2-.1 2.2-1.9 2.2 2.8 2.2 .3 2.2 2.8 2.2-2.7 2.1 .1 2.2 2.2 2.2-2 2.2 2.4 2.2-1.6 2.2 1.7 2.2-2.4 2.2-.7 2.2 .4 2.1 .9 2.2-.7 2.2 1.8 2.2 .1 2.2-.8 2.2-.4 2.2 .8 2.2-1.7 2.2 1.1 2.1 .5 2.2-1 2.2-.5 2.2-1.1 2.2 1.5 2.2 .7 2.2-.2 2.2-.6 2.1-.7 2.2-.6 2.2 1 2.2 2.8 2.2-1.1 2.2-2.8 2.2 1.7 2.2 .1 2.2 .6 2.1-2.4 2.2 .7 2.2 1.7 2.2-1.9 2.2 1 2.2 .8 2.2-1.2 2.2-2.2 2.2 3.4 2.1-.8 2.2 1.5 2.2-1.6 2.2 .3 2.2-.2 2.2 .2 2.2 .9 2.2-.1 2.2 .1 2.1 1 2.2-1.7 2.2 .4 2.2 .1 2.2 .3 2.2-.2 2.2-1.2 2.2 .8 2.1 .6 2.2-.1 2.2 1.8 2.2-2 2.2 .9 2.2-1.5 2.2 1.6 2.2-1.2 2.2 .2 2.1-1.6 2.2 1.6 2.2 1.4 2.2-2 2.2 2.8 2.2-1.7 2.2 .2 2.2-2.1 2.2 .1 2.1 .8 2.2-.3 2.2 1.1 2.2 .7 2.2-.5 2.2-1.1 2.2-.2 2.2 .9 2.2-.2 2.1 0 2.2 1.5 2.2-.1 2.2-1.1 2.2-.2 2.2 .4 2.2 0 2.2-2.1 2.1 2.2 2.2-1.3 2.2 .4 2.2-1.3 2.2 .3 2.2 0 2.2 4.1 2.2-4.4 2.2 3.6 2.1-1.6 2.2-2 2.2 2.1 2.2-.3 2.2 .4 2.2-.1 2.2 .3 2.2-.7 2.2-.3 2.1-.6 2.2 1.6 2.2 1.3 2.2-2.5 2.2 1 2.2 0 2.2-1 2.2 .3 2.2 .1 2.1 .9 2.2-1.1 2.2 0 2.2-1 2.2 1.2 2.2 .2 2.2-1.1 2.2 1.4 2.1-.3 2.2 .4 2.2-.3 2.2-.6 2.2-.7 2.2 2 2.2-1 2.2-1.8 2.2 2.1 2.1-1 2.2 .3 2.2-.6 2.2 2 2.2 0 2.2-1.5 2.2 .8 2.2-.5 2.2-1.6 2.1 1.3 2.2 .9 2.2 .8 2.2-.3 2.2-.9 2.2-1.5 2.2-1.6 2.2 3.5 2.1-1.4 2.2 2.7 2.2-1.3 2.2 1.6 2.2 .2 2.2-2.5 2.2 .6 2.2 .5 2.2-1.6 2.1 1 2.2-.1 2.2-1 2.2 2.4 2.2-2.2 2.2-.4 2.2 1 2.2-.8 2.2 .9 2.1-.1 2.2-.3 2.2-2.2 2.2 1.6 2.2-.9 2.2 .5 2.2 2.4 2.2-2.1 2.2 .1 2.1-1.1 2.2 1.4 2.2-.1 2.2 1 2.2-1.8 2.2-1 2.2 2.9 2.2-1.9 2.1 .1 2.2-.3 2.2 1.5 2.2 0 2.2-.4 2.2 .9 2.2 .2 2.2 0 2.2-1.3 2.1 .3 2.2-1.2 2.2 1.2 2.2-.5 2.2-.7 2.2-1.3 2.2 3.3 2.2-1.8 2.2 .1 2.1-1.3 2.2 .7 2.2 .7 2.2-.9 2.2-.1 2.2 .4 2.2 1.6 2.2-2.5 2.2 1.5 2.1-.6 2.2-2.2 2.2 2.5 2.2-.8 2.2-.8 2.2 .8 2.2 .1 2.2-1.6 2.1 .8 2.2 1.2 2.2 0 2.2-1.6 2.2-.6 2.2 1 2.2-1.1 2.2-1.5 2.2 2.3 2.1-.5 2.2-.9 2.2-1.2 2.2 2.3 2.2-.3 2.2-.9 2.2 0 2.2 .8 2.2-2 2.1 1.7 2.2 .7 2.2-3 2.2 .4 2.2 0 2.2 .4 2.2-1.3 2.2 1.9 2.2-2.7 2.1 2.3 2.2-3 2.2 0 2.2 3.1 2.2-1.7 2.2 .3 2.2-2 2.2 .2 2.1 .6 2.2 .7 2.2 .1 2.2-.8 2.2-1.2 2.2 1.4 2.2 .2 2.2 .7 2.2-.4 2.1-1.7 2.2 1 2.2-1.7 2.2-.3 2.2 0 2.2-2.2 2.2 .4 2.2-5.7 2.2-1.7 2.1-.9 2.2-1.9 2.2-1.4 2.2-1.9 2.2 .4 2.2-.6 2.2 .6 2.2 .8 2.2 0 2.1 0 2.2-.3 2.2-.4 2.2 2.4 2.2-3.2 2.2 .6 2.2-1 2.2 .2 2.1 .5 2.2 .4 2.2 1.8 2.2-1 2.2 .5 2.2 .9 2.2 2.8 2.2 1.1 2.2-.1 2.1-.1 2.2 1.8 2.2 1.7 2.2 .1 2.2 .6 2.2 2.2 2.2-1.4 2.2 1.4 2.2-1.5 2.1 1.9 2.2-1.4 2.2 2.3 2.2-3.7 2.2 .9 2.2-.2 2.2-.7 2.2 .3 2.2 .5 2.1-1.2 2.2-1.6 2.2-1.6 2.2-.6 2.2-1.8 2.2-1.6 2.2-2.4 2.2 .3 2.1-4.2 2.2-1.7 2.2-5.3 2.2-8.8 2.2-7.7 2.2-16.6 2.2-22.2 2.2-31.1 2.2-25.1 2.1-43.2 2.2-50.2 2.2-33.3 2.2 4.4 2.2 26.9 2.2 26.8 2.2 23.5 2.2 28.8 2.2 24.4 2.1 8.6 2.2 4.3 2.2-8.8 2.2-23 2.2-29.2 2.2-21.8 2.2-5.2 2.2 14.9 2.1 26.2 2.2 22 2.2 20.6 2.2 23.3 2.2 17.9 2.2 14.5 2.2 8.8 2.2 9.4 2.2 7.2 2.1 6.4 2.2 6.4 2.2 2.2 2.2 3 2.2 5.6 2.2 1.1 2.2 2.3 2.2 .8 2.2 1.5 2.1 .5 2.2 1.1 2.2 2.6 2.2-.5 2.2 0 2.2 1.7 2.2 .5 2.2 .3 2.2-.6 2.1 1.5 2.2-.3 2.2 2.2 2.2-.1 2.2-.5 2.2-1.5 2.2 2.1 2.2-1.2 2.1-.4 2.2 1 2.2-.4 2.2-1.6 2.2 1 2.2-2 2.2 1.8 2.2-.8 2.2 2.4 2.1-.3 2.2-1.5 2.2 3.1 2.2-4.3 2.2-.5 2.2-3.2 2.2 3.4 2.2-2.3 2.2 2.1 2.1-.6 2.2-1.6 2.2-.5 2.2-.4 2.2 .8 2.2-.7 2.2-.6 2.2-.3 2.2 .9 2.1-1.8 2.2-.6 2.2 .2 2.2-.7 2.2-3.1 2.2 1.1 2.2 2.1 2.2 2.1 2.1 2.5 2.2-.3 2.2-1.2 2.2 0 2.2 3.1 2.2-2.3 2.2 .5 2.2-1.3 2.2 .3 2.1 1.5 2.2-1 2.2 1.7 2.2-1.3 2.2-.7 2.2 .2 2.2 2.5 2.2 .3 2.2-2.4 2.1 .2 2.2 1.1 2.2-.4 2.2-.5 2.2 .2 2.2-1.7 2.2 0 2.2 1.7 2.2 .5 2.1 .8 2.2-.7 2.2 .5 2.2 3.8 2.2-3.4 2.2 .8 2.2 .7 2.2 1.5 2.1-.1 2.2-1.9 2.2-.3 2.2 2.4 2.2 .9 2.2-.8 2.2-.3 2.2-.9 2.2 .9 2.1-.4 2.2 1.4 2.2 .1 2.2 1.4 2.2-1.7 2.2 .2 2.2 .8 2.2 1.1 2.2-2.3 2.1 2 2.2-.1 2.2-.8 2.2 1.4 2.2-.7 2.2 1.3 2.2-2.1 2.2 1.7 2.2-.1 2.1-.7 2.2 1.8 2.2-1.1 2.2-.1 2.2 .7 2.2 .3 2.2-3 2.2 3.6 2.1-1 2.2-.5 2.2-1.1 2.2 3.4 2.2-1.6 2.2 .7 2.2-.2 2.2-.7 2.2 .8 2.1 1.4 2.2-.2 2.2-.7 2.2 .3 2.2 .6 2.2-.8 2.2 1 2.2-.8 2.2-1 2.1 3.2 2.2-1.9 2.2 2.1 2.2-.8 2.2-.3 2.2-1 2.2-.6 2.2-1 2.1 3.4 2.2-3.4 2.2 2.3 2.2-.6 2.2 1.4 2.2 .7 2.2-1.4 2.2 .6 2.2-.4 2.1 1.2 2.2 .9 2.2-3.1 2.2 0 2.2 1.2 2.2 1.3 2.2 .1 2.2-.7 2.2 .4 2.1 1.5 2.2-2.4 2.2 2.1 2.2-1.7 2.2 2.4 2.2-2.1 2.2 1.2 2.2 0 2.2-.9 2.1 .5 2.2-.5 2.2 .9 2.2 .3 2.2-.2 2.2 2 2.2-.7 2.2-1.1 2.1-1.5 2.2 1.5 2.2 .6 2.2-.6 2.2 .7 2.2-.7 2.2-1.5 2.2 3.1 2.2-.3 2.1 .2 2.2-.4 2.2 .6 2.2-2.4 2.2-1.8 2.2 1.2 2.2 .9 2.2-.8 2.2 .5 2.1-.2 2.2 1 2.2 1.3 2.2-.4 2.2-1.1 2.2 1.5 2.2-.6 2.2-.3 2.2-1.3 2.1 1.5 2.2-1.7 2.2 1.8 2.2-.4 2.2-.4 2.2 .3 2.2-.5 2.2 2.8 2.1-2.1 2.2-.5 2.2 1.1 2.2 .2 2.2-.9 2.2 .9 2.2-.2 2.2-.7 2.2-1.4 2.1 .4 2.2-.7 2.2 1 1.1-1.1"/>
<path stroke="#ED7D31" d="M314.6 3793.2l2.2 .2 2.2 .8 2.2-1.6 2.2 .3 2.2 .6 2.2 .6 2.2-1 2.2-2.7 2.1 3.4 2.2 .5 2.2-.5 2.2-.5 2.2 .2 2.2-1.6 2.2-.2 2.2 3.4 2.2-1.2 2.1-1.5 2.2-.7 2.2 1 2.2-.6 2.2 .3 2.2 2.8 2.2 .2 2.2-.1 2.1-1.4 2.2-1.1 2.2 .7 2.2-.5 2.2 1 2.2 .6 2.2-.9 2.2 1.4 2.2-.9 2.1-.5 2.2-1.3 2.2 .7 2.2-.5 2.2 .2 2.2 1.3 2.2-1.8 2.2-.5 2.2 .4 2.1 2.7 2.2-1.5 2.2-.2 2.2-.1 2.2 .6 2.2-.7 2.2-.8 2.2 .2 2.2 .1 2.1 0 2.2 .1 2.2 1.6 2.2-1.1 2.2-.6 2.2 .4 2.2-1.4 2.2 2 2.1 .3 2.2 .2 2.2 .1 2.2-.7 2.2-1.8 2.2 1.9 2.2-.6 2.2 .6 2.2-.4 2.1 0 2.2 .9 2.2-1.8 2.2 1.3 2.2 .8 2.2-2.9 2.2 1.2 2.2 .1 2.2 2.2 2.1-2.5 2.2-.1 2.2 1.5 2.2 .2 2.2-2.1 2.2 1.3 2.2-1.2 2.2 1.7 2.2-.1 2.1-.8 2.2-1.1 2.2-2 2.2 2.3 2.2-.8 2.2 1.1 2.2-.1 2.2 2.1 2.1-1.2 2.2-.3 2.2 .7 2.2-.8 2.2 1.1 2.2-2.6 2.2 .1 2.2 .6 2.2 1.7 2.1-.6 2.2-1 2.2-.2 2.2 .7 2.2 .1 2.2 .9 2.2-1.3 2.2 1.2 2.2-.7 2.1-.9 2.2 1.6 2.2-2.3 2.2 1.1 2.2-.7 2.2 1.3 2.2-.7 2.2-.3 2.1 .2 2.2-.7 2.2 1.3 2.2-1.3 2.2-.4 2.2-1.8 2.2 2.2 2.2 .5 2.2-.1 2.1 .5 2.2-2.1 2.2 .6 2.2 .1 2.2-2.1 2.2-1.2 2.2 1.2 2.2 .6 2.2-.4 2.1-2 2.2-.4 2.2-.9 2.2 .1 2.2-2.7 2.2 .6 2.2-2.2 2.2 .1 2.2-.6 2.1 2.3 2.2 1.3 2.2-.7 2.2 2 2.2-2.4 2.2 .7 2.2 4.1 2.2-2.1 2.1-.3 2.2-1.8 2.2-2.5 2.2-1.1 2.2-2.8 2.2-1.8 2.2 .8 2.2 2.5 2.2 3.5 2.1 3.1 2.2 1.5 2.2 .1 2.2 .8 2.2 1.7 2.2 .7 2.2 .8 2.2-2.4 2.2 .6 2.1 1.1 2.2 .2 2.2 .4 2.2 1.9 2.2-2.5 2.2 1.7 2.2-.6 2.2-.2 2.2 .3 2.1-.4 2.2 2.5 2.2-2.2 2.2-1.1 2.2-.4 2.2 .8 2.2 .8 2.2 .8 2.1 .2 2.2 .2 2.2-.5 2.2 1.1 2.2-3 2.2 .8 2.2 1 2.2-.1 2.2-.9 2.1 1.4 2.2 .5 2.2-3 2.2 1 2.2-.7 2.2 .2 2.2-.5 2.2 3 2.2-.2 2.1-1.9 2.2 2 2.2-1.2 2.2 .7 2.2 .9 2.2 1 2.2-2 2.2 .7 2.2 .7 2.1 0 2.2-.5 2.2-2 2.2 1.3 2.2-1.4 2.2 1 2.2 .4 2.2-.7 2.1-.3 2.2 1.5 2.2 2.6 2.2-2.6 2.2 .7 2.2-2.6 2.2 .7 2.2-5 2.2 1.7 2.1 1.8 2.2 .8 2.2 2.4 2.2-1.7 2.2 .1 2.2-.1 2.2-1.2 2.2 2.3 2.2-1.5 2.1-.1 2.2 0 2.2 .7 2.2 1.6 2.2-1 2.2-.2 2.2 .8 2.2-1.9 2.2 2 2.1-.4 2.2-1.6 2.2 .1 2.2 .4 2.2 .3 2.2 1.2 2.2-.6 2.2-1.1 2.1 .9 2.2-1 2.2 1 2.2-.5 2.2 .9 2.2-.4 2.2 .9 2.2-2 2.2 1.7 2.1 .6 2.2-1.7 2.2-.2 2.2 .7 2.2 1.2 2.2-1.5 2.2 1.8 2.2-.9 2.2-1.8 2.1 2.2 2.2-3 2.2 2.5 2.2-1.5 2.2 .2 2.2-.7 2.2 1.9 2.2-.7 2.1-1.4 2.2 1.5 2.2-2.4 2.2 .6 2.2-1.4 2.2 1 2.2 2 2.2 2.1 2.2-2.2 2.1-.3 2.2 1.8 2.2-3.4 2.2 3.5 2.2 .8 2.2-.6 2.2-1.4 2.2-2.3 2.2 1.3 2.1 .2 2.2 0 2.2 1.4 2.2 .7 2.2-.9 2.2 .1 2.2 .1 2.2-1.6 2.2 .4 2.1 1.5 2.2-.4 2.2-2.1 2.2-.8 2.2 2.1 2.2 .8 2.2-1.3 2.2 0 2.1 .5 2.2-1.4 2.2 1.5 2.2 2.3 2.2-1.4 2.2-.6 2.2 1.2 2.2 .4 2.2-2.3 2.1-.9 2.2 .2 2.2 2.8 2.2-2.9 2.2 1.2 2.2 .5 2.2 .1 2.2-1.4 2.2 2 2.1-.4 2.2 1.9 2.2-2.3 2.2-.2 2.2-.8 2.2 1.2 2.2 .2 2.2 0 2.2-.1 2.1 .3 2.2-.3 2.2-1.3 2.2 1.7 2.2-1.9 2.2 .9 2.2 .5 2.2-.3 2.1 1.3 2.2-.5 2.2 1.4 2.2-.9 2.2-1.3 2.2 .2 2.2 1 2.2-1 2.2-.8 2.1 .3 2.2-.2 2.2 1.8 2.2-.4 2.2 .1 2.2-.5 2.2 0 2.2-2.2 2.2 2.7 2.1-.9 2.2-1.1 2.2 2 2.2-.6 2.2 .2 2.2-.1 2.2 .7 2.2 .4 2.2-2.3 2.1 1.6 2.2 .7 2.2-.8 2.2-1.8 2.2 1.5 2.2-.4 2.2 .9 2.2-1.7 2.1 .1 2.2 .2 2.2 .4 2.2-1 2.2 1.2 2.2-1.3 2.2 2.5 2.2-2.7 2.2 2.5 2.1-.5 2.2-1.4 2.2 2.3 2.2-.1 2.2-.6 2.2-1.4 2.2 2 2.2-.7 2.2 .9 2.1-.6 2.2-.1 2.2 .9 2.2-2.3 2.2 .1 2.2 .4 2.2 .2 2.2 .5 2.2-.6 2.1 .2 2.2-1.2 2.2 2.1 2.2-1.1 2.2 1.1 2.2-.7 2.2-.8 2.2-.2 2.1-1.1 2.2 2.1 2.2 .5 2.2-1.9 2.2 1.4 2.2 .4 2.2-.3 2.2-1.7 2.2 2.3 2.1-2 2.2-.1 2.2 .3 2.2 1.6 2.2 .4 2.2-1.8 2.2-1.4 2.2 1.9 2.2-1.1 2.1 1 2.2 1.1 2.2-.3 2.2 1.1 2.2-2.6 2.2-.1 2.2-1.7 2.2 3.7 2.1-1.8 2.2 3.1 2.2-2.9 2.2 2 2.2-.1 2.2-2 2.2 1.4 2.2 .3 2.2-1 2.1 .3 2.2 0 2.2-.4 2.2 .4 2.2-1.2 2.2 .6 2.2 1 2.2-1.1 2.2 .6 2.1 .7 2.2-1.4 2.2-2.2 2.2 2.3 2.2-1.6 2.2 .6 2.2 3 2.2-1.2 2.2-.8 2.1 .2 2.2-.3 2.2-.8 2.2 2.2 2.2-.9 2.2-.6 2.2 .7 2.2-.4 2.1 .6 2.2-1.2 2.2 2 2.2-2.9 2.2 2.4 2.2-.2 2.2 1.6 2.2-2.1 2.2-.2 2.1 .2 2.2-.8 2.2 1.2 2.2-.2 2.2-1.9 2.2 1.4 2.2 1.2 2.2-2.1 2.2 .7 2.1-.9 2.2 1.8 2.2-.1 2.2-.2 2.2 .1 2.2 .9 2.2 .7 2.2-2 2.2 1 2.1 .4 2.2-.5 2.2 .5 2.2-.4 2.2 0 2.2 .2 2.2-.5 2.2-1.9 2.1 1.9 2.2-.9 2.2 .1 2.2-.2 2.2-.3 2.2-.3 2.2 .8 2.2-1.7 2.2 1.5 2.1 .2 2.2-.9 2.2-2.5 2.2 3.6 2.2-1.2 2.2-2.2 2.2 .9 2.2 1 2.2-1.9 2.1 .3 2.2 .3 2.2-1.5 2.2-.2 2.2-.5 2.2 1.3 2.2-1 2.2 1.4 2.2-2 2.1 2.4 2.2-1.4 2.2-.6 2.2 1.5 2.2-1.2 2.2-.5 2.2-1.2 2.2-.5 2.1-.3 2.2 1.5 2.2 0 2.2-1 2.2-1.9 2.2 1.6 2.2-.2 2.2 .5 2.2-.7 2.1-2.2 2.2 1.1 2.2-1.8 2.2 .1 2.2-.3 2.2-.8 2.2-2 2.2-4.3 2.2-2.8 2.1-.8 2.2-2.7 2.2-.6 2.2-1 2.2-.3 2.2-1 2.2 1.4 2.2 1.5 2.2-1.2 2.1 .8 2.2-1.6 2.2 .6 2.2 2.1 2.2-3.1 2.2 1.2 2.2-1.2 2.2-1.6 2.1-.5 2.2 .5 2.2 1.4 2.2-1.9 2.2 3.6 2.2-.1 2.2 3.9 2.2 1.5 2.2 1.5 2.1 1.6 2.2 1.7 2.2 2.5 2.2 0 2.2 1.8 2.2 .9 2.2 .7 2.2 .5 2.2 0 2.1 .1 2.2 .7 2.2 1.6 2.2-3.8 2.2 .5 2.2-.7 2.2-2.2 2.2 1.3 2.2-.8 2.1-.9 2.2-1.8 2.2-1.3 2.2 0 2.2-2.3 2.2-1.7 2.2-1.9 2.2-1 2.1-3.4 2.2-1.8 2.2-6.2 2.2-7.7 2.2-10.1 2.2-18.3 2.2-29.2 2.2-36 2.2-38.7 2.1-47.6 2.2-38.7 2.2-22.1 2.2 2.9 2.2 19.8 2.2 32.3 2.2 30.3 2.2 30.6 2.2 17.9 2.1-.9 2.2-9.2 2.2-18.2 2.2-24.5 2.2-17.8 2.2-11 2.2-1.5 2.2 9.7 2.1 22.6 2.2 23.1 2.2 22.7 2.2 21.6 2.2 18.7 2.2 15.5 2.2 13.8 2.2 12.7 2.2 10.6 2.1 8.7 2.2 7 2.2 4.8 2.2 4.2 2.2 5.4 2.2 2.7 2.2 2.6 2.2 2 2.2 3.2 2.1 .8 2.2 0 2.2 3 2.2 1 2.2-1.5 2.2 3 2.2-.3 2.2 1.1 2.2-.3 2.1 1 2.2-.3 2.2 1.3 2.2 .3 2.2-1.6 2.2-1 2.2 1.1 2.2-1.2 2.1 .9 2.2-1.1 2.2 .7 2.2-2.1 2.2 3.5 2.2-3.1 2.2 1.8 2.2-.9 2.2 1.9 2.1-1.1 2.2-1.5 2.2 1.5 2.2-2.7 2.2 .9 2.2-3.8 2.2 1.8 2.2-1.8 2.2 1.1 2.1-.6 2.2-.9 2.2 .2 2.2-.2 2.2 .7 2.2-.4 2.2-2.3 2.2-.7 2.2 1 2.1 .3 2.2 .1 2.2-.4 2.2 .6 2.2-1 2.2 1.5 2.2-.6 2.2 1.6 2.1 1.8 2.2-.2 2.2-1.3 2.2-1.5 2.2 4.1 2.2-1.7 2.2 .5 2.2-.7 2.2 .6 2.1 .7 2.2-1.3 2.2 2.5 2.2-1 2.2-1 2.2 .3 2.2 3 2.2-.4 2.2-1.7 2.1-.2 2.2 .5 2.2 .8 2.2-1 2.2 .2 2.2-2.7 2.2 1.4 2.2 1 2.2 .6 2.1 .8 2.2 .5 2.2 1 2.2 2.7 2.2-4 2.2 1.7 2.2 .3 2.2 1.6 2.1 .2 2.2-1.5 2.2-.7 2.2 2.3 2.2 2 2.2-1.2 2.2-1 2.2-.8 2.2 2.1 2.1-2 2.2 1.2 2.2 1 2.2 .7 2.2-.8 2.2 .6 2.2 .5 2.2 .3 2.2-1.8 2.1 2.5 2.2-1.2 2.2 1.8 2.2-1.3 2.2 .6 2.2 .2 2.2-.7 2.2 .1 2.2 .2 2.1-1 2.2 3.1 2.2-.9 2.2-1.2 2.2 2.1 2.2 0 2.2-2.9 2.2 2 2.1 .2 2.2 0 2.2 0 2.2 1.4 2.2-2 2.2 1.4 2.2 .5 2.2-.2 2.2-.3 2.1-.5 2.2 1.2 2.2 .3 2.2-.4 2.2 2 2.2-3 2.2 .6 2.2 .3 2.2-.3 2.1 1.3 2.2-.6 2.2 .7 2.2 .6 2.2-1.5 2.2-.4 2.2 .4 2.2-.3 2.1 2.6 2.2-4.4 2.2 .8 2.2 1.7 2.2 .1 2.2 .7 2.2-.6 2.2-.2 2.2-.3 2.1-.1 2.2 2.3 2.2-3.6 2.2-1.5 2.2 3.5 2.2 .2 2.2 .9 2.2-.8 2.2 .4 2.1 1.1 2.2-3.3 2.2 3.9 2.2-2.1 2.2 .8 2.2-.4 2.2 1 2.2-.3 2.2-1.8 2.1 1.5 2.2-.1 2.2-.6 2.2 1.3 2.2 0 2.2 .9 2.2-.4 2.2-.7 2.1 .2 2.2 .4 2.2 .7 2.2-1.4 2.2-.2 2.2 .6 2.2-.7 2.2 1.7 2.2 .5 2.1-.7 2.2-.7 2.2 .3 2.2-1.3 2.2-1 2.2 1.4 2.2 .9 2.2-.6 2.2 .4 2.1 .6 2.2 .9 2.2 .6 2.2-1.2 2.2 .3 2.2-.5 2.2 .3 2.2-1 2.2 .1 2.1-.2 2.2-.6 2.2 2.5 2.2-.4 2.2-2 2.2 2 2.2-2.1 2.2 2.1 2.1-1.8 2.2 1.5 2.2 .2 2.2-1.2 2.2 .9 2.2 0 2.2-.3 2.2 1.3 2.2-1.7 2.1 .9 2.2-1.1 2.2 1.2 1.1-.1"/>
<path stroke="#A5A5A5" d="M314.6 3658.3l2.2 1.5 2.2 .4 2.2-1.2 2.2-1.8 2.2 1.4 2.2 1.1 2.2-.9 2.2-1.2 2.1 1.7 2.2 .1 2.2-1.1 2.2 1.8 2.2-1.7 2.2-.4 2.2 1.1 2.2 1.5 2.2-1.2 2.1-1.3 2.2 .5 2.2-.5 2.2 .7 2.2-1.6 2.2 3.6 2.2-.4 2.2 .7 2.1-3.1 2.2 .1 2.2 .3 2.2 .3 2.2 .8 2.2 1.4 2.2-1.6 2.2 1.4 2.2-.3 2.1-1.3 2.2 1 2.2-1.9 2.2 .4 2.2-.7 2.2 .9 2.2 0 2.2-1.2 2.2 0 2.1 2.8 2.2-.2 2.2-1 2.2-1.3 2.2 1.4 2.2-.6 2.2-2.1 2.2 1.5 2.2 1.2 2.1-1.7 2.2 .5 2.2 .9 2.2-.5 2.2 .6 2.2-1.3 2.2-.5 2.2 1.1 2.1 .2 2.2 .4 2.2 .8 2.2 .2 2.2-2.9 2.2 2.5 2.2-1.1 2.2 .3 2.2 .7 2.1 .2 2.2-1.6 2.2 .5 2.2-.3 2.2 .9 2.2-.9 2.2 .5 2.2-1 2.2 1.9 2.1-1.2 2.2-.9 2.2 2.2 2.2-.1 2.2-1.7 2.2 .6 2.2-.6 2.2 .6 2.2 .8 2.1-1.4 2.2-1.5 2.2-.5 2.2 1.4 2.2-1.2 2.2 .6 2.2 .7 2.2 1.1 2.1-.2 2.2-.3 2.2 .3 2.2-1.1 2.2 1.9 2.2-2.5 2.2 .3 2.2-.5 2.2 1.5 2.1 .8 2.2-1.4 2.2 .5 2.2-.1 2.2-.2 2.2 1.9 2.2-3.3 2.2 1.5 2.2-.3 2.1 .1 2.2 1.1 2.2-.5 2.2-.9 2.2-.2 2.2 1.6 2.2 0 2.2-.1 2.1 .1 2.2-2.3 2.2 1.8 2.2-1.6 2.2-.2 2.2-.8 2.2 .9 2.2 .5 2.2-.4 2.1 .6 2.2-1.5 2.2-.6 2.2 1.9 2.2-2.5 2.2-2 2.2 1.6 2.2-.8 2.2 .4 2.1-2.3 2.2-.3 2.2-1.5 2.2-.9 2.2-4.8 2.2 1.8 2.2-2.6 2.2 0 2.2-.7 2.1 1.1 2.2 2.2 2.2-1.8 2.2 1.3 2.2-1.3 2.2 0 2.2 3.7 2.2-.9 2.1-.5 2.2 .1 2.2-.7 2.2-.7 2.2-1.3 2.2 2.7 2.2 .4 2.2 1 2.2 1.1 2.1 2.1 2.2 1.3 2.2-.7 2.2 1 2.2 2.3 2.2 .1 2.2 .7 2.2-2.7 2.2 3 2.1 0 2.2 .4 2.2-.7 2.2 2.5 2.2-1.5 2.2 1 2.2-.7 2.2 .7 2.2-.6 2.1-.2 2.2 2.1 2.2-3 2.2 .7 2.2-1.7 2.2 .5 2.2 1.8 2.2 1.1 2.1-.9 2.2 1.1 2.2-1.9 2.2 2.2 2.2-1.3 2.2 0 2.2 .9 2.2 0 2.2-1.7 2.1 .4 2.2 1.2 2.2-.6 2.2 .3 2.2-.8 2.2-1.1 2.2 2.3 2.2 .1 2.2 .8 2.1-1.9 2.2 .8 2.2-.3 2.2 .3 2.2 1.3 2.2-.5 2.2-1.1 2.2 .3 2.2 1.4 2.1 .5 2.2-2 2.2-1.1 2.2 .3 2.2 .3 2.2 .5 2.2-1.1 2.2 .7 2.1-1 2.2 2.1 2.2 1.3 2.2-2.3 2.2 1.1 2.2-2.1 2.2-.4 2.2-2.5 2.2 .3 2.1 1.1 2.2 1.5 2.2 2.1 2.2-2.3 2.2 1.6 2.2 .5 2.2-1.8 2.2 2.8 2.2-2.3 2.1-1.2 2.2 1.7 2.2 1.8 2.2 .3 2.2-1.7 2.2-1.5 2.2 3 2.2-2.4 2.2 3.2 2.1-2 2.2-1.6 2.2 .1 2.2 .5 2.2 .4 2.2 2.4 2.2-.5 2.2-2.5 2.1 1.1 2.2-.9 2.2 1 2.2-.7 2.2 1 2.2 0 2.2 .3 2.2-1.4 2.2 0 2.1 2.2 2.2-2.8 2.2 .8 2.2-.2 2.2 1.5 2.2-.6 2.2-.4 2.2 .6 2.2-1.1 2.1 1.9 2.2-2.9 2.2 2.4 2.2-1.3 2.2-.7 2.2-.8 2.2 1.6 2.2 .5 2.1-1.2 2.2 .2 2.2-1.6 2.2 .2 2.2-1.4 2.2 1.3 2.2 2.5 2.2 1.5 2.2-1.5 2.1-.7 2.2 1.2 2.2-2.2 2.2 1.1 2.2 1.2 2.2-1.1 2.2-.8 2.2-.2 2.2 1 2.1 .3 2.2-.9 2.2 2.4 2.2-1.1 2.2-.3 2.2-.3 2.2 1.3 2.2-1.6 2.2 .5 2.1 1.4 2.2-2.2 2.2 1.2 2.2-1.6 2.2 1 2.2 .3 2.2-.1 2.2 0 2.1-.4 2.2-.4 2.2 0 2.2 1.9 2.2-.6 2.2-1.5 2.2 1.5 2.2 .8 2.2-1.3 2.1-1.2 2.2 .5 2.2 2.3 2.2-3.4 2.2 .6 2.2 1.4 2.2-.9 2.2-1.6 2.2 2.5 2.1 .3 2.2 1.8 2.2-1.4 2.2-.2 2.2-.7 2.2 0 2.2 1.3 2.2-1.4 2.2 .9 2.1-.3 2.2 .1 2.2-1.3 2.2 1.8 2.2-1 2.2-.6 2.2 .2 2.2 .3 2.1 .3 2.2-.3 2.2 1.8 2.2-.6 2.2-1.4 2.2 .5 2.2 1.8 2.2-1.3 2.2-1.2 2.1-.2 2.2 1.2 2.2-.2 2.2-.3 2.2 1.2 2.2 0 2.2-.4 2.2-2.4 2.2 1.3 2.1-.4 2.2-.2 2.2 2.1 2.2-.1 2.2-.1 2.2-1 2.2 .5 2.2-.4 2.2-.1 2.1 .6 2.2 1.9 2.2-.9 2.2-2.5 2.2 .6 2.2 1.2 2.2 .3 2.2-1.5 2.1 .3 2.2 0 2.2 0 2.2-2.2 2.2 2.5 2.2-.2 2.2 1.6 2.2-1.9 2.2 2.1 2.1-.2 2.2-3.1 2.2 1.1 2.2-.1 2.2 .4 2.2 1.3 2.2 0 2.2-.5 2.2 .3 2.1-1.4 2.2 1 2.2 .9 2.2-2.6 2.2 1.8 2.2-.5 2.2-.6 2.2 .9 2.2-.3 2.1 .6 2.2-.4 2.2 .9 2.2-2.2 2.2 1.2 2.2-.5 2.2-2.2 2.2 2 2.1-.2 2.2 1.5 2.2-1 2.2-.4 2.2-1.1 2.2 2.5 2.2-1.5 2.2-1.1 2.2 2.3 2.1-1.2 2.2-.3 2.2-.9 2.2 1.8 2.2 .4 2.2-2.3 2.2 .3 2.2 .6 2.2-1.2 2.1 2.5 2.2-1 2.2 .3 2.2 .9 2.2-1.5 2.2-.4 2.2-1.6 2.2 3 2.1-.8 2.2 2.8 2.2-1.5 2.2-.1 2.2-.3 2.2-.1 2.2 .3 2.2-.1 2.2-1.7 2.1 .7 2.2-.4 2.2-1.1 2.2 1.6 2.2-1.6 2.2 .4 2.2 1.6 2.2-.2 2.2-.1 2.1-.3 2.2 0 2.2-1.7 2.2 1.3 2.2-1.8 2.2 1.1 2.2 1.3 2.2-1.3 2.2-.8 2.1 .6 2.2-.2 2.2 1.1 2.2 .9 2.2 0 2.2-1.8 2.2 2.3 2.2-1.1 2.1-.3 2.2-.9 2.2 1 2.2-.7 2.2 1.1 2.2 .1 2.2 .5 2.2-.7 2.2-1.5 2.1 1.4 2.2-1.6 2.2 .8 2.2 .3 2.2-1.6 2.2 .7 2.2 1.7 2.2-1.9 2.2-.3 2.1-1.3 2.2 1.7 2.2 0 2.2-1 2.2 1.6 2.2-1 2.2 1.4 2.2-2.7 2.2 1.7 2.1 1 2.2-2.2 2.2 1.7 2.2-.4 2.2-.1 2.2-1.4 2.2 1 2.2-1.2 2.1 1.1 2.2-.8 2.2 .5 2.2-.3 2.2-.6 2.2-.3 2.2-.1 2.2-2.1 2.2 2.5 2.1-.4 2.2-.1 2.2-2.4 2.2 1.4 2.2 .4 2.2-2.2 2.2 1 2.2 1.2 2.2-1.1 2.1 0 2.2 .4 2.2-2.4 2.2 1.1 2.2-.3 2.2 .6 2.2-1.8 2.2 1.5 2.2-2.3 2.1 2.5 2.2-2.1 2.2-.4 2.2 2 2.2 1.2 2.2-2.4 2.2-1.4 2.2-.1 2.1-.4 2.2 1.6 2.2-1.1 2.2 .2 2.2-2.5 2.2 3.3 2.2-2.3 2.2 .4 2.2-.4 2.1-1.3 2.2 1.5 2.2-2.1 2.2 .7 2.2-.2 2.2 .1 2.2-.2 2.2-3.2 2.2 1.2 2.1 0 2.2-.9 2.2-1 2.2-1.6 2.2 .8 2.2-.6 2.2-1.5 2.2 .4 2.2-.8 2.1 .9 2.2-1.3 2.2-.1 2.2 1.4 2.2-1.9 2.2-.3 2.2-.1 2.2-.4 2.1 .3 2.2 .2 2.2 1.6 2.2-2.1 2.2 2.1 2.2-1.1 2.2 2.7 2.2 1 2.2-.6 2.1 1.1 2.2 1.8 2.2 .8 2.2-1.8 2.2 2 2.2 .1 2.2 .1 2.2 2.7 2.2-1 2.1 .3 2.2-.1 2.2 1.3 2.2-3.1 2.2-.2 2.2-.9 2.2-1.5 2.2-.8 2.2 .7 2.1-.6 2.2-3.2 2.2-.1 2.2-1.6 2.2-2.1 2.2-2.4 2.2-1.6 2.2-1 2.1-5.4 2.2-3.2 2.2-5.4 2.2-5.6 2.2-6.9 2.2-10.9 2.2-14.1 2.2-18.3 2.2-16.6 2.1-20.6 2.2-17.1 2.2-11.6 2.2-.2 2.2 6.6 2.2 8.5 2.2 5.1 2.2 7.9 2.2 7.5 2.1 4.5 2.2 5.9 2.2 1.3 2.2-7.1 2.2-14.3 2.2-10.2 2.2-4.3 2.2 7.8 2.1 13.3 2.2 10.4 2.2 9.1 2.2 10.8 2.2 10.2 2.2 11.1 2.2 9.4 2.2 9.4 2.2 6.6 2.1 5.3 2.2 5.2 2.2 3.3 2.2 3.5 2.2 3.8 2.2 1.2 2.2 2.6 2.2 1.3 2.2 3.1 2.1 .3 2.2 .7 2.2 2.5 2.2 1.2 2.2 .7 2.2 2.2 2.2 .1 2.2 1.3 2.2 .7 2.1 .2 2.2 .5 2.2 2.6 2.2-1.2 2.2-.2 2.2-1 2.2 2.5 2.2-1.2 2.1-.5 2.2-.8 2.2 1.6 2.2-.8 2.2 1.4 2.2-1.1 2.2 1.1 2.2-1.5 2.2 1.5 2.1 1.4 2.2-2.2 2.2 2.1 2.2-1.9 2.2-.9 2.2-3.4 2.2 3.1 2.2-1.7 2.2 .3 2.1 .7 2.2-.8 2.2-.4 2.2-1.2 2.2 2 2.2-.2 2.2-1 2.2-.3 2.2-.2 2.1 1.8 2.2-4.1 2.2 2 2.2 .5 2.2-.7 2.2 2 2.2-1.2 2.2 .2 2.1 1.1 2.2 .1 2.2-1.2 2.2-.4 2.2 2.7 2.2-.8 2.2-.9 2.2-.4 2.2 .7 2.1 .7 2.2-1.3 2.2 2.1 2.2-1.2 2.2-.4 2.2-.7 2.2 3 2.2-.3 2.2-1.3 2.1-.2 2.2 1.3 2.2-.4 2.2 .3 2.2-.4 2.2-1.3 2.2 .1 2.2 .8 2.2 1.3 2.1-.5 2.2 1 2.2-1 2.2 3.4 2.2-.8 2.2-.1 2.2-.9 2.2 2.4 2.1 0 2.2-2.7 2.2 .3 2.2 3.1 2.2-.2 2.2 .8 2.2-1.6 2.2 .7 2.2 .8 2.1-1 2.2 .5 2.2 .9 2.2 .6 2.2-1.2 2.2 1.3 2.2 1 2.2-1.3 2.2-.1 2.1 .8 2.2-.2 2.2-.5 2.2 1.2 2.2 .1 2.2 .8 2.2-.5 2.2-1.5 2.2 1 2.1-.4 2.2 2.6 2.2 0 2.2-.9 2.2 .1 2.2 1 2.2-3.4 2.2 2.8 2.1 .8 2.2-1.3 2.2-.9 2.2 2.6 2.2-1.2 2.2-1.2 2.2 .9 2.2-.4 2.2 1 2.1 1.9 2.2-.4 2.2-1.5 2.2 .8 2.2-.1 2.2-.3 2.2 1.1 2.2-.1 2.2-1.6 2.1 2.6 2.2 0 2.2-.7 2.2 .3 2.2-.5 2.2-.6 2.2 .2 2.2-.8 2.1 1.5 2.2-2.5 2.2 2.4 2.2-1.9 2.2 1.3 2.2 .3 2.2 0 2.2 .8 2.2-1.1 2.1-.4 2.2 1.6 2.2-3 2.2-.1 2.2 2.1 2.2 .6 2.2 .2 2.2 1.9 2.2-2.9 2.1 2.4 2.2-1.9 2.2 1.9 2.2-.9 2.2 .9 2.2-1.7 2.2 1 2.2 0 2.2-1 2.1 .3 2.2-.7 2.2 .7 2.2 .9 2.2-.3 2.2 1.9 2.2-1.7 2.2-1 2.1 1.1 2.2 .9 2.2-.2 2.2-.7 2.2 1.3 2.2-1 2.2-.7 2.2 2 2.2-.1 2.1 .2 2.2-1.5 2.2 2 2.2-2.5 2.2-1 2.2 1.2 2.2-.2 2.2 1.6 2.2-.6 2.1 .4 2.2-.4 2.2 1.6 2.2-.9 2.2 .7 2.2 .6 2.2-.8 2.2-.4 2.2-.2 2.1-.4 2.2-2 2.2 2.9 2.2 .5 2.2-.6 2.2-.1 2.2-1.6 2.2 2.7 2.1-1.8 2.2-.4 2.2 2.5 2.2-1.7 2.2 .1 2.2 .8 2.2-1.5 2.2 .1 2.2 .7 2.1 .8 2.2-2.6 2.2 .6 1.1 .8"/>
<path stroke="#FFC000" d="M314.6 3546.7l2.2 1.2 2.2-.9 2.2-.4 2.2-1.1 2.2 .8 2.2 1.4 2.2-1.1 2.2-2.3 2.1 2.1 2.2 1.6 2.2-1.3 2.2 1.3 2.2-.9 2.2-.8 2.2-.8 2.2 2.5 2.2-1.7 2.1-.1 2.2-.1 2.2 .4 2.2-.2 2.2-1.1 2.2 2.5 2.2 .5 2.2-.1 2.1-2.7 2.2 0 2.2 .4 2.2-.5 2.2 2.5 2.2-1.1 2.2 1.4 2.2 .5 2.2-.6 2.1-2.1 2.2-.4 2.2 1.1 2.2-.8 2.2-.1 2.2 1.2 2.2 0 2.2-1.5 2.2-.1 2.1 2.5 2.2-.3 2.2-.4 2.2-1.8 2.2 1.8 2.2-1.2 2.2-.3 2.2 1.2 2.2-.1 2.1-2 2.2 .8 2.2 1.1 2.2-.3 2.2-.6 2.2-.1 2.2-.5 2.2 .7 2.1 .9 2.2-1.8 2.2 1.4 2.2-.3 2.2-.2 2.2 2 2.2-1.7 2.2 0 2.2 1.1 2.1 .3 2.2-.3 2.2-1.7 2.2-.5 2.2 1.7 2.2-1.3 2.2 0 2.2 .3 2.2 2.1 2.1-2.3 2.2-.1 2.2 3.2 2.2-.9 2.2-3 2.2 .5 2.2 .3 2.2 .1 2.2 1.2 2.1-1.5 2.2-1.5 2.2 .1 2.2 2.1 2.2-1.3 2.2 .1 2.2-.4 2.2 1.5 2.1-.4 2.2 0 2.2 2.4 2.2-1.4 2.2-.2 2.2-.8 2.2-.6 2.2 1.8 2.2 .2 2.1-1.2 2.2 1.4 2.2-.9 2.2 .4 2.2-.5 2.2 .7 2.2-1.9 2.2 2.4 2.2-.3 2.1 .3 2.2 .3 2.2-.2 2.2-.9 2.2-1.3 2.2 .6 2.2-.1 2.2-.3 2.1 .6 2.2-1 2.2 1.9 2.2-2.1 2.2-.6 2.2-.9 2.2 .6 2.2 .5 2.2-.9 2.1-1 2.2-1.3 2.2-.3 2.2-1 2.2-2.2 2.2-2.7 2.2 1.6 2.2-1.6 2.2-1.4 2.1-3.2 2.2-1.3 2.2-2.8 2.2-2.5 2.2-5.6 2.2-2 2.2-2.4 2.2-1.2 2.2-1.6 2.1 3 2.2 .2 2.2-1.9 2.2 3 2.2-3.6 2.2 .5 2.2 2.4 2.2-.5 2.1 .7 2.2 .5 2.2 .3 2.2 1.1 2.2 1.3 2.2 2.9 2.2 3.6 2.2 2.6 2.2 .9 2.1 2.8 2.2 1.5 2.2-.1 2.2 3 2.2 1.8 2.2 .7 2.2 2.3 2.2-.7 2.2 1.5 2.1 .9 2.2 .9 2.2 0 2.2 1 2.2-.8 2.2 1.5 2.2 .1 2.2-.8 2.2 1.3 2.1 .1 2.2 .8 2.2-1.8 2.2-.3 2.2-.2 2.2 1.2 2.2 1.3 2.2 0 2.1 .5 2.2-.2 2.2-1.7 2.2 1.9 2.2-1.5 2.2-.3 2.2 2.2 2.2-.3 2.2-1.3 2.1 1.6 2.2-1.4 2.2-.1 2.2-1.5 2.2 1.2 2.2-.1 2.2 1.2 2.2 .4 2.2 .6 2.1-1.5 2.2 1.4 2.2-1.3 2.2 1.2 2.2 .5 2.2 .2 2.2-1.2 2.2-.6 2.2 2 2.1-1.6 2.2 0 2.2-.9 2.2 .6 2.2-1.5 2.2 1.1 2.2-.1 2.2 0 2.1 .6 2.2 .8 2.2 .7 2.2-1.2 2.2 .2 2.2-1.5 2.2 0 2.2-2.4 2.2-1.2 2.1 4 2.2-.4 2.2 .6 2.2 .3 2.2-.5 2.2-.6 2.2-1.8 2.2 3.5 2.2-2.1 2.1-.4 2.2 .6 2.2 2 2.2 2 2.2-1.5 2.2-1.3 2.2 1.5 2.2-2.8 2.2 3.6 2.1-1.2 2.2-2.2 2.2 .7 2.2 .1 2.2-1.3 2.2 2.1 2.2-.6 2.2-.6 2.1-1.1 2.2 1.9 2.2 .3 2.2-.6 2.2 .6 2.2-.5 2.2 1.2 2.2-1.4 2.2 .7 2.1 2.6 2.2-3.6 2.2 .4 2.2-.5 2.2 1.9 2.2-.8 2.2-.1 2.2 .2 2.2 .2 2.1 1.2 2.2-2.3 2.2 1 2.2-1.2 2.2 0 2.2-.4 2.2 .9 2.2 .9 2.1-2.3 2.2-.5 2.2 .1 2.2-.9 2.2 .1 2.2 2.5 2.2 .4 2.2 1.7 2.2-2.2 2.1-.1 2.2 1.7 2.2-2.2 2.2 1.6 2.2 1.4 2.2-1.3 2.2-1.6 2.2-.2 2.2 .9 2.1-.3 2.2 .3 2.2 1.3 2.2 .6 2.2-.8 2.2 .2 2.2 0 2.2-1.2 2.2-.6 2.1 2 2.2-1.4 2.2-.5 2.2-1.3 2.2 1.4 2.2 .7 2.2-.2 2.2-.6 2.1-1.1 2.2-.2 2.2 2.1 2.2 2.1 2.2-2.7 2.2-.5 2.2 .7 2.2 1 2.2-.8 2.1-.5 2.2 0 2.2 2.1 2.2-2.9 2.2 .9 2.2 .7 2.2-.5 2.2-2.3 2.2 3.9 2.1-1 2.2 1.2 2.2-2.3 2.2 .1 2.2 .4 2.2-.4 2.2 1.9 2.2-.4 2.2-1 2.1 1.2 2.2-.9 2.2-.4 2.2 1.9 2.2-1.1 2.2-1.6 2.2 .6 2.2 .5 2.1 1 2.2-.4 2.2 1 2.2-.5 2.2 0 2.2-.6 2.2 .4 2.2-.6 2.2-.1 2.1-1.6 2.2 1.5 2.2 1.1 2.2-.6 2.2 .8 2.2-1.4 2.2 1.7 2.2-3.2 2.2 3.1 2.1-2.5 2.2-.6 2.2 2.5 2.2 .6 2.2-.8 2.2 .1 2.2 .1 2.2 .2 2.2-1.2 2.1-.6 2.2 2.4 2.2-.2 2.2-.4 2.2-1.6 2.2 .6 2.2 .3 2.2-1.5 2.1 1.8 2.2-.9 2.2 .4 2.2-2.2 2.2 2.4 2.2-1.2 2.2 2.5 2.2-1.7 2.2 1.8 2.1-1 2.2-1.5 2.2 .8 2.2 1.3 2.2-1.2 2.2 .1 2.2 .8 2.2-.5 2.2 .7 2.1-2.4 2.2 1.2 2.2 2 2.2-1.3 2.2 0 2.2-.3 2.2 .3 2.2-.2 2.2-.2 2.1 1.5 2.2-1.8 2.2 2 2.2-3 2.2 2 2.2-.9 2.2-1 2.2 1.5 2.1-.8 2.2 1.6 2.2-1.6 2.2 1.6 2.2-2 2.2 2 2.2-1.8 2.2-.6 2.2 1.8 2.1-.1 2.2-1.2 2.2-1.1 2.2 2.9 2.2 .2 2.2-3 2.2 .6 2.2 .8 2.2-.9 2.1 1.1 2.2 .9 2.2-.3 2.2 .7 2.2-1.4 2.2-.7 2.2-1.3 2.2 1.3 2.1-.2 2.2 2.8 2.2-2.5 2.2 2.4 2.2-.2 2.2-1.4 2.2 .1 2.2 2.6 2.2-2.5 2.1-.2 2.2 .8 2.2-1.6 2.2 2.3 2.2-1.4 2.2-1 2.2 1.4 2.2-1 2.2 .2 2.1 1.6 2.2-1.3 2.2-1.9 2.2 1.9 2.2-1.7 2.2 1.3 2.2 2.4 2.2-2.4 2.2-.6 2.1-.3 2.2-.5 2.2 1.1 2.2 .9 2.2-1.1 2.2 .3 2.2 .3 2.2 1.3 2.1-.4 2.2-.3 2.2-.5 2.2-.2 2.2 0 2.2 1.2 2.2 .7 2.2-.7 2.2-1.9 2.1 1.8 2.2-1.8 2.2 1.7 2.2-.2 2.2-2.5 2.2 .6 2.2 2.2 2.2-1.7 2.2 .2 2.1-.8 2.2 .8 2.2 .7 2.2-1.1 2.2 1.1 2.2-.7 2.2 1 2.2-.9 2.2 .2 2.1 1 2.2 0 2.2 1 2.2-1.7 2.2-.5 2.2 .6 2.2-.4 2.2-1.3 2.1 2.1 2.2-1.7 2.2-.1 2.2 .1 2.2 .3 2.2-.4 2.2-.7 2.2-.5 2.2 2 2.1-1.3 2.2-.8 2.2-.8 2.2 1.3 2.2 .5 2.2-2.8 2.2 .8 2.2 .8 2.2-1.7 2.1 1 2.2-.3 2.2-1 2.2-.2 2.2-.4 2.2 0 2.2-.7 2.2 .1 2.2-2.3 2.1 1.7 2.2-.2 2.2-1.1 2.2 1.7 2.2-.6 2.2-.9 2.2-1.7 2.2 0 2.1-.4 2.2 .6 2.2-1.2 2.2-.7 2.2-.8 2.2 1.1 2.2-2.1 2.2 .3 2.2 0 2.1-2.3 2.2-.5 2.2 .1 2.2-1.8 2.2-.8 2.2 .8 2.2-.2 2.2-4.4 2.2-.4 2.1-.1 2.2-.9 2.2-1.7 2.2-1.9 2.2 .1 2.2-2 2.2-.6 2.2-1.3 2.2-2 2.1 .5 2.2 0 2.2 .2 2.2 1.8 2.2-1.4 2.2 1.9 2.2-1.2 2.2-.7 2.1 2.9 2.2 1.1 2.2 .4 2.2-.9 2.2 2.6 2.2-.7 2.2 .8 2.2 .2 2.2-1.9 2.1 .2 2.2-.1 2.2-.6 2.2-1 2.2 .6 2.2-.2 2.2-1.4 2.2 1.6 2.2 .2 2.1-1.2 2.2 .3 2.2 .2 2.2-2.1 2.2-.5 2.2-.1 2.2-2.1 2.2 .2 2.2 .5 2.1-2.2 2.2-3 2.2-.7 2.2-1.5 2.2-3.2 2.2-4.2 2.2-2.2 2.2-3 2.1-8.7 2.2-6.1 2.2-11.7 2.2-11.9 2.2-13 2.2-13.3 2.2-18.1 2.2-25.3 2.2-20 2.1-21.4 2.2-18.6 2.2-11.9 2.2-5.1 2.2 1.8 2.2 1.4 2.2-1.2 2.2 1.5 2.2-3.7 2.1-9.4 2.2-9 2.2-11.3 2.2-13.4 2.2-15.5 2.2-16.5 2.2-5.9 2.2 10.9 2.1 16.4 2.2 12.4 2.2 14.5 2.2 18.3 2.2 16.9 2.2 16.1 2.2 15.7 2.2 14.9 2.2 13 2.1 12.1 2.2 12.4 2.2 9.5 2.2 13.9 2.2 14.3 2.2 9.6 2.2 9.5 2.2 6.5 2.2 6.6 2.1 5.1 2.2 4.2 2.2 5.6 2.2 3 2.2 2.8 2.2 4.1 2.2 2.6 2.2 .4 2.2 2.1 2.1-.1 2.2 1.8 2.2 2.2 2.2 .7 2.2 .4 2.2-1.6 2.2 2.4 2.2 .3 2.1 .7 2.2-.2 2.2 1.9 2.2-2.2 2.2 1.6 2.2-.3 2.2 1.1 2.2 .4 2.2 1.4 2.1 0 2.2-1.5 2.2 1 2.2-2.4 2.2 1 2.2-2.4 2.2 2.4 2.2-1.1 2.2-.1 2.1 .5 2.2 .6 2.2-.3 2.2-1.3 2.2 .8 2.2 .6 2.2-2.2 2.2 0 2.2 .4 2.1 .6 2.2-1.2 2.2-.7 2.2 .9 2.2-1.4 2.2 1.3 2.2-.3 2.2 1.4 2.1 2.1 2.2 1.5 2.2-2.1 2.2-.1 2.2 1.5 2.2 .7 2.2 .6 2.2 .2 2.2-.1 2.1 2.8 2.2 1.6 2.2 .6 2.2-1.2 2.2 .9 2.2 1.4 2.2 1.5 2.2 1.8 2.2-1.3 2.1 1.4 2.2 1.3 2.2 .7 2.2-.8 2.2 .4 2.2-2.8 2.2 2.2 2.2 1.1 2.2 1 2.1 .6 2.2 2.4 2.2 .1 2.2 1.6 2.2 .3 2.2-1.4 2.2 1.1 2.2 1.1 2.1 1.1 2.2-1 2.2-1.3 2.2 2.4 2.2 1.1 2.2-.9 2.2 1.2 2.2-1.6 2.2 .6 2.1-.4 2.2 1.6 2.2-.6 2.2 1.8 2.2-1.5 2.2 2.5 2.2 .1 2.2-.4 2.2-1.3 2.1 1.5 2.2 .3 2.2-.4 2.2 .8 2.2-.1 2.2-.2 2.2-.4 2.2 1.1 2.2-1.1 2.1-.7 2.2 2.1 2.2 0 2.2-.5 2.2 .2 2.2-.2 2.2-1.4 2.2 2.3 2.1-.5 2.2-1.5 2.2 .2 2.2 1 2.2-.9 2.2 1 2.2 .1 2.2-1.3 2.2-.1 2.1 1.7 2.2-.7 2.2-.9 2.2 .8 2.2 2.6 2.2-2.1 2.2 .8 2.2-.3 2.2-.6 2.1 2.5 2.2-1 2.2 1.2 2.2-.1 2.2-1 2.2-.9 2.2 .7 2.2-.7 2.1 2.6 2.2-4 2.2 3.5 2.2-.6 2.2-.5 2.2 1.3 2.2-.6 2.2 .2 2.2-.1 2.1 .9 2.2 .3 2.2-2.1 2.2-.6 2.2 1.7 2.2 1.1 2.2-.3 2.2 1.3 2.2-.9 2.1 .2 2.2-1.3 2.2 2.7 2.2-1.6 2.2 1.1 2.2-1 2.2 1.3 2.2-1.2 2.2 .5 2.1 .6 2.2 0 2.2-.2 2.2 1.5 2.2 .3 2.2 .9 2.2-1.3 2.2 .7 2.1-1 2.2-.3 2.2 1.7 2.2-1 2.2-1 2.2-.2 2.2 .4 2.2 1.2 2.2 .8 2.1-.3 2.2 .5 2.2-1 2.2-.9 2.2-.3 2.2 .9 2.2 .1 2.2-.6 2.2 .7 2.1 .6 2.2-.2 2.2 1 2.2 .6 2.2-.6 2.2 .6 2.2-.3 2.2-1.5 2.2 .1 2.1 1.2 2.2-1.8 2.2 1.9 2.2 .1 2.2-1 2.2 .8 2.2-.4 2.2 .5 2.1-1.3 2.2 1.9 2.2 .6 2.2-1.3 2.2 .5 2.2 .6 2.2-1.2 2.2 .9 2.2-.4 2.1 .1 2.2-1.3 2.2 .3 1.1-.1"/>
<path stroke="#5B9BD5" d="M314.6 3423.4l2.2 .3 2.2 1 2.2-1.7 2.2-.6 2.2-.1 2.2 1.4 2.2-.4 2.2-1.6 2.1 2.6 2.2-.2 2.2-1.1 2.2 1.9 2.2-1.1 2.2-1.3 2.2 .9 2.2 2.2 2.2-1.6 2.1-1 2.2-.6 2.2 .5 2.2 1 2.2-.7 2.2 1.2 2.2 .7 2.2 .1 2.1-1.8 2.2-.7 2.2 0 2.2 0 2.2 .8 2.2 .5 2.2-.1 2.2 1.4 2.2-.6 2.1-1.7 2.2 .4 2.2 .2 2.2-1.1 2.2 .4 2.2-.1 2.2 .3 2.2-.9 2.2 .1 2.1 3.1 2.2-1.4 2.2-1.1 2.2-.6 2.2 1.7 2.2-.7 2.2-2 2.2 2.5 2.2-.9 2.1 .6 2.2 .2 2.2 .9 2.2-1.6 2.2 .3 2.2-1.2 2.2-.9 2.2 2.7 2.1-.2 2.2 0 2.2-.9 2.2 1.5 2.2-2.9 2.2 2.7 2.2-.4 2.2-1 2.2 .8 2.1 1.3 2.2-1.3 2.2-.7 2.2-.3 2.2 3.2 2.2-3.2 2.2 .6 2.2-.3 2.2 2 2.1-1.7 2.2-1.5 2.2 3.2 2.2 .2 2.2-2.9 2.2 2.2 2.2-1 2.2 .5 2.2 .2 2.1-1.6 2.2-.2 2.2-1.6 2.2 2.3 2.2-.7 2.2 1.3 2.2-1 2.2 2.2 2.1-.5 2.2 0 2.2-.5 2.2-1 2.2 .8 2.2-.8 2.2-.4 2.2 .4 2.2 .8 2.1-.8 2.2 .5 2.2 .7 2.2 .2 2.2-.8 2.2 .2 2.2-1.2 2.2 2.6 2.2-1.6 2.1 .4 2.2-.2 2.2-.2 2.2-.5 2.2 1.8 2.2-1 2.2 .3 2.2-.7 2.1-.3 2.2-1 2.2 2.4 2.2-2.2 2.2-.3 2.2-1.9 2.2 1.7 2.2-1 2.2-.8 2.1 1 2.2-2.2 2.2-1.3 2.2 .5 2.2-4.8 2.2-1.7 2.2-.3 2.2-.6 2.2-1.5 2.1-3.7 2.2 .4 2.2-2.5 2.2-3 2.2-4.7 2.2-1.1 2.2-1.1 2.2-1.7 2.2-1.9 2.1 1.1 2.2 .4 2.2-2.1 2.2 2.6 2.2-2.9 2.2 .1 2.2 2.3 2.2-.5 2.1 1.5 2.2-1.4 2.2 1 2.2 1 2.2 1 2.2 2.7 2.2 2.9 2.2 3.3 2.2 2.4 2.1 2.3 2.2 1 2.2 1 2.2 1.3 2.2 4.6 2.2-.7 2.2 1.5 2.2-1.8 2.2 1.9 2.1 1.2 2.2 1.5 2.2 0 2.2 1.2 2.2-.8 2.2 2.1 2.2-.5 2.2 0 2.2 .8 2.1 .1 2.2 .5 2.2-1.4 2.2-.3 2.2-1.2 2.2 2.1 2.2 .6 2.2 .4 2.1 0 2.2 .8 2.2-.9 2.2 .6 2.2-.5 2.2 .1 2.2 .8 2.2 1 2.2-2.1 2.1 1.7 2.2 .1 2.2-1.8 2.2-.4 2.2-.6 2.2 1.1 2.2 1.2 2.2 0 2.2 .7 2.1-1.4 2.2 .8 2.2-.5 2.2 .1 2.2 .1 2.2 1.8 2.2-1.4 2.2-.3 2.2 .9 2.1-.2 2.2 .2 2.2-2.9 2.2 .9 2.2-.9 2.2 2 2.2-1.1 2.2-.2 2.1 .1 2.2 .5 2.2 2.7 2.2-1 2.2-.4 2.2-3.4 2.2 1.5 2.2-3.2 2.2 .8 2.1 1.3 2.2 .1 2.2 2.3 2.2-1.3 2.2 1.1 2.2-.6 2.2-1.5 2.2 2.8 2.2-2.6 2.1-.5 2.2 .5 2.2 2.2 2.2 .9 2.2-1.3 2.2-.8 2.2 .8 2.2-.5 2.2 2.1 2.1-1.2 2.2-1.6 2.2 .3 2.2 .4 2.2 .2 2.2-.5 2.2 0 2.2 .8 2.1-.4 2.2-.1 2.2 .1 2.2-.5 2.2 1 2.2 0 2.2 1.2 2.2-2.3 2.2 .5 2.1 .7 2.2-.3 2.2-.1 2.2 .5 2.2 .6 2.2-2.3 2.2 1.4 2.2 1.1 2.2-.8 2.1 .8 2.2-3.4 2.2 2.3 2.2-.8 2.2-.6 2.2-1 2.2 1.4 2.2 .8 2.1-1.2 2.2 .6 2.2-1.6 2.2 .1 2.2-.8 2.2 1.4 2.2 1 2.2 1.9 2.2-1.6 2.1-.2 2.2 1.5 2.2-.5 2.2-.4 2.2 .1 2.2 .2 2.2-.9 2.2-1.3 2.2 1 2.1-.8 2.2 .5 2.2 2.8 2.2-1.8 2.2 .3 2.2-.4 2.2 1.7 2.2-3.1 2.2 1.1 2.1 1.4 2.2-1.4 2.2 .1 2.2-1 2.2 .7 2.2-.5 2.2 2.1 2.2-.7 2.1 .1 2.2-2.2 2.2 1.6 2.2 1.9 2.2-.9 2.2-2.8 2.2 1.9 2.2 1 2.2-1.3 2.1-.9 2.2 .7 2.2 .9 2.2-3 2.2 2.6 2.2 .7 2.2-1 2.2-1.6 2.2 3.1 2.1-1.1 2.2 2 2.2-3.1 2.2 .2 2.2-.1 2.2 .9 2.2 1.5 2.2 .1 2.2-1.1 2.1 .9 2.2-1.5 2.2 .1 2.2 .6 2.2 .7 2.2-1.3 2.2 .2 2.2 .1 2.1 1.9 2.2-1.3 2.2 1.9 2.2-1.4 2.2-.8 2.2-.7 2.2 1.1 2.2-.6 2.2-.1 2.1-1.6 2.2 2.8 2.2-1.4 2.2 .1 2.2 .9 2.2-.6 2.2-1.1 2.2-.2 2.2 1.3 2.1-.1 2.2-1.1 2.2 1.3 2.2 .5 2.2-1.1 2.2 .5 2.2 .8 2.2 0 2.2-.8 2.1 .2 2.2 1.5 2.2-1.3 2.2-.7 2.2 .2 2.2 0 2.2 .4 2.2-1 2.1 .3 2.2-.1 2.2 .9 2.2-2.8 2.2 1.9 2.2-.1 2.2 2 2.2-1.6 2.2 1.6 2.1-1 2.2-1.4 2.2 1.6 2.2-.6 2.2 .9 2.2-.3 2.2-.8 2.2-.6 2.2 .2 2.1-.2 2.2 1.4 2.2 1.3 2.2-3 2.2 .7 2.2 .2 2.2 .3 2.2-.6 2.2-.4 2.1 1.5 2.2-.7 2.2 .6 2.2-1.5 2.2 .8 2.2-.4 2.2 0 2.2 .7 2.1 .5 2.2-.6 2.2-.4 2.2 .2 2.2 .1 2.2 .9 2.2-.5 2.2-1.6 2.2 1.8 2.1-1 2.2-.2 2.2-.4 2.2 2.1 2.2 1.7 2.2-3.6 2.2 .7 2.2-.3 2.2-.7 2.1 1.6 2.2 .9 2.2-.2 2.2-.6 2.2-.7 2.2-.6 2.2-2.4 2.2 4.1 2.1-2 2.2 2.9 2.2-1.6 2.2 0 2.2 .5 2.2-.2 2.2-1.4 2.2 1.7 2.2-1.2 2.1 .4 2.2 1 2.2-1.8 2.2 .5 2.2-.5 2.2 .3 2.2 .7 2.2-.1 2.2-.2 2.1-.4 2.2 1.5 2.2-2.5 2.2 1.1 2.2-1.8 2.2 1.2 2.2 1.3 2.2-.8 2.2-1.5 2.1 1.3 2.2 .3 2.2 0 2.2 1.7 2.2-1.5 2.2-.3 2.2 1 2.2-.6 2.1 .4 2.2-1 2.2 1.2 2.2-1 2.2-.8 2.2 1.6 2.2-.2 2.2-.9 2.2-.3 2.1 1.9 2.2-.7 2.2 0 2.2-.8 2.2-.7 2.2 .1 2.2 1.6 2.2-1.3 2.2 .5 2.1-1.3 2.2 1 2.2 1.9 2.2-.5 2.2-1.2 2.2 .6 2.2 .8 2.2-2.3 2.2 .3 2.1 .9 2.2-.5 2.2 1.7 2.2-2.4 2.2 .6 2.2 1.6 2.2-.1 2.2-1.1 2.1 .4 2.2 0 2.2-1.4 2.2-.2 2.2-.2 2.2 .3 2.2-.7 2.2-1.8 2.2 2.3 2.1-.4 2.2-.6 2.2-1.4 2.2 2 2.2-2.2 2.2 .5 2.2-1.2 2.2 1.7 2.2-2.6 2.1 1.7 2.2 .1 2.2-1.7 2.2-.8 2.2 .5 2.2-.2 2.2 .3 2.2 .2 2.2-2.3 2.1 2.1 2.2-2.5 2.2-.8 2.2 2.8 2.2-2.1 2.2 .5 2.2-2.5 2.2-.5 2.1 1 2.2 .2 2.2-2.1 2.2 0 2.2-.5 2.2 1.4 2.2-2 2.2 .8 2.2-.6 2.1-2.4 2.2 .1 2.2-1.4 2.2-1 2.2 .2 2.2-.4 2.2-1.1 2.2-3.3 2.2 .7 2.1-1.5 2.2-.4 2.2-1.9 2.2-1 2.2-.8 2.2-1.5 2.2 .1 2.2-.8 2.2-2.8 2.1-.3 2.2-1 2.2 1.2 2.2 2.7 2.2-1.1 2.2 0 2.2 .5 2.2-.6 2.1 2.4 2.2 .2 2.2 1.2 2.2 .3 2.2 1.8 2.2-1 2.2 .4 2.2-.5 2.2-.4 2.1-.7 2.2 1.2 2.2-1.9 2.2-1.2 2.2 1.8 2.2-.2 2.2-1.5 2.2 1.1 2.2-.6 2.1 .5 2.2-1 2.2-.2 2.2-1.1 2.2 0 2.2-.4 2.2-2 2.2 0 2.2-1.2 2.1-1.5 2.2-2.8 2.2 0 2.2-1.9 2.2-2.8 2.2-3.2 2.2-3.7 2.2-2.9 2.1-6.6 2.2-7.8 2.2-11.1 2.2-11.8 2.2-12.9 2.2-12.3 2.2-17.9 2.2-23.7 2.2-19.9 2.1-20.5 2.2-18.7 2.2-13.4 2.2-4.1 2.2 1.2 2.2 1.9 2.2-.4 2.2 1.3 2.2-2.8 2.1-10.3 2.2-10.4 2.2-11.1 2.2-13.3 2.2-14.4 2.2-14.9 2.2-7.6 2.2 11.4 2.1 15.3 2.2 13.2 2.2 15.8 2.2 15.2 2.2 17.7 2.2 17.7 2.2 14.9 2.2 14.9 2.2 11.4 2.1 12.3 2.2 11.5 2.2 12 2.2 10.2 2.2 13.1 2.2 8.8 2.2 9.7 2.2 8.5 2.2 5.6 2.1 5.8 2.2 3.3 2.2 6.3 2.2 3 2.2 2.8 2.2 3.4 2.2 2.2 2.2 .2 2.2 .8 2.1 1.7 2.2 1.6 2.2 3.3 2.2 1.3 2.2-1.6 2.2-.2 2.2 2 2.2-.1 2.1 .7 2.2-.5 2.2 1.5 2.2-2 2.2 2.1 2.2-1.2 2.2 2.2 2.2 .5 2.2 .1 2.1 .5 2.2-1.1 2.2 2.7 2.2-2.5 2.2 .9 2.2-3.5 2.2 2.1 2.2-1.2 2.2-.1 2.1 1 2.2-1.3 2.2 .7 2.2-1.2 2.2 2.4 2.2-.7 2.2-1.5 2.2-.3 2.2 0 2.1 1 2.2-2.1 2.2 1 2.2-1 2.2-.4 2.2 1.2 2.2-.5 2.2 1.9 2.1 2.2 2.2-.3 2.2-1.8 2.2 .9 2.2 2.8 2.2-.4 2.2 1 2.2-2 2.2 1.6 2.1 2.8 2.2 .9 2.2 1.3 2.2-1.5 2.2 .6 2.2 .5 2.2 3.1 2.2 0 2.2 .6 2.1-.3 2.2 2.2 2.2-.6 2.2-.2 2.2 1.4 2.2-1 2.2 .2 2.2-.5 2.2 3.2 2.1 .1 2.2-.2 2.2 2.2 2.2 2.2 2.2-.4 2.2-1 2.2 .7 2.2 1.8 2.1-.5 2.2-2.2 2.2 .8 2.2 2.5 2.2 1 2.2 .1 2.2 .6 2.2-1.4 2.2 .7 2.1 1.2 2.2-.1 2.2 1 2.2 1.4 2.2-.6 2.2 .5 2.2 .2 2.2-.5 2.2-2 2.1 3.1 2.2 .3 2.2-.5 2.2-.7 2.2 0 2.2-.1 2.2 .6 2.2 .5 2.2 .4 2.1-1.8 2.2 1.8 2.2 .2 2.2-1.1 2.2 1 2.2-.7 2.2-1.6 2.2 3.4 2.1-.6 2.2-1.6 2.2-.9 2.2 2.5 2.2-1.7 2.2 .6 2.2 .6 2.2-.1 2.2-.3 2.1 .5 2.2 .5 2.2-.3 2.2 0 2.2 1.6 2.2-1.1 2.2 .6 2.2-.2 2.2-.6 2.1 1.8 2.2-.1 2.2 .2 2.2 .1 2.2-.4 2.2-.6 2.2 1 2.2-.7 2.1 2.6 2.2-3.3 2.2 1.3 2.2-1.2 2.2 .7 2.2 1.5 2.2-1.3 2.2 .8 2.2-1.3 2.1 .7 2.2 1.1 2.2-2.6 2.2 .9 2.2 1.6 2.2 .1 2.2 1.4 2.2-1.3 2.2 .4 2.1 .4 2.2-.7 2.2 3.6 2.2-3.3 2.2 1.1 2.2-1.1 2.2 1.6 2.2-.1 2.2-2.2 2.1 .8 2.2 .1 2.2 .1 2.2 1.7 2.2 .8 2.2 1.5 2.2-2.7 2.2 .1 2.1 0 2.2 1.1 2.2 0 2.2-1.5 2.2 .8 2.2-1.1 2.2 .1 2.2 2.7 2.2 .3 2.1-1.6 2.2 .1 2.2 .6 2.2-2.3 2.2 1.1 2.2-.1 2.2 .1 2.2-1.3 2.2 2.1 2.1 0 2.2 .3 2.2 1.3 2.2 .8 2.2-2.1 2.2 .7 2.2-.1 2.2-1.5 2.2 .4 2.1 1.6 2.2-2 2.2 1.9 2.2 .3 2.2-1.8 2.2 1.8 2.2-2.3 2.2 2.5 2.1-1.6 2.2 1.3 2.2 .8 2.2-1.2 2.2-.4 2.2 1.1 2.2-.4 2.2 .7 2.2-.8 2.1 .3 2.2-1.3 2.2 1.4 1.1-.8"/>
<path stroke="#70AD47" d="M314.6 3301.8l2.2 .1 2.2-.7 2.2 .2 2.2-.2 2.2 .1 2.2-.3 2.2 .8 2.2-1.5 2.1 1.7 2.2 .7 2.2-.5 2.2 .8 2.2-1.5 2.2-1.2 2.2 .5 2.2 2.1 2.2-1.2 2.1 .1 2.2-1.6 2.2-.2 2.2 .7 2.2-.4 2.2 2.6 2.2 .1 2.2 .2 2.1-1.8 2.2-.2 2.2 0 2.2-.6 2.2 .9 2.2 .5 2.2 .7 2.2 1.1 2.2-1.1 2.1-1.1 2.2-.2 2.2 .8 2.2-1.8 2.2 .6 2.2-.5 2.2-.5 2.2-.1 2.2-.7 2.1 2.6 2.2 0 2.2-1.5 2.2-.1 2.2 1.2 2.2-.7 2.2-1 2.2 2.5 2.2-.1 2.1-1.9 2.2 0 2.2 1.3 2.2-.3 2.2 .9 2.2-2.2 2.2-.6 2.2 1.7 2.1 1.4 2.2-1.8 2.2 1 2.2 .7 2.2-3 2.2 3.2 2.2-1.7 2.2 .7 2.2 0 2.1-.2 2.2 .2 2.2-.3 2.2-1.3 2.2 2.1 2.2-2.2 2.2 1.6 2.2 .1 2.2 .4 2.1-1.6 2.2-.8 2.2 2.6 2.2-.3 2.2-2.5 2.2 1.1 2.2-.6 2.2 .2 2.2 1.2 2.1 .3 2.2-2.2 2.2-.7 2.2 1.2 2.2-.3 2.2 0 2.2-.2 2.2 2.6 2.1-1.3 2.2-.1 2.2 1 2.2-.6 2.2 0 2.2-.9 2.2 .2 2.2 .3 2.2 .2 2.1 0 2.2 .3 2.2-.9 2.2 1 2.2-.2 2.2 1.8 2.2-1.7 2.2 .8 2.2 .4 2.1-1 2.2-.7 2.2 .9 2.2-1.7 2.2 0 2.2 .5 2.2 .2 2.2-.9 2.1-.4 2.2-.5 2.2 1.6 2.2-2.2 2.2 .6 2.2-1.3 2.2 .4 2.2 1.2 2.2-1.2 2.1 1.3 2.2-3.4 2.2-2.5 2.2 .9 2.2-2.1 2.2-2.6 2.2 .5 2.2-1.3 2.2-1.2 2.1-4.9 2.2-.5 2.2-1.9 2.2-3.5 2.2-3.1 2.2-2.7 2.2-3.7 2.2 .7 2.2-2 2.1 1.7 2.2 .1 2.2-1.6 2.2 1.2 2.2-2.4 2.2 1.9 2.2 1.9 2.2-.1 2.1 .9 2.2 .9 2.2 .5 2.2 0 2.2 .5 2.2 2.1 2.2 2.2 2.2 3.6 2.2 1.3 2.1 3.2 2.2 1.5 2.2 1.4 2.2 1.5 2.2 3 2.2 .7 2.2 .5 2.2-1 2.2 2.8 2.1 1.6 2.2 .1 2.2 .3 2.2 2.4 2.2-1.7 2.2 2.1 2.2-.1 2.2-.9 2.2 1.8 2.1-1.3 2.2 1.6 2.2-.8 2.2 0 2.2-1.5 2.2 2.4 2.2 .4 2.2-.6 2.1 .4 2.2 1.9 2.2-2.2 2.2 .8 2.2 .7 2.2-1.4 2.2 1 2.2 1.2 2.2-1.4 2.1 .5 2.2-1.2 2.2-.7 2.2 .3 2.2-.5 2.2 .4 2.2 1.6 2.2 .8 2.2 1.1 2.1-1.6 2.2-.1 2.2-1.1 2.2 1.6 2.2 0 2.2 .7 2.2-1.6 2.2 .2 2.2 .2 2.1 .3 2.2 .5 2.2-2 2.2-.9 2.2 .1 2.2 1.1 2.2 .2 2.2-.3 2.1-.5 2.2 .9 2.2 2.7 2.2-1.8 2.2-.2 2.2-2.7 2.2 1.4 2.2-4.1 2.2 .4 2.1 1.8 2.2 1.2 2.2 2.4 2.2-1.9 2.2 1.4 2.2-.6 2.2-1.9 2.2 2.4 2.2-1.5 2.1-1.9 2.2 2.3 2.2 2.3 2.2 .4 2.2-1.8 2.2-.8 2.2 2.9 2.2-1.8 2.2 1.3 2.1-1.2 2.2-.5 2.2-1.1 2.2 .1 2.2 1.5 2.2 .7 2.2-.8 2.2-.4 2.1 1 2.2-1 2.2-.9 2.2 1.1 2.2-.8 2.2 .6 2.2 .4 2.2-1.8 2.2 2.8 2.1-.7 2.2-2.2 2.2 1.3 2.2 .6 2.2 1.3 2.2-1.7 2.2 .2 2.2 1 2.2-1.2 2.1 1.7 2.2-2.5 2.2 .7 2.2 .2 2.2-.5 2.2-2.5 2.2 1.9 2.2 1.8 2.1-2.4 2.2 .4 2.2-1.1 2.2 .5 2.2-2.5 2.2 2.5 2.2 1.1 2.2 3.1 2.2-3.5 2.1 .6 2.2 1.8 2.2-2.5 2.2 2 2.2 .9 2.2-.6 2.2-2.5 2.2-.2 2.2 .7 2.1-.1 2.2 .8 2.2 1.1 2.2-.5 2.2-.4 2.2 .1 2.2-.4 2.2-1.4 2.2 .2 2.1 2.3 2.2-.9 2.2 .2 2.2-3.4 2.2 3.9 2.2-1.1 2.2 0 2.2-.6 2.1 0 2.2 .2 2.2 .6 2.2 3.1 2.2-2.8 2.2-1.1 2.2 1.1 2.2 1.5 2.2-1.2 2.1-1.9 2.2 1 2.2 1 2.2-3.1 2.2 2 2.2 1 2.2-.5 2.2-2.6 2.2 2.2 2.1 1.1 2.2 1.5 2.2-2.5 2.2 .7 2.2-.5 2.2-.1 2.2 1.4 2.2-.6 2.2 .5 2.1 .1 2.2-.5 2.2-1.7 2.2 1.3 2.2 .2 2.2-.5 2.2 .7 2.2-.3 2.1-.3 2.2 1.7 2.2 1.3 2.2-1.7 2.2-.8 2.2 .5 2.2 .6 2.2-1.6 2.2-.2 2.1 .1 2.2 0 2.2 .3 2.2-.3 2.2 1.3 2.2-2.2 2.2 1.4 2.2-1.6 2.2 1.4 2.1 .5 2.2-1.6 2.2 2.9 2.2-.4 2.2-1.2 2.2-.7 2.2 .6 2.2 .3 2.2-1.3 2.1 .1 2.2 2 2.2-.7 2.2-1 2.2 .6 2.2-.1 2.2 .2 2.2 .1 2.1-.6 2.2 .8 2.2-.7 2.2-1.9 2.2 2 2.2-1.5 2.2 3.5 2.2-3.8 2.2 3 2.1-.5 2.2-1.7 2.2 1.9 2.2 .1 2.2-.5 2.2-1.4 2.2 1.5 2.2-1.7 2.2 1.6 2.1 .4 2.2-.2 2.2 1 2.2-.6 2.2-.3 2.2-.3 2.2-.9 2.2 .1 2.2 .6 2.1 .6 2.2-.6 2.2 1 2.2-1.5 2.2 1.3 2.2-.3 2.2-1.4 2.2 1.5 2.1-1.5 2.2-.2 2.2 .9 2.2 0 2.2-.5 2.2 2 2.2-1.9 2.2-.5 2.2 1.9 2.1-1.6 2.2 1 2.2-2.2 2.2 1.9 2.2 .3 2.2-1.5 2.2-.1 2.2 .8 2.2-.7 2.1 1.9 2.2-1.1 2.2 1.4 2.2-.9 2.2-.9 2.2 .2 2.2-2.1 2.2 2.1 2.1-.2 2.2 3.5 2.2-1.7 2.2 .9 2.2-.8 2.2-.2 2.2-.8 2.2 1 2.2-1.3 2.1-.9 2.2 2.7 2.2-2.6 2.2 .8 2.2-.9 2.2 0 2.2 1.6 2.2-2.1 2.2 1.4 2.1-.5 2.2 .3 2.2-2.5 2.2 1.9 2.2-1.3 2.2 2.2 2.2 .5 2.2-1.2 2.2 .4 2.1-.8 2.2-.3 2.2 .5 2.2 1.1 2.2-.7 2.2-1.6 2.2 1.9 2.2 .2 2.1-.8 2.2-.3 2.2 1.3 2.2-1.1 2.2 .7 2.2 .3 2.2-.2 2.2-.9 2.2 .3 2.1 1.7 2.2-1.4 2.2-.2 2.2 .8 2.2-1.9 2.2-.6 2.2 1.9 2.2-2 2.2-1.2 2.1 1.3 2.2 1.1 2.2-1.8 2.2 2.3 2.2-.9 2.2-.7 2.2 1.5 2.2-1.9 2.2 .4 2.1-.7 2.2-.5 2.2 2.1 2.2-1.6 2.2-.9 2.2 .7 2.2 .6 2.2-2.2 2.1 2.4 2.2-1.4 2.2 0 2.2-1 2.2-.2 2.2 .6 2.2-.9 2.2-1.9 2.2 1.5 2.1-.1 2.2 .5 2.2-2.5 2.2 3.5 2.2-.9 2.2-2 2.2-1.2 2.2 1.3 2.2-1.3 2.1 1.3 2.2 .1 2.2-2.6 2.2 .6 2.2-.7 2.2 .6 2.2-1.1 2.2 1.8 2.2-2.8 2.1 2.1 2.2-1.9 2.2-1.1 2.2 1 2.2 1.1 2.2-.3 2.2-3.8 2.2 .9 2.1 0 2.2 .6 2.2-.7 2.2 .1 2.2-3.2 2.2 2.1 2.2 .1 2.2-.8 2.2 0 2.1-2.4 2.2 .8 2.2-2 2.2 0 2.2-.9 2.2-.6 2.2 .8 2.2-2.5 2.2-1.7 2.1 0 2.2-1.1 2.2-.6 2.2-1.5 2.2-1.1 2.2-.7 2.2-1.5 2.2-1.2 2.2-.5 2.1 .2 2.2-2.6 2.2 1.8 2.2 2.2 2.2-1.2 2.2 1.6 2.2-.3 2.2 .7 2.1 1.6 2.2-.2 2.2 2.9 2.2-1.6 2.2 .9 2.2-1.7 2.2 1.5 2.2 0 2.2-1.4 2.1 0 2.2 .4 2.2 .2 2.2-.6 2.2 .5 2.2-.8 2.2-.8 2.2 1.2 2.2-.8 2.1 .7 2.2-2.5 2.2 2.6 2.2-2.2 2.2-2.4 2.2 1.7 2.2-3.2 2.2 1.6 2.2-1.6 2.1-1.2 2.2-2.4 2.2 0 2.2-3.6 2.2-1.7 2.2-3.1 2.2-4 2.2-3.1 2.1-7.9 2.2-6.6 2.2-10.3 2.2-11.2 2.2-11.4 2.2-15.2 2.2-15.1 2.2-24.1 2.2-20.1 2.1-21 2.2-17.4 2.2-12.8 2.2-4.5 2.2 .9 2.2 2.3 2.2-1.3 2.2 1.4 2.2-3 2.1-10.1 2.2-8 2.2-12.2 2.2-12.4 2.2-14.1 2.2-16.5 2.2-5.5 2.2 8.8 2.1 16.4 2.2 13.6 2.2 14.1 2.2 15.6 2.2 17 2.2 16.9 2.2 14.5 2.2 14.6 2.2 14.1 2.1 10.5 2.2 12.2 2.2 8.8 2.2 10.5 2.2 14.2 2.2 8.5 2.2 8.1 2.2 9.5 2.2 5.2 2.1 5.9 2.2 4.3 2.2 5.5 2.2 2.7 2.2 1.5 2.2 4.5 2.2 2 2.2 1.9 2.2 1.3 2.1 .8 2.2 1.5 2.2 4.1 2.2-1.5 2.2 .7 2.2 .3 2.2 1.9 2.2-1.8 2.1 2.2 2.2-.8 2.2 1.4 2.2-.7 2.2 .2 2.2-.8 2.2 1.2 2.2 .2 2.2 1.1 2.1-.4 2.2 .7 2.2 .9 2.2-2 2.2-.5 2.2-1.6 2.2 2.3 2.2-.4 2.2 0 2.1-.2 2.2-.6 2.2-.6 2.2-.1 2.2 1.8 2.2 .6 2.2-2.4 2.2-.8 2.2 .8 2.1 .3 2.2-1.3 2.2 0 2.2-.3 2.2-1.1 2.2 2.8 2.2-1.8 2.2 1.8 2.1 1.8 2.2 1.3 2.2-1.8 2.2-.6 2.2 3.6 2.2-1 2.2 1.9 2.2-2.1 2.2 2 2.1 2.2 2.2-.3 2.2 2.4 2.2-.4 2.2-.5 2.2 .7 2.2 3.7 2.2-.3 2.2-2.3 2.1-.6 2.2 3.9 2.2-.8 2.2 .4 2.2 1.2 2.2-1.6 2.2 2 2.2 1 2.2 1.2 2.1 .1 2.2-.1 2.2 1.8 2.2 2.4 2.2-2.2 2.2 .7 2.2 1.5 2.2 2.8 2.1-.9 2.2-2 2.2 .2 2.2 2.6 2.2-.5 2.2 1.1 2.2-1 2.2-.9 2.2 1.2 2.1 .2 2.2 1.9 2.2-1.2 2.2 2.2 2.2-.6 2.2 1.4 2.2-1 2.2 .9 2.2-2.2 2.1 2.9 2.2-.8 2.2-1.3 2.2 .4 2.2 1 2.2 .3 2.2 0 2.2 .8 2.2-.6 2.1-.9 2.2 2.1 2.2-.5 2.2-1.4 2.2 1.8 2.2-.8 2.2-2.5 2.2 2.4 2.1 .2 2.2-1.8 2.2 .6 2.2 2.9 2.2-1.6 2.2-2.2 2.2 2.2 2.2-.3 2.2 1.1 2.1 .7 2.2-.2 2.2-.6 2.2-1.5 2.2 3.5 2.2-2.7 2.2 1.8 2.2-.3 2.2 .1 2.1 1.7 2.2-.8 2.2 1.1 2.2 0 2.2-2.6 2.2 .6 2.2 .4 2.2-.9 2.1 1.8 2.2-1.5 2.2 1.5 2.2-.5 2.2 1.2 2.2 .5 2.2-1.6 2.2 1.3 2.2-1.5 2.1 1.2 2.2-.2 2.2-2.1 2.2 0 2.2 2.6 2.2 1 2.2-1.2 2.2 .7 2.2 .6 2.1 .3 2.2-1.2 2.2 .7 2.2-.3 2.2 .7 2.2-1.1 2.2 1 2.2 .9 2.2-1.6 2.1 1 2.2-.7 2.2 .4 2.2 1 2.2 .4 2.2 .3 2.2-.6 2.2-.4 2.1 .4 2.2 .4 2.2 .7 2.2 .3 2.2-.2 2.2-.3 2.2-1.5 2.2 2.4 2.2-.3 2.1-.3 2.2-.3 2.2 .4 2.2-1.6 2.2-1 2.2 1.2 2.2 .4 2.2 .4 2.2-.3 2.1-.6 2.2 1 2.2 1.7 2.2 .5 2.2-1 2.2 .6 2.2-1.2 2.2-.7 2.2-1.1 2.1 2.3 2.2-1.4 2.2 1.3 2.2 0 2.2-1.3 2.2 1.3 2.2-1 2.2 2.2 2.1-.5 2.2-.5 2.2 2.5 2.2-2.7 2.2-.1 2.2 .7 2.2-1.5 2.2 .1 2.2 .2 2.1 .4 2.2-.7 2.2 .1 1.1 1.7"/>
<path stroke="#44546A" d="M314.6 3178.5l2.2 .2 2.2 .1 2.2-1.3 2.2 .6 2.2 .3 2.2 .1 2.2-.8 2.2-2.4 2.1 2.5 2.2 .5 2.2-1.3 2.2 .2 2.2-1.6 2.2-1 2.2 .5 2.2 1.6 2.2-.8 2.1-.6 2.2-.4 2.2-.4 2.2 .8 2.2-1.5 2.2 2.1 2.2 1.1 2.2-1.1 2.1-1.4 2.2-.9 2.2 1.7 2.2-1.9 2.2 .5 2.2 1.2 2.2-1.3 2.2 1.1 2.2-.1 2.1-1.6 2.2-.6 2.2 0 2.2 .8 2.2-.8 2.2 1.2 2.2-.6 2.2-.9 2.2 .1 2.1 1.4 2.2 .2 2.2-1 2.2-.2 2.2 .6 2.2 .2 2.2-1.7 2.2 1.1 2.2 0 2.1-1.1 2.2 1.1 2.2 2.3 2.2-2 2.2 .4 2.2-1.3 2.2 .5 2.2 .2 2.1 1.2 2.2-.6 2.2 1.3 2.2 1.1 2.2-2.5 2.2 2.9 2.2-.5 2.2 .7 2.2-.4 2.1 .4 2.2 .9 2.2-1 2.2 .4 2.2 .4 2.2-.9 2.2 .8 2.2 0 2.2 1.3 2.1-1.5 2.2 .1 2.2 1.8 2.2 .8 2.2-3.7 2.2 2.8 2.2-1.5 2.2 .4 2.2 1.2 2.1-1.3 2.2 .4 2.2-2.3 2.2 1.6 2.2-2 2.2 2.1 2.2-.3 2.2 2.4 2.1-1.8 2.2 .3 2.2 1.8 2.2-.6 2.2-.3 2.2-2.1 2.2 1.4 2.2 .3 2.2-.2 2.1-.2 2.2-1.4 2.2 .7 2.2 1 2.2 .2 2.2 .5 2.2-1.7 2.2 .9 2.2 .6 2.1-1.2 2.2 1.3 2.2-1.1 2.2 .1 2.2-1 2.2 1.6 2.2-.8 2.2-1.2 2.1-.3 2.2-1.2 2.2 1.6 2.2-.4 2.2-.1 2.2-1 2.2-.9 2.2 1.2 2.2-1.1 2.1-.6 2.2-2.6 2.2-1.3 2.2 1.1 2.2-4.9 2.2-2.5 2.2-2.1 2.2-1.4 2.2-1.2 2.1-3.1 2.2-1.9 2.2-1.4 2.2-1.4 2.2-4.2 2.2-1.2 2.2-3.7 2.2 .2 2.2-1.3 2.1 1.6 2.2-.3 2.2-.1 2.2 1.6 2.2-2.8 2.2 1.9 2.2 .9 2.2 .2 2.1 1.3 2.2 1.5 2.2 .7 2.2 2 2.2 .4 2.2 3.8 2.2 1.5 2.2 3.9 2.2-.2 2.1 3.6 2.2 2.2 2.2 0 2.2 3.2 2.2 1.8 2.2 .2 2.2 1.2 2.2-.7 2.2 1.8 2.1 2 2.2-.1 2.2-.2 2.2 .5 2.2-.5 2.2 1.4 2.2 0 2.2 .1 2.2 2.1 2.1-2.3 2.2 1.3 2.2-.9 2.2-.8 2.2-1 2.2 2 2.2 1.2 2.2 .3 2.1 1 2.2-.2 2.2-1.1 2.2 1.6 2.2-1.9 2.2-.5 2.2 2.3 2.2-.5 2.2-1.4 2.1 1.6 2.2-1.4 2.2-1.5 2.2 1.9 2.2-.2 2.2 1.5 2.2 .4 2.2-1.2 2.2 2.3 2.1-2.9 2.2 0 2.2 .3 2.2 .2 2.2 .8 2.2 1.6 2.2-2 2.2 .8 2.2 .5 2.1 .7 2.2-1.5 2.2-1 2.2-.6 2.2 .3 2.2-.1 2.2 .2 2.2-.3 2.1 .2 2.2-.1 2.2 3 2.2-.9 2.2-.4 2.2-2.5 2.2 .8 2.2-3.3 2.2-.8 2.1 2.9 2.2 .5 2.2 .8 2.2-.7 2.2 .9 2.2 1.4 2.2-1.9 2.2 1.1 2.2-1.2 2.1-1.1 2.2 .9 2.2 2.1 2.2 .8 2.2-1.7 2.2-.7 2.2 1.6 2.2-1.4 2.2 1 2.1-.4 2.2-1.6 2.2 .1 2.2-.1 2.2 1.2 2.2 1 2.2 .1 2.2-1.5 2.1 1.2 2.2-.3 2.2-.7 2.2-1 2.2 .9 2.2 .1 2.2 1.4 2.2-1.7 2.2 1.3 2.1 1.3 2.2-2.8 2.2 .7 2.2 .9 2.2 .9 2.2-1.8 2.2 1.3 2.2-.1 2.2 0 2.1 .3 2.2-2 2.2 .5 2.2 .2 2.2-.6 2.2-1 2.2 1.8 2.2 .7 2.1-1.2 2.2-.7 2.2-.7 2.2 0 2.2-1.5 2.2 1.2 2.2 1.3 2.2 3.7 2.2-3.1 2.1-.4 2.2 1.5 2.2-1.8 2.2 1 2.2 .7 2.2 .1 2.2-.5 2.2-1.6 2.2 .7 2.1 .2 2.2 .2 2.2 1.2 2.2-.3 2.2-.1 2.2 .8 2.2-.1 2.2-3.1 2.2 0 2.1 2.5 2.2-1.3 2.2 .1 2.2-.6 2.2 .3 2.2 1.2 2.2-.5 2.2 0 2.1 0 2.2-1.4 2.2 1.4 2.2 1.6 2.2-1 2.2-1.1 2.2 1.2 2.2 .3 2.2-1.8 2.1-.4 2.2-.8 2.2 4 2.2-4.9 2.2 3.4 2.2 .2 2.2-1.2 2.2-1.6 2.2 3.7 2.1-1.4 2.2 1 2.2-1.2 2.2 .1 2.2-.7 2.2 .6 2.2 .5 2.2-.3 2.2 0 2.1 1.2 2.2-1.8 2.2 0 2.2 1.3 2.2-.7 2.2-.4 2.2 .2 2.2-.5 2.1 .3 2.2 1 2.2 1.2 2.2-.8 2.2-.9 2.2 .1 2.2 .9 2.2-1.7 2.2 .8 2.1-.8 2.2 .7 2.2 .8 2.2-1.2 2.2 1.8 2.2-1.7 2.2 .5 2.2-1.5 2.2 2 2.1-1.2 2.2 .4 2.2 1 2.2 .4 2.2-.9 2.2-.9 2.2 .8 2.2 .6 2.2-.6 2.1-.2 2.2 .9 2.2-.7 2.2-1.4 2.2 1.4 2.2-.3 2.2 1.3 2.2-1.9 2.1 .7 2.2-1 2.2 1.7 2.2-1.6 2.2 1.9 2.2-1.4 2.2 1.8 2.2-2.6 2.2 2.7 2.1-.8 2.2-1 2.2 .3 2.2 .8 2.2-.3 2.2-.5 2.2 1 2.2-1.3 2.2 1.6 2.1-1.3 2.2-.2 2.2 .7 2.2-1.1 2.2 .1 2.2-.4 2.2 1 2.2-.4 2.2-.2 2.1 1.2 2.2-.8 2.2 .8 2.2-1.5 2.2 1.6 2.2-1.4 2.2-.3 2.2 .9 2.1-.3 2.2 .3 2.2-.5 2.2 .3 2.2-.8 2.2 2 2.2-1.3 2.2-2.1 2.2 2.8 2.1-1.5 2.2 .7 2.2-1.4 2.2 2.2 2.2-.3 2.2-2.4 2.2 1.2 2.2 1.2 2.2-.5 2.1 .9 2.2-.4 2.2 .1 2.2 .9 2.2-2.3 2.2-.8 2.2-1 2.2 2.3 2.1 .4 2.2 3 2.2-1.9 2.2 .3 2.2-.4 2.2 .3 2.2-.9 2.2 1.7 2.2-2 2.1 .8 2.2 0 2.2-2 2.2 1 2.2-.5 2.2-.4 2.2 1.2 2.2-.3 2.2 1 2.1-.7 2.2 .2 2.2-2.4 2.2 .8 2.2-.7 2.2 1.3 2.2 1.3 2.2-1.7 2.2 0 2.1 .7 2.2 .2 2.2-.9 2.2 1.2 2.2-1.4 2.2-.2 2.2 1.2 2.2-1.2 2.1 1.8 2.2-.5 2.2 .2 2.2-1.4 2.2 .5 2.2 .2 2.2 1.9 2.2-1.5 2.2-.6 2.1 2 2.2-1.9 2.2 .7 2.2-.9 2.2-1.2 2.2 .8 2.2 1 2.2-2.2 2.2 .5 2.1-.5 2.2 .9 2.2-.2 2.2 1.9 2.2-.9 2.2 .6 2.2-.2 2.2-1.8 2.2-.7 2.1 1.7 2.2-.7 2.2 2.5 2.2-3 2.2 .6 2.2-.2 2.2-.1 2.2-1.5 2.1 1.6 2.2-.7 2.2 0 2.2-.3 2.2-.9 2.2 .1 2.2-.7 2.2-.5 2.2 .7 2.1-1.3 2.2 .2 2.2-2.5 2.2 2.5 2.2 0 2.2-2.4 2.2-.5 2.2 1.3 2.2-.9 2.1 1.1 2.2-.4 2.2-1.1 2.2 .1 2.2-.9 2.2 .6 2.2-2.2 2.2 1.8 2.2-3.8 2.1 2.8 2.2-3 2.2-.2 2.2 2.3 2.2 0 2.2-1.5 2.2-1 2.2-.7 2.1-.1 2.2 1.1 2.2-2.3 2.2 1.1 2.2-1.9 2.2 1.8 2.2-1.5 2.2 .1 2.2-1.9 2.1-1.7 2.2 .9 2.2-.9 2.2-.3 2.2-2.9 2.2 1.3 2.2-.2 2.2-3.4 2.2-.1 2.1-.5 2.2-1.9 2.2-1.5 2.2-.4 2.2-1 2.2-1.4 2.2-.1 2.2-1.5 2.2-.6 2.1 .3 2.2-2.4 2.2 1 2.2 2.7 2.2-3 2.2 .7 2.2 .8 2.2 .4 2.1 1.5 2.2-.7 2.2 2.3 2.2-1 2.2 2 2.2-.4 2.2 1.2 2.2 1.7 2.2-2 2.1 2 2.2 .8 2.2 .9 2.2 1.3 2.2 1 2.2-1.1 2.2-.2 2.2 2.1 2.2-1.9 2.1-.3 2.2-2.1 2.2 1.5 2.2-4 2.2 .4 2.2-.1 2.2-2.6 2.2 .7 2.2-1.4 2.1-.8 2.2-2.7 2.2-2.8 2.2-1 2.2-3.8 2.2-4.3 2.2-4.1 2.2-2.3 2.1-7.4 2.2-5.9 2.2-9.1 2.2-13 2.2-12.8 2.2-17 2.2-16.6 2.2-20.1 2.2-17.9 2.1-21.6 2.2-19.9 2.2-16.6 2.2-3.5 2.2 .4 2.2 .4 2.2 .3 2.2 1 2.2-4.6 2.1-12.1 2.2-12 2.2-12 2.2-14.6 2.2-14.9 2.2-14.1 2.2-2 2.2 12.8 2.1 19.1 2.2 17.8 2.2 13.2 2.2 15.1 2.2 14.8 2.2 16.4 2.2 18.3 2.2 16 2.2 14.6 2.1 11 2.2 11 2.2 10.1 2.2 8.5 2.2 12.9 2.2 8.5 2.2 9 2.2 6.6 2.2 6.7 2.1 2.8 2.2 2.3 2.2 5.8 2.2 2.9 2.2 2.2 2.2 3.7 2.2 2.1 2.2 2.1 2.2 1.4 2.1 2.6 2.2 1 2.2 4.8 2.2-.3 2.2 .3 2.2 1.7 2.2 2.7 2.2 .6 2.1 1.4 2.2 .7 2.2-.1 2.2 .3 2.2 1.3 2.2-2.1 2.2 2.3 2.2 .5 2.2 .8 2.1 .7 2.2 .3 2.2 1.4 2.2-2.3 2.2 .1 2.2-2.2 2.2 2.5 2.2-.3 2.2 1 2.1-.2 2.2-1.6 2.2 .2 2.2 .1 2.2 1 2.2-.4 2.2-1.3 2.2-.2 2.2-1.2 2.1 2 2.2-2.2 2.2-1 2.2 .2 2.2-2.5 2.2 1.7 2.2 .6 2.2 1 2.1 2.3 2.2 .1 2.2-.6 2.2-.4 2.2 3.2 2.2-1.7 2.2 1.5 2.2-1.3 2.2 .4 2.1 2.8 2.2 .7 2.2 1.4 2.2-1.1 2.2-.1 2.2 .4 2.2 2.4 2.2 .4 2.2-1.3 2.1 2.3 2.2 .3 2.2-.6 2.2-.3 2.2 1.2 2.2-1.1 2.2 .5 2.2 2.4 2.2 .8 2.1 .7 2.2 1 2.2 .3 2.2 1.8 2.2-1.8 2.2-.7 2.2 2.9 2.2 1.6 2.1 .2 2.2-.8 2.2 .2 2.2 2.2 2.2-1 2.2 .8 2.2 .2 2.2-1.4 2.2 2 2.1-.4 2.2-.4 2.2 .5 2.2 1.9 2.2-2.4 2.2 1.7 2.2-.3 2.2-.9 2.2 0 2.1 1.5 2.2-1 2.2-.5 2.2 1.6 2.2-1.3 2.2 1.9 2.2-2.1 2.2 1.6 2.2 0 2.1-1.3 2.2 1.8 2.2 .9 2.2-2.2 2.2 1.5 2.2-.9 2.2-.9 2.2 1.4 2.1 .6 2.2-2.2 2.2 .2 2.2 3.4 2.2-1.5 2.2-.9 2.2 1.1 2.2-.3 2.2 .6 2.1-1.6 2.2 1.5 2.2-.2 2.2 .1 2.2 1 2.2-1 2.2 .5 2.2 .6 2.2-1.1 2.1 2.1 2.2-.5 2.2 .7 2.2-1.1 2.2 .8 2.2-.2 2.2-.8 2.2 .3 2.1 1.7 2.2-3.2 2.2 2.3 2.2-.7 2.2-.4 2.2 2.6 2.2 0 2.2-.3 2.2-1.4 2.1 .4 2.2 1.7 2.2-2.2 2.2-1.2 2.2 1.8 2.2 1.3 2.2 .3 2.2-.1 2.2-1.1 2.1 2.1 2.2-1.2 2.2 1.3 2.2-1.5 2.2 1.1 2.2-1.1 2.2 .5 2.2 .7 2.2-1.5 2.1 1.8 2.2-.6 2.2 .6 2.2 .7 2.2 .3 2.2 .3 2.2-.9 2.2 .4 2.1-.8 2.2 1 2.2 .2 2.2-1 2.2 .5 2.2 .3 2.2-.8 2.2 1.2 2.2 .8 2.1 .2 2.2-1.3 2.2 .4 2.2-1.8 2.2-.4 2.2 2.2 2.2-.9 2.2-.2 2.2 1 2.1 .8 2.2 .4 2.2 .3 2.2-.2 2.2-.2 2.2 1.1 2.2-1.5 2.2-.3 2.2-1.2 2.1 1.3 2.2-.9 2.2 2.7 2.2-1.6 2.2 .5 2.2-.3 2.2-.3 2.2 3.2 2.1-3.8 2.2 .8 2.2 3 2.2-2.2 2.2 .6 2.2 .9 2.2-2.3 2.2 .8 2.2-.4 2.1 .6 2.2-1.5 2.2 1 1.1 0"/>
<path stroke="#7B2B2A" d="M314.6 3056.9l2.2 2.4 2.2-.8 2.2-.6 2.2-1.8 2.2 1.3 2.2 .4 2.2-.4 2.2-1.3 2.1 2.5 2.2 1.5 2.2-1.5 2.2-.4 2.2-.2 2.2-2.3 2.2 1.9 2.2 2.1 2.2-1.4 2.1-.9 2.2 0 2.2 .1 2.2 1.1 2.2-1.9 2.2 2.1 2.2-.5 2.2-.3 2.1-.6 2.2 .3 2.2-1 2.2 1.2 2.2 0 2.2 .3 2.2 .3 2.2 1.1 2.2 0 2.1-1.9 2.2-.3 2.2-.4 2.2-.3 2.2 .7 2.2 .9 2.2-1.5 2.2-.4 2.2 .7 2.1 2.4 2.2-.9 2.2 1.1 2.2-1.2 2.2 .5 2.2-.9 2.2-2.2 2.2 1.6 2.2 .1 2.1-.1 2.2-.6 2.2 1.4 2.2-.9 2.2 .1 2.2 0 2.2-.9 2.2 2 2.1-1 2.2 .3 2.2-.3 2.2 .7 2.2-1.5 2.2 1.7 2.2-.4 2.2-.4 2.2 1.1 2.1 .2 2.2-1.1 2.2-.9 2.2 .7 2.2 1.8 2.2-1.3 2.2-1.3 2.2 .4 2.2 3 2.1-2.2 2.2-1.4 2.2 2.8 2.2-.1 2.2-2.7 2.2 1.1 2.2-.1 2.2-.5 2.2 1 2.1-.3 2.2-2.4 2.2 .2 2.2 2.4 2.2-1.4 2.2 2.2 2.2-1.9 2.2 1.5 2.1-.8 2.2 1 2.2 .5 2.2-.2 2.2-.5 2.2-1.9 2.2 .3 2.2 .7 2.2 .7 2.1 .6 2.2-1 2.2 .5 2.2-.8 2.2-.6 2.2 2.1 2.2-1.9 2.2 1 2.2-.1 2.1 .4 2.2-1 2.2 1 2.2-1.3 2.2 .7 2.2 0 2.2 .3 2.2-1.4 2.1 .5 2.2 1.1 2.2 .4 2.2-1.5 2.2 .5 2.2-1.2 2.2 1 2.2 1.3 2.2-1.4 2.1 .4 2.2-1 2.2 .3 2.2 .6 2.2-.9 2.2-1.1 2.2 .8 2.2 1.2 2.2 1 2.1-1.4 2.2-1 2.2 .7 2.2 .4 2.2-.8 2.2 1.5 2.2-1.9 2.2 1.9 2.2-1.9 2.1 1.3 2.2 1.2 2.2-2.1 2.2 .5 2.2-2.5 2.2 .8 2.2 2.7 2.2-.7 2.1-.2 2.2 .2 2.2-1 2.2-.2 2.2-.1 2.2 .7 2.2 1.3 2.2 .6 2.2 .5 2.1-.1 2.2-2.1 2.2 .5 2.2 .3 2.2 .4 2.2-.7 2.2-.5 2.2-1.8 2.2 1.5 2.1 1.5 2.2-1.5 2.2-.1 2.2 1.5 2.2-1.3 2.2 1.1 2.2-.2 2.2-1.2 2.2 .5 2.1-.2 2.2 1.8 2.2-1.7 2.2-1.1 2.2-1 2.2 1.5 2.2 .9 2.2 1.5 2.1-1.4 2.2 .4 2.2-1.7 2.2 1.9 2.2-1.9 2.2 .4 2.2 1.8 2.2-.3 2.2-1 2.1 1.7 2.2-1.4 2.2 .5 2.2-1.4 2.2 .3 2.2-.1 2.2 1.3 2.2 .4 2.2 .5 2.1-.7 2.2 .8 2.2-1.6 2.2 .9 2.2-.7 2.2 1.1 2.2-1 2.2 .6 2.2 1.5 2.1-1 2.2-.3 2.2-2.3 2.2 .7 2.2-.7 2.2 1.2 2.2 .2 2.2-1 2.1 .7 2.2 .6 2.2 2.1 2.2-1.8 2.2 1 2.2-2.9 2.2-.6 2.2-1.5 2.2 .2 2.1 1.5 2.2-.9 2.2 3.8 2.2-2.5 2.2 2.1 2.2-.3 2.2-1.4 2.2 2.5 2.2-2.6 2.1-.5 2.2 2 2.2-.2 2.2 1.3 2.2-.5 2.2-1.5 2.2 1.3 2.2-1.1 2.2 1.1 2.1-.5 2.2-1.4 2.2-.8 2.2 .5 2.2 .8 2.2 1 2.2 1.3 2.2-2.6 2.1 2.4 2.2-1.8 2.2 1.3 2.2-1.3 2.2 .7 2.2 .5 2.2-.3 2.2-1.7 2.2 1.7 2.1 .9 2.2-2.3 2.2 .7 2.2-.3 2.2 2.6 2.2-2.7 2.2 1.3 2.2-.5 2.2-.4 2.1 1 2.2-2 2.2 1.3 2.2-1.3 2.2-.4 2.2-.7 2.2 2.2 2.2-.3 2.1-.6 2.2 .3 2.2-1.1 2.2 .4 2.2-1.9 2.2 1.9 2.2-.3 2.2 3.4 2.2-2.2 2.1-.6 2.2 2 2.2-2.4 2.2 2.7 2.2 .2 2.2-.2 2.2-1.8 2.2-1.4 2.2 1.6 2.1-.5 2.2 0 2.2 1.9 2.2-.2 2.2-1.2 2.2 .8 2.2 .9 2.2-1.8 2.2-.1 2.1 1.9 2.2-1.7 2.2 .1 2.2-1.3 2.2 1 2.2 .7 2.2 .9 2.2-.6 2.1 0 2.2-2.5 2.2 2.3 2.2 .4 2.2-.1 2.2-1 2.2 .6 2.2 .1 2.2-.8 2.1-1.4 2.2 .8 2.2 2.1 2.2-3.4 2.2 2.7 2.2 1.1 2.2-1.1 2.2-2.3 2.2 1.9 2.1 .2 2.2 .5 2.2-.7 2.2 .4 2.2-.3 2.2 .1 2.2 .6 2.2 .5 2.2-.8 2.1 1 2.2-1.1 2.2 .8 2.2 0 2.2-.4 2.2-.9 2.2-.3 2.2 .5 2.1 .3 2.2 .9 2.2 1.1 2.2-.9 2.2-1 2.2-.5 2.2 1.6 2.2-.9 2.2-.6 2.1-1.7 2.2 1.9 2.2 .7 2.2-.2 2.2 1.5 2.2-1.7 2.2 .9 2.2-3 2.2 1.8 2.1-.6 2.2-.3 2.2 1.1 2.2 .5 2.2-1.6 2.2 .7 2.2-.4 2.2 .8 2.2-1.5 2.1 .8 2.2 1.2 2.2 .1 2.2-.4 2.2-.9 2.2 1.8 2.2-1.4 2.2-.3 2.1 0 2.2 .3 2.2 .3 2.2-2.2 2.2 2.1 2.2-.8 2.2 3.7 2.2-3.4 2.2 1.1 2.1-1.1 2.2-1.2 2.2 1.7 2.2 .1 2.2 .5 2.2-.7 2.2 .8 2.2-.8 2.2 1.1 2.1-2 2.2 .5 2.2 2 2.2-2.4 2.2 .3 2.2 .3 2.2 .1 2.2 .2 2.2-1.1 2.1 2.2 2.2-2 2.2 2.1 2.2-2 2.2 .1 2.2-.1 2.2-.9 2.2 2.1 2.1-1.3 2.2 .7 2.2-.3 2.2-.1 2.2-.9 2.2 2.1 2.2-1.5 2.2-.3 2.2 2.5 2.1-1.5 2.2-.1 2.2-.8 2.2 .5 2.2 1.4 2.2-2.8 2.2 .4 2.2 .8 2.2-1.3 2.1 1.8 2.2 0 2.2 .9 2.2 0 2.2-1.4 2.2-1 2.2-2.1 2.2 4.1 2.1-.8 2.2 1.8 2.2-.6 2.2-.8 2.2 .6 2.2-.7 2.2 1 2.2 .6 2.2-2.3 2.1 1.6 2.2-1.7 2.2-.2 2.2 1.3 2.2-1.5 2.2 .6 2.2 .7 2.2-.6 2.2 .1 2.1 1 2.2-.8 2.2-2.3 2.2 1.3 2.2-2.5 2.2 1.4 2.2 2.7 2.2-.7 2.2-1.1 2.1 .2 2.2-.1 2.2 0 2.2 1 2.2 .4 2.2 0 2.2-.3 2.2-.7 2.1 .5 2.2-.4 2.2 .4 2.2 0 2.2-.9 2.2 1.8 2.2-.7 2.2-.4 2.2 .1 2.1 1 2.2-1.6 2.2 .5 2.2-.2 2.2-1.5 2.2 .4 2.2 1.5 2.2-.5 2.2-1.3 2.1 .5 2.2 .8 2.2 .4 2.2 .2 2.2-1.3 2.2 .8 2.2 1 2.2-3.5 2.2 1.6 2.1 .5 2.2-1 2.2 1.3 2.2-1.2 2.2 1.1 2.2 0 2.2-1 2.2-.5 2.1 1.7 2.2-1.4 2.2 .3 2.2-.6 2.2 .9 2.2-1.5 2.2 .6 2.2-2.2 2.2 3.1 2.1 0 2.2-1 2.2-2.5 2.2 2.4 2.2 .7 2.2-1.6 2.2-.5 2.2 2.2 2.2-1.3 2.1 .4 2.2 .4 2.2-.8 2.2-.5 2.2-.6 2.2 .8 2.2-.3 2.2 .7 2.2-1.2 2.1 1.7 2.2-2.5 2.2 .5 2.2 2 2.2-.8 2.2 .3 2.2-3.6 2.2 2 2.1-.1 2.2-.1 2.2-.8 2.2 .4 2.2-.4 2.2 2.2 2.2-1.5 2.2-.1 2.2 .9 2.1-1.9 2.2-.1 2.2 .8 2.2-.6 2.2 .3 2.2 .2 2.2 .6 2.2-2.9 2.2-.1 2.1 1 2.2 .7 2.2-1.5 2.2 0 2.2-.3 2.2-1 2.2 1.1 2.2-.8 2.2-.4 2.1 .2 2.2-.8 2.2 1.2 2.2 .5 2.2-1.7 2.2 1.1 2.2-.7 2.2-1.3 2.1 .5 2.2 .4 2.2 2.1 2.2-3.1 2.2 1 2.2-.9 2.2 .1 2.2 .7 2.2-1.9 2.1-.1 2.2 .3 2.2 .7 2.2-2.6 2.2 1.5 2.2-.8 2.2-1.4 2.2 1.8 2.2-1.1 2.1-1 2.2-.5 2.2 1 2.2-3.4 2.2 0 2.2-.1 2.2-1.9 2.2 0 2.2-.4 2.1-2.7 2.2-1.2 2.2 .5 2.2-1.1 2.2-2.7 2.2-1.7 2.2 .5 2.2-.5 2.1-2 2.2 .2 2.2-3.1 2.2-2.2 2.2-.2 2.2-2.7 2.2-.1 2.2-4 2.2-.2 2.1-2.1 2.2-2.9 2.2-3.1 2.2-1.3 2.2-1.2 2.2-1.1 2.2-4.7 2.2-.6 2.2-.9 2.1-4.1 2.2-.4 2.2-.1 2.2-2.1 2.2-.2 2.2 .3 2.2-2 2.2 1 2.1 2.1 2.2 .1 2.2 .8 2.2 1.6 2.2 3.3 2.2 1.5 2.2 .7 2.2 2.8 2.2 .6 2.1 2.4 2.2 2 2.2 .7 2.2 .8 2.2 5.4 2.2-.7 2.2 2.2 2.2 1.1 2.2 1.3 2.1 1.9 2.2 1.6 2.2 3.3 2.2 1 2.2 .6 2.2 .8 2.2 2.3 2.2-.5 2.2 .9 2.1 .7 2.2 .8 2.2 3.5 2.2-1.2 2.2 .1 2.2-.6 2.2 2.5 2.2-1.7 2.1 3.6 2.2-.9 2.2 .9 2.2-.7 2.2 1.9 2.2-1.4 2.2 .8 2.2-.8 2.2 1.9 2.1 1.5 2.2-1.5 2.2 2.4 2.2-1.9 2.2-.3 2.2-1.1 2.2 2.4 2.2-1.9 2.2 1.2 2.1 1.6 2.2-2.2 2.2 1.1 2.2-.8 2.2 2.7 2.2-.3 2.2-1.8 2.2 .2 2.2-1.5 2.1 1.4 2.2-.8 2.2 .5 2.2-1.1 2.2-3.6 2.2 3 2.2-.4 2.2 2.7 2.1 .8 2.2 1 2.2-.9 2.2-.1 2.2 1.5 2.2-.8 2.2 .2 2.2-.8 2.2-.1 2.1 1.6 2.2 .9 2.2 .5 2.2 0 2.2-1 2.2 .9 2.2 1.5 2.2-.1 2.2-1.1 2.1-1.2 2.2 2.1 2.2-.3 2.2 0 2.2-.3 2.2-1.2 2.2 .1 2.2 1 2.2 .3 2.1 .2 2.2 .4 2.2 .3 2.2 3.2 2.2-1.8 2.2-1 2.2 1.6 2.2 .6 2.1-.4 2.2-2 2.2 .5 2.2 2.5 2.2 1.3 2.2-1.3 2.2-.4 2.2-1.6 2.2 .3 2.1 1.2 2.2 .1 2.2-.5 2.2 2 2.2-1.4 2.2 .9 2.2 1.2 2.2-.2 2.2-2.2 2.1 2.4 2.2-.5 2.2-.8 2.2 1 2.2-.6 2.2 1.5 2.2-1 2.2-.3 2.2-.1 2.1 0 2.2 1.8 2.2 0 2.2 .4 2.2 .5 2.2-.3 2.2-1.4 2.2 1.2 2.1 .7 2.2-.3 2.2-.8 2.2 .1 2.2-.4 2.2-.1 2.2 .1 2.2 .3 2.2-.9 2.1 1.6 2.2 .5 2.2-1.4 2.2 .3 2.2 2 2.2-1.6 2.2 0 2.2 .6 2.2-1.5 2.1 2.3 2.2-.3 2.2 1 2.2-.6 2.2-.5 2.2-.7 2.2 1.2 2.2-2.2 2.1 .7 2.2-.8 2.2 2.3 2.2-2 2.2 .2 2.2 1.6 2.2-.1 2.2 .5 2.2-2.3 2.1 .4 2.2 3 2.2-4.4 2.2 .4 2.2 2.4 2.2 .4 2.2-.3 2.2 .2 2.2 0 2.1 .8 2.2-1.5 2.2 2.1 2.2-1.5 2.2 1.3 2.2-2.1 2.2 2.1 2.2-1.3 2.2-.8 2.1 1.1 2.2 .5 2.2-.5 2.2 .1 2.2 1.6 2.2 1.4 2.2-2.8 2.2 1 2.1-1.3 2.2 1.3 2.2-.5 2.2 .5 2.2-.2 2.2 .1 2.2 .1 2.2 .2 2.2 1.4 2.1-1.8 2.2-.3 2.2 1 2.2-1.2 2.2-1.2 2.2 1.1 2.2-1.4 2.2 1 2.2 .9 2.1 .2 2.2 .4 2.2-.4 2.2 .9 2.2-.6 2.2 .7 2.2-.4 2.2-1 2.2 .4 2.1 0 2.2-2 2.2 3.4 2.2-.3 2.2-.7 2.2 .2 2.2-1.3 2.2 1.8 2.1-2.3 2.2 1.6 2.2 1 2.2-1.5 2.2 .5 2.2 1 2.2-2.1 2.2 1.7 2.2-2.1 2.1 1.3 2.2-1.4 2.2 .9 1.1 .7"/>
<path stroke="#5F7B2D" d="M314.6 2933.5l2.2 .2 2.2 1.4 2.2-1.9 2.2-1.4 2.2 1.2 2.2 2.3 2.2-1.4 2.2-.7 2.1 .9 2.2 1.1 2.2-.9 2.2 .6 2.2-1.2 2.2-1.2 2.2 .8 2.2 1.9 2.2-.1 2.1-1.3 2.2-1 2.2 .5 2.2 .2 2.2-.8 2.2 3.3 2.2-1 2.2 1.4 2.1-2.8 2.2-.6 2.2 .6 2.2 .1 2.2 1.3 2.2 1.1 2.2-1.6 2.2 1 2.2-.3 2.1-1 2.2 .8 2.2 .4 2.2-1.9 2.2-.6 2.2 1.6 2.2-.8 2.2-.5 2.2-.6 2.1 1.9 2.2 0 2.2-.6 2.2 .1 2.2 1 2.2-.4 2.2-1.7 2.2-.4 2.2 1.2 2.1-.7 2.2 .5 2.2 1.2 2.2-1.3 2.2 .3 2.2-1 2.2 .3 2.2 .5 2.1 .6 2.2 .2 2.2-.2 2.2 .9 2.2-2.6 2.2 2 2.2-.5 2.2 .3 2.2 .8 2.1 .9 2.2-2 2.2 .6 2.2-.4 2.2 1.6 2.2-2 2.2-.8 2.2 .6 2.2 1.7 2.1-.9 2.2-1 2.2 2.5 2.2 .5 2.2-3.4 2.2 .8 2.2 .4 2.2 .2 2.2 .2 2.1-1.3 2.2-.7 2.2-.4 2.2 .7 2.2-.1 2.2 1.8 2.2-1.7 2.2 2.6 2.1-1.1 2.2-.3 2.2 1.5 2.2-1.4 2.2 1 2.2-1.7 2.2-.4 2.2 1.3 2.2 1.1 2.1-1 2.2-1.3 2.2 .9 2.2-.3 2.2 .3 2.2 .8 2.2-1.9 2.2 2.5 2.2-.6 2.1-.6 2.2 .2 2.2 .1 2.2 .7 2.2-1.1 2.2 .4 2.2-1 2.2-.4 2.1 .2 2.2 .1 2.2 1 2.2 .6 2.2-1.2 2.2 .1 2.2-.6 2.2-.2 2.2 .7 2.1 .3 2.2 .1 2.2 .9 2.2 .1 2.2-1.9 2.2-1.6 2.2 1.6 2.2 1.4 2.2-1.1 2.1-.9 2.2-.2 2.2 1.4 2.2 .6 2.2-3 2.2 3.1 2.2-.8 2.2 0 2.2-1.4 2.1 1.2 2.2 .4 2.2-.8 2.2 .6 2.2-1 2.2-.1 2.2 2.9 2.2-.8 2.1-.3 2.2 0 2.2-.9 2.2-.9 2.2 .7 2.2 1.2 2.2-.4 2.2 0 2.2 .6 2.1-.5 2.2 .7 2.2-2 2.2 .4 2.2 1.7 2.2-1.8 2.2 .5 2.2-2.8 2.2 2.1 2.1 .4 2.2 1.3 2.2-1.3 2.2 2.8 2.2-3.9 2.2 2.2 2.2-.4 2.2-.3 2.2-.6 2.1 .2 2.2 1.5 2.2-2.4 2.2-.5 2.2 .3 2.2-.2 2.2 2.1 2.2-.5 2.1 .7 2.2-.1 2.2-1.8 2.2 2.6 2.2-1 2.2-.2 2.2 .3 2.2-.9 2.2-.8 2.1 1.4 2.2-.2 2.2-1.5 2.2 .8 2.2-1.3 2.2 1.4 2.2 .3 2.2 .9 2.2-.3 2.1 0 2.2 .9 2.2-.9 2.2-.3 2.2 .3 2.2 .4 2.2-.4 2.2-.5 2.2 1.4 2.1-.4 2.2 .2 2.2-2.1 2.2 .5 2.2-.5 2.2 1 2.2 .6 2.2-.8 2.1-.2 2.2 .6 2.2 1.3 2.2-1.5 2.2 .5 2.2-2.1 2.2 1.5 2.2-3 2.2-.6 2.1 2.1 2.2 .6 2.2 2.1 2.2-2.5 2.2 1.2 2.2 .4 2.2-.9 2.2 1.8 2.2-2.5 2.1-1.5 2.2 2.2 2.2 1.5 2.2 .3 2.2-.3 2.2-.1 2.2-.1 2.2-.9 2.2 1.9 2.1-1 2.2-.8 2.2 .6 2.2-.8 2.2-.4 2.2 2.1 2.2 .2 2.2-2.8 2.1 .8 2.2 .1 2.2 1.5 2.2-2.2 2.2 .7 2.2 .6 2.2 .9 2.2-2.9 2.2 1.2 2.1 2.5 2.2-2.6 2.2-.2 2.2 .3 2.2 2 2.2-2.1 2.2 .7 2.2 1 2.2-.5 2.1 .9 2.2-2.1 2.2 1.7 2.2-1.5 2.2-.9 2.2 .9 2.2 .8 2.2 .8 2.1-3.1 2.2 1.8 2.2-1.9 2.2 .7 2.2-1.4 2.2 1.7 2.2 .8 2.2 1.9 2.2-2.4 2.1 .8 2.2 1.9 2.2-2.1 2.2 1 2.2 0 2.2-.1 2.2-1.5 2.2-.7 2.2 2.2 2.1-.3 2.2 .2 2.2 1.8 2.2-1.5 2.2-.6 2.2-.2 2.2-.3 2.2-.1 2.2 0 2.1 2 2.2-2.9 2.2 2.1 2.2-1.8 2.2 .3 2.2 1.3 2.2-1.2 2.2 .2 2.1 1.7 2.2-1.7 2.2 1.3 2.2 0 2.2-1.7 2.2 .4 2.2 1.1 2.2-.7 2.2-.5 2.1-.2 2.2-.1 2.2 2.1 2.2-2.3 2.2 .9 2.2 1.1 2.2-1.3 2.2-1.9 2.2 2.6 2.1-.9 2.2 1.8 2.2-1.6 2.2 .3 2.2-.5 2.2 1 2.2 .6 2.2-.8 2.2-.3 2.1 .7 2.2-1.4 2.2 .3 2.2 .7 2.2-.7 2.2 1.3 2.2-1.7 2.2 .9 2.1 1 2.2-.4 2.2 .2 2.2 .2 2.2 .2 2.2-.4 2.2 .4 2.2-1.6 2.2-.6 2.1-.2 2.2 1.6 2.2 0 2.2 1 2.2-.1 2.2-1.1 2.2 .3 2.2-2.8 2.2 2.5 2.1-.6 2.2-.4 2.2 1.6 2.2-.5 2.2-.1 2.2-.6 2.2 .1 2.2 .4 2.2-.4 2.1 .2 2.2 .9 2.2 .8 2.2-2 2.2 .7 2.2 .5 2.2 .1 2.2-2.1 2.1 1.2 2.2 .1 2.2 .3 2.2-1.4 2.2 .4 2.2-1.1 2.2 3 2.2-1.9 2.2 3 2.1-1.2 2.2-2.4 2.2 .7 2.2 .2 2.2 .6 2.2-.4 2.2 0 2.2 .2 2.2-.2 2.1 .1 2.2-.1 2.2 2 2.2-1.7 2.2-1.1 2.2 .7 2.2-.8 2.2 .3 2.2 .3 2.1 .8 2.2-.6 2.2 .4 2.2-.6 2.2 .6 2.2-.9 2.2-.7 2.2 2.1 2.1-1 2.2 1.3 2.2-.8 2.2-.8 2.2 .8 2.2 1.2 2.2-2.4 2.2-.4 2.2 2.9 2.1-2.4 2.2 .6 2.2-1.4 2.2 1.4 2.2 1.8 2.2-2.6 2.2 .6 2.2 2 2.2-2.4 2.1 1.3 2.2 .3 2.2 .8 2.2-.3 2.2-1 2.2-1.7 2.2-.8 2.2 1.5 2.1-.3 2.2 2.7 2.2-1.9 2.2 1.4 2.2 .4 2.2-1.6 2.2-.1 2.2-.1 2.2-.9 2.1 1 2.2-.2 2.2-1 2.2 .8 2.2-.7 2.2 .6 2.2 1.6 2.2-1.4 2.2 .6 2.1-.1 2.2 .1 2.2-1.3 2.2 .3 2.2-1.5 2.2 1 2.2 2.6 2.2-1.7 2.2-.2 2.1 .6 2.2 1.1 2.2-1.3 2.2 .5 2.2-1 2.2-1 2.2 1.5 2.2 .1 2.1 .8 2.2-1.1 2.2 .7 2.2 .2 2.2 0 2.2 .2 2.2 1.3 2.2-3.2 2.2 .2 2.1 1.2 2.2-1.3 2.2 1.5 2.2-.2 2.2-2 2.2 .5 2.2 1.7 2.2-2.3 2.2 1.1 2.1-1.5 2.2 1.7 2.2-1.3 2.2 2.2 2.2-1.5 2.2 1.3 2.2 1.2 2.2-2.7 2.2 .6 2.1 .7 2.2-.6 2.2 1.3 2.2-.4 2.2-1.3 2.2 .1 2.2 .6 2.2-1.3 2.1 1.4 2.2-.1 2.2-.6 2.2 .3 2.2 .8 2.2-.5 2.2-.4 2.2-.6 2.2 0 2.1 .7 2.2-.3 2.2-2.2 2.2 3 2.2 1.4 2.2-2.4 2.2-.6 2.2 1.4 2.2-.6 2.1 0 2.2-.2 2.2-1.1 2.2-1 2.2 .4 2.2 1.1 2.2-1.6 2.2 1.7 2.2-2 2.1 4 2.2-2.9 2.2-.5 2.2 2.3 2.2-.1 2.2-.2 2.2-2.6 2.2 .5 2.1 .7 2.2 .2 2.2-.3 2.2-.1 2.2-2.3 2.2 2.3 2.2-.3 2.2 .7 2.2-.2 2.1-1.5 2.2 1.3 2.2-1.2 2.2 .7 2.2-.7 2.2 1.2 2.2 .1 2.2-2.7 2.2 .7 2.1 1.7 2.2-.6 2.2-1 2.2-.6 2.2 .8 2.2-1 2.2 .9 2.2-1.2 2.2-.5 2.1 1.1 2.2-1.1 2.2 0 2.2 2 2.2-1.7 2.2 .5 2.2-1.4 2.2 .2 2.1 0 2.2-.3 2.2 2.1 2.2-3 2.2 2.3 2.2-1.7 2.2 1.3 2.2-.3 2.2-.9 2.1-.4 2.2 .4 2.2-.6 2.2-2 2.2 1.7 2.2-.2 2.2-.6 2.2-.1 2.2 1.3 2.1-1.3 2.2-.6 2.2 1.2 2.2-3.1 2.2 0 2.2 .6 2.2-1.2 2.2-.5 2.2-.3 2.1-2 2.2 0 2.2-.9 2.2-.3 2.2-.9 2.2-1.8 2.2-.8 2.2 .9 2.1-1.2 2.2-.2 2.2-3.1 2.2-.4 2.2 .4 2.2-1.6 2.2-1.2 2.2-2.1 2.2-.1 2.1-1.4 2.2-1.4 2.2-2.3 2.2-2 2.2 1.8 2.2-1.9 2.2-2.6 2.2 .2 2.2-1.3 2.1-3.2 2.2 1.3 2.2 .7 2.2-1.3 2.2 .2 2.2 1 2.2-1.9 2.2-.5 2.1 1.3 2.2-.6 2.2 .6 2.2 1.9 2.2 1.5 2.2 .4 2.2 .7 2.2 1.8 2.2-.8 2.1 2.1 2.2 .9 2.2-.7 2.2 1.2 2.2 4.3 2.2-.6 2.2 .8 2.2 .3 2.2 1.8 2.1-.7 2.2-.6 2.2 3.2 2.2 2.7 2.2-.5 2.2 1.4 2.2 .2 2.2 .6 2.2 1.4 2.1 .7 2.2 .1 2.2 2.7 2.2-.6 2.2 .8 2.2-.5 2.2 .6 2.2 .9 2.1 .3 2.2 .3 2.2-.3 2.2-.8 2.2 1.7 2.2-.8 2.2 .9 2.2-.4 2.2 2.9 2.1 .1 2.2-1.5 2.2 1.7 2.2-2.9 2.2 .6 2.2-1.6 2.2 .9 2.2-.1 2.2 .9 2.1 .2 2.2-.7 2.2 .6 2.2-.3 2.2 .7 2.2 1.1 2.2-2.5 2.2 .1 2.2-.4 2.1 .6 2.2-1.9 2.2-.6 2.2-3.5 2.2-1.9 2.2 2 2.2 2 2.2 1.6 2.1 3.4 2.2 .5 2.2-1.3 2.2-.5 2.2 3.3 2.2-1.1 2.2 .4 2.2-1 2.2 1.9 2.1 2.3 2.2-.6 2.2 .4 2.2-.9 2.2-1.5 2.2 1.4 2.2 2.2 2.2 .2 2.2-1.2 2.1 .5 2.2 .1 2.2 .1 2.2 .5 2.2-.4 2.2-2.4 2.2 1.5 2.2-.9 2.2 .9 2.1 .4 2.2 1.3 2.2-1.7 2.2 3.8 2.2-1.4 2.2-1.3 2.2 1 2.2 1.1 2.1 .6 2.2-2.7 2.2 1.1 2.2 0 2.2 .7 2.2 .9 2.2-1.5 2.2-.2 2.2 0 2.1 .6 2.2-1.2 2.2-.1 2.2 1.2 2.2-.1 2.2 1.4 2.2-.1 2.2-.2 2.2-.2 2.1-.3 2.2 .9 2.2-1.1 2.2-.2 2.2 .2 2.2 1.3 2.2-2 2.2 1.5 2.2-.9 2.1 0 2.2 1.8 2.2 .4 2.2-1.4 2.2 .1 2.2 .5 2.2-2.1 2.2 2.6 2.1-1 2.2-.2 2.2-.1 2.2 1.3 2.2-.7 2.2-.8 2.2 1.6 2.2-1.3 2.2-1 2.1 2.7 2.2-1.5 2.2-.3 2.2-.5 2.2 1.5 2.2-.9 2.2 2.4 2.2-1 2.2-.4 2.1 .8 2.2-.4 2.2 .3 2.2 .3 2.2-1 2.2-.1 2.2 .1 2.2 .1 2.1 1 2.2-2.2 2.2 1.5 2.2-2.1 2.2 .9 2.2 1.6 2.2-.7 2.2-.2 2.2-1.2 2.1 1.2 2.2 1.7 2.2-3.3 2.2 .2 2.2 2.3 2.2 .6 2.2-.6 2.2 .1 2.2-1.4 2.1 2.3 2.2-1.9 2.2 1.5 2.2 .5 2.2-1.7 2.2-1.3 2.2 .9 2.2 .7 2.2-1.5 2.1 0 2.2 1 2.2 .5 2.2 .1 2.2 .9 2.2-.7 2.2 0 2.2-.1 2.1-.9 2.2 2.8 2.2-1.3 2.2 .4 2.2-1.5 2.2-.5 2.2 .2 2.2 2.3 2.2 0 2.1-1.9 2.2 1 2.2-.1 2.2-1.3 2.2-.8 2.2 0 2.2 .3 2.2 1.2 2.2-.6 2.1 .2 2.2 0 2.2 1.8 2.2-1 2.2 1.7 2.2-.6 2.2-.5 2.2-2 2.2 2 2.1-.2 2.2-1.3 2.2 2.5 2.2-1 2.2-1.4 2.2 .3 2.2-.4 2.2 1.5 2.1-1.9 2.2 1.5 2.2 .3 2.2-.4 2.2-.3 2.2 1 2.2-.5 2.2 1 2.2-1.3 2.1-.7 2.2-1 2.2 2.4 1.1-1.4"/>
<path stroke="#4B3866" d="M314.6 2809.7l2.2 1.2 2.2 .1 2.2-.8 2.2-1.3 2.2-.1 2.2 2.5 2.2-1.3 2.2-.6 2.1 2 2.2-.3 2.2-.8 2.2 .5 2.2-1 2.2-1 2.2 1.3 2.2 1.7 2.2-1.5 2.1 .1 2.2-1.3 2.2 1.6 2.2 .3 2.2-2 2.2 2.4 2.2 .2 2.2-.7 2.1-.8 2.2 .4 2.2-.6 2.2 .6 2.2 .2 2.2 .4 2.2-.4 2.2 1.5 2.2-.7 2.1-.8 2.2 1.3 2.2-.8 2.2-.3 2.2-.7 2.2 .4 2.2-.7 2.2-.1 2.2 .2 2.1 2 2.2-.1 2.2-1.7 2.2-.4 2.2 2.2 2.2-.8 2.2-.9 2.2 .6 2.2 .1 2.1-.9 2.2 .3 2.2 1.5 2.2-.8 2.2-.9 2.2-.6 2.2 .4 2.2 1.3 2.1 .4 2.2 0 2.2-.3 2.2 .6 2.2-2.5 2.2 2.1 2.2-.6 2.2-.7 2.2 .7 2.1 1.8 2.2-2.2 2.2 .4 2.2-1.3 2.2 3.1 2.2-2.9 2.2 .4 2.2 .2 2.2 1.1 2.1-2 2.2-.2 2.2 3 2.2 .6 2.2-3.2 2.2 1.1 2.2 .4 2.2-.7 2.2 .6 2.1-1 2.2-2 2.2-.7 2.2 3.7 2.2-2.4 2.2 2.1 2.2-1.2 2.2 2.1 2.1-.2 2.2-.9 2.2 1.9 2.2-1.1 2.2-1.1 2.2-.1 2.2-.2 2.2 .1 2.2 1.5 2.1-1.5 2.2 .6 2.2-1 2.2 .5 2.2-.1 2.2 1.5 2.2-1.6 2.2 1.1 2.2-.8 2.1 1.1 2.2-.3 2.2 .1 2.2-1.9 2.2 .9 2.2 1 2.2 0 2.2-1 2.1 .8 2.2-1.3 2.2 1.6 2.2-1.1 2.2-.3 2.2-.4 2.2 .9 2.2 1.1 2.2 .1 2.1-.7 2.2 .4 2.2-.8 2.2 0 2.2 .3 2.2-2.7 2.2 2.1 2.2-.1 2.2 .7 2.1-1.6 2.2 .3 2.2 0 2.2 .4 2.2-.7 2.2 1.1 2.2-1.6 2.2 1.7 2.2-1.2 2.1 .2 2.2 .9 2.2-1.5 2.2 1.6 2.2-2.2 2.2 .6 2.2 1.9 2.2-.2 2.1-.7 2.2-.3 2.2-1.2 2.2 .1 2.2 .9 2.2 .4 2.2 1 2.2-.7 2.2 1.2 2.1 1.1 2.2-.6 2.2-1.1 2.2-1.3 2.2 2.1 2.2-1.5 2.2 .8 2.2-2 2.2 1.2 2.1 .5 2.2-.8 2.2 1.7 2.2 .8 2.2-2.6 2.2 1.6 2.2-1.4 2.2-1 2.2 1.8 2.1-.5 2.2 1.8 2.2-2.1 2.2-.7 2.2-1.2 2.2 1.1 2.2 .7 2.2 1.4 2.1-1.2 2.2 1.3 2.2-2.5 2.2 3.3 2.2-3.3 2.2 .7 2.2 1.8 2.2-1 2.2 .5 2.1-.1 2.2-.7 2.2-1.2 2.2-.9 2.2 1.4 2.2-.2 2.2 1.1 2.2 1.1 2.2-.6 2.1-.6 2.2 1 2.2-.8 2.2 .1 2.2 .2 2.2 1 2.2-.5 2.2 .1 2.2 .5 2.1 .3 2.2-1.5 2.2-1.1 2.2 .4 2.2 .2 2.2-.1 2.2 .1 2.2-.5 2.1-.1 2.2 1.1 2.2 3 2.2-3.3 2.2 .7 2.2-1.8 2.2-.3 2.2-3.4 2.2 .3 2.1 2.6 2.2 1.6 2.2 .7 2.2-.6 2.2 .9 2.2-.7 2.2-1 2.2 2.9 2.2-2.9 2.1-.1 2.2 .8 2.2 1.3 2.2 .9 2.2-.9 2.2-1.4 2.2 2.2 2.2-2.2 2.2 2.3 2.1-1.1 2.2-1.1 2.2-.2 2.2 .3 2.2-.5 2.2 1 2.2 0 2.2 0 2.1 .9 2.2-.3 2.2 1 2.2-1.2 2.2-.3 2.2-.7 2.2 .6 2.2-1.3 2.2 2.4 2.1 .6 2.2-2.8 2.2 .7 2.2 .5 2.2 .1 2.2-1.4 2.2 1.2 2.2 1.2 2.2-.8 2.1 1.1 2.2-2.2 2.2 1.8 2.2-1.7 2.2-.8 2.2-1 2.2 2.4 2.2 .7 2.1-1.9 2.2 .7 2.2-2.4 2.2-.3 2.2-.1 2.2 .9 2.2 1.4 2.2 3.3 2.2-2.7 2.1-.3 2.2 2.8 2.2-3.1 2.2 1.3 2.2 1.2 2.2-1.4 2.2-.5 2.2-.5 2.2-.8 2.1 1.5 2.2-.1 2.2 2 2.2-1.8 2.2 .2 2.2-1.4 2.2 1.7 2.2-1.2 2.2-.1 2.1 2.5 2.2-1.8 2.2-.2 2.2-2.9 2.2 2.8 2.2 .4 2.2 .6 2.2-1.1 2.1-.1 2.2-1.4 2.2 .6 2.2 3.7 2.2-1.8 2.2-1.8 2.2 2.3 2.2-1.1 2.2-.5 2.1-.5 2.2-.5 2.2 3.2 2.2-4.1 2.2 2.5 2.2-.2 2.2-.4 2.2-1.2 2.2 1.6 2.1-.3 2.2 1.4 2.2-1.9 2.2 .4 2.2-1.8 2.2 2.8 2.2 .4 2.2-.1 2.2-.8 2.1-.2 2.2-.1 2.2-.1 2.2 1 2.2-.9 2.2 .1 2.2 0 2.2 .1 2.1 1 2.2 .5 2.2 0 2.2 .5 2.2-1.5 2.2-.1 2.2 1 2.2-.4 2.2-2.3 2.1 .6 2.2 1 2.2 .8 2.2 .6 2.2 .2 2.2-1.3 2.2 .3 2.2-2.5 2.2 2.2 2.1-.9 2.2-.4 2.2 1.7 2.2-.7 2.2-1.1 2.2 1.4 2.2 .3 2.2 .8 2.2-1.7 2.1-.2 2.2 .3 2.2 .4 2.2-.3 2.2-.3 2.2 .2 2.2 .9 2.2-1 2.1-.6 2.2 .6 2.2 .8 2.2-1.6 2.2 1 2.2-1.3 2.2 2.9 2.2-3.6 2.2 3.5 2.1-1.1 2.2-1.4 2.2 1 2.2 2 2.2-1.3 2.2-.4 2.2 .6 2.2-.5 2.2 .9 2.1-1.3 2.2-1 2.2 2.1 2.2-1.4 2.2 0 2.2 .5 2.2-1 2.2 1.5 2.2-.9 2.1 1.3 2.2-.3 2.2 .4 2.2-1 2.2 .8 2.2-1.3 2.2-.3 2.2 1.6 2.1-2 2.2 2 2.2-.7 2.2-.7 2.2 .8 2.2 .7 2.2 .5 2.2-2.5 2.2 2.4 2.1-2 2.2 .1 2.2-.7 2.2 1.8 2.2 .5 2.2-2 2.2-.4 2.2-.1 2.2 0 2.1 .2 2.2 .8 2.2 1.6 2.2-.4 2.2-1.2 2.2-.8 2.2-1.9 2.2 3.6 2.1 .3 2.2 .8 2.2-1 2.2 .5 2.2-.3 2.2-.6 2.2 .8 2.2-.8 2.2-.7 2.1-.3 2.2 1.4 2.2-1.8 2.2 1.7 2.2-.6 2.2-1.5 2.2 2.3 2.2-1.1 2.2 .4 2.1-.2 2.2 .2 2.2-1.6 2.2 1.1 2.2-1.3 2.2 .2 2.2 3 2.2-2 2.2-1.1 2.1 1.4 2.2-.5 2.2 .6 2.2 1.5 2.2-2.2 2.2-.6 2.2 2.4 2.2-1.5 2.1 1 2.2-1.4 2.2 .5 2.2-.1 2.2 1.2 2.2 .1 2.2 .5 2.2-.4 2.2-1.6 2.1 2.5 2.2-1.4 2.2-.1 2.2-1.1 2.2-.3 2.2-.6 2.2 1.9 2.2-2.1 2.2 1.2 2.1-.9 2.2 .7 2.2 .2 2.2 .9 2.2-1 2.2 .9 2.2-.3 2.2-1.3 2.2 1.4 2.1-.8 2.2 .8 2.2 .8 2.2-1.6 2.2 .8 2.2 .6 2.2 0 2.2-.8 2.1 .8 2.2-.8 2.2 .2 2.2-.8 2.2 .5 2.2-.1 2.2-.2 2.2-1.9 2.2 2.6 2.1-.4 2.2-.7 2.2-.8 2.2 2 2.2 .2 2.2-2.6 2.2 1.1 2.2 .1 2.2-.8 2.1 2.9 2.2-1.5 2.2-.9 2.2-.6 2.2 .1 2.2 .8 2.2-.4 2.2 1.5 2.2-2.3 2.1 1.5 2.2-1.2 2.2-.7 2.2 1.4 2.2-.1 2.2-1.4 2.2-.4 2.2 1 2.1 .3 2.2-.6 2.2-.1 2.2-.4 2.2-1.2 2.2 3.3 2.2-1.1 2.2-.2 2.2 .2 2.1-.8 2.2 1.5 2.2-1.8 2.2 .1 2.2 0 2.2 1.3 2.2 .6 2.2-2.7 2.2-.7 2.1 1.3 2.2 .8 2.2 .4 2.2-1.6 2.2 1.3 2.2-1.6 2.2 .4 2.2 .7 2.2-1.1 2.1 .6 2.2-1.9 2.2 .5 2.2 3.3 2.2-2.9 2.2 .8 2.2-.5 2.2-.8 2.1 .3 2.2 0 2.2 1 2.2-2.2 2.2 1.1 2.2-.6 2.2 1.3 2.2-.7 2.2-.9 2.1-.1 2.2-.3 2.2 .7 2.2-.5 2.2 .1 2.2-1.2 2.2-.6 2.2 1.5 2.2-1.2 2.1 .2 2.2-.6 2.2 1.9 2.2-4.3 2.2 .8 2.2-.9 2.2-1.9 2.2 1.9 2.2-.2 2.1-1.2 2.2-1.2 2.2-.7 2.2 .3 2.2-2.2 2.2-1 2.2-.4 2.2 0 2.1-1.5 2.2 .4 2.2-4.1 2.2-.3 2.2-.2 2.2 .4 2.2-2.2 2.2-3.4 2.2 .4 2.1-1.3 2.2-2.1 2.2-.8 2.2-1.2 2.2-.1 2.2-2.2 2.2-1 2.2 .8 2.2-.7 2.1-3 2.2 .1 2.2 .4 2.2-2.1 2.2-.2 2.2 .8 2.2-.4 2.2-.4 2.1 1.3 2.2-.5 2.2-.2 2.2 2.2 2.2 1.9 2.2 1.9 2.2-.8 2.2 1.2 2.2 .2 2.1 2.2 2.2 .8 2.2-1 2.2 .6 2.2 4.2 2.2-1.5 2.2 1.4 2.2 .8 2.2 1.3 2.1-.1 2.2-.3 2.2 2 2.2 1.4 2.2 .1 2.2 2 2.2 .5 2.2-.5 2.2 .8 2.1-.3 2.2 .7 2.2 3 2.2-1.2 2.2 .1 2.2-.6 2.2-.1 2.2 1.1 2.1 .5 2.2-.2 2.2 1.8 2.2-1 2.2 .1 2.2-.7 2.2 2.2 2.2-.9 2.2 1.2 2.1 1.2 2.2-.9 2.2 3 2.2-2.5 2.2-.1 2.2-2.9 2.2 2.2 2.2-.6 2.2 1.3 2.1 .9 2.2-1 2.2-.2 2.2 .2 2.2 .7 2.2 1.3 2.2-1.7 2.2-.2 2.2-1.4 2.1 1.4 2.2-1 2.2-.8 2.2-.9 2.2-1.9 2.2 1.4 2.2 .7 2.2 2 2.1 1.6 2.2 .5 2.2-1.7 2.2 0 2.2 3.4 2.2-2.2 2.2 2.4 2.2-1.3 2.2 .4 2.1 3.4 2.2 .7 2.2 .7 2.2 0 2.2-1.5 2.2 0 2.2 3.1 2.2 .3 2.2-1.4 2.1 .3 2.2 .7 2.2-1 2.2-.4 2.2-.2 2.2-.1 2.2 .1 2.2 .9 2.2 .6 2.1-.7 2.2 .6 2.2 1.2 2.2 1 2.2-1.1 2.2-1.3 2.2-.2 2.2 .7 2.1 1.8 2.2-3.8 2.2-.3 2.2 1.5 2.2 .4 2.2-.1 2.2 .8 2.2-1.8 2.2 1 2.1-.5 2.2 1.1 2.2-.4 2.2 0 2.2-.3 2.2-.4 2.2 1.7 2.2-1.5 2.2-.5 2.1 1.8 2.2-.8 2.2 .2 2.2-.2 2.2-.6 2.2 1.1 2.2-.4 2.2 1.2 2.2-.7 2.1-1.9 2.2 2.2 2.2 0 2.2-.8 2.2 .8 2.2-.5 2.2-3.4 2.2 4 2.1-.4 2.2-.9 2.2 0 2.2 1.3 2.2-.9 2.2-.7 2.2 1.1 2.2-1.4 2.2 .4 2.1 1.1 2.2 0 2.2-.1 2.2-.5 2.2 1.4 2.2-1.7 2.2 1 2.2-1.6 2.2 .8 2.1 2.3 2.2-.7 2.2 .2 2.2 .1 2.2-.8 2.2-1.4 2.2 1 2.2-1.4 2.1 3 2.2-3 2.2 1.7 2.2-.5 2.2-.4 2.2 1.2 2.2-1.5 2.2 .8 2.2-.1 2.1 0 2.2 .3 2.2-1.8 2.2-1.5 2.2 2.2 2.2 .6 2.2 .6 2.2-.1 2.2 .4 2.1 .5 2.2-2.1 2.2 2.4 2.2-.6 2.2 .4 2.2-1.3 2.2 1.3 2.2 0 2.2-2.2 2.1 .2 2.2 .2 2.2 .5 2.2-.1 2.2 2.3 2.2-.8 2.2 .4 2.2-.4 2.1-.4 2.2 .7 2.2-.4 2.2 0 2.2 .4 2.2-.7 2.2-.3 2.2 1.1 2.2 .4 2.1 0 2.2 .7 2.2-.4 2.2-2.3 2.2-.1 2.2-.1 2.2 .7 2.2 .5 2.2 .4 2.1-.8 2.2 .2 2.2 1.2 2.2-.7 2.2-.1 2.2 .2 2.2-.7 2.2-.3 2.2 0 2.1 0 2.2-1.2 2.2 3.4 2.2-.8 2.2-.8 2.2 .9 2.2-1.9 2.2 1.7 2.1-2.7 2.2 1.8 2.2 1.6 2.2-1.5 2.2 .6 2.2 .3 2.2-.9 2.2 .9 2.2-1.5 2.1 1 2.2 0 2.2 0 1.1-.4"/>
<path stroke="#22697E" d="M314.6 2688.1l2.2-.9 2.2 1.1 2.2-1 2.2-1.8 2.2 1.6 2.2 1.7 2.2-2 2.2-.9 2.1 2 2.2 .3 2.2-1.4 2.2 2.5 2.2-.9 2.2-2.1 2.2 .4 2.2 1.6 2.2-.6 2.1 0 2.2-1 2.2 1.4 2.2-.4 2.2 .1 2.2 1.8 2.2-.4 2.2 .6 2.1-1.3 2.2-1.1 2.2-.2 2.2 .7 2.2 1.1 2.2 .5 2.2-.4 2.2 .7 2.2 .1 2.1-2.2 2.2-.7 2.2 .8 2.2-.8 2.2 .7 2.2 1 2.2-.6 2.2-1 2.2 .6 2.1 1.3 2.2-.2 2.2-1.2 2.2-.7 2.2 1.4 2.2-.5 2.2-.8 2.2 1.6 2.2-1.5 2.1-.1 2.2 1 2.2 .9 2.2-1.8 2.2-.1 2.2 .9 2.2 .6 2.2-.8 2.1 .7 2.2-.9 2.2 .3 2.2 .9 2.2-1.5 2.2 2 2.2-.4 2.2-.3 2.2-.4 2.1 1.5 2.2-.2 2.2-.4 2.2-.3 2.2-.1 2.2-1.9 2.2 .9 2.2 .3 2.2 1.9 2.1-2.2 2.2-.6 2.2 1.8 2.2 1 2.2-3.5 2.2 1.3 2.2-.2 2.2 .2 2.2 2.1 2.1-2.6 2.2-.3 2.2-.8 2.2 2.1 2.2-2.4 2.2 1.6 2.2-1 2.2 2.8 2.1-1.3 2.2-.4 2.2 1.6 2.2-.9 2.2-.3 2.2-.6 2.2-.5 2.2 1 2.2 .4 2.1-.6 2.2-.4 2.2 2.4 2.2-1.6 2.2-.5 2.2 1.8 2.2-1.7 2.2 1.3 2.2 .1 2.1-1.2 2.2 .7 2.2 .4 2.2-.6 2.2-.8 2.2 2 2.2-.7 2.2-.8 2.1-.9 2.2 .3 2.2 1.6 2.2-.5 2.2-.9 2.2-.1 2.2 .2 2.2 1.1 2.2-.9 2.1 1.1 2.2-1 2.2-.4 2.2 1 2.2-1 2.2-1.2 2.2 1.6 2.2 .5 2.2 .4 2.1-1.9 2.2 1.1 2.2-.1 2.2 .9 2.2-2.1 2.2 1.4 2.2-2.2 2.2 2.7 2.2-2.8 2.1-.1 2.2 2 2.2-1.2 2.2 0 2.2-1.2 2.2 .5 2.2 2.5 2.2 0 2.1 .1 2.2-1 2.2-.5 2.2 .9 2.2-.8 2.2 1 2.2 .5 2.2 .1 2.2-.4 2.1 .5 2.2-.3 2.2-1.3 2.2-.3 2.2 2.5 2.2-.5 2.2-.3 2.2-3.1 2.2 1.8 2.1 .7 2.2-1 2.2 .7 2.2 .5 2.2-2.1 2.2 2.6 2.2-.6 2.2-.9 2.2 .9 2.1-.3 2.2 .6 2.2-2.3 2.2-.2 2.2-1.7 2.2 2.1 2.2 1.5 2.2 .6 2.1-.7 2.2 .6 2.2-2 2.2 2.2 2.2-1 2.2-1 2.2 1.6 2.2-.3 2.2-1.2 2.1 1.3 2.2-1.9 2.2 .4 2.2 .7 2.2-1 2.2 1 2.2 .8 2.2 1.8 2.2-.9 2.1-.4 2.2 .6 2.2-1.6 2.2 1.1 2.2 1.1 2.2-1.7 2.2-.6 2.2 2.1 2.2-.1 2.1-.5 2.2-1 2.2-1.7 2.2 1.1 2.2-.6 2.2 1.4 2.2 .2 2.2-1.9 2.1 .6 2.2 1.1 2.2 1.9 2.2-2.5 2.2 1.9 2.2-3.9 2.2 1.1 2.2-4.2 2.2 .6 2.1 2.9 2.2 1.1 2.2 1.8 2.2-1.9 2.2 1.1 2.2-.2 2.2-1.6 2.2 2.9 2.2-1.8 2.1-1.8 2.2 2.6 2.2 .4 2.2 1.1 2.2-.7 2.2-.9 2.2 1.5 2.2-1.8 2.2 1.9 2.1-.5 2.2-1.4 2.2 .5 2.2-1.9 2.2 1.2 2.2 1.2 2.2 1.1 2.2-1.5 2.1-1.2 2.2 1.2 2.2-.3 2.2 .3 2.2-.1 2.2-.4 2.2 .6 2.2-.5 2.2 .4 2.1 1.9 2.2-3.4 2.2 .5 2.2 .1 2.2 1.9 2.2-2.3 2.2 1 2.2 .3 2.2 .3 2.1 .3 2.2-1.6 2.2 1.4 2.2-1.5 2.2-.4 2.2-1.1 2.2 1.2 2.2 .9 2.1-.5 2.2-1.8 2.2-1.1 2.2 1.8 2.2-.9 2.2 .6 2.2 .6 2.2 3 2.2-2.4 2.1-.4 2.2 1.8 2.2-1.6 2.2 1.5 2.2-.9 2.2 .7 2.2-1.4 2.2 .4 2.2 .2 2.1 .9 2.2-.5 2.2 .8 2.2 .2 2.2-1.3 2.2 .3 2.2 .8 2.2-2.3 2.2 1.8 2.1 .3 2.2-1.5 2.2 .7 2.2-.8 2.2-.5 2.2 1.1 2.2 .5 2.2 .3 2.1-.5 2.2-1.8 2.2 1.6 2.2 1.6 2.2-1.4 2.2-.5 2.2 1.6 2.2 .1 2.2-.9 2.1-1.6 2.2 .3 2.2 2 2.2-4.3 2.2 2.6 2.2 .9 2.2-.4 2.2-1.4 2.2 2.6 2.1-.8 2.2 .9 2.2-2.4 2.2 .9 2.2-.8 2.2 .8 2.2 1.2 2.2 .7 2.2-.5 2.1 .4 2.2-2.2 2.2 1.1 2.2 1 2.2-1 2.2 .7 2.2-.3 2.2-.4 2.1 .4 2.2 .3 2.2 .4 2.2-.2 2.2 .1 2.2-1.9 2.2 2.1 2.2 .3 2.2-1.6 2.1-1.8 2.2 2.1 2.2-.2 2.2 .3 2.2 1.4 2.2-1.3 2.2 .3 2.2-2.4 2.2 1.6 2.1 .3 2.2-1.5 2.2 1.6 2.2-.3 2.2 0 2.2-.1 2.2 1 2.2 .4 2.2-.8 2.1 .3 2.2 .7 2.2 .3 2.2-2.1 2.2 0 2.2 .1 2.2 .2 2.2-.9 2.1 .1 2.2-.2 2.2 1.4 2.2-2.9 2.2 2.5 2.2 .1 2.2 2.4 2.2-3.5 2.2 1.7 2.1-.5 2.2-1.4 2.2 1 2.2 1.2 2.2-.5 2.2-.1 2.2 .5 2.2-1 2.2 1.5 2.1-1.5 2.2 0 2.2 1.3 2.2-2.1 2.2 1.3 2.2 0 2.2-.3 2.2-.3 2.2 1.3 2.1-.1 2.2-2.4 2.2 1.3 2.2-1.1 2.2 .8 2.2-.2 2.2 .2 2.2 .2 2.1-.9 2.2 1.5 2.2 .2 2.2-.3 2.2-.8 2.2 .8 2.2-.8 2.2-.9 2.2 3.9 2.1-2.5 2.2-.6 2.2-1.8 2.2 2.4 2.2 1.3 2.2-2.3 2.2-.6 2.2 .8 2.2-.8 2.1 .7 2.2 .6 2.2 .7 2.2-.2 2.2 .3 2.2-2.6 2.2-1.2 2.2 3.6 2.1-1 2.2 2.8 2.2-2.2 2.2 .6 2.2-.2 2.2-.8 2.2 0 2.2 1.7 2.2-1.5 2.1 0 2.2 .4 2.2-.7 2.2 .9 2.2-1.3 2.2 .4 2.2 1.1 2.2-.9 2.2 1.1 2.1-1.3 2.2 .2 2.2-1.9 2.2 1 2.2-.6 2.2 .7 2.2 1.1 2.2-.5 2.2 .1 2.1 1.2 2.2-2.5 2.2 .6 2.2 2.1 2.2-1.7 2.2-.2 2.2 .9 2.2-.5 2.1 .4 2.2-.9 2.2 .7 2.2-.8 2.2-.6 2.2 1.6 2.2 .7 2.2-.4 2.2-.8 2.1 1 2.2-.9 2.2 1.7 2.2-2 2.2-1.8 2.2 .3 2.2 3.1 2.2-2.8 2.2 1.7 2.1-1.4 2.2 1.4 2.2-.8 2.2 1.1 2.2-.1 2.2-.6 2.2 2.5 2.2-2.8 2.2 1.2 2.1-.8 2.2-.6 2.2 1.5 2.2-.2 2.2-.3 2.2 0 2.2 1 2.2-2.6 2.1 2.5 2.2-1.1 2.2 .6 2.2-.4 2.2 .2 2.2-1.1 2.2-.4 2.2-.6 2.2 2.1 2.1 0 2.2 0 2.2-2.9 2.2 2.9 2.2-1.5 2.2-.9 2.2 1.8 2.2 .6 2.2-2.1 2.1 .8 2.2-.7 2.2 1 2.2-.9 2.2 1.6 2.2-1.6 2.2 0 2.2 .7 2.2-2.4 2.1 2.9 2.2-1.6 2.2 .7 2.2 .9 2.2 .6 2.2-2 2.2-.8 2.2-.2 2.1 .8 2.2 .3 2.2-.1 2.2-.6 2.2-1 2.2 2.5 2.2-1.2 2.2 .9 2.2-1 2.1-1.9 2.2 3 2.2-1 2.2-.7 2.2 .8 2.2-.7 2.2 .6 2.2-1.4 2.2-.1 2.1 1.1 2.2 .1 2.2-.8 2.2-.5 2.2 .6 2.2 .4 2.2-.3 2.2 .1 2.2-.2 2.1-.8 2.2-.2 2.2 .6 2.2 1.9 2.2-2.3 2.2 .5 2.2-.1 2.2 0 2.1-1.4 2.2 .5 2.2 1.3 2.2-1.8 2.2 .9 2.2-1.5 2.2 .8 2.2-.1 2.2-.9 2.1 .9 2.2 0 2.2-.3 2.2-1 2.2 .1 2.2-.9 2.2 .6 2.2 .1 2.2-.4 2.1-.4 2.2-.5 2.2 1.7 2.2-3.4 2.2-.4 2.2 1.8 2.2-2.9 2.2 0 2.2 1.1 2.1-2.1 2.2-.3 2.2-1.4 2.2 0 2.2-1.2 2.2-2.6 2.2 .3 2.2 1.4 2.1-1.9 2.2 .3 2.2-3.8 2.2-.7 2.2 0 2.2-.5 2.2-.8 2.2-3.9 2.2 2.1 2.1-2.4 2.2-1.7 2.2-1.3 2.2-1.2 2.2 .4 2.2-1.9 2.2-3.6 2.2 .3 2.2 .3 2.1-3.5 2.2 1.4 2.2-1 2.2-1.9 2.2-.1 2.2 2 2.2-1.1 2.2-1 2.1 .7 2.2-.5 2.2 .9 2.2 2.3 2.2 1.1 2.2 1.1 2.2-.6 2.2 2 2.2 1.4 2.1 1.3 2.2 1.4 2.2 .5 2.2-.3 2.2 3.4 2.2 .6 2.2 .9 2.2 .2 2.2 2.5 2.1-.1 2.2 .3 2.2 1.8 2.2-.1 2.2 .7 2.2 2 2.2 .8 2.2 1.3 2.2-.6 2.1-.1 2.2 .9 2.2 3.1 2.2-1.5 2.2 .8 2.2-1.4 2.2 2.7 2.2-.9 2.1 .7 2.2 .5 2.2 .1 2.2-.1 2.2 1.1 2.2-1.8 2.2 2.4 2.2 .2 2.2 .6 2.1-.6 2.2 0 2.2 1.8 2.2-1.2 2.2 0 2.2-3 2.2 2.7 2.2 0 2.2 1.3 2.1-1.4 2.2-1.6 2.2 1.4 2.2-1.5 2.2 3.2 2.2-.4 2.2-2.1 2.2 .3 2.2-.7 2.1 .7 2.2-2.2 2.2 .1 2.2-2.6 2.2-2.9 2.2 1.4 2.2 1.7 2.2 1.7 2.1 2.4 2.2 1.1 2.2-.9 2.2-2.1 2.2 4.1 2.2-1.1 2.2 1.2 2.2-1.8 2.2 1.4 2.1 .9 2.2 .9 2.2 1.1 2.2-1.4 2.2 1.3 2.2-1.8 2.2 2.3 2.2 .2 2.2-1.8 2.1 1 2.2-.8 2.2 1.1 2.2-.6 2.2-.3 2.2-1.5 2.2 1.4 2.2 0 2.2 .9 2.1 .1 2.2 .3 2.2 1.1 2.2 2.2 2.2-2.6 2.2-1.7 2.2 2.2 2.2 .3 2.1 1.8 2.2-3.6 2.2 .7 2.2 2.2 2.2-.8 2.2-.8 2.2 1.5 2.2-2.1 2.2 .8 2.1-.4 2.2 .5 2.2-.3 2.2 1.9 2.2-1.5 2.2 1 2.2 .3 2.2-.2 2.2-1.5 2.1 1 2.2 .6 2.2-1.4 2.2 .9 2.2-.8 2.2 .9 2.2 0 2.2 .3 2.2-.5 2.1-.3 2.2 1.2 2.2 1.5 2.2-1 2.2 1.4 2.2-2.5 2.2-1.1 2.2 1.5 2.1 .7 2.2-1.4 2.2 .8 2.2 1.6 2.2-1.6 2.2-.9 2.2 .5 2.2 .4 2.2-.1 2.1-.9 2.2 1.6 2.2-.4 2.2 1 2.2 .6 2.2-1.2 2.2 0 2.2-.8 2.2 0 2.1 2 2.2-.3 2.2 .4 2.2-.1 2.2-.9 2.2-.8 2.2 .8 2.2-2.2 2.1 2.5 2.2-2.8 2.2 2.5 2.2-1.4 2.2 .1 2.2 .9 2.2-.2 2.2-.5 2.2-.5 2.1 1.3 2.2 .6 2.2-2.4 2.2 .1 2.2 1 2.2 0 2.2 .2 2.2 .1 2.2-.3 2.1 1 2.2-1.2 2.2 1.5 2.2-1 2.2 .1 2.2-.3 2.2 .1 2.2 .8 2.2-2 2.1 2.3 2.2-1.3 2.2 .3 2.2 0 2.2 2.3 2.2-1.5 2.2 1.6 2.2-1.5 2.1-.8 2.2 1 2.2 .8 2.2-1.1 2.2-.5 2.2 1.2 2.2-1.2 2.2 2.8 2.2 0 2.1-1.4 2.2-.5 2.2 .3 2.2-1.5 2.2-.3 2.2 1.2 2.2-1.1 2.2 .3 2.2 .3 2.1 1 2.2-.6 2.2 1.7 2.2-.5 2.2-.2 2.2-.3 2.2-.6 2.2-.3 2.2 .7 2.1 .4 2.2-2.3 2.2 2.8 2.2 .1 2.2-1.4 2.2 1 2.2-1.7 2.2 2.3 2.1-2 2.2 .6 2.2 1.9 2.2-1.3 2.2-1.2 2.2 1 2.2-.6 2.2 .1 2.2-1.4 2.1 1.7 2.2-1.8 2.2 1.6 1.1-.3"/>
<path stroke="#C55A11" d="M314.6 2564.8l2.2 0 2.2 1.4 2.2-1.7 2.2-.1 2.2 .6 2.2 .6 2.2-.2 2.2-2 2.1 .4 2.2 2.3 2.2-1.9 2.2 2.7 2.2-2 2.2-.6 2.2-.1 2.2 1.8 2.2-.2 2.1-.9 2.2-.7 2.2 .1 2.2 1 2.2-2 2.2 3.8 2.2-.2 2.2-.6 2.1-.9 2.2-.5 2.2-.8 2.2 .5 2.2 1.5 2.2-.2 2.2-1 2.2 2.6 2.2-1.1 2.1-.8 2.2-1.1 2.2 1.7 2.2-1.2 2.2 0 2.2-1.5 2.2-.2 2.2 0 2.2 .7 2.1 2.6 2.2-.6 2.2-.8 2.2-.1 2.2 .3 2.2-1 2.2-1.6 2.2 2.9 2.2-.9 2.1-.4 2.2 .6 2.2 1.6 2.2-2.3 2.2 1.4 2.2-1.1 2.2-1.5 2.2 2.1 2.1 0 2.2-.1 2.2 .6 2.2 .7 2.2-1.7 2.2 1.8 2.2-1.2 2.2 0 2.2-.8 2.1 1.6 2.2-.5 2.2-1.1 2.2 .6 2.2 3.1 2.2-3 2.2-.8 2.2 .3 2.2 1.7 2.1-1.2 2.2-2.2 2.2 3.2 2.2 0 2.2-2.3 2.2 1.4 2.2-.4 2.2 .3 2.2 .9 2.1-1.5 2.2-.6 2.2-1.7 2.2 1.8 2.2-.3 2.2 1.3 2.2-.4 2.2 .5 2.1-.3 2.2 .5 2.2 1.4 2.2-2.2 2.2 .6 2.2-.3 2.2-1 2.2 .4 2.2 1.5 2.1-1 2.2 .3 2.2-1 2.2 .6 2.2-.2 2.2 1.1 2.2-1.5 2.2 .8 2.2 .3 2.1 .7 2.2 .1 2.2-.2 2.2-.7 2.2-1.8 2.2 2.5 2.2-.7 2.2 .3 2.1-1.4 2.2 .1 2.2 .8 2.2 .2 2.2-1.7 2.2 .1 2.2 .8 2.2 .6 2.2 .1 2.1 .2 2.2-1 2.2 1.1 2.2 .8 2.2-1.4 2.2-2 2.2 2 2.2 .8 2.2-.4 2.1-.9 2.2-.2 2.2 .6 2.2 .8 2.2-1.3 2.2 2.1 2.2-1.8 2.2 .3 2.2-1.2 2.1 .5 2.2 1.3 2.2-2.4 2.2 .3 2.2-.7 2.2-.1 2.2 2.6 2.2-.2 2.1-.4 2.2 .9 2.2-1.6 2.2 .5 2.2-.3 2.2 1.7 2.2-1.3 2.2 1.3 2.2-.2 2.1 .3 2.2-.5 2.2-1.7 2.2-.2 2.2 1.3 2.2 .4 2.2 .3 2.2-3.9 2.2 1.9 2.1 1.3 2.2 0 2.2-.1 2.2 2.3 2.2-2.9 2.2 1.8 2.2-.7 2.2-2 2.2 1.6 2.1 0 2.2 1 2.2-2.9 2.2 1.4 2.2-1.9 2.2 .8 2.2 1 2.2 1.5 2.1 0 2.2-1 2.2-.1 2.2 .7 2.2-1.8 2.2 0 2.2 1.3 2.2 1.6 2.2-2 2.1 .6 2.2-.7 2.2-.9 2.2 .6 2.2-.4 2.2 .8 2.2 .5 2.2 1.2 2.2-.3 2.1 0 2.2 0 2.2-1.8 2.2 .8 2.2-.1 2.2 1.1 2.2-2 2.2 .2 2.2 1.7 2.1 .4 2.2-.9 2.2-2.3 2.2 .8 2.2-.5 2.2 .9 2.2 .8 2.2-.8 2.1 .1 2.2 1.4 2.2 .1 2.2-1 2.2 2.1 2.2-3 2.2 .2 2.2-3.1 2.2 1.5 2.1 1.5 2.2 .3 2.2 1 2.2-1.6 2.2 1.8 2.2-1.1 2.2-.4 2.2 .9 2.2-1.4 2.1-.2 2.2 .6 2.2 1.8 2.2 2 2.2-1.2 2.2-1.9 2.2 1.2 2.2-1.8 2.2 2.9 2.1-2.1 2.2-1.3 2.2 .8 2.2-.2 2.2 .6 2.2 .3 2.2 0 2.2-1.9 2.1 2.4 2.2-.4 2.2 .4 2.2-.6 2.2 .5 2.2-.3 2.2 1 2.2-2.5 2.2 2.6 2.1 .6 2.2-1.7 2.2-.5 2.2 0 2.2 .9 2.2-.5 2.2 1.4 2.2 .4 2.2-1.5 2.1-.2 2.2-1.3 2.2 1 2.2 .1 2.2-1.9 2.2-.7 2.2 2.3 2.2 1.4 2.1-2.1 2.2 .5 2.2-1.3 2.2-.9 2.2-1 2.2 1.6 2.2 1.6 2.2 2.6 2.2-2.6 2.1 .1 2.2 1.7 2.2-1.9 2.2 1.1 2.2 .4 2.2-.1 2.2 0 2.2-3.2 2.2 1.5 2.1-.6 2.2 .2 2.2 1.8 2.2 .5 2.2-1.5 2.2 2.1 2.2-.7 2.2-1.9 2.2 .9 2.1 .5 2.2-1.2 2.2 .3 2.2-.8 2.2-.6 2.2 2.2 2.2-.2 2.2-.4 2.1 .4 2.2-2.2 2.2 1.7 2.2 1.9 2.2-1.9 2.2-.2 2.2 1.1 2.2 .6 2.2-1 2.1-1.4 2.2-.3 2.2 3.1 2.2-2.8 2.2 1.8 2.2 .7 2.2-1.7 2.2-2 2.2 3.8 2.1-1 2.2 1.5 2.2-2.3 2.2 .3 2.2-.3 2.2 .1 2.2 .4 2.2 1.9 2.2-2 2.1 1.5 2.2-1.4 2.2-.8 2.2 1.1 2.2 .6 2.2-2 2.2-.1 2.2 .8 2.1 .6 2.2 1.4 2.2-.4 2.2 .3 2.2-.8 2.2-1 2.2 2.1 2.2-2.4 2.2-.1 2.1-.3 2.2 .6 2.2 1.2 2.2-.8 2.2 .7 2.2-.5 2.2 0 2.2-2.1 2.2 1.9 2.1 .1 2.2-.1 2.2-.2 2.2 .8 2.2-1.3 2.2 .5 2.2 .7 2.2 .4 2.2-1.4 2.1 .8 2.2 1 2.2 .1 2.2-1.8 2.2-.8 2.2 1.5 2.2-.1 2.2-.9 2.1-.2 2.2-1.1 2.2 1.6 2.2-1.1 2.2 1.2 2.2-.4 2.2 1.5 2.2-1.8 2.2 1.8 2.1-.4 2.2-2.1 2.2 1.7 2.2 .9 2.2-.2 2.2-1.4 2.2 1.1 2.2-.5 2.2 1.4 2.1-.6 2.2-.1 2.2 .8 2.2-2.2 2.2 .9 2.2-.4 2.2 0 2.2 .5 2.2-1.2 2.1 1.1 2.2-.4 2.2 1 2.2-1.3 2.2 .2 2.2-.7 2.2-.2 2.2 1.4 2.1-.7 2.2 .7 2.2 .7 2.2-.9 2.2 .3 2.2 1 2.2-2.1 2.2-.7 2.2 2.2 2.1-1.5 2.2 .5 2.2-1.7 2.2 2.4 2.2 .1 2.2-2.4 2.2-.1 2.2 1.3 2.2-1 2.1 .8 2.2 .5 2.2 1 2.2 .1 2.2-.6 2.2-1.7 2.2-1.3 2.2 1.4 2.1 .5 2.2 3.6 2.2-2.2 2.2 .1 2.2-.2 2.2-.1 2.2 .1 2.2 .5 2.2-2 2.1 1 2.2 .2 2.2-1.3 2.2 1.7 2.2-.7 2.2-.6 2.2 1.2 2.2-.2 2.2 .1 2.1-.4 2.2-.3 2.2-1.1 2.2 .7 2.2-1.9 2.2 1.6 2.2 2 2.2-.4 2.2-1.9 2.1 .5 2.2 1 2.2-.6 2.2 1.8 2.2-2.5 2.2-.1 2.2 1.1 2.2-.1 2.1-.9 2.2 .3 2.2 .6 2.2-.3 2.2 1 2.2-.3 2.2 1.8 2.2-2.7 2.2-.9 2.1 2 2.2-.8 2.2 .5 2.2-.5 2.2-2.3 2.2 1.3 2.2 1.6 2.2-1.5 2.2 .5 2.1-1.2 2.2 2.1 2.2-1.2 2.2 1.1 2.2-.1 2.2-1.3 2.2 3.1 2.2-3.9 2.2 1.8 2.1-1.1 2.2-.7 2.2 2.8 2.2-1.4 2.2 .6 2.2 .5 2.2-.6 2.2-1.2 2.1 1.7 2.2-1.6 2.2 1 2.2-.5 2.2-.7 2.2 1.1 2.2-1.4 2.2-1.2 2.2 2 2.1-.7 2.2 .5 2.2-2.5 2.2 2.5 2.2 1.7 2.2-2.5 2.2 .9 2.2 .1 2.2-1 2.1 1.5 2.2-.6 2.2-.7 2.2-.3 2.2 .7 2.2 .6 2.2-1.3 2.2 1.5 2.2-2.5 2.1 1.7 2.2-1.2 2.2-.6 2.2 1.5 2.2 .3 2.2-.7 2.2-1.2 2.2 .7 2.1-1.1 2.2 1.4 2.2-1 2.2 .1 2.2-1.6 2.2 2.9 2.2-.6 2.2 .6 2.2-1 2.1-1.7 2.2 1.6 2.2-.8 2.2 0 2.2 .8 2.2 .1 2.2 1.5 2.2-2.4 2.2-1.2 2.1 1.4 2.2 .4 2.2-1.5 2.2-.7 2.2 .6 2.2-.2 2.2 .4 2.2 .5 2.2-1.1 2.1 1.1 2.2-2.1 2.2 1.2 2.2 2 2.2-1.2 2.2 1.1 2.2-1.2 2.2-.6 2.1 1 2.2-1.6 2.2 .7 2.2-1.2 2.2-.1 2.2-.4 2.2 .5 2.2 .4 2.2 0 2.1-1.4 2.2-.3 2.2 1 2.2-2.3 2.2 1.3 2.2-.4 2.2-.6 2.2 .1 2.2 .8 2.1-.7 2.2-.1 2.2 .9 2.2-2.6 2.2 .5 2.2-.3 2.2-.8 2.2-1.2 2.2 .7 2.1 .1 2.2-3.4 2.2 1.7 2.2-2.2 2.2-.3 2.2-1.6 2.2-1.1 2.2 1.5 2.1-2.5 2.2-.4 2.2-3.7 2.2-.6 2.2 1.2 2.2-2.8 2.2-1.4 2.2-3 2.2 3.1 2.1-2.7 2.2-2.9 2.2-1.1 2.2-1.3 2.2-.2 2.2-2.4 2.2-2.4 2.2 .4 2.2-.2 2.1-4.2 2.2 .5 2.2-.6 2.2-.9 2.2 .4 2.2 1.4 2.2-3 2.2 .2 2.1 1.7 2.2 .2 2.2 .6 2.2 2 2.2 2.1 2.2 1.4 2.2 .6 2.2 1.7 2.2 .4 2.1 2.3 2.2 1.5 2.2 .2 2.2-.1 2.2 4.6 2.2-.4 2.2 2.1 2.2 .6 2.2 1.4 2.1-.8 2.2 .2 2.2 1.8 2.2 2.4 2.2-1.1 2.2 1 2.2 2.7 2.2-1.3 2.2 1.1 2.1 1.6 2.2-1.6 2.2 3.3 2.2-2.1 2.2 .4 2.2-.8 2.2 1.8 2.2-.5 2.1 .6 2.2 .1 2.2-.1 2.2 .3 2.2 1.8 2.2-1.2 2.2 2 2.2 0 2.2-.6 2.1 1.8 2.2-.7 2.2 1.7 2.2-1.1 2.2-.9 2.2-1.9 2.2 1.5 2.2-.1 2.2-.4 2.1 1.4 2.2-.9 2.2 .4 2.2-.3 2.2 1.3 2.2 .8 2.2-4.2 2.2 1.8 2.2-.3 2.1-1.3 2.2 .2 2.2-1.8 2.2-.1 2.2-3.8 2.2 2.7 2.2-.4 2.2 2 2.1 2.5 2.2 .3 2.2-.9 2.2-.1 2.2 3.2 2.2-.3 2.2 .2 2.2 .4 2.2-.4 2.1 3 2.2-.5 2.2 1.2 2.2-.4 2.2-1 2.2 .2 2.2 3.1 2.2-.3 2.2-1.5 2.1 .3 2.2 .6 2.2 .1 2.2-.5 2.2 .5 2.2-2.8 2.2 0 2.2 1.1 2.2 1.8 2.1-1.3 2.2 1.2 2.2 .2 2.2 2.4 2.2-1.3 2.2-2.2 2.2 1.1 2.2 1.4 2.1-.2 2.2-2.2 2.2 .1 2.2 2.5 2.2-1.1 2.2 .1 2.2 .5 2.2-2 2.2 1.2 2.1-.5 2.2 1.7 2.2-2 2.2 2.8 2.2-1.6 2.2-.1 2.2 1 2.2-.8 2.2-1.2 2.1 1.1 2.2 .5 2.2-.7 2.2 .6 2.2 .3 2.2-.2 2.2-.6 2.2 1.9 2.2-1.1 2.1-1.3 2.2 2.4 2.2-.6 2.2-1.1 2.2 2 2.2-.4 2.2-2.9 2.2 2.6 2.1-.3 2.2-.3 2.2-1.4 2.2 2.1 2.2-.7 2.2-1.6 2.2 2.4 2.2-2 2.2 .7 2.1 .1 2.2 0 2.2-.4 2.2 1.2 2.2 .7 2.2-1.1 2.2 2 2.2-1.8 2.2-.8 2.1 3.2 2.2-.3 2.2-.6 2.2 .2 2.2-1 2.2-1.1 2.2 1.4 2.2-1.8 2.1 2.3 2.2-2.6 2.2 .7 2.2-.6 2.2 .6 2.2 1.3 2.2-.9 2.2 1.2 2.2-1.5 2.1 .9 2.2 .7 2.2-2.5 2.2-.9 2.2 2.1 2.2-.1 2.2 .1 2.2 .5 2.2-.8 2.1 1.2 2.2-1.6 2.2 2.2 2.2-1.3 2.2 .6 2.2-1.1 2.2 1.3 2.2-1.4 2.2-1.1 2.1 .9 2.2 1.1 2.2-.2 2.2-.5 2.2 1 2.2 .6 2.2-.8 2.2-.1 2.1-.5 2.2 .1 2.2 1.1 2.2-.6 2.2-.1 2.2-.2 2.2-1 2.2 2.1 2.2 0 2.1-.2 2.2 .1 2.2-.2 2.2-.7 2.2-1.9 2.2 1.6 2.2 .6 2.2-1.4 2.2 .5 2.1 .7 2.2-.4 2.2 1.5 2.2 0 2.2-.2 2.2-1.4 2.2 .8 2.2-.2 2.2-1.3 2.1 2 2.2-1.4 2.2 2.1 2.2-.1 2.2-.9 2.2 .8 2.2-1.2 2.2 1.9 2.1-1.6 2.2 .7 2.2 1.3 2.2-1.1 2.2-2.3 2.2 1.7 2.2 .3 2.2-1 2.2 .1 2.1-.5 2.2-.2 2.2-.6 1.1 1.3"/>
</g>
</g>
<g id="labels"><text x="914.8" y="85.4" font-size="70.5" fill="#595959" text-anchor="start" textLength="490.0" lengthAdjust="spacingAndGlyphs">LiBH4 (heating)</text>
<text x="963.5" y="2250.0" font-size="70.5" fill="#595959" text-anchor="start" textLength="474.0" lengthAdjust="spacingAndGlyphs">LiBH4 (cooling)</text>
<text x="194.7" y="1783.0" font-size="56.0" fill="#595959" text-anchor="start" textLength="30.5" lengthAdjust="spacingAndGlyphs">0</text>
<text x="105.2" y="1517.0" font-size="56.0" fill="#595959" text-anchor="start" textLength="120.0" lengthAdjust="spacingAndGlyphs">1000</text>
<text x="105.2" y="1250.9" font-size="56.0" fill="#595959" text-anchor="start" textLength="120.0" lengthAdjust="spacingAndGlyphs">2000</text>
<text x="105.2" y="984.9" font-size="56.0" fill="#595959" text-anchor="start" textLength="120.0" lengthAdjust="spacingAndGlyphs">3000</text>
<text x="105.2" y="718.9" font-size="56.0" fill="#595959" text-anchor="start" textLength="120.0" lengthAdjust="spacingAndGlyphs">4000</text>
<text x="105.2" y="452.8" font-size="56.0" fill="#595959" text-anchor="start" textLength="120.0" lengthAdjust="spacingAndGlyphs">5000</text>
<text x="105.2" y="186.8" font-size="56.0" fill="#595959" text-anchor="start" textLength="120.0" lengthAdjust="spacingAndGlyphs">6000</text>
<text x="242.5" y="3938.1" font-size="56.0" fill="#595959" text-anchor="start" textLength="30.5" lengthAdjust="spacingAndGlyphs">0</text>
<text x="153.0" y="3739.7" font-size="56.0" fill="#595959" text-anchor="start" textLength="120.0" lengthAdjust="spacingAndGlyphs">1000</text>
<text x="153.0" y="3541.3" font-size="56.0" fill="#595959" text-anchor="start" textLength="120.0" lengthAdjust="spacingAndGlyphs">2000</text>
<text x="153.0" y="3343.0" font-size="56.0" fill="#595959" text-anchor="start" textLength="120.0" lengthAdjust="spacingAndGlyphs">3000</text>
<text x="153.0" y="3144.6" font-size="56.0" fill="#595959" text-anchor="start" textLength="120.0" lengthAdjust="spacingAndGlyphs">4000</text>
<text x="153.0" y="2946.2" font-size="56.0" fill="#595959" text-anchor="start" textLength="120.0" lengthAdjust="spacingAndGlyphs">5000</text>
<text x="153.0" y="2747.8" font-size="56.0" fill="#595959" text-anchor="start" textLength="120.0" lengthAdjust="spacingAndGlyphs">6000</text>
<text x="153.0" y="2549.5" font-size="56.0" fill="#595959" text-anchor="start" textLength="120.0" lengthAdjust="spacingAndGlyphs">7000</text>
<text x="153.0" y="2351.1" font-size="56.0" fill="#595959" text-anchor="start" textLength="120.0" lengthAdjust="spacingAndGlyphs">8000</text>
<text x="217.8" y="1858.2" font-size="56.0" fill="#595959" text-anchor="start" textLength="120.0" lengthAdjust="spacingAndGlyphs">1000</text>
<text x="264.4" y="4013.7" font-size="56.0" fill="#595959" text-anchor="start" textLength="120.0" lengthAdjust="spacingAndGlyphs">1000</text>
<text x="438.2" y="1858.2" font-size="56.0" fill="#595959" text-anchor="start" textLength="120.0" lengthAdjust="spacingAndGlyphs">1200</text>
<text x="483.3" y="4013.7" font-size="56.0" fill="#595959" text-anchor="start" textLength="120.0" lengthAdjust="spacingAndGlyphs">1200</text>
<text x="658.6" y="1858.2" font-size="56.0" fill="#595959" text-anchor="start" textLength="120.0" lengthAdjust="spacingAndGlyphs">1400</text>
<text x="702.1" y="4013.7" font-size="56.0" fill="#595959" text-anchor="start" textLength="120.0" lengthAdjust="spacingAndGlyphs">1400</text>
<text x="879.1" y="1858.2" font-size="56.0" fill="#595959" text-anchor="start" textLength="120.0" lengthAdjust="spacingAndGlyphs">1600</text>
<text x="921.0" y="4013.7" font-size="56.0" fill="#595959" text-anchor="start" textLength="120.0" lengthAdjust="spacingAndGlyphs">1600</text>
<text x="1099.5" y="1858.2" font-size="56.0" fill="#595959" text-anchor="start" textLength="120.0" lengthAdjust="spacingAndGlyphs">1800</text>
<text x="1139.8" y="4013.7" font-size="56.0" fill="#595959" text-anchor="start" textLength="120.0" lengthAdjust="spacingAndGlyphs">1800</text>
<text x="1319.9" y="1858.2" font-size="56.0" fill="#595959" text-anchor="start" textLength="120.0" lengthAdjust="spacingAndGlyphs">2000</text>
<text x="1358.7" y="4013.7" font-size="56.0" fill="#595959" text-anchor="start" textLength="120.0" lengthAdjust="spacingAndGlyphs">2000</text>
<text x="1540.3" y="1858.2" font-size="56.0" fill="#595959" text-anchor="start" textLength="120.0" lengthAdjust="spacingAndGlyphs">2200</text>
<text x="1577.5" y="4013.7" font-size="56.0" fill="#595959" text-anchor="start" textLength="120.0" lengthAdjust="spacingAndGlyphs">2200</text>
<text x="1760.8" y="1858.2" font-size="56.0" fill="#595959" text-anchor="start" textLength="120.0" lengthAdjust="spacingAndGlyphs">2400</text>
<text x="1796.4" y="4013.7" font-size="56.0" fill="#595959" text-anchor="start" textLength="120.0" lengthAdjust="spacingAndGlyphs">2400</text>
<text x="1981.2" y="1858.2" font-size="56.0" fill="#595959" text-anchor="start" textLength="120.0" lengthAdjust="spacingAndGlyphs">2600</text>
<text x="2015.2" y="4013.7" font-size="56.0" fill="#595959" text-anchor="start" textLength="120.0" lengthAdjust="spacingAndGlyphs">2600</text>
<text x="2201.6" y="1858.2" font-size="56.0" fill="#595959" text-anchor="start" textLength="120.0" lengthAdjust="spacingAndGlyphs">2800</text>
<text x="2234.1" y="4013.7" font-size="56.0" fill="#595959" text-anchor="start" textLength="120.0" lengthAdjust="spacingAndGlyphs">2800</text>
<text y="1950.7" font-size="58" fill="#595959"><tspan x="1010.4" textLength="459" lengthAdjust="spacingAndGlyphs">Raman Shift (cm</tspan><tspan x="1467.2" dy="-18" font-size="32" textLength="36.5" lengthAdjust="spacingAndGlyphs">-1</tspan><tspan x="1504.5" dy="18" textLength="24" lengthAdjust="spacingAndGlyphs">)</tspan></text>
<text y="4105.3" font-size="58" fill="#595959"><tspan x="1049.4" textLength="459" lengthAdjust="spacingAndGlyphs">Raman Shift (cm</tspan><tspan x="1506.2" dy="-18" font-size="32" textLength="36.5" lengthAdjust="spacingAndGlyphs">-1</tspan><tspan x="1543.5" dy="18" textLength="24" lengthAdjust="spacingAndGlyphs">)</tspan></text>
<text transform="translate(70.5 969.0) rotate(-90)" font-size="59" fill="#595959" text-anchor="middle" textLength="407.5" lengthAdjust="spacingAndGlyphs">Intensity (a.u.)</text>
<text transform="translate(119.2 3128.0) rotate(-90)" font-size="59" fill="#595959" text-anchor="middle" textLength="406.0" lengthAdjust="spacingAndGlyphs">Intensity (a.u.)</text>
<text class="ser" y="2119.2" font-size="93" fill="#000"><tspan x="1128.1">(</tspan><tspan x="1156.4" font-weight="bold" style="font-weight:bold">a</tspan><tspan x="1195.4">)</tspan></text>
<text class="ser" y="4232.4" font-size="93" fill="#000"><tspan x="1123.3">(</tspan><tspan x="1151.0" font-weight="bold" style="font-weight:bold">b</tspan><tspan x="1198.7">)</tspan></text>
<text x="281.9" y="329.6" font-size="61.5" fill="#C55A11" text-anchor="start" textLength="163.5" lengthAdjust="spacingAndGlyphs">150ºC</text>
<text x="287.3" y="464.0" font-size="61.5" fill="#22697E" text-anchor="start" textLength="163.5" lengthAdjust="spacingAndGlyphs">147ºC</text>
<text x="291.4" y="588.7" font-size="61.5" fill="#4B3866" text-anchor="start" textLength="163.5" lengthAdjust="spacingAndGlyphs">144ºC</text>
<text x="297.1" y="725.2" font-size="61.5" fill="#5F7B2D" text-anchor="start" textLength="163.5" lengthAdjust="spacingAndGlyphs">139ºC</text>
<text x="297.1" y="859.9" font-size="61.5" fill="#7B2B2A" text-anchor="start" textLength="163.5" lengthAdjust="spacingAndGlyphs">117ºC</text>
<text x="287.4" y="970.3" font-size="61.5" fill="#44546A" text-anchor="start" textLength="163.5" lengthAdjust="spacingAndGlyphs">113ºC</text>
<text x="287.4" y="1108.7" font-size="61.5" fill="#70AD47" text-anchor="start" textLength="163.5" lengthAdjust="spacingAndGlyphs">111ºC</text>
<text x="281.0" y="1219.5" font-size="61.5" fill="#5B9BD5" text-anchor="start" textLength="163.5" lengthAdjust="spacingAndGlyphs">108ºC</text>
<text x="281.0" y="1365.9" font-size="61.5" fill="#FFC000" text-anchor="start" textLength="163.5" lengthAdjust="spacingAndGlyphs">100ºC</text>
<text x="295.0" y="1484.6" font-size="61.5" fill="#A5A5A5" text-anchor="start" textLength="130.5" lengthAdjust="spacingAndGlyphs">86ºC</text>
<text x="298.6" y="1620.9" font-size="61.5" fill="#ED7D31" text-anchor="start" textLength="130.5" lengthAdjust="spacingAndGlyphs">31ºC</text>
<text x="296.0" y="1725.7" font-size="61.5" fill="#4472C4" text-anchor="start" textLength="130.5" lengthAdjust="spacingAndGlyphs">25ºC</text>
<text x="331.0" y="2544.6" font-size="61.5" fill="#C55A11" text-anchor="start" textLength="163.5" lengthAdjust="spacingAndGlyphs">150ºC</text>
<text x="328.2" y="2678.6" font-size="61.5" fill="#22697E" text-anchor="start" textLength="163.5" lengthAdjust="spacingAndGlyphs">147ºC</text>
<text x="332.1" y="2794.6" font-size="61.5" fill="#4B3866" text-anchor="start" textLength="163.5" lengthAdjust="spacingAndGlyphs">144ºC</text>
<text x="328.2" y="2915.1" font-size="61.5" fill="#5F7B2D" text-anchor="start" textLength="163.5" lengthAdjust="spacingAndGlyphs">139ºC</text>
<text x="332.1" y="3041.9" font-size="61.5" fill="#7B2B2A" text-anchor="start" textLength="163.5" lengthAdjust="spacingAndGlyphs">117ºC</text>
<text x="331.4" y="3153.2" font-size="61.5" fill="#44546A" text-anchor="start" textLength="163.5" lengthAdjust="spacingAndGlyphs">113ºC</text>
<text x="340.8" y="3267.3" font-size="61.5" fill="#70AD47" text-anchor="start" textLength="163.5" lengthAdjust="spacingAndGlyphs">111ºC</text>
<text x="337.4" y="3406.0" font-size="61.5" fill="#5B9BD5" text-anchor="start" textLength="163.5" lengthAdjust="spacingAndGlyphs">108ºC</text>
<text x="337.4" y="3537.4" font-size="61.5" fill="#FFC000" text-anchor="start" textLength="163.5" lengthAdjust="spacingAndGlyphs">100ºC</text>
<text x="345.0" y="3641.2" font-size="61.5" fill="#A5A5A5" text-anchor="start" textLength="130.5" lengthAdjust="spacingAndGlyphs">86ºC</text>
<text x="355.4" y="3780.2" font-size="61.5" fill="#ED7D31" text-anchor="start" textLength="130.5" lengthAdjust="spacingAndGlyphs">31ºC</text>
<text x="349.4" y="3885.8" font-size="61.5" fill="#4472C4" text-anchor="start" textLength="130.5" lengthAdjust="spacingAndGlyphs">25ºC</text></g>
</svg></body></html>
